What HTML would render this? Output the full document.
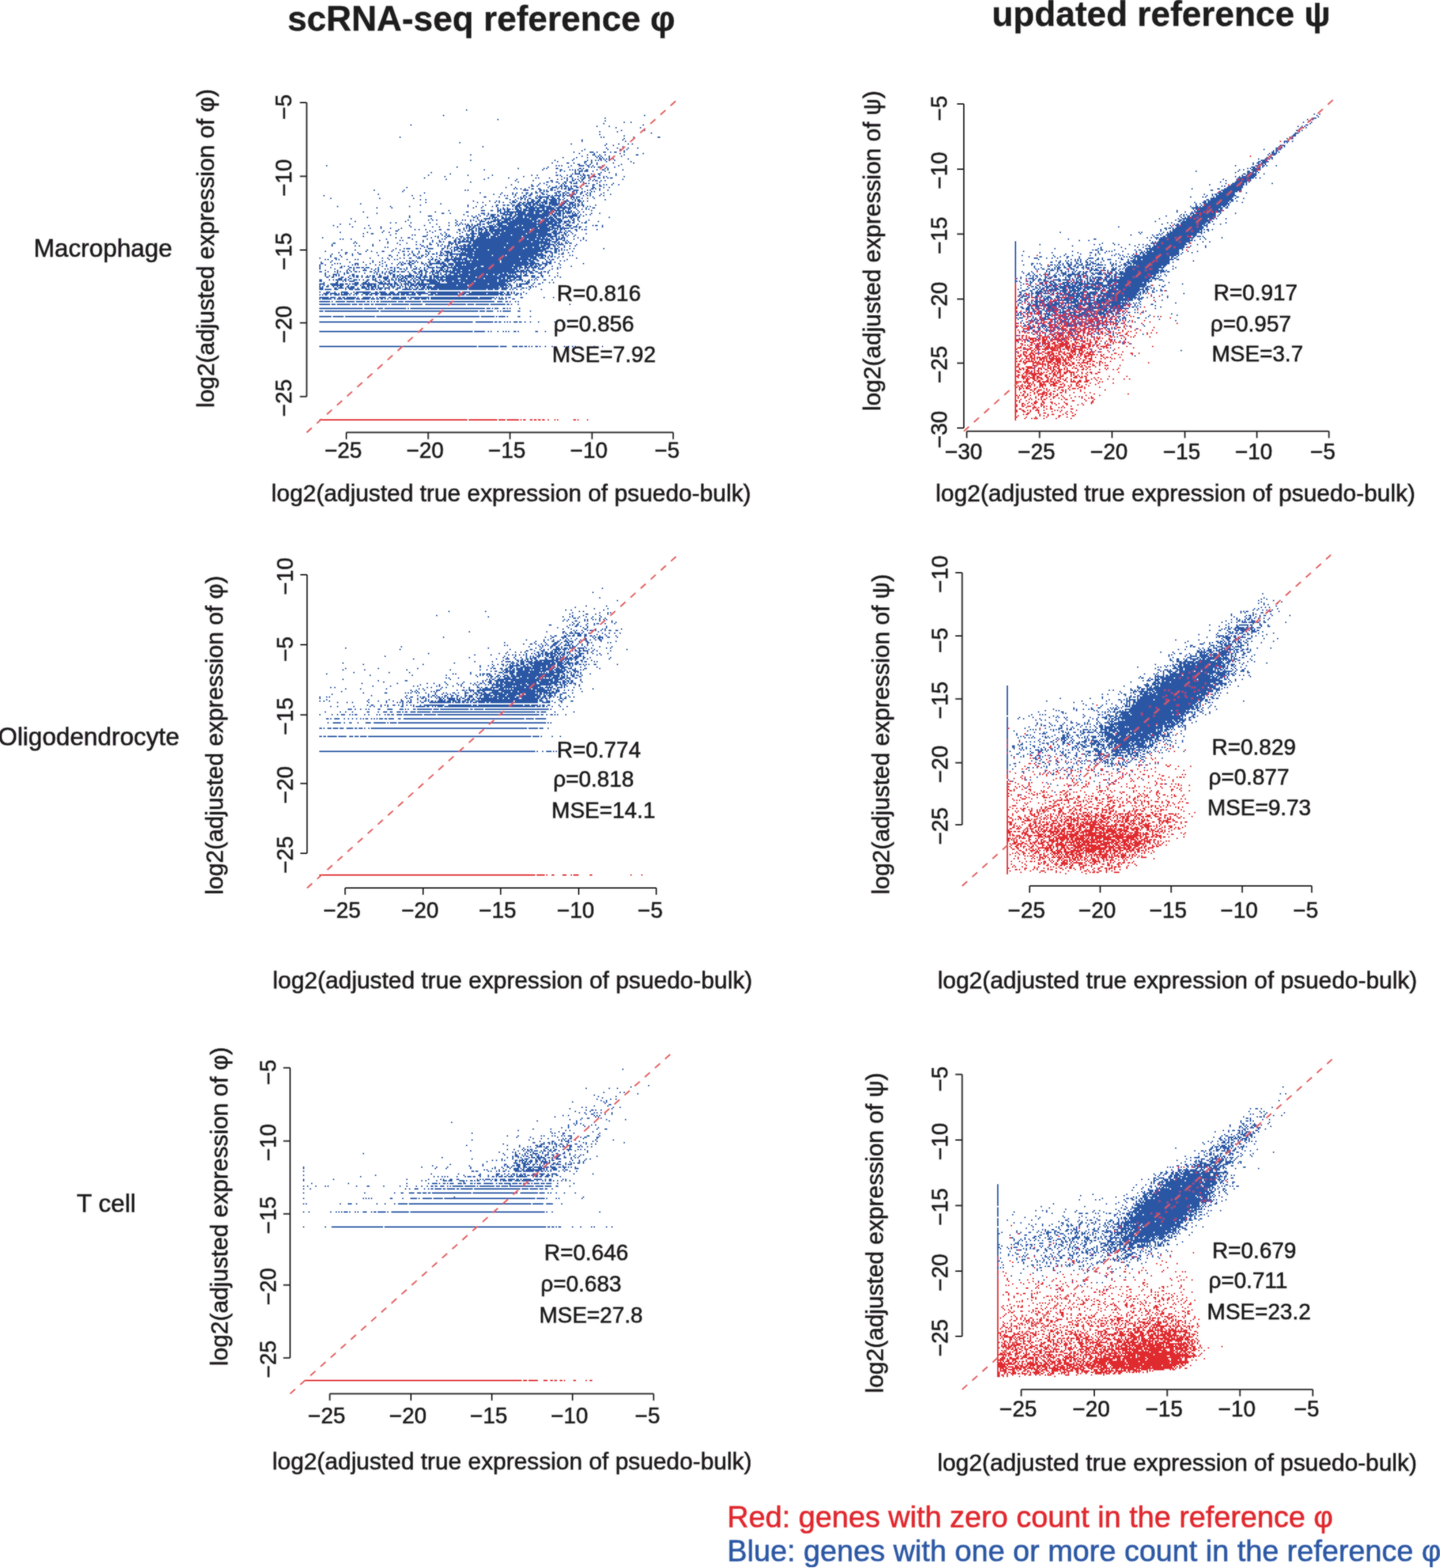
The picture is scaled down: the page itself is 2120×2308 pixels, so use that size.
<!DOCTYPE html><html><head><meta charset="utf-8"><title>figure</title><style>html,body{margin:0;padding:0;background:#fff;overflow:hidden}#w{width:2120px;height:2308px;}svg{display:block}</style></head><body><div id="w"><svg xmlns="http://www.w3.org/2000/svg" width="2120" height="2308" viewBox="0 0 2120 2308" font-family="Liberation Sans, Arial, sans-serif">
<defs><filter id="bl" x="0" y="0" width="1" height="1"><feGaussianBlur in="SourceGraphic" stdDeviation="0.8" result="b"/><feComposite in="SourceGraphic" in2="b" operator="arithmetic" k1="0" k2="0.45" k3="0.55" k4="0"/></filter></defs>
<rect width="2120" height="2308" fill="#fff"/>
<g filter="url(#bl)">
<path transform="scale(2)" d="M343 81h1m130 4h1m-149 0h1m118 2h1m-80 1h1m78 1h1m18 1h1m-6 0h1m-16 1h1m28 1h1m-172 0h1m136 1h1m8 0h1m22 1h1m-19 0h1m3 2h1m16 0h1m-21 1h1m-14 0h1m37 1h1m-39 1h1m17 1h1m25 1h1m-2 0h1m-19 0h1m-23 0h1m-3 0h1m-149 0h1m164 1h1m-2 1h1m-31 0h1m-1 1h1m31 0h1m-123 1h1m81 1h1m25 0h1m8 0h1m6 0h1m2 0h1m-15 1h1m-7 0h1m-91 1h1m102 0h1m10 1h1m-8 0h1m-9 0h1m-9 0h1m-17 1h1m16 0h1m8 0h1m4 0h1m-3 1h1m-4 0h1m-29 0h1m-7 1h1m11 0h1h1h1m2 0h1m4 0h1h1m3 0h1m2 0h1h1m5 0h1m13 1h1m-18 0h1m-20 0h1m-12 0h1m-81 1h1m85 0h1m3 0h1h1m3 0h1m3 0h1m13 0h1m8 0h1h1m-13 1h1m-10 0h1m-7 0h1m-3 0h1m-3 0h1m-11 0h1m-15 1h1m9 0h1m7 0h1m6 0h1m1 0h1m1 0h1m4 0h1m13 1h1m-12 0h1m-4 0h1m-3 0h1m-3 0h1m-3 0h1m-2 0h1m-20 0h1m-77 1h1m61 0h1m12 0h1m10 0h1m2 0h1m2 0h1m1 0h1m1 0h1m2 0h1m2 0h1m3 0h1m11 1h1m-19 0h1m-12 0h1m-5 0h1m-2 0h1m-21 0h1m-5 1h1m10 0h1h1m3 0h1m7 0h1m4 0h1m3 0h1m11 0h1m14 0h1m-10 1h1m-19 0h1m-6 0h1m-4 0h1m-6 0h1m-2 0h1m-186 1h1m168 0h1m1 0h1m1 0h1m6 0h1m5 0h1h1h1h1m2 0h1h1m2 0h1m6 0h1m11 0h1m-4 1h1m-7 0h1m-5 0h1m-2 0h1m-2 0h1m-4 0h1m-3 0h1m-3 0h1m-16 0h1m-16 0h1m-68 0h1m44 1h1m18 0h1m1 0h1m6 0h1h1m15 0h1h1m1 0h1m15 0h1m1 0h1m10 1h1m-12 0h1m-4 0h1m-2 0h1m-5 0h1m-8 0h1m-2 0h1m-4 0h1m-4 0h1m-3 0h1m-3 0h1m-3 0h1m-7 0h1m-2 0h1m-14 0h1m-44 0h1m55 1h1m2 0h1m7 0h1m2 0h1h1h1m1 0h1h1h1m3 0h1m8 0h1m2 1h1m-7 0h1m-17 0h1m-4 0h1m-15 0h1m-93 0h1m13 1h1m89 0h1m1 0h1h1h1h1m2 0h1m5 0h1m4 0h1h1m11 0h1m-1 1h1m-13 0h1m-5 0h1m-5 0h1m-2 0h1m-3 0h1m-2 0h1m-3 0h1m-8 0h1m-4 0h1m-6 0h1m-3 0h1m-2 0h1m-15 0h1m-5 0h1m-30 0h1m-19 0h1m-30 0h1m11 1h1m57 0h1m27 0h1m5 0h1h1m4 0h1m2 0h1m1 0h1m2 0h1m1 0h1h1h1h1m5 0h1m1 0h1m12 0h1m-10 1h1m-2 0h1m-3 0h1m-4 0h1m-4 0h1m-2 0h1m-8 0h1m-4 0h1m-2 0h1m-3 0h1m-7 0h1m-5 0h1m-3 0h1m-12 0h1m-9 0h1m-3 0h1m-21 0h1m-16 0h1m-48 0h1m15 1h1m27 0h1m23 0h1m29 0h1m2 0h1m3 0h1m3 0h1m1 0h1m1 0h1m2 0h1h1m4 0h1m2 0h1m20 0h1m-14 1h1m-4 0h1m-4 0h1m-2 0h1m-3 0h1m-4 0h1m-6 0h1m-3 0h1m-5 0h1m-2 0h1m-5 0h1m-12 0h1m-2 0h1m-14 0h1m-14 0h1m-34 1h1m34 0h1m20 0h1h1m2 0h1m2 0h1h1m4 0h1h1m2 0h1h1m3 0h1m2 0h1m1 0h1m11 0h1m9 1h1m-13 0h1m-7 0h1m-3 0h1m-2 0h1m-2 0h1m-6 0h1m-2 0h1m-2 0h1m-3 0h1m-5 0h1m-3 0h1m-4 0h1m-12 0h1m-4 0h1m-22 1h1m14 0h1m4 0h1m5 0h1m10 0h1m1 0h1m13 0h1m6 0h1h1m3 0h1m2 0h1m1 0h1m3 0h1m4 0h1m-14 1h1m-2 0h1m-6 0h1m-5 0h1m-2 0h1m-8 0h1m-2 0h1m-2 0h1m-3 0h1m-4 0h1m-2 0h1m-2 0h1m-3 0h1m-2 0h1m-4 0h1m-6 0h1m-10 0h1m-4 0h1m-2 0h1m-93 1h1m72 0h1m6 0h1m9 0h1m13 0h1m2 0h1h1h1h1m1 0h1m1 0h1m2 0h1m1 0h1m1 0h1m3 0h1h1m1 0h1m8 0h1h1m6 0h1m3 0h1m-8 1h1m-4 0h1m-3 0h1m-2 0h1m-8 0h1m-8 0h1m-2 0h1m-2 0h1m-2 0h1m-3 0h1m-2 0h1m-3 0h1m-4 0h1m-5 0h1m-2 0h1m-9 0h1m-2 0h1m-5 0h1m-2 0h1m-6 0h1m-4 0h1m-4 0h1m-3 0h1m-104 1h1m21 0h1m44 0h1m1 0h1m40 0h1h1h1h1m8 0h1h1m1 0h1m1 0h1m2 0h1h1m1 0h1m9 0h1h1m2 0h1h1h1h1m6 0h1m1 0h1m6 0h1m5 0h1m-11 1h1m-3 0h1m-6 0h1m-3 0h1m-5 0h1m-3 0h1m-2 0h1m-6 0h1m-5 0h1m-2 0h1m-2 0h1m-8 0h1m-2 0h1m-3 0h1m-4 0h1m-4 0h1m-99 0h1m15 1h1m40 0h1m15 0h1m7 0h1m2 0h1m3 0h1m2 0h1h1m2 0h1m2 0h1h1m2 0h1h1m8 0h1h1m1 0h1m2 0h1h1m1 0h1h1m2 0h1h1m1 0h1m2 0h1h1m3 0h1m1 0h1m9 0h1m4 1h1m-8 0h1m-9 0h1m-4 0h1m-5 0h1m-5 0h1m-2 0h1m-2 0h1m-3 0h1m-4 0h1m-3 0h1m-3 0h1m-4 0h1m-8 0h1m-3 0h1m-2 0h1m-9 0h1m-2 0h1m-4 0h1m-9 0h1m-3 0h1m-10 0h1m-6 0h1m-86 0h1m-41 1h1m64 0h1m5 0h1m61 0h1m1 0h1m5 0h1m5 0h1h1m2 0h1h1m4 0h1m1 0h1m5 0h1h1m1 0h1m1 0h1h1h1h1h1m1 0h1h1m1 0h1h1h1h1h1m7 0h1m2 0h1m1 0h1m6 0h1m2 0h1m-9 1h1m-11 0h1m-2 0h1m-2 0h1m-3 0h1m-2 0h1m-2 0h1m-7 0h1m-4 0h1m-5 0h1m-2 0h1m-2 0h1m-3 0h1m-2 0h1m-2 0h1m-2 0h1m-2 0h1m-2 0h1m-2 0h1m-2 0h1m-3 0h1m-8 0h1m-3 0h1m-3 0h1m-6 0h1m-12 0h1m-11 0h1m-2 0h1m-114 1h1m35 0h1m24 0h1m67 0h1h1m7 0h1m1 0h1h1m1 0h1m2 0h1h1m3 0h1h1m1 0h1h1m3 0h1h1m2 0h1h1h1m1 0h1h1m3 0h1m4 0h1m1 0h1m1 0h1m3 0h1m3 0h1m4 0h1m7 1h1m-20 0h1m-2 0h1m-3 0h1m-3 0h1m-5 0h1m-4 0h1m-3 0h1m-2 0h1m-3 0h1m-2 0h1m-2 0h1m-2 0h1m-2 0h1m-2 0h1m-3 0h1m-3 0h1m-4 0h1m-2 0h1m-5 0h1m-2 0h1m-4 0h1m-3 0h1m-4 0h1m-5 0h1m-5 0h1m-63 0h1m-5 0h1m38 1h1m11 0h1m4 0h1m1 0h1m9 0h1h1m1 0h1m7 0h1m2 0h1h1h1m1 0h1h1h1m2 0h1h1h1m2 0h1h1h1h1h1m1 0h1m3 0h1h1h1h1m4 0h1m1 0h1h1h1m1 0h1m2 0h1m-5 1h1m-3 0h1m-5 0h1m-2 0h1m-2 0h1m-2 0h1m-4 0h1m-2 0h1m-2 0h1m-2 0h1m-3 0h1m-3 0h1m-2 0h1m-2 0h1m-2 0h1m-2 0h1m-2 0h1m-3 0h1m-2 0h1m-2 0h1m-2 0h1m-2 0h1m-3 0h1m-2 0h1m-2 0h1m-3 0h1m-2 0h1m-2 0h1m-2 0h1m-2 0h1m-3 0h1m-2 0h1m-3 0h1m-2 0h1m-4 0h1m-2 0h1m-2 0h1m-3 0h1m-6 0h1m-4 0h1m-4 0h1m-10 0h1m-5 0h1m-39 0h1m-49 1h1m58 0h1m51 0h1m4 0h1h1m1 0h1h1m1 0h1h1h1h1m1 0h1h1h1h1m1 0h1m1 0h1m1 0h1h1m1 0h1h1h1h1h1h1h1h1m1 0h1h1h1m1 0h1m1 0h1h1h1m1 0h1m1 0h1m2 0h1m9 1h1m-10 0h1m-2 0h1m-3 0h1m-2 0h1m-3 0h1m-2 0h1m-2 0h1m-3 0h1m-2 0h1m-5 0h1m-2 0h1m-2 0h1m-3 0h1m-2 0h1m-2 0h1m-2 0h1m-2 0h1m-3 0h1m-5 0h1m-2 0h1m-2 0h1m-2 0h1m-2 0h1m-2 0h1m-3 0h1m-2 0h1m-3 0h1m-2 0h1m-3 0h1m-2 0h1m-2 0h1m-3 0h1m-2 0h1m-2 0h1m-2 0h1m-3 0h1m-2 0h1m-4 0h1m-2 0h1m-3 0h1m-2 0h1m-5 0h1m-2 0h1m-9 0h1m-14 0h1m-36 0h1m-62 1h1m38 0h1m13 0h1m42 0h1m5 0h1m4 0h1m6 0h1m2 0h1m11 0h1m1 0h1h1h1h1m3 0h1h1h1m1 0h1h1h1m1 0h1m2 0h1h1h1h1h1h1h1h1h1m2 0h1m2 0h1h1h1m1 0h1h1m2 0h1m1 0h1m1 0h1m1 0h1m3 0h1m2 0h1m1 0h1m2 1h1m-2 0h1m-6 0h1m-9 0h1m-2 0h1m-3 0h1m-2 0h1m-2 0h1m-2 0h1m-2 0h1m-2 0h1m-2 0h1m-2 0h1m-2 0h1m-2 0h1m-2 0h1m-2 0h1m-3 0h1m-2 0h1m-2 0h1m-2 0h1m-2 0h1m-2 0h1m-3 0h1m-2 0h1m-2 0h1m-2 0h1m-2 0h1m-2 0h1m-2 0h1m-2 0h1m-2 0h1m-2 0h1m-2 0h1m-2 0h1m-2 0h1m-2 0h1m-5 0h1m-2 0h1m-3 0h1m-2 0h1m-7 0h1m-4 0h1m-5 0h1m-13 0h1m-7 0h1m-61 0h1m-12 0h1m88 1h1m1 0h1m1 0h1h1m1 0h1h1h1m1 0h1m1 0h1h1h1m1 0h1m1 0h1h1h1m1 0h1h1h1h1h1m1 0h1h1m2 0h1h1m1 0h1h1h1h1h1h1h1m1 0h1h1m2 0h1h1m2 0h1h1m4 0h1m3 0h1m2 0h1m1 0h1m1 1h1m-11 0h1m-6 0h1m-3 0h1m-3 0h1m-3 0h1m-2 0h1m-2 0h1m-2 0h1m-2 0h1m-2 0h1m-2 0h1m-2 0h1m-2 0h1m-2 0h1m-3 0h1m-2 0h1m-2 0h1m-2 0h1m-2 0h1m-2 0h1m-2 0h1m-2 0h1m-2 0h1m-2 0h1m-2 0h1m-2 0h1m-2 0h1m-2 0h1m-2 0h1m-2 0h1m-2 0h1m-2 0h1m-2 0h1m-3 0h1m-2 0h1m-2 0h1m-2 0h1m-7 0h1m-2 0h1m-3 0h1m-4 0h1m-2 0h1m-2 0h1m-5 0h1m-2 0h1m-6 0h1m-2 0h1m-2 0h1m-25 0h1m-64 1h1m41 0h1m10 0h1m22 0h1h1m21 0h1m1 0h1m2 0h1h1h1h1h1h1h1h1h1h1h1h1h1h1h1h1m2 0h1h1h1h1m1 0h1h1h1h1h1m1 0h1h1h1h1h1h1h1h1m1 0h1m1 0h1h1m1 0h1m1 0h1h1h1h1h1m1 0h1m3 0h1m2 0h1m11 1h1m-7 0h1m-11 0h1m-3 0h1m-3 0h1m-3 0h1m-2 0h1m-2 0h1m-3 0h1m-2 0h1m-3 0h1m-2 0h1m-2 0h1m-2 0h1m-2 0h1m-3 0h1m-2 0h1m-2 0h1m-2 0h1m-2 0h1m-2 0h1m-2 0h1m-2 0h1m-4 0h1m-2 0h1m-2 0h1m-3 0h1m-2 0h1m-2 0h1m-2 0h1m-2 0h1m-3 0h1m-2 0h1m-2 0h1m-2 0h1m-2 0h1m-2 0h1m-3 0h1m-3 0h1m-2 0h1m-2 0h1m-3 0h1m-3 0h1m-2 0h1m-2 0h1m-2 0h1m-10 0h1m-4 0h1m-2 0h1m-2 0h1m-24 0h1m-6 0h1m-2 0h1m-49 0h1m63 1h1m10 0h1m3 0h1m2 0h1m1 0h1h1h1h1m1 0h1m3 0h1h1h1h1h1h1h1m2 0h1h1h1h1h1h1h1h1h1h1h1h1h1h1h1h1h1h1h1h1h1h1h1h1h1h1m1 0h1h1h1m1 0h1h1h1m1 0h1m6 0h1h1h1h1m2 0h1m3 0h1m2 0h1m-6 1h1m-4 0h1m-3 0h1m-2 0h1m-2 0h1m-2 0h1m-2 0h1m-2 0h1m-2 0h1m-3 0h1m-3 0h1m-3 0h1m-2 0h1m-3 0h1m-2 0h1m-2 0h1m-3 0h1m-3 0h1m-2 0h1m-2 0h1m-2 0h1m-2 0h1m-2 0h1m-2 0h1m-2 0h1m-2 0h1m-2 0h1m-2 0h1m-2 0h1m-2 0h1m-2 0h1m-2 0h1m-2 0h1m-2 0h1m-2 0h1m-3 0h1m-2 0h1m-2 0h1m-2 0h1m-3 0h1m-2 0h1m-3 0h1m-2 0h1m-4 0h1m-4 0h1m-3 0h1m-2 0h1m-4 0h1m-2 0h1m-2 0h1m-4 0h1m-6 0h1m-4 0h1m-4 0h1m-4 0h1m-28 0h1m-2 0h1m-2 0h1m-15 0h1m-32 1h1m30 0h1m46 0h1h1m1 0h1m8 0h1m1 0h1h1h1h1m3 0h1h1m1 0h1m1 0h1h1m1 0h1h1m1 0h1h1h1h1h1m1 0h1h1m1 0h1h1h1h1h1h1h1h1h1h1h1h1m1 0h1m1 0h1h1h1m1 0h1h1m4 0h1h1h1h1m1 0h1h1h1m3 0h1h1m21 0h1m-24 1h1m-4 0h1m-3 0h1m-7 0h1m-3 0h1m-2 0h1m-2 0h1m-2 0h1m-3 0h1m-2 0h1m-2 0h1m-2 0h1m-2 0h1m-2 0h1m-2 0h1m-2 0h1m-2 0h1m-2 0h1m-4 0h1m-2 0h1m-2 0h1m-2 0h1m-2 0h1m-3 0h1m-2 0h1m-2 0h1m-2 0h1m-2 0h1m-2 0h1m-2 0h1m-2 0h1m-2 0h1m-2 0h1m-2 0h1m-3 0h1m-2 0h1m-2 0h1m-2 0h1m-2 0h1m-2 0h1m-2 0h1m-2 0h1m-2 0h1m-4 0h1m-3 0h1m-3 0h1m-3 0h1m-2 0h1m-2 0h1m-2 0h1m-2 0h1m-6 0h1m-35 0h1m-60 0h1m41 1h1m14 0h1m2 0h1m2 0h1m13 0h1m4 0h1m1 0h1m3 0h1m1 0h1m3 0h1m1 0h1m2 0h1m5 0h1h1h1h1h1h1m2 0h1h1h1h1h1m1 0h1h1h1h1h1h1h1h1h1h1h1h1h1h1h1h1h1h1m1 0h1h1m1 0h1h1h1h1h1m1 0h1h1h1h1m1 0h1h1h1h1m4 0h1m2 0h1h1m2 0h1m7 0h1m6 1h1m-10 0h1m-6 0h1m-5 0h1m-4 0h1m-2 0h1m-2 0h1m-2 0h1m-2 0h1m-3 0h1m-2 0h1m-2 0h1m-3 0h1m-2 0h1m-2 0h1m-2 0h1m-2 0h1m-2 0h1m-2 0h1m-2 0h1m-2 0h1m-2 0h1m-2 0h1m-2 0h1m-2 0h1m-2 0h1m-2 0h1m-2 0h1m-2 0h1m-3 0h1m-2 0h1m-2 0h1m-2 0h1m-2 0h1m-2 0h1m-2 0h1m-2 0h1m-2 0h1m-2 0h1m-2 0h1m-2 0h1m-2 0h1m-2 0h1m-2 0h1m-2 0h1m-2 0h1m-3 0h1m-2 0h1m-2 0h1m-2 0h1m-2 0h1m-3 0h1m-2 0h1m-3 0h1m-2 0h1m-2 0h1m-2 0h1m-3 0h1m-4 0h1m-2 0h1m-2 0h1m-2 0h1m-4 0h1m-5 0h1m-11 0h1m-39 0h1m-38 0h1m25 1h1m3 0h1m10 0h1m13 0h1m13 0h1m4 0h1m3 0h1m13 0h1m4 0h1h1h1h1m4 0h1h1h1h1h1h1h1h1h1h1h1h1h1h1h1h1h1h1h1h1h1h1h1h1h1h1h1h1h1m1 0h1h1h1h1h1h1m1 0h1h1h1h1m1 0h1h1h1h1h1m2 0h1h1m2 0h1m1 0h1h1m5 0h1m1 0h1h1m-7 1h1m-8 0h1m-2 0h1m-4 0h1m-4 0h1m-3 0h1m-2 0h1m-2 0h1m-2 0h1m-2 0h1m-2 0h1m-2 0h1m-2 0h1m-2 0h1m-2 0h1m-2 0h1m-2 0h1m-2 0h1m-2 0h1m-2 0h1m-2 0h1m-2 0h1m-2 0h1m-2 0h1m-2 0h1m-2 0h1m-2 0h1m-2 0h1m-2 0h1m-2 0h1m-2 0h1m-2 0h1m-2 0h1m-2 0h1m-2 0h1m-2 0h1m-2 0h1m-2 0h1m-2 0h1m-2 0h1m-2 0h1m-2 0h1m-5 0h1m-2 0h1m-2 0h1m-2 0h1m-2 0h1m-3 0h1m-5 0h1m-4 0h1m-2 0h1m-3 0h1m-2 0h1m-2 0h1m-5 0h1m-4 0h1m-3 0h1m-3 0h1m-3 0h1m-3 0h1m-16 0h1m-65 0h1m-8 0h1m-6 1h1m25 0h1m29 0h1m10 0h1m17 0h1m4 0h1m1 0h1m5 0h1h1h1m1 0h1m1 0h1h1h1m1 0h1m6 0h1h1h1m1 0h1m1 0h1h1h1h1h1h1h1m1 0h1h1h1h1h1h1h1m1 0h1h1m1 0h1h1h1h1h1h1h1h1h1h1m1 0h1h1h1h1h1h1h1h1m2 0h1h1h1h1h1h1h1m3 0h1h1h1h1h1m3 0h1m11 0h1m1 0h1h1m3 0h1m-1 1h1m-13 0h1m-5 0h1m-2 0h1m-3 0h1m-2 0h1m-2 0h1m-4 0h1m-6 0h1m-3 0h1m-2 0h1m-2 0h1m-4 0h1m-2 0h1m-2 0h1m-2 0h1m-3 0h1m-2 0h1m-2 0h1m-2 0h1m-2 0h1m-2 0h1m-2 0h1m-2 0h1m-2 0h1m-2 0h1m-2 0h1m-2 0h1m-2 0h1m-2 0h1m-2 0h1m-2 0h1m-2 0h1m-2 0h1m-2 0h1m-2 0h1m-2 0h1m-2 0h1m-2 0h1m-3 0h1m-2 0h1m-2 0h1m-2 0h1m-2 0h1m-2 0h1m-2 0h1m-2 0h1m-2 0h1m-2 0h1m-2 0h1m-2 0h1m-3 0h1m-2 0h1m-2 0h1m-2 0h1m-2 0h1m-2 0h1m-2 0h1m-2 0h1m-3 0h1m-2 0h1m-4 0h1m-4 0h1m-2 0h1m-3 0h1m-2 0h1m-3 0h1m-21 0h1m-6 0h1m-17 0h1m-23 0h1m-22 0h1m-12 0h1m19 1h1m3 0h1m7 0h1m6 0h1m7 0h1m45 0h1m1 0h1m1 0h1m1 0h1h1m1 0h1m1 0h1h1h1m1 0h1h1m2 0h1h1h1h1m2 0h1h1m1 0h1h1h1h1h1h1h1h1h1h1h1h1h1h1h1h1h1h1h1h1h1h1h1h1h1h1h1m1 0h1h1h1h1h1h1h1h1m1 0h1h1h1h1h1m1 0h1h1h1h1h1h1h1m1 0h1h1m4 0h1m12 1h1m-9 0h1m-2 0h1m-3 0h1m-5 0h1m-2 0h1m-9 0h1m-3 0h1m-2 0h1m-3 0h1m-3 0h1m-3 0h1m-2 0h1m-2 0h1m-2 0h1m-2 0h1m-2 0h1m-2 0h1m-2 0h1m-2 0h1m-2 0h1m-2 0h1m-2 0h1m-2 0h1m-2 0h1m-2 0h1m-2 0h1m-3 0h1m-2 0h1m-2 0h1m-2 0h1m-3 0h1m-2 0h1m-2 0h1m-2 0h1m-2 0h1m-2 0h1m-2 0h1m-2 0h1m-2 0h1m-2 0h1m-2 0h1m-2 0h1m-2 0h1m-2 0h1m-2 0h1m-2 0h1m-2 0h1m-2 0h1m-2 0h1m-2 0h1m-2 0h1m-2 0h1m-2 0h1m-2 0h1m-2 0h1m-3 0h1m-2 0h1m-3 0h1m-2 0h1m-2 0h1m-2 0h1m-3 0h1m-4 0h1m-2 0h1m-2 0h1m-5 0h1m-4 0h1m-2 0h1m-8 0h1m-2 0h1m-6 0h1m-2 0h1m-11 0h1m-6 0h1m-4 0h1m-13 0h1m-12 1h1m8 0h1h1m23 0h1m3 0h1m17 0h1m3 0h1m1 0h1h1m1 0h1h1m1 0h1m1 0h1m1 0h1m2 0h1h1m1 0h1h1h1h1h1h1h1h1h1h1h1m1 0h1h1h1h1h1h1h1h1h1h1h1h1h1h1h1h1h1h1h1h1h1h1h1h1h1h1h1h1h1h1h1h1h1m2 0h1h1h1m2 0h1m3 0h1m1 0h1h1m4 0h1m-5 1h1m-4 0h1m-3 0h1m-3 0h1m-2 0h1m-2 0h1m-3 0h1m-2 0h1m-2 0h1m-2 0h1m-5 0h1m-2 0h1m-2 0h1m-2 0h1m-2 0h1m-2 0h1m-2 0h1m-2 0h1m-2 0h1m-2 0h1m-2 0h1m-2 0h1m-2 0h1m-2 0h1m-2 0h1m-2 0h1m-2 0h1m-2 0h1m-2 0h1m-2 0h1m-2 0h1m-2 0h1m-2 0h1m-2 0h1m-2 0h1m-2 0h1m-2 0h1m-2 0h1m-2 0h1m-2 0h1m-2 0h1m-2 0h1m-2 0h1m-2 0h1m-3 0h1m-2 0h1m-2 0h1m-2 0h1m-3 0h1m-2 0h1m-3 0h1m-2 0h1m-2 0h1m-2 0h1m-3 0h1m-2 0h1m-2 0h1m-5 0h1m-2 0h1m-8 0h1m-5 0h1m-10 0h1m-10 0h1m-5 0h1m-29 0h1m-6 0h1m-12 0h1m-21 0h1m16 1h1m5 0h1h1m16 0h1m32 0h1m3 0h1m9 0h1m4 0h1m2 0h1h1h1h1h1m1 0h1h1h1h1h1h1h1h1h1m1 0h1h1h1h1h1h1h1h1h1h1h1h1h1h1h1h1h1h1h1h1h1h1h1h1h1m1 0h1h1h1h1h1h1h1m1 0h1h1h1h1h1h1h1h1h1h1m1 0h1h1h1h1h1m3 0h1h1m4 0h1m9 0h1m-9 1h1m-6 0h1m-3 0h1m-3 0h1m-2 0h1m-5 0h1m-2 0h1m-4 0h1m-2 0h1m-2 0h1m-2 0h1m-2 0h1m-2 0h1m-2 0h1m-2 0h1m-2 0h1m-2 0h1m-2 0h1m-2 0h1m-2 0h1m-2 0h1m-2 0h1m-2 0h1m-2 0h1m-2 0h1m-2 0h1m-2 0h1m-2 0h1m-2 0h1m-2 0h1m-2 0h1m-2 0h1m-2 0h1m-2 0h1m-2 0h1m-2 0h1m-3 0h1m-2 0h1m-2 0h1m-2 0h1m-2 0h1m-2 0h1m-2 0h1m-2 0h1m-3 0h1m-2 0h1m-2 0h1m-2 0h1m-4 0h1m-2 0h1m-2 0h1m-2 0h1m-2 0h1m-2 0h1m-2 0h1m-2 0h1m-2 0h1m-5 0h1m-2 0h1m-3 0h1m-2 0h1m-2 0h1m-14 0h1m-3 0h1m-4 0h1m-12 0h1m-10 0h1m-3 0h1m-17 0h1m-21 1h1m43 0h1h1h1m6 0h1m1 0h1m4 0h1m1 0h1h1h1m6 0h1h1h1m3 0h1m2 0h1h1h1m1 0h1m1 0h1h1h1h1h1h1h1m1 0h1h1h1h1m1 0h1h1h1h1h1h1h1h1h1h1h1h1h1h1h1h1h1h1m1 0h1h1h1h1h1h1h1h1h1h1m1 0h1h1h1h1h1h1m1 0h1h1h1h1h1h1h1m1 0h1m2 0h1m2 0h1m4 0h1m6 1h1m-5 0h1m-11 0h1m-2 0h1m-2 0h1m-3 0h1m-3 0h1m-4 0h1m-2 0h1m-4 0h1m-3 0h1m-2 0h1m-3 0h1m-2 0h1m-2 0h1m-2 0h1m-2 0h1m-2 0h1m-2 0h1m-2 0h1m-2 0h1m-2 0h1m-2 0h1m-2 0h1m-2 0h1m-2 0h1m-2 0h1m-2 0h1m-2 0h1m-2 0h1m-2 0h1m-2 0h1m-2 0h1m-2 0h1m-2 0h1m-2 0h1m-2 0h1m-2 0h1m-2 0h1m-2 0h1m-2 0h1m-2 0h1m-2 0h1m-2 0h1m-2 0h1m-2 0h1m-2 0h1m-2 0h1m-2 0h1m-3 0h1m-3 0h1m-2 0h1m-2 0h1m-2 0h1m-2 0h1m-2 0h1m-2 0h1m-4 0h1m-2 0h1m-2 0h1m-2 0h1m-2 0h1m-2 0h1m-3 0h1m-3 0h1m-4 0h1m-4 0h1m-6 0h1m-7 0h1m-6 0h1m-17 0h1m-2 0h1m-6 0h1m-5 0h1m-55 0h1m12 1h1m1 0h1m5 0h1m25 0h1m18 0h1m10 0h1m10 0h1m1 0h1m7 0h1m1 0h1h1m2 0h1h1m1 0h1m1 0h1h1h1m1 0h1h1h1h1h1h1h1h1h1h1h1h1h1h1h1h1h1h1h1h1h1h1h1h1h1h1h1h1h1h1h1h1h1h1h1h1h1h1m1 0h1h1h1h1h1m1 0h1h1h1h1h1h1h1h1h1h1m1 0h1h1m1 0h1h1h1h1h1m1 0h1m6 0h1m6 0h1m1 1h1m-5 0h1m-11 0h1m-3 0h1m-2 0h1m-5 0h1m-2 0h1m-5 0h1m-2 0h1m-2 0h1m-2 0h1m-2 0h1m-3 0h1m-2 0h1m-3 0h1m-2 0h1m-2 0h1m-2 0h1m-2 0h1m-2 0h1m-2 0h1m-2 0h1m-2 0h1m-2 0h1m-2 0h1m-2 0h1m-2 0h1m-2 0h1m-2 0h1m-2 0h1m-2 0h1m-2 0h1m-2 0h1m-2 0h1m-2 0h1m-2 0h1m-2 0h1m-2 0h1m-2 0h1m-2 0h1m-2 0h1m-2 0h1m-2 0h1m-2 0h1m-2 0h1m-2 0h1m-2 0h1m-2 0h1m-2 0h1m-2 0h1m-2 0h1m-2 0h1m-2 0h1m-2 0h1m-2 0h1m-2 0h1m-2 0h1m-2 0h1m-2 0h1m-2 0h1m-2 0h1m-2 0h1m-2 0h1m-2 0h1m-2 0h1m-3 0h1m-2 0h1m-3 0h1m-2 0h1m-3 0h1m-4 0h1m-2 0h1m-12 0h1m-6 0h1m-8 0h1m-16 0h1m-3 0h1m-16 0h1m-19 1h1m23 0h1m20 0h1m4 0h1m6 0h1m4 0h1h1m1 0h1m3 0h1h1m2 0h1h1m1 0h1h1h1h1h1h1h1h1h1h1m1 0h1h1h1h1h1h1h1h1h1h1h1h1h1h1h1h1h1h1h1h1h1h1h1h1h1h1h1h1h1h1h1h1h1h1h1h1h1h1h1h1h1h1h1m1 0h1h1h1h1h1h1h1h1h1h1h1m1 0h1m1 0h1h1h1h1m1 0h1m4 0h1m1 0h1m1 1h1m-2 0h1m-3 0h1m-2 0h1m-4 0h1m-3 0h1m-2 0h1m-3 0h1m-5 0h1m-2 0h1m-2 0h1m-2 0h1m-2 0h1m-2 0h1m-2 0h1m-2 0h1m-2 0h1m-2 0h1m-2 0h1m-2 0h1m-2 0h1m-2 0h1m-2 0h1m-2 0h1m-2 0h1m-2 0h1m-2 0h1m-2 0h1m-2 0h1m-2 0h1m-2 0h1m-2 0h1m-2 0h1m-2 0h1m-2 0h1m-2 0h1m-2 0h1m-2 0h1m-2 0h1m-3 0h1m-2 0h1m-2 0h1m-2 0h1m-2 0h1m-2 0h1m-2 0h1m-2 0h1m-2 0h1m-2 0h1m-2 0h1m-2 0h1m-2 0h1m-2 0h1m-2 0h1m-2 0h1m-2 0h1m-2 0h1m-2 0h1m-2 0h1m-2 0h1m-2 0h1m-2 0h1m-2 0h1m-2 0h1m-3 0h1m-2 0h1m-8 0h1m-2 0h1m-3 0h1m-3 0h1m-2 0h1m-2 0h1m-2 0h1m-10 0h1m-6 0h1m-18 0h1m-8 0h1m-8 0h1m-24 0h1m-3 0h1m-15 0h1m-2 0h1m-2 1h1m29 0h1m19 0h1m11 0h1m2 0h1m6 0h1h1m4 0h1m2 0h1m4 0h1m1 0h1m2 0h1h1m4 0h1h1m1 0h1h1m1 0h1h1h1h1h1h1h1h1h1h1h1h1h1h1h1h1h1h1h1h1h1h1h1h1h1h1h1h1h1h1h1h1h1h1h1h1h1h1h1h1h1h1h1h1h1h1h1h1h1h1m1 0h1m1 0h1h1h1h1h1h1h1h1m1 0h1m1 0h1h1h1h1m9 0h1m-2 1h1m-5 0h1m-5 0h1m-6 0h1m-3 0h1m-2 0h1m-4 0h1m-2 0h1m-3 0h1m-2 0h1m-2 0h1m-2 0h1m-3 0h1m-2 0h1m-2 0h1m-2 0h1m-2 0h1m-2 0h1m-2 0h1m-2 0h1m-2 0h1m-2 0h1m-2 0h1m-2 0h1m-2 0h1m-2 0h1m-2 0h1m-2 0h1m-2 0h1m-2 0h1m-2 0h1m-2 0h1m-2 0h1m-2 0h1m-2 0h1m-2 0h1m-2 0h1m-2 0h1m-2 0h1m-2 0h1m-2 0h1m-2 0h1m-2 0h1m-2 0h1m-2 0h1m-2 0h1m-2 0h1m-2 0h1m-2 0h1m-2 0h1m-2 0h1m-2 0h1m-2 0h1m-2 0h1m-2 0h1m-2 0h1m-2 0h1m-2 0h1m-2 0h1m-2 0h1m-2 0h1m-2 0h1m-2 0h1m-2 0h1m-2 0h1m-2 0h1m-2 0h1m-2 0h1m-2 0h1m-2 0h1m-2 0h1m-3 0h1m-7 0h1m-2 0h1m-3 0h1m-4 0h1m-3 0h1m-9 0h1m-4 0h1m-2 0h1m-37 0h1m-11 0h1m-4 0h1m-18 0h1m38 1h1m1 0h1m26 0h1m1 0h1m12 0h1m1 0h1m2 0h1m1 0h1h1h1h1m1 0h1m1 0h1h1m1 0h1h1h1m1 0h1h1h1m1 0h1h1h1h1h1h1h1h1h1h1h1h1h1h1h1h1h1h1h1m1 0h1h1h1h1h1h1h1h1h1h1h1h1h1h1h1m1 0h1h1h1h1m1 0h1h1h1h1h1h1h1h1m1 0h1h1h1m3 0h1m2 0h1m3 0h1m28 1h1m-23 0h1m-4 0h1m-7 0h1m-4 0h1m-2 0h1m-2 0h1m-3 0h1m-2 0h1m-3 0h1m-2 0h1m-2 0h1m-2 0h1m-2 0h1m-3 0h1m-2 0h1m-2 0h1m-2 0h1m-2 0h1m-2 0h1m-2 0h1m-2 0h1m-2 0h1m-2 0h1m-2 0h1m-2 0h1m-3 0h1m-2 0h1m-2 0h1m-2 0h1m-2 0h1m-2 0h1m-2 0h1m-2 0h1m-3 0h1m-2 0h1m-2 0h1m-2 0h1m-2 0h1m-2 0h1m-2 0h1m-2 0h1m-2 0h1m-2 0h1m-2 0h1m-2 0h1m-2 0h1m-2 0h1m-2 0h1m-2 0h1m-2 0h1m-2 0h1m-2 0h1m-2 0h1m-2 0h1m-2 0h1m-2 0h1m-2 0h1m-2 0h1m-2 0h1m-2 0h1m-2 0h1m-2 0h1m-2 0h1m-2 0h1m-2 0h1m-2 0h1m-2 0h1m-2 0h1m-2 0h1m-2 0h1m-2 0h1m-2 0h1m-2 0h1m-3 0h1m-4 0h1m-3 0h1m-4 0h1m-2 0h1m-8 0h1m-2 0h1m-2 0h1m-2 0h1m-7 0h1m-3 0h1m-2 0h1m-6 0h1m-2 0h1m-2 0h1m-3 0h1m-7 0h1m-41 1h1m9 0h1m8 0h1m18 0h1m4 0h1m18 0h1m11 0h1m6 0h1m1 0h1h1h1m2 0h1h1h1h1h1h1h1h1h1h1m1 0h1h1h1h1h1h1h1h1h1m1 0h1h1h1h1h1h1h1h1h1h1h1h1h1h1h1h1h1h1h1h1h1h1h1h1h1h1h1h1h1h1h1h1h1h1h1h1h1h1h1h1h1h1m6 0h1h1m1 0h1m1 0h1m1 0h1m1 0h1m3 1h1m-11 0h1m-3 0h1m-2 0h1m-4 0h1m-2 0h1m-2 0h1m-2 0h1m-2 0h1m-3 0h1m-2 0h1m-2 0h1m-2 0h1m-2 0h1m-2 0h1m-2 0h1m-2 0h1m-2 0h1m-2 0h1m-2 0h1m-2 0h1m-2 0h1m-2 0h1m-2 0h1m-2 0h1m-2 0h1m-2 0h1m-2 0h1m-2 0h1m-2 0h1m-2 0h1m-2 0h1m-2 0h1m-2 0h1m-2 0h1m-2 0h1m-2 0h1m-2 0h1m-2 0h1m-2 0h1m-2 0h1m-2 0h1m-2 0h1m-2 0h1m-2 0h1m-2 0h1m-2 0h1m-2 0h1m-2 0h1m-2 0h1m-2 0h1m-2 0h1m-2 0h1m-2 0h1m-2 0h1m-2 0h1m-2 0h1m-2 0h1m-2 0h1m-2 0h1m-2 0h1m-2 0h1m-2 0h1m-2 0h1m-2 0h1m-2 0h1m-2 0h1m-3 0h1m-3 0h1m-2 0h1m-4 0h1m-3 0h1m-3 0h1m-2 0h1m-2 0h1m-2 0h1m-4 0h1m-9 0h1m-3 0h1m-2 0h1m-6 0h1m-6 0h1m-4 0h1m-4 0h1m-2 0h1m-9 0h1m-7 0h1m-2 0h1m-9 0h1m-5 0h1m-31 0h1m9 1h1m4 0h1h1m7 0h1m13 0h1m15 0h1m9 0h1m4 0h1m6 0h1m5 0h1m2 0h1h1m2 0h1h1h1h1h1m6 0h1h1h1h1m1 0h1h1h1h1m1 0h1h1h1h1h1h1h1h1h1h1h1h1h1h1h1h1h1h1h1h1h1h1h1h1h1h1h1h1h1h1h1h1h1h1h1h1h1h1h1h1h1h1h1h1h1h1h1m2 0h1m2 0h1h1m2 0h1h1m1 0h1h1m4 0h1m3 0h1m-5 1h1m-2 0h1m-3 0h1m-6 0h1m-8 0h1m-2 0h1m-2 0h1m-2 0h1m-2 0h1m-2 0h1m-2 0h1m-2 0h1m-2 0h1m-2 0h1m-2 0h1m-2 0h1m-2 0h1m-2 0h1m-2 0h1m-2 0h1m-2 0h1m-2 0h1m-2 0h1m-2 0h1m-2 0h1m-2 0h1m-2 0h1m-2 0h1m-2 0h1m-2 0h1m-2 0h1m-2 0h1m-2 0h1m-2 0h1m-2 0h1m-2 0h1m-2 0h1m-2 0h1m-2 0h1m-2 0h1m-2 0h1m-2 0h1m-2 0h1m-2 0h1m-2 0h1m-2 0h1m-2 0h1m-2 0h1m-2 0h1m-2 0h1m-2 0h1m-2 0h1m-2 0h1m-2 0h1m-2 0h1m-2 0h1m-2 0h1m-2 0h1m-2 0h1m-2 0h1m-2 0h1m-2 0h1m-2 0h1m-2 0h1m-2 0h1m-2 0h1m-2 0h1m-2 0h1m-2 0h1m-2 0h1m-2 0h1m-2 0h1m-2 0h1m-3 0h1m-4 0h1m-3 0h1m-4 0h1m-3 0h1m-2 0h1m-4 0h1m-3 0h1m-7 0h1m-4 0h1m-4 0h1m-5 0h1m-33 0h1m-2 0h1m-6 0h1m-6 0h1m-11 0h1m-2 1h1m6 0h1m8 0h1m18 0h1m7 0h1h1m4 0h1m4 0h1m2 0h1m3 0h1h1m4 0h1h1m2 0h1m8 0h1h1h1m1 0h1h1h1m1 0h1h1m3 0h1m1 0h1h1h1h1h1h1h1h1h1h1m1 0h1h1h1h1h1h1h1h1h1h1h1h1h1m1 0h1h1h1h1h1h1h1h1h1m1 0h1h1h1h1h1h1h1h1h1h1h1h1h1h1h1h1h1h1h1h1m1 0h1h1h1h1h1h1h1h1m2 0h1m1 0h1m12 0h1m1 0h1m-8 1h1m-4 0h1m-4 0h1m-3 0h1m-2 0h1m-3 0h1m-3 0h1m-3 0h1m-2 0h1m-3 0h1m-3 0h1m-2 0h1m-2 0h1m-2 0h1m-2 0h1m-2 0h1m-2 0h1m-2 0h1m-2 0h1m-2 0h1m-2 0h1m-2 0h1m-3 0h1m-2 0h1m-2 0h1m-2 0h1m-2 0h1m-2 0h1m-2 0h1m-2 0h1m-2 0h1m-2 0h1m-2 0h1m-2 0h1m-2 0h1m-2 0h1m-2 0h1m-2 0h1m-2 0h1m-2 0h1m-2 0h1m-2 0h1m-2 0h1m-2 0h1m-2 0h1m-2 0h1m-2 0h1m-2 0h1m-2 0h1m-2 0h1m-2 0h1m-2 0h1m-2 0h1m-2 0h1m-2 0h1m-2 0h1m-2 0h1m-2 0h1m-2 0h1m-2 0h1m-2 0h1m-5 0h1m-2 0h1m-4 0h1m-3 0h1m-2 0h1m-4 0h1m-9 0h1m-5 0h1m-5 0h1m-4 0h1m-3 0h1m-3 0h1m-19 0h1m-38 0h1m-9 0h1m-9 1h1m10 0h1h1m24 0h1m8 0h1m3 0h1m8 0h1m2 0h1m3 0h1h1m4 0h1h1h1m8 0h1m4 0h1m4 0h1h1m2 0h1m1 0h1h1h1h1h1h1m1 0h1h1h1m1 0h1h1h1h1h1h1h1h1h1h1h1h1h1h1h1h1h1h1h1h1h1h1h1h1h1h1h1h1h1h1h1h1h1h1h1h1h1h1h1h1h1h1h1h1m1 0h1h1h1h1h1m2 0h1h1h1h1m2 0h1m6 0h1m13 0h1m-8 1h1m-11 0h1m-2 0h1m-3 0h1m-4 0h1m-7 0h1m-2 0h1m-2 0h1m-2 0h1m-3 0h1m-2 0h1m-2 0h1m-2 0h1m-2 0h1m-2 0h1m-2 0h1m-2 0h1m-2 0h1m-2 0h1m-2 0h1m-2 0h1m-2 0h1m-2 0h1m-2 0h1m-2 0h1m-2 0h1m-2 0h1m-2 0h1m-2 0h1m-2 0h1m-2 0h1m-2 0h1m-2 0h1m-2 0h1m-2 0h1m-2 0h1m-2 0h1m-2 0h1m-2 0h1m-2 0h1m-2 0h1m-2 0h1m-2 0h1m-2 0h1m-2 0h1m-2 0h1m-2 0h1m-2 0h1m-3 0h1m-2 0h1m-2 0h1m-3 0h1m-4 0h1m-2 0h1m-2 0h1m-2 0h1m-2 0h1m-2 0h1m-2 0h1m-2 0h1m-2 0h1m-2 0h1m-2 0h1m-2 0h1m-2 0h1m-2 0h1m-2 0h1m-2 0h1m-2 0h1m-4 0h1m-4 0h1m-2 0h1m-3 0h1m-2 0h1m-3 0h1m-24 0h1m-3 0h1m-5 0h1m-24 0h1m-3 0h1m-7 0h1m-7 0h1m-3 0h1m-7 0h1m-3 0h1m4 1h1m29 0h1m6 0h1m17 0h1m1 0h1m1 0h1h1m1 0h1m9 0h1m3 0h1m1 0h1h1m3 0h1h1h1h1m2 0h1h1h1m1 0h1h1m1 0h1m1 0h1h1h1h1h1h1h1h1h1h1h1h1h1h1h1h1h1h1h1h1h1h1h1h1h1h1m1 0h1h1h1h1h1h1h1h1h1h1h1h1h1h1m1 0h1h1h1h1m1 0h1h1h1h1m2 0h1h1m5 0h1m2 0h1m6 0h1m2 0h1m-8 1h1m-4 0h1m-2 0h1m-2 0h1m-2 0h1m-4 0h1m-7 0h1m-2 0h1m-2 0h1m-2 0h1m-3 0h1m-2 0h1m-2 0h1m-2 0h1m-2 0h1m-2 0h1m-2 0h1m-2 0h1m-2 0h1m-2 0h1m-2 0h1m-2 0h1m-2 0h1m-2 0h1m-2 0h1m-2 0h1m-2 0h1m-2 0h1m-2 0h1m-2 0h1m-3 0h1m-2 0h1m-2 0h1m-2 0h1m-2 0h1m-2 0h1m-2 0h1m-2 0h1m-2 0h1m-2 0h1m-2 0h1m-2 0h1m-2 0h1m-2 0h1m-2 0h1m-2 0h1m-2 0h1m-2 0h1m-2 0h1m-2 0h1m-2 0h1m-3 0h1m-2 0h1m-2 0h1m-2 0h1m-2 0h1m-2 0h1m-2 0h1m-2 0h1m-2 0h1m-2 0h1m-2 0h1m-2 0h1m-6 0h1m-4 0h1m-2 0h1m-3 0h1m-2 0h1m-2 0h1m-6 0h1m-2 0h1m-6 0h1m-4 0h1m-3 0h1m-4 0h1m-2 0h1m-6 0h1m-3 0h1m-12 0h1m-5 0h1m-6 0h1m-8 0h1m-11 0h1m-15 0h1m-8 0h1m-1 1h1h1m8 0h1m1 0h1m1 0h1m10 0h1h1h1m8 0h1m8 0h1m6 0h1m4 0h1m1 0h1m1 0h1h1m1 0h1h1m1 0h1h1m5 0h1h1m1 0h1m2 0h1h1h1h1h1h1h1h1h1h1h1h1m2 0h1h1h1h1m1 0h1h1h1h1h1h1h1h1h1h1h1h1h1h1h1h1h1h1h1h1h1h1h1h1h1h1h1h1h1h1h1h1h1h1h1h1h1h1h1h1h1h1h1h1h1h1h1h1h1h1h1h1h1h1h1h1h1h1h1h1h1h1m2 0h1h1h1h1m1 0h1h1m5 0h1m17 0h1m-18 1h1m-11 0h1m-2 0h1m-4 0h1m-2 0h1m-2 0h1m-3 0h1m-3 0h1m-2 0h1m-2 0h1m-3 0h1m-2 0h1m-2 0h1m-2 0h1m-2 0h1m-2 0h1m-2 0h1m-2 0h1m-2 0h1m-2 0h1m-3 0h1m-2 0h1m-2 0h1m-2 0h1m-2 0h1m-2 0h1m-2 0h1m-2 0h1m-2 0h1m-2 0h1m-2 0h1m-2 0h1m-2 0h1m-2 0h1m-2 0h1m-2 0h1m-2 0h1m-2 0h1m-2 0h1m-2 0h1m-2 0h1m-2 0h1m-2 0h1m-2 0h1m-2 0h1m-2 0h1m-2 0h1m-2 0h1m-2 0h1m-2 0h1m-2 0h1m-2 0h1m-2 0h1m-2 0h1m-2 0h1m-3 0h1m-3 0h1m-2 0h1m-2 0h1m-2 0h1m-2 0h1m-3 0h1m-2 0h1m-2 0h1m-2 0h1m-3 0h1m-2 0h1m-2 0h1m-3 0h1m-8 0h1m-2 0h1m-3 0h1m-3 0h1m-11 0h1m-2 0h1m-6 0h1m-2 0h1m-4 0h1m-9 0h1m-6 0h1m-4 0h1m-8 0h1m-7 0h1m-3 0h1m-3 0h1m-16 0h1m-6 0h1m-5 0h1m-1 1h1m15 0h1m1 0h1m2 0h1m24 0h1m2 0h1m17 0h1m2 0h1m8 0h1h1m5 0h1m3 0h1h1h1h1h1m2 0h1m1 0h1h1h1h1h1h1h1h1h1h1h1h1h1h1h1h1h1h1h1h1m2 0h1h1h1h1h1h1h1h1h1h1h1h1h1h1h1h1h1h1h1h1h1h1h1h1h1h1h1h1m2 0h1h1m1 0h1h1h1m1 0h1h1h1m1 0h1m3 0h1m4 0h1m13 0h1m-9 1h1m-3 0h1m-11 0h1m-2 0h1m-4 0h1m-3 0h1m-2 0h1m-2 0h1m-2 0h1m-3 0h1m-2 0h1m-2 0h1m-2 0h1m-3 0h1m-2 0h1m-2 0h1m-3 0h1m-2 0h1m-2 0h1m-3 0h1m-2 0h1m-2 0h1m-2 0h1m-2 0h1m-2 0h1m-2 0h1m-2 0h1m-2 0h1m-2 0h1m-2 0h1m-2 0h1m-2 0h1m-2 0h1m-2 0h1m-2 0h1m-2 0h1m-2 0h1m-2 0h1m-2 0h1m-2 0h1m-2 0h1m-2 0h1m-2 0h1m-2 0h1m-2 0h1m-3 0h1m-2 0h1m-2 0h1m-2 0h1m-2 0h1m-2 0h1m-2 0h1m-2 0h1m-2 0h1m-2 0h1m-2 0h1m-2 0h1m-2 0h1m-3 0h1m-2 0h1m-2 0h1m-2 0h1m-2 0h1m-2 0h1m-2 0h1m-4 0h1m-2 0h1m-2 0h1m-2 0h1m-2 0h1m-2 0h1m-3 0h1m-2 0h1m-2 0h1m-2 0h1m-2 0h1m-4 0h1m-4 0h1m-4 0h1m-5 0h1m-4 0h1m-7 0h1m-2 0h1m-3 0h1m-3 0h1m-2 0h1m-10 0h1m-8 0h1m-2 0h1m-2 0h1m-3 0h1m-2 0h1m-3 0h1m-2 0h1m-2 0h1m-3 0h1m-3 0h1m-2 0h1m-7 0h1m-2 0h1m-8 0h1m-9 0h1m-1 1h1m10 0h1m9 0h1m3 0h1m7 0h1m4 0h1m2 0h1m1 0h1m4 0h1m1 0h1m4 0h1m3 0h1h1m1 0h1m1 0h1m4 0h1h1h1m1 0h1m3 0h1m1 0h1m3 0h1m5 0h1h1m1 0h1m1 0h1m3 0h1h1h1h1h1h1h1h1h1h1h1h1h1h1h1h1m1 0h1h1h1h1h1h1h1h1h1h1h1h1h1h1h1h1h1h1h1h1h1h1h1h1h1h1h1h1h1h1h1m1 0h1m3 0h1m1 0h1m3 0h1m3 0h1h1h1h1m6 0h1m3 0h1m-7 1h1m-12 0h1m-2 0h1m-4 0h1m-2 0h1m-2 0h1m-3 0h1m-2 0h1m-2 0h1m-3 0h1m-2 0h1m-3 0h1m-2 0h1m-2 0h1m-2 0h1m-2 0h1m-2 0h1m-2 0h1m-2 0h1m-2 0h1m-2 0h1m-2 0h1m-2 0h1m-2 0h1m-2 0h1m-2 0h1m-2 0h1m-2 0h1m-2 0h1m-2 0h1m-2 0h1m-2 0h1m-2 0h1m-2 0h1m-2 0h1m-2 0h1m-2 0h1m-2 0h1m-2 0h1m-2 0h1m-2 0h1m-2 0h1m-2 0h1m-2 0h1m-3 0h1m-2 0h1m-2 0h1m-2 0h1m-2 0h1m-3 0h1m-2 0h1m-2 0h1m-2 0h1m-2 0h1m-2 0h1m-3 0h1m-3 0h1m-2 0h1m-3 0h1m-2 0h1m-2 0h1m-2 0h1m-3 0h1m-3 0h1m-2 0h1m-6 0h1m-2 0h1m-3 0h1m-2 0h1m-7 0h1m-6 0h1m-9 0h1m-3 0h1m-2 0h1m-10 0h1m-4 0h1m-7 0h1m-2 0h1m-2 0h1m-8 0h1m-4 0h1m-3 0h1m-8 0h1m-10 0h1m-5 1h1h1m4 0h1m4 0h1m1 0h1m1 0h1m4 0h1m2 0h1m2 0h1h1m1 0h1m7 0h1h1m2 0h1m1 0h1m2 0h1m2 0h1m1 0h1m2 0h1h1m1 0h1h1m1 0h1h1h1m2 0h1m3 0h1h1m2 0h1h1h1m2 0h1h1m2 0h1h1h1m1 0h1h1h1m2 0h1h1h1h1h1h1h1h1h1m1 0h1h1h1h1h1h1h1h1h1h1h1h1h1h1h1h1h1h1h1h1h1h1h1h1h1h1h1h1h1h1h1h1h1h1h1h1h1h1h1h1h1h1h1h1h1h1h1h1h1h1h1h1m1 0h1h1h1m2 0h1h1m2 0h1m1 0h1h1m1 0h1m6 1h1m-8 0h1m-6 0h1m-2 0h1m-2 0h1m-5 0h1m-2 0h1m-2 0h1m-4 0h1m-3 0h1m-3 0h1m-5 0h1m-2 0h1m-2 0h1m-2 0h1m-2 0h1m-2 0h1m-3 0h1m-2 0h1m-3 0h1m-2 0h1m-2 0h1m-2 0h1m-2 0h1m-2 0h1m-2 0h1m-2 0h1m-2 0h1m-2 0h1m-2 0h1m-2 0h1m-2 0h1m-2 0h1m-2 0h1m-2 0h1m-2 0h1m-2 0h1m-2 0h1m-2 0h1m-2 0h1m-2 0h1m-2 0h1m-2 0h1m-2 0h1m-2 0h1m-2 0h1m-2 0h1m-2 0h1m-2 0h1m-3 0h1m-2 0h1m-2 0h1m-2 0h1m-2 0h1m-2 0h1m-2 0h1m-2 0h1m-4 0h1m-5 0h1m-3 0h1m-2 0h1m-2 0h1m-3 0h1m-3 0h1m-4 0h1m-4 0h1m-3 0h1m-3 0h1m-2 0h1m-5 0h1m-14 0h1m-2 0h1m-2 0h1m-4 0h1m-3 0h1m-5 0h1m-3 0h1m-8 0h1m-13 0h1m-2 0h1m-3 0h1m-6 0h1m-10 0h1m-1 1h1m5 0h1h1h1m1 0h1m3 0h1m5 0h1h1m16 0h1m1 0h1m3 0h1m3 0h1m1 0h1h1m3 0h1m6 0h1h1m4 0h1m1 0h1h1m2 0h1m4 0h1h1m2 0h1m1 0h1m2 0h1h1m1 0h1h1m2 0h1h1h1m1 0h1h1h1h1h1h1h1m1 0h1h1h1h1h1h1h1h1h1h1h1h1m1 0h1h1h1h1m1 0h1h1h1m1 0h1h1h1h1h1h1m1 0h1m1 0h1m1 0h1h1m2 0h1m2 0h1h1m10 0h1m11 1h1m-7 0h1m-6 0h1m-2 0h1m-6 0h1m-2 0h1m-2 0h1m-4 0h1m-2 0h1m-2 0h1m-2 0h1m-3 0h1m-2 0h1m-2 0h1m-2 0h1m-3 0h1m-2 0h1m-2 0h1m-2 0h1m-2 0h1m-2 0h1m-2 0h1m-2 0h1m-2 0h1m-2 0h1m-2 0h1m-2 0h1m-3 0h1m-2 0h1m-2 0h1m-2 0h1m-2 0h1m-2 0h1m-2 0h1m-2 0h1m-2 0h1m-2 0h1m-2 0h1m-2 0h1m-2 0h1m-2 0h1m-2 0h1m-2 0h1m-2 0h1m-2 0h1m-2 0h1m-2 0h1m-2 0h1m-2 0h1m-2 0h1m-2 0h1m-2 0h1m-2 0h1m-2 0h1m-2 0h1m-2 0h1m-2 0h1m-2 0h1m-2 0h1m-2 0h1m-2 0h1m-2 0h1m-2 0h1m-2 0h1m-2 0h1m-3 0h1m-2 0h1m-4 0h1m-2 0h1m-2 0h1m-2 0h1m-3 0h1m-2 0h1m-4 0h1m-2 0h1m-3 0h1m-2 0h1m-4 0h1m-3 0h1m-2 0h1m-2 0h1m-2 0h1m-2 0h1m-2 0h1m-2 0h1m-3 0h1m-2 0h1m-3 0h1m-2 0h1m-3 0h1m-2 0h1m-5 0h1m-6 0h1m-2 0h1m-5 0h1m-2 0h1m-3 0h1m-3 0h1m-5 0h1m-4 0h1m-2 0h1m-3 0h1m-2 0h1m-3 0h1m-9 0h1m-3 0h1m-3 0h1m-4 0h1m-4 0h1m0 1h1h1m2 0h1h1m5 0h1h1m3 0h1m3 0h1m1 0h1h1m2 0h1m2 0h1h1h1m2 0h1h1m2 0h1h1h1m1 0h1h1h1h1m3 0h1h1m1 0h1m1 0h1m1 0h1h1h1m1 0h1h1h1m1 0h1m1 0h1h1h1h1m1 0h1h1h1h1m1 0h1h1m1 0h1h1h1h1h1h1h1h1h1h1h1h1h1h1h1h1h1h1h1h1h1h1h1h1h1h1h1h1h1h1h1m1 0h1h1h1h1h1h1h1h1h1h1h1h1h1h1h1h1h1h1h1h1h1m1 0h1h1h1h1h1h1h1h1h1h1h1m7 0h1h1h1m1 0h1h1m2 0h1m8 0h1m3 0h1m-19 1h1m-12 0h1m-2 0h1m-4 0h1m-2 0h1m-4 0h1m-2 0h1m-2 0h1m-3 0h1m-2 0h1m-3 0h1m-2 0h1m-2 0h1m-2 0h1m-2 0h1m-2 0h1m-2 0h1m-2 0h1m-2 0h1m-2 0h1m-2 0h1m-2 0h1m-3 0h1m-2 0h1m-2 0h1m-2 0h1m-2 0h1m-2 0h1m-2 0h1m-2 0h1m-2 0h1m-2 0h1m-2 0h1m-2 0h1m-3 0h1m-2 0h1m-2 0h1m-2 0h1m-4 0h1m-2 0h1m-2 0h1m-2 0h1m-2 0h1m-2 0h1m-2 0h1m-2 0h1m-2 0h1m-4 0h1m-2 0h1m-3 0h1m-2 0h1m-3 0h1m-3 0h1m-2 0h1m-5 0h1m-4 0h1m-2 0h1m-4 0h1m-3 0h1m-5 0h1m-2 0h1m-3 0h1m-2 0h1m-3 0h1m-3 0h1m-4 0h1m-4 0h1m-2 0h1m-2 0h1m-2 0h1m-7 0h1m-3 0h1m-17 0h1m-2 0h1m-4 0h1m-4 0h1m-2 0h1m-2 0h1m-15 1h1h1m5 0h1m2 0h1m1 0h1h1h1h1h1m1 0h1h1m1 0h1m3 0h1h1h1m1 0h1m2 0h1m2 0h1h1m2 0h1h1h1m2 0h1m3 0h1h1m1 0h1m1 0h1h1m1 0h1m1 0h1h1h1m1 0h1m1 0h1m2 0h1m1 0h1m1 0h1h1m1 0h1h1h1h1h1h1h1h1h1h1h1h1m1 0h1h1h1h1h1h1h1h1h1h1h1h1h1h1h1h1h1h1h1h1h1h1h1h1h1h1h1h1h1h1h1h1h1h1h1h1h1h1h1h1h1h1h1h1m1 0h1h1h1h1h1h1h1m1 0h1h1h1h1m1 0h1h1h1h1h1m4 0h1m1 0h1m1 0h1m1 0h1m4 0h1h1m4 0h1m-18 1h1m-2 0h1m-3 0h1m-3 0h1m-6 0h1m-4 0h1m-2 0h1m-2 0h1m-2 0h1m-2 0h1m-2 0h1m-2 0h1m-2 0h1m-2 0h1m-2 0h1m-3 0h1m-2 0h1m-2 0h1m-2 0h1m-2 0h1m-2 0h1m-2 0h1m-2 0h1m-2 0h1m-2 0h1m-2 0h1m-2 0h1m-2 0h1m-2 0h1m-2 0h1m-2 0h1m-3 0h1m-2 0h1m-2 0h1m-2 0h1m-2 0h1m-2 0h1m-2 0h1m-2 0h1m-2 0h1m-2 0h1m-3 0h1m-2 0h1m-2 0h1m-2 0h1m-3 0h1m-2 0h1m-2 0h1m-2 0h1m-2 0h1m-3 0h1m-2 0h1m-3 0h1m-3 0h1m-2 0h1m-2 0h1m-2 0h1m-2 0h1m-2 0h1m-2 0h1m-2 0h1m-4 0h1m-2 0h1m-3 0h1m-4 0h1m-2 0h1m-4 0h1m-2 0h1m-3 0h1m-2 0h1m-2 0h1m-2 0h1m-3 0h1m-4 0h1m-5 0h1m-2 0h1m-4 0h1m-3 0h1m-4 0h1m-2 0h1m-7 0h1m-2 0h1m-10 0h1m-2 0h1m-2 0h1m-2 0h1m-4 0h1m-3 0h1m-5 0h1m-13 0h1m-2 0h1m2 1h1m8 0h1h1m12 0h1h1h1m3 0h1h1h1m1 0h1m6 0h1h1h1h1m1 0h1m2 0h1m3 0h1h1m2 0h1m3 0h1m1 0h1h1h1m2 0h1m1 0h1h1m1 0h1h1m4 0h1h1h1h1h1h1h1h1m5 0h1h1h1h1h1h1h1h1h1h1h1h1m1 0h1h1h1h1h1h1h1h1h1h1h1h1h1h1h1h1h1h1h1h1h1h1h1h1h1h1h1h1h1h1m1 0h1m4 0h1m8 0h1h1h1m3 0h1m5 0h1m4 0h1m2 0h1m-11 1h1m-2 0h1m-5 0h1m-5 0h1m-2 0h1m-2 0h1m-2 0h1m-2 0h1m-2 0h1m-2 0h1m-3 0h1m-6 0h1m-2 0h1m-3 0h1m-2 0h1m-2 0h1m-2 0h1m-2 0h1m-2 0h1m-2 0h1m-2 0h1m-2 0h1m-2 0h1m-2 0h1m-2 0h1m-2 0h1m-3 0h1m-2 0h1m-2 0h1m-2 0h1m-2 0h1m-2 0h1m-2 0h1m-2 0h1m-2 0h1m-2 0h1m-2 0h1m-2 0h1m-2 0h1m-2 0h1m-2 0h1m-2 0h1m-2 0h1m-2 0h1m-2 0h1m-2 0h1m-2 0h1m-2 0h1m-2 0h1m-2 0h1m-2 0h1m-2 0h1m-2 0h1m-2 0h1m-2 0h1m-2 0h1m-2 0h1m-2 0h1m-2 0h1m-2 0h1m-2 0h1m-2 0h1m-2 0h1m-2 0h1m-2 0h1m-2 0h1m-2 0h1m-2 0h1m-2 0h1m-2 0h1m-2 0h1m-2 0h1m-2 0h1m-2 0h1m-2 0h1m-2 0h1m-2 0h1m-2 0h1m-2 0h1m-3 0h1m-2 0h1m-2 0h1m-3 0h1m-2 0h1m-2 0h1m-2 0h1m-3 0h1m-4 0h1m-2 0h1m-2 0h1m-3 0h1m-2 0h1m-2 0h1m-2 0h1m-2 0h1m-2 0h1m-2 0h1m-2 0h1m-2 0h1m-2 0h1m-4 0h1m-2 0h1m-2 0h1m-2 0h1m-2 0h1m-2 0h1m-2 0h1m-2 0h1m-2 0h1m-2 0h1m-2 0h1m-4 0h1m-2 0h1m-2 0h1m-2 0h1m-2 0h1m-3 0h1m-3 0h1m-2 0h1m-3 0h1m-2 0h1m-2 0h1m-3 0h1m-2 0h1m-2 0h1m-2 0h1m-2 0h1m-2 0h1m-6 0h1m-2 0h1m-2 0h1m-2 0h1m-1 1h1m2 0h1m2 0h1m2 0h1h1h1h1h1h1h1h1h1m3 0h1m4 0h1h1m2 0h1m1 0h1m2 0h1h1h1h1m1 0h1h1m1 0h1m3 0h1m2 0h1m1 0h1h1m1 0h1m1 0h1h1m1 0h1m2 0h1m1 0h1m1 0h1h1h1h1h1m1 0h1h1h1h1h1h1m1 0h1m4 0h1h1h1h1h1h1h1h1h1h1h1h1h1h1h1h1m1 0h1h1h1h1h1h1h1m1 0h1h1h1h1h1h1h1h1h1h1h1h1h1h1h1h1h1h1h1h1h1h1h1h1h1h1h1h1h1m1 0h1h1m3 0h1m1 0h1h1m7 0h1m2 1h1m-3 0h1m-3 0h1m-2 0h1m-7 0h1m-2 0h1m-2 0h1m-2 0h1m-5 0h1m-3 0h1m-3 0h1m-3 0h1m-2 0h1m-2 0h1m-3 0h1m-2 0h1m-2 0h1m-2 0h1m-2 0h1m-2 0h1m-2 0h1m-2 0h1m-2 0h1m-2 0h1m-2 0h1m-2 0h1m-2 0h1m-2 0h1m-2 0h1m-2 0h1m-2 0h1m-2 0h1m-2 0h1m-2 0h1m-2 0h1m-2 0h1m-2 0h1m-2 0h1m-2 0h1m-2 0h1m-2 0h1m-2 0h1m-2 0h1m-2 0h1m-2 0h1m-2 0h1m-2 0h1m-2 0h1m-2 0h1m-2 0h1m-2 0h1m-2 0h1m-2 0h1m-2 0h1m-2 0h1m-2 0h1m-2 0h1m-2 0h1m-2 0h1m-2 0h1m-2 0h1m-2 0h1m-3 0h1m-2 0h1m-2 0h1m-2 0h1m-3 0h1m-2 0h1m-3 0h1m-3 0h1m-3 0h1m-4 0h1m-2 0h1m-4 0h1m-3 0h1m-3 0h1m-5 0h1m-2 0h1m-2 0h1m-3 0h1m-5 0h1m-5 0h1m-3 0h1m-2 0h1m-2 0h1m-2 0h1m-3 0h1m-2 0h1m-3 0h1m-2 0h1m-2 0h1m-7 0h1m-2 0h1m-2 0h1m-3 0h1m-2 0h1m-5 0h1m-2 0h1m-3 0h1m-4 0h1m-5 0h1m-2 0h1m-4 0h1m-3 0h1m-1 1h1h1h1m8 0h1h1m1 0h1h1h1h1m1 0h1m1 0h1h1h1h1h1m2 0h1m2 0h1h1h1h1m1 0h1m1 0h1h1m1 0h1m1 0h1h1h1h1m1 0h1h1h1h1m2 0h1m2 0h1h1h1m3 0h1h1m1 0h1m1 0h1m2 0h1h1m2 0h1h1h1m1 0h1h1h1h1h1h1h1h1h1h1h1h1h1h1h1h1h1h1h1h1h1h1h1h1h1h1h1h1h1h1h1h1h1h1h1h1h1h1h1h1h1h1h1h1h1h1h1h1h1h1h1h1h1h1m1 0h1h1h1h1h1m2 0h1m1 0h1h1m4 0h1h1m1 0h1m2 0h1m7 1h1m-10 0h1m-7 0h1m-4 0h1m-4 0h1m-3 0h1m-4 0h1m-2 0h1m-2 0h1m-2 0h1m-4 0h1m-2 0h1m-2 0h1m-3 0h1m-2 0h1m-2 0h1m-2 0h1m-3 0h1m-2 0h1m-2 0h1m-2 0h1m-2 0h1m-2 0h1m-2 0h1m-2 0h1m-2 0h1m-2 0h1m-2 0h1m-2 0h1m-2 0h1m-3 0h1m-2 0h1m-2 0h1m-2 0h1m-2 0h1m-2 0h1m-2 0h1m-2 0h1m-2 0h1m-2 0h1m-2 0h1m-2 0h1m-2 0h1m-2 0h1m-2 0h1m-2 0h1m-2 0h1m-2 0h1m-2 0h1m-2 0h1m-2 0h1m-3 0h1m-2 0h1m-2 0h1m-2 0h1m-2 0h1m-3 0h1m-3 0h1m-3 0h1m-2 0h1m-2 0h1m-2 0h1m-3 0h1m-2 0h1m-2 0h1m-3 0h1m-2 0h1m-2 0h1m-2 0h1m-2 0h1m-2 0h1m-2 0h1m-5 0h1m-2 0h1m-6 0h1m-4 0h1m-4 0h1m-2 0h1m-3 0h1m-3 0h1m-2 0h1m-2 0h1m-3 0h1m-2 0h1m-2 0h1m-6 0h1m-2 0h1m-2 0h1m-2 0h1m-3 0h1m-2 0h1m-2 0h1m-4 0h1m-7 0h1m-2 0h1m-2 0h1m-4 0h1m-2 0h1m-2 0h1m-2 0h1m-2 0h1m-3 0h1m-2 0h1m-2 0h1m-1 2h1m4 0h1h1h1m3 0h1m4 0h1h1h1h1h1m4 0h1m1 0h1h1h1h1h1h1h1h1h1h1h1m3 0h1h1m1 0h1h1h1h1h1m3 0h1h1h1m3 0h1h1h1h1h1h1h1h1h1h1h1h1m1 0h1h1h1h1h1h1h1m2 0h1h1h1h1h1h1h1h1h1h1h1h1h1h1h1h1h1h1h1h1h1h1h1h1m1 0h1h1h1h1h1h1m1 0h1h1h1h1h1h1h1h1h1h1h1h1h1h1h1h1h1h1h1h1m1 0h1h1h1m2 0h1h1m1 0h1m1 0h1m6 0h1m1 1h1m-5 0h1m-3 0h1m-2 0h1m-3 0h1m-3 0h1m-3 0h1m-2 0h1m-3 0h1m-3 0h1m-2 0h1m-2 0h1m-2 0h1m-2 0h1m-2 0h1m-2 0h1m-2 0h1m-2 0h1m-2 0h1m-2 0h1m-3 0h1m-2 0h1m-2 0h1m-2 0h1m-2 0h1m-2 0h1m-2 0h1m-2 0h1m-2 0h1m-2 0h1m-2 0h1m-2 0h1m-2 0h1m-4 0h1m-2 0h1m-2 0h1m-2 0h1m-2 0h1m-3 0h1m-2 0h1m-2 0h1m-2 0h1m-2 0h1m-2 0h1m-2 0h1m-2 0h1m-2 0h1m-2 0h1m-2 0h1m-2 0h1m-2 0h1m-2 0h1m-2 0h1m-3 0h1m-2 0h1m-2 0h1m-2 0h1m-4 0h1m-2 0h1m-2 0h1m-2 0h1m-2 0h1m-2 0h1m-2 0h1m-2 0h1m-3 0h1m-2 0h1m-2 0h1m-4 0h1m-2 0h1m-2 0h1m-2 0h1m-2 0h1m-2 0h1m-3 0h1m-2 0h1m-3 0h1m-2 0h1m-2 0h1m-2 0h1m-2 0h1m-3 0h1m-2 0h1m-2 0h1m-2 0h1m-2 0h1m-3 0h1m-2 0h1m-2 0h1m-2 0h1m-2 0h1m-2 0h1m-3 0h1m-2 0h1m-2 0h1m-2 0h1m-2 0h1m-5 0h1m-2 0h1m-2 0h1m-4 0h1m-3 0h1m-2 0h1m-2 0h1m-2 0h1m-3 0h1m-3 0h1m-3 0h1m-2 0h1m-2 0h1m-2 0h1m-2 0h1m-3 0h1m-2 0h1m-2 0h1m-2 0h1m-4 1h1m1 0h1m1 0h1h1m2 0h1m2 0h1h1h1h1m1 0h1h1h1h1h1m1 0h1m2 0h1m1 0h1m3 0h1m2 0h1h1m1 0h1h1m2 0h1h1m2 0h1h1h1h1h1h1h1h1m1 0h1h1h1h1h1m1 0h1h1h1m1 0h1h1h1h1h1h1h1m2 0h1h1m5 0h1h1h1h1m1 0h1h1h1h1h1h1h1h1h1h1h1h1h1h1h1h1h1h1h1h1h1h1m1 0h1h1h1h1h1h1h1h1h1h1h1h1h1h1h1h1h1h1h1h1h1h1h1h1m1 0h1h1h1m1 0h1h1h1h1m3 0h1h1m2 0h1m23 2h1m-8 0h1m-17 0h1m-2 0h1m-9 0h1m-2 0h1m-3 0h1m-4 0h1m-3 0h1m-3 0h1m-3 0h1m-2 0h1m-2 0h1m-2 0h1m-2 0h1m-2 0h1m-2 0h1m-2 0h1m-2 0h1m-2 0h1m-2 0h1m-3 0h1m-2 0h1m-2 0h1m-2 0h1m-2 0h1m-2 0h1m-2 0h1m-2 0h1m-2 0h1m-2 0h1m-2 0h1m-2 0h1m-2 0h1m-2 0h1m-2 0h1m-2 0h1m-2 0h1m-2 0h1m-2 0h1m-2 0h1m-2 0h1m-2 0h1m-2 0h1m-2 0h1m-2 0h1m-2 0h1m-2 0h1m-2 0h1m-2 0h1m-2 0h1m-2 0h1m-2 0h1m-2 0h1m-2 0h1m-2 0h1m-3 0h1m-2 0h1m-2 0h1m-2 0h1m-2 0h1m-2 0h1m-2 0h1m-2 0h1m-2 0h1m-2 0h1m-2 0h1m-2 0h1m-2 0h1m-2 0h1m-3 0h1m-3 0h1m-2 0h1m-2 0h1m-2 0h1m-3 0h1m-2 0h1m-2 0h1m-2 0h1m-2 0h1m-3 0h1m-2 0h1m-4 0h1m-2 0h1m-2 0h1m-2 0h1m-2 0h1m-3 0h1m-4 0h1m-3 0h1m-2 0h1m-2 0h1m-2 0h1m-2 0h1m-2 0h1m-5 0h1m-3 0h1m-2 0h1m-2 0h1m-2 0h1m-2 0h1m-2 0h1m-2 0h1m-3 0h1m-2 0h1m-3 0h1m-2 0h1m-4 0h1m-2 0h1m-2 0h1m-2 0h1m-3 0h1m-2 0h1m-2 0h1m-2 0h1m-2 0h1m-2 0h1m-2 0h1m-1 1h1m1 0h1h1h1h1h1h1h1m2 0h1m1 0h1h1h1h1m1 0h1h1h1h1h1h1h1h1m1 0h1h1h1m1 0h1h1h1h1h1h1m1 0h1h1h1m1 0h1h1m1 0h1h1m1 0h1m1 0h1m2 0h1h1h1h1h1h1h1h1h1h1h1m2 0h1h1m2 0h1h1h1h1m1 0h1h1h1h1m1 0h1m1 0h1h1h1h1h1h1h1h1h1h1h1h1h1h1h1h1h1h1h1h1h1h1h1h1h1h1h1h1h1h1h1h1h1h1h1h1h1h1h1h1h1h1h1h1h1m2 0h1m2 0h1h1h1h1m1 0h1m4 0h1h1m2 2h1m-3 0h1m-5 0h1m-3 0h1m-2 0h1m-4 0h1m-2 0h1m-2 0h1m-2 0h1m-4 0h1m-2 0h1m-2 0h1m-2 0h1m-2 0h1m-2 0h1m-2 0h1m-2 0h1m-2 0h1m-2 0h1m-2 0h1m-2 0h1m-2 0h1m-2 0h1m-2 0h1m-2 0h1m-2 0h1m-2 0h1m-2 0h1m-2 0h1m-2 0h1m-2 0h1m-2 0h1m-2 0h1m-2 0h1m-2 0h1m-2 0h1m-2 0h1m-2 0h1m-2 0h1m-2 0h1m-2 0h1m-2 0h1m-2 0h1m-2 0h1m-2 0h1m-2 0h1m-2 0h1m-2 0h1m-2 0h1m-2 0h1m-2 0h1m-2 0h1m-2 0h1m-2 0h1m-2 0h1m-2 0h1m-2 0h1m-2 0h1m-2 0h1m-2 0h1m-2 0h1m-2 0h1m-3 0h1m-2 0h1m-2 0h1m-2 0h1m-2 0h1m-2 0h1m-2 0h1m-2 0h1m-2 0h1m-2 0h1m-2 0h1m-2 0h1m-3 0h1m-2 0h1m-2 0h1m-2 0h1m-3 0h1m-2 0h1m-2 0h1m-2 0h1m-2 0h1m-2 0h1m-2 0h1m-2 0h1m-2 0h1m-2 0h1m-2 0h1m-2 0h1m-3 0h1m-2 0h1m-3 0h1m-3 0h1m-3 0h1m-2 0h1m-3 0h1m-2 0h1m-2 0h1m-2 0h1m-2 0h1m-2 0h1m-2 0h1m-3 0h1m-2 0h1m-2 0h1m-2 0h1m-2 0h1m-2 0h1m-3 0h1m-2 0h1m-2 0h1m-2 0h1m-2 0h1m-2 0h1m-2 0h1m-4 0h1m-3 0h1m-2 0h1m-2 0h1m-2 0h1m-2 0h1m-2 0h1m-2 0h1m-2 0h1m-1 2h1h1h1h1h1h1h1h1m1 0h1h1h1m1 0h1h1h1h1h1h1h1h1h1h1m1 0h1h1h1h1m1 0h1h1h1m1 0h1h1h1h1m1 0h1h1m1 0h1h1h1h1h1h1h1h1h1m1 0h1m1 0h1h1h1h1h1h1h1h1h1h1h1h1h1m1 0h1h1h1h1h1h1h1h1h1m2 0h1h1h1h1h1h1h1h1h1h1h1h1h1h1h1h1h1h1h1h1h1h1h1h1h1h1h1h1h1h1m1 0h1h1h1h1h1m1 0h1h1h1h1h1h1h1h1h1h1m1 0h1h1h1h1h1h1h1h1h1h1h1m1 0h1h1m1 0h1m4 0h1m37 0h1m-38 3h1m-8 0h1m-3 0h1m-3 0h1m-2 0h1m-5 0h1m-2 0h1m-2 0h1m-3 0h1m-3 0h1m-2 0h1m-2 0h1m-3 0h1m-2 0h1m-2 0h1m-2 0h1m-2 0h1m-2 0h1m-2 0h1m-2 0h1m-2 0h1m-2 0h1m-2 0h1m-2 0h1m-2 0h1m-2 0h1m-2 0h1m-2 0h1m-2 0h1m-2 0h1m-2 0h1m-2 0h1m-2 0h1m-2 0h1m-2 0h1m-2 0h1m-2 0h1m-2 0h1m-2 0h1m-2 0h1m-2 0h1m-2 0h1m-2 0h1m-2 0h1m-2 0h1m-2 0h1m-2 0h1m-2 0h1m-2 0h1m-2 0h1m-2 0h1m-2 0h1m-2 0h1m-2 0h1m-2 0h1m-2 0h1m-2 0h1m-2 0h1m-2 0h1m-2 0h1m-2 0h1m-2 0h1m-2 0h1m-2 0h1m-2 0h1m-2 0h1m-2 0h1m-3 0h1m-3 0h1m-2 0h1m-2 0h1m-2 0h1m-2 0h1m-2 0h1m-2 0h1m-2 0h1m-2 0h1m-2 0h1m-2 0h1m-2 0h1m-2 0h1m-2 0h1m-2 0h1m-2 0h1m-3 0h1m-2 0h1m-2 0h1m-2 0h1m-3 0h1m-2 0h1m-2 0h1m-2 0h1m-2 0h1m-2 0h1m-2 0h1m-2 0h1m-2 0h1m-3 0h1m-2 0h1m-2 0h1m-2 0h1m-2 0h1m-2 0h1m-2 0h1m-2 0h1m-2 0h1m-2 0h1m-2 0h1m-2 0h1m-2 0h1m-2 0h1m-2 0h1m-2 0h1m-2 0h1m-2 0h1m-2 0h1m-2 0h1m-2 0h1m-2 0h1m-2 0h1m-2 0h1m-2 0h1m-2 0h1m-2 0h1m-2 0h1m-2 0h1m-2 0h1m-2 0h1m-2 0h1m-1 2h1h1h1m1 0h1h1h1h1h1h1h1h1h1h1h1h1h1h1h1h1h1h1h1h1h1h1h1h1h1h1h1h1h1h1h1h1h1h1h1h1h1h1h1h1m1 0h1h1h1h1h1h1h1h1h1h1h1h1h1h1h1h1h1h1h1h1h1h1h1h1h1h1h1h1h1h1h1h1h1h1h1h1h1h1h1h1h1h1h1h1h1h1h1h1h1h1h1h1h1h1h1h1h1h1h1h1h1h1h1h1h1h1h1h1h1h1h1h1m1 0h1h1h1h1m1 0h1h1h1h1h1m3 0h1m1 0h1m1 0h1h1h1h1h1h1m5 0h1h1m7 0h1m-1 4h1m-9 0h1m-2 0h1m-9 0h1m-3 0h1m-2 0h1m-2 0h1m-2 0h1m-2 0h1m-3 0h1m-3 0h1m-2 0h1m-2 0h1m-2 0h1m-2 0h1m-2 0h1m-2 0h1m-2 0h1m-2 0h1m-2 0h1m-3 0h1m-2 0h1m-2 0h1m-2 0h1m-2 0h1m-2 0h1m-2 0h1m-2 0h1m-2 0h1m-2 0h1m-2 0h1m-2 0h1m-2 0h1m-2 0h1m-2 0h1m-2 0h1m-2 0h1m-2 0h1m-2 0h1m-2 0h1m-2 0h1m-2 0h1m-2 0h1m-2 0h1m-2 0h1m-2 0h1m-2 0h1m-2 0h1m-2 0h1m-2 0h1m-2 0h1m-2 0h1m-2 0h1m-2 0h1m-2 0h1m-2 0h1m-2 0h1m-2 0h1m-2 0h1m-2 0h1m-2 0h1m-2 0h1m-2 0h1m-2 0h1m-2 0h1m-2 0h1m-2 0h1m-2 0h1m-2 0h1m-2 0h1m-2 0h1m-2 0h1m-2 0h1m-2 0h1m-2 0h1m-2 0h1m-2 0h1m-2 0h1m-2 0h1m-2 0h1m-2 0h1m-2 0h1m-2 0h1m-2 0h1m-2 0h1m-2 0h1m-2 0h1m-2 0h1m-2 0h1m-2 0h1m-2 0h1m-2 0h1m-2 0h1m-2 0h1m-2 0h1m-2 0h1m-3 0h1m-2 0h1m-2 0h1m-2 0h1m-2 0h1m-2 0h1m-2 0h1m-2 0h1m-2 0h1m-2 0h1m-2 0h1m-2 0h1m-2 0h1m-2 0h1m-2 0h1m-2 0h1m-2 0h1m-2 0h1m-2 0h1m-2 0h1m-2 0h1m-2 0h1m-3 0h1m-2 0h1m-2 0h1m-2 0h1m-2 0h1m-2 0h1m-2 0h1m-2 0h1m-3 0h1m-2 0h1m-2 0h1m-2 0h1m-2 0h1m-2 0h1m-2 0h1m-2 0h1m-2 0h1m-1 4h1h1h1h1h1h1h1h1h1h1h1h1h1h1h1h1h1h1h1h1h1h1h1h1h1h1h1h1h1h1h1h1h1h1h1h1h1h1h1h1h1h1h1h1h1h1h1h1h1h1h1h1h1h1h1h1h1h1h1h1h1h1h1h1h1h1h1h1h1h1h1h1h1h1h1h1h1h1h1h1h1h1h1h1h1h1h1h1h1h1h1h1h1h1h1h1h1h1h1h1h1h1h1h1h1h1h1h1h1h1h1h1h1m2 0h1h1h1h1h1h1h1h1h1h1h1h1h1m1 0h1h1m1 0h1h1m2 0h1m1 0h1m1 0h1m2 0h1h1h1m1 0h1h1m2 0h1m3 0h1m5 0h1m11 0h1m9 0h1m8 0h1m-27 7h1m-7 0h1m-2 0h1m-14 0h1m-3 0h1m-2 0h1m-5 0h1m-3 0h1m-3 0h1m-5 0h1m-6 0h1m-3 0h1m-4 0h1m-2 0h1m-2 0h1m-2 0h1m-2 0h1m-2 0h1m-2 0h1m-2 0h1m-3 0h1m-2 0h1m-2 0h1m-2 0h1m-2 0h1m-2 0h1m-2 0h1m-2 0h1m-2 0h1m-2 0h1m-2 0h1m-2 0h1m-2 0h1m-2 0h1m-2 0h1m-2 0h1m-2 0h1m-2 0h1m-2 0h1m-2 0h1m-2 0h1m-2 0h1m-2 0h1m-2 0h1m-2 0h1m-2 0h1m-2 0h1m-2 0h1m-2 0h1m-2 0h1m-2 0h1m-2 0h1m-2 0h1m-2 0h1m-2 0h1m-2 0h1m-2 0h1m-2 0h1m-2 0h1m-2 0h1m-2 0h1m-2 0h1m-2 0h1m-2 0h1m-2 0h1m-2 0h1m-2 0h1m-2 0h1m-2 0h1m-2 0h1m-2 0h1m-2 0h1m-2 0h1m-2 0h1m-2 0h1m-2 0h1m-2 0h1m-2 0h1m-2 0h1m-2 0h1m-2 0h1m-2 0h1m-2 0h1m-2 0h1m-2 0h1m-2 0h1m-2 0h1m-2 0h1m-2 0h1m-2 0h1m-2 0h1m-2 0h1m-2 0h1m-2 0h1m-2 0h1m-2 0h1m-2 0h1m-2 0h1m-2 0h1m-2 0h1m-2 0h1m-2 0h1m-2 0h1m-2 0h1m-2 0h1m-2 0h1m-2 0h1m-2 0h1m-2 0h1m-2 0h1m-2 0h1m-2 0h1m-2 0h1m-2 0h1m-2 0h1m-2 0h1m-2 0h1m-2 0h1m-2 0h1m-2 0h1m-2 0h1m-2 0h1m-2 0h1m-2 0h1m-2 0h1m-2 0h1m-2 0h1m-2 0h1m-2 0h1m-2 0h1m-2 0h1m-2 0h1m-2 0h1m-1 11h1h1h1h1h1h1h1h1h1h1h1h1h1h1h1h1h1h1h1h1h1h1h1h1h1h1h1h1h1h1h1h1h1h1h1h1h1h1h1h1h1h1h1h1h1h1h1h1h1h1h1h1h1h1h1h1h1h1h1h1h1h1h1h1h1h1h1h1h1h1h1h1h1h1h1h1h1h1h1h1h1h1h1h1h1h1h1h1h1h1h1h1h1h1h1h1h1h1h1h1h1h1h1h1h1h1h1h1h1h1h1h1h1h1h1h1m1 0h1h1h1h1h1h1h1h1h1h1h1h1h1h1h1m1 0h1h1h1h1h1m4 0h1h1h1h1m1 0h1h1h1m1 0h1h1m1 0h1m1 0h1m2 0h1h1m1 0h1m3 0h1m4 0h1m8 0h1m2 0h1m2 0h1m1 0h1m13 0h1m5 0h1" stroke="#2a56a3" stroke-width="1" fill="none"/>
<path transform="scale(2)" d="M235 309h1h1h1h1h1h1h1h1h1h1h1h1h1h1h1h1h1h1h1h1h1h1h1h1h1h1h1h1h1h1h1h1h1h1h1h1h1h1h1h1h1h1h1h1h1h1h1h1h1h1h1h1h1h1h1h1h1h1h1h1h1h1h1h1h1h1h1h1h1h1h1h1h1h1h1h1h1h1h1h1h1h1h1h1h1h1h1h1h1h1h1h1h1h1h1h1h1h1h1h1h1h1h1h1h1h1h1h1h1m1 0h1h1h1h1h1h1h1h1h1h1h1h1h1h1h1h1h1h1h1h1h1m1 0h1h1h1h1h1m1 0h1h1h1h1h1h1h1h1h1m1 0h1m1 0h1h1m3 0h1h1m1 0h1h1m1 0h1h1m1 0h1h1m2 0h1m4 0h1m1 0h1m11 0h1h1m1 0h1m6 0h1" stroke="#df2a2e" stroke-width="1" fill="none"/>
<path transform="scale(2)" d="M967 84h1m3 0h1m-3 1h1m0 1h1m-3 1h1m-2 0h1m-2 0h1m-5 1h1m2 0h1h1m-3 1h1m-2 0h1m-5 1h1m5 0h1m-2 1h1m-4 1h1h1m-3 1h1m-3 0h1m-4 0h1m1 1h1h1m2 0h1m-6 1h1m-3 1h1h1h1m1 0h1m-3 1h1m-4 1h1h1h1m-3 1h1m-2 0h1m-2 1h1h1h1m-3 1h1m-2 0h1m-2 0h1m-3 1h1m1 0h1h1h1m-4 1h1m-4 1h1h1h1h1m2 0h1m-5 1h1m-3 0h1m-4 2h1h1h1h1m-1 1h1m-3 0h1m-2 0h1m-2 0h1m-3 1h1h1h1h1h1m-2 1h1m-2 0h1m-2 0h1m-2 0h1m-10 0h1m6 1h1m1 0h1h1m0 1h1m-3 0h1m-3 0h1m-2 0h1m-3 1h1m1 0h1h1h1h1m-2 1h1m-2 0h1m-2 0h1m-2 0h1m-3 0h1m0 1h1h1m0 1h1m-2 0h1m-3 0h1m-2 0h1m-7 1h1m4 0h1h1h1h1m1 0h1m-5 1h1m-2 0h1m-2 0h1m-2 0h1m-2 0h1m-3 1h1h1m1 0h1h1h1h1h1m-3 1h1m-2 0h1m-2 0h1m-2 0h1m-3 0h1m-2 0h1m-4 0h1m-1 1h1m3 0h1h1h1h1m1 0h1m7 1h1m-8 0h1m-3 0h1m-2 0h1m-3 0h1m-2 0h1m-2 0h1m-2 0h1m-16 0h1m11 1h1h1h1m1 0h1h1h1m1 0h1m-3 1h1m-2 0h1m-2 0h1m-2 0h1m-2 0h1m-2 0h1m-3 0h1m-3 0h1m-7 1h1m2 0h1m5 0h1h1h1h1h1m1 0h1m-3 1h1m-2 0h1m-2 0h1m-2 0h1m-4 0h1m-2 0h1m-8 0h1m-32 0h1m28 1h1m8 0h1h1h1h1h1m1 0h1m1 0h1m3 1h1m-7 0h1m-2 0h1m-2 0h1m-2 0h1m-2 0h1m-2 0h1m-2 0h1m-3 0h1m-2 0h1m-2 1h1m2 0h1h1h1h1h1h1h1h1m-2 1h1m-2 0h1m-2 0h1m-2 0h1m-2 0h1m-2 0h1m-2 0h1m-2 0h1m-2 0h1m-2 0h1m-3 0h1m-4 0h1m1 1h1h1h1h1h1h1h1h1h1h1h1h1m1 0h1m2 0h1m-8 1h1m-2 0h1m-2 0h1m-2 0h1m-2 0h1m-2 0h1m-2 0h1m-2 0h1m-2 0h1m-2 0h1m-2 0h1m-11 0h1m1 1h1m7 0h1h1h1h1h1h1h1h1h1m1 0h1m-2 1h1m-3 0h1m-2 0h1m-2 0h1m-2 0h1m-2 0h1m-2 0h1m-2 0h1m-2 0h1m-2 0h1m-12 0h1m3 1h1m4 0h1h1h1h1h1h1h1h1h1m1 0h1m18 0h1m-20 1h1m-3 0h1m-2 0h1m-2 0h1m-2 0h1m-2 0h1m-2 0h1m-2 0h1m-2 0h1m-2 0h1m-2 0h1m-17 0h1m8 1h1m1 0h1m2 0h1h1h1h1h1h1h1h1h1h1h1m-1 1h1m-2 0h1m-2 0h1m-2 0h1m-2 0h1m-2 0h1m-2 0h1m-2 0h1m-2 0h1m-2 0h1m-2 0h1m-2 0h1m-27 1h1m18 0h1h1m3 0h1h1h1h1h1h1h1h1h1h1h1h1h1m-1 1h1m-2 0h1m-2 0h1m-2 0h1m-2 0h1m-2 0h1m-2 0h1m-2 0h1m-2 0h1m-2 0h1m-2 0h1m-2 0h1m-2 0h1m-2 0h1m-2 0h1m-8 0h1m-2 0h1m5 1h1h1m1 0h1h1h1h1h1h1h1h1h1h1h1m1 0h1m4 1h1m-10 0h1m-2 0h1m-2 0h1m-2 0h1m-2 0h1m-2 0h1m-2 0h1m-2 0h1m-2 0h1m-2 0h1m-2 0h1m-2 0h1m-2 0h1m-11 1h1m5 0h1m1 0h1h1m1 0h1h1h1h1h1h1h1h1h1h1h1h1m0 1h1m-2 0h1m-2 0h1m-2 0h1m-2 0h1m-2 0h1m-2 0h1m-2 0h1m-2 0h1m-2 0h1m-2 0h1m-2 0h1m-2 0h1m-2 0h1m-2 0h1m-4 0h1m-5 0h1m-13 1h1m8 0h1m1 0h1m5 0h1m1 0h1h1h1h1h1h1h1h1h1h1h1h1h1m2 0h1h1m3 1h1m-7 0h1m-4 0h1m-2 0h1m-2 0h1m-2 0h1m-2 0h1m-2 0h1m-2 0h1m-2 0h1m-2 0h1m-2 0h1m-2 0h1m-2 0h1m-2 0h1m-2 0h1m-2 0h1m-2 0h1m-4 1h1h1m1 0h1h1h1h1h1h1h1h1h1h1h1h1h1h1h1h1h1m2 1h1m-4 0h1m-2 0h1m-3 0h1m-2 0h1m-2 0h1m-2 0h1m-2 0h1m-2 0h1m-2 0h1m-2 0h1m-2 0h1m-2 0h1m-2 0h1m-2 0h1m-2 0h1m-2 0h1m-2 0h1m-2 0h1m-3 0h1m-2 0h1m-8 1h1m5 0h1h1h1m1 0h1h1h1h1h1h1h1h1h1h1h1h1h1h1h1m1 0h1m8 0h1m-11 1h1m-2 0h1m-2 0h1m-2 0h1m-2 0h1m-2 0h1m-2 0h1m-2 0h1m-2 0h1m-2 0h1m-2 0h1m-2 0h1m-2 0h1m-2 0h1m-2 0h1m-2 0h1m-2 0h1m-2 0h1m-2 0h1m-4 0h1m-4 0h1m-1 1h1m3 0h1m1 0h1h1h1h1h1h1h1h1h1h1h1h1h1h1h1h1h1m1 0h1m-2 1h1m-3 0h1m-2 0h1m-3 0h1m-2 0h1m-2 0h1m-2 0h1m-2 0h1m-2 0h1m-2 0h1m-2 0h1m-2 0h1m-2 0h1m-2 0h1m-2 0h1m-2 0h1m-2 0h1m-3 0h1m-3 0h1m-2 0h1m-5 0h1m0 1h1h1h1h1h1h1h1h1h1h1h1h1h1h1h1h1h1h1h1h1h1h1h1m2 0h1h1m-5 1h1m-2 0h1m-3 0h1m-2 0h1m-2 0h1m-2 0h1m-2 0h1m-2 0h1m-2 0h1m-2 0h1m-2 0h1m-2 0h1m-2 0h1m-2 0h1m-2 0h1m-2 0h1m-3 0h1m-2 0h1m-3 0h1m-13 1h1m12 0h1m1 0h1h1h1h1h1h1h1h1h1h1h1h1h1h1h1h1h1h1m1 0h1m-3 1h1m-2 0h1m-2 0h1m-2 0h1m-2 0h1m-2 0h1m-2 0h1m-2 0h1m-2 0h1m-2 0h1m-2 0h1m-2 0h1m-2 0h1m-2 0h1m-2 0h1m-2 0h1m-2 0h1m-2 0h1m-2 0h1m-2 0h1m-3 0h1m-6 0h1m-7 0h1m9 1h1h1h1m1 0h1h1h1h1h1h1h1h1h1h1h1h1h1h1h1m3 0h1m10 0h1m-13 1h1m-4 0h1m-2 0h1m-2 0h1m-2 0h1m-2 0h1m-2 0h1m-2 0h1m-2 0h1m-2 0h1m-2 0h1m-2 0h1m-2 0h1m-2 0h1m-2 0h1m-2 0h1m-2 0h1m-2 0h1m-3 0h1m-4 0h1m-3 0h1m-3 0h1m-12 1h1m9 0h1m2 0h1m2 0h1h1m1 0h1h1h1h1h1h1h1h1h1h1h1h1h1h1h1h1h1h1m1 0h1m-3 1h1m-2 0h1m-2 0h1m-2 0h1m-2 0h1m-2 0h1m-2 0h1m-2 0h1m-2 0h1m-2 0h1m-2 0h1m-2 0h1m-2 0h1m-2 0h1m-2 0h1m-2 0h1m-2 0h1m-2 0h1m-2 0h1m-2 0h1m-2 0h1m-3 0h1m-4 0h1m-17 1h1m13 0h1m2 0h1h1h1h1h1h1h1h1h1h1h1h1h1h1h1h1h1h1h1m1 0h1h1h1h1m1 0h1m6 0h1m-12 1h1m-2 0h1m-2 0h1m-2 0h1m-2 0h1m-2 0h1m-2 0h1m-2 0h1m-2 0h1m-2 0h1m-2 0h1m-2 0h1m-2 0h1m-2 0h1m-2 0h1m-2 0h1m-2 0h1m-2 0h1m-2 0h1m-3 0h1m-3 0h1m-2 0h1m-4 0h1m-16 1h1m16 0h1h1m1 0h1h1h1h1h1h1h1h1h1h1h1h1h1h1h1h1h1h1h1h1h1m1 0h1m9 1h1m-13 0h1m-2 0h1m-3 0h1m-2 0h1m-2 0h1m-2 0h1m-2 0h1m-2 0h1m-2 0h1m-2 0h1m-2 0h1m-2 0h1m-2 0h1m-2 0h1m-2 0h1m-2 0h1m-2 0h1m-2 0h1m-2 0h1m-2 0h1m-2 0h1m-8 0h1m-4 0h1m-5 1h1m8 0h1m1 0h1h1m1 0h1h1h1h1h1h1h1h1h1h1h1h1h1h1h1h1h1h1m1 0h1m4 0h1m4 0h1m-11 1h1m-2 0h1m-2 0h1m-3 0h1m-2 0h1m-2 0h1m-2 0h1m-2 0h1m-2 0h1m-2 0h1m-2 0h1m-2 0h1m-2 0h1m-2 0h1m-2 0h1m-2 0h1m-2 0h1m-2 0h1m-2 0h1m-2 0h1m-2 0h1m-2 0h1m-2 0h1m-5 0h1m-39 1h1m38 0h1m3 0h1h1h1h1h1h1h1h1h1h1h1h1h1h1h1h1h1h1h1h1m2 0h1m-4 1h1m-2 0h1m-2 0h1m-2 0h1m-2 0h1m-2 0h1m-2 0h1m-2 0h1m-2 0h1m-2 0h1m-2 0h1m-2 0h1m-2 0h1m-2 0h1m-2 0h1m-2 0h1m-2 0h1m-2 0h1m-2 0h1m-2 0h1m-2 0h1m-3 0h1m-3 0h1m-2 0h1m-3 0h1m-2 0h1m-4 1h1m3 0h1m4 0h1h1h1h1h1h1h1h1h1h1h1h1h1h1h1h1h1h1h1h1h1h1m1 0h1m1 0h1h1m2 0h1m-4 1h1m-6 0h1m-3 0h1m-2 0h1m-2 0h1m-2 0h1m-2 0h1m-2 0h1m-2 0h1m-2 0h1m-2 0h1m-2 0h1m-2 0h1m-2 0h1m-2 0h1m-2 0h1m-2 0h1m-2 0h1m-2 0h1m-2 0h1m-2 0h1m-2 0h1m-3 0h1m-8 0h1m-75 1h1m57 0h1m1 0h1m15 0h1m2 0h1m1 0h1h1h1h1h1h1h1h1h1h1h1h1h1h1h1h1h1h1h1h1h1h1h1h1m1 0h1m-3 1h1m-5 0h1m-2 0h1m-2 0h1m-2 0h1m-2 0h1m-2 0h1m-2 0h1m-2 0h1m-2 0h1m-2 0h1m-2 0h1m-2 0h1m-2 0h1m-2 0h1m-2 0h1m-2 0h1m-2 0h1m-2 0h1m-2 0h1m-2 0h1m-2 0h1m-2 0h1m-5 0h1m-3 0h1m-15 0h1m-8 1h1m15 0h1m2 0h1h1m1 0h1m3 0h1h1h1h1h1h1h1h1h1h1h1h1h1h1h1h1h1h1h1h1h1h1h1m4 1h1m-3 0h1m-2 0h1m-2 0h1m-3 0h1m-2 0h1m-3 0h1m-2 0h1m-2 0h1m-2 0h1m-2 0h1m-2 0h1m-2 0h1m-2 0h1m-2 0h1m-2 0h1m-2 0h1m-2 0h1m-2 0h1m-2 0h1m-2 0h1m-2 0h1m-2 0h1m-2 0h1m-3 0h1m-2 0h1m-8 0h1m-6 1h1m2 0h1m2 0h1h1h1m1 0h1h1h1h1h1h1h1h1h1h1h1h1h1h1h1h1h1h1h1h1h1h1h1h1h1m7 0h1m12 0h1m-13 1h1m-5 0h1m-7 0h1m-3 0h1m-2 0h1m-2 0h1m-2 0h1m-2 0h1m-2 0h1m-2 0h1m-2 0h1m-2 0h1m-2 0h1m-2 0h1m-2 0h1m-2 0h1m-2 0h1m-2 0h1m-2 0h1m-2 0h1m-2 0h1m-2 0h1m-2 0h1m-2 0h1m-2 0h1m-2 0h1m-3 0h1m-46 0h1m-2 0h1m-20 0h1m7 1h1m6 0h1m44 0h1m6 0h1h1h1h1h1h1h1h1h1h1h1h1h1h1h1h1h1h1h1h1h1h1h1h1h1m1 0h1m10 1h1m-6 0h1m-11 0h1m-2 0h1m-2 0h1m-2 0h1m-2 0h1m-2 0h1m-2 0h1m-2 0h1m-2 0h1m-2 0h1m-2 0h1m-2 0h1m-2 0h1m-2 0h1m-2 0h1m-2 0h1m-2 0h1m-2 0h1m-2 0h1m-2 0h1m-2 0h1m-2 0h1m-2 0h1m-2 0h1m-3 0h1m-3 0h1m-102 0h1m-1 1h1m63 0h1m7 0h1m27 0h1h1h1m1 0h1h1h1h1h1h1h1h1h1h1h1h1h1h1h1h1h1h1h1h1h1h1m2 0h1h1m4 1h1m-9 0h1m-2 0h1m-2 0h1m-2 0h1m-2 0h1m-2 0h1m-2 0h1m-2 0h1m-2 0h1m-2 0h1m-2 0h1m-2 0h1m-2 0h1m-2 0h1m-2 0h1m-2 0h1m-2 0h1m-2 0h1m-2 0h1m-2 0h1m-2 0h1m-2 0h1m-2 0h1m-3 0h1m-6 0h1m-4 0h1m-4 0h1m-8 0h1m-9 0h1m-4 0h1m-12 0h1m-5 0h1m-41 0h1m-19 0h1m-1 1h1m41 0h1m45 0h1m7 0h1m1 0h1h1m2 0h1h1h1h1h1h1h1h1h1h1h1h1h1h1h1h1h1h1h1h1h1h1h1m4 0h1m10 0h1m-1 1h1m-13 0h1m-3 0h1m-3 0h1m-2 0h1m-2 0h1m-2 0h1m-2 0h1m-2 0h1m-2 0h1m-2 0h1m-2 0h1m-2 0h1m-2 0h1m-2 0h1m-2 0h1m-2 0h1m-2 0h1m-2 0h1m-2 0h1m-2 0h1m-2 0h1m-2 0h1m-2 0h1m-2 0h1m-2 0h1m-2 0h1m-3 0h1m-6 0h1m-5 0h1m-13 0h1m-16 0h1m-64 0h1m-1 1h1m28 0h1m31 0h1m1 0h1m17 0h1m14 0h1h1h1h1h1h1h1h1h1h1h1h1h1h1h1h1h1h1h1h1h1h1h1h1h1h1h1h1m-1 1h1m-4 0h1m-2 0h1m-2 0h1m-2 0h1m-2 0h1m-2 0h1m-2 0h1m-2 0h1m-2 0h1m-2 0h1m-2 0h1m-2 0h1m-2 0h1m-2 0h1m-2 0h1m-2 0h1m-2 0h1m-2 0h1m-2 0h1m-2 0h1m-2 0h1m-2 0h1m-3 0h1m-6 0h1m-2 0h1m-4 0h1m-16 0h1m-10 0h1m-2 0h1m-4 0h1m-2 0h1m-3 0h1m-58 0h1m-1 1h1m5 0h1m35 0h1m18 0h1m5 0h1m1 0h1m1 0h1m7 0h1m9 0h1m3 0h1m1 0h1m1 0h1h1h1h1m1 0h1h1h1h1h1h1h1h1h1h1h1h1h1h1h1h1h1h1h1m6 0h1m6 0h1m-5 1h1m-8 0h1m-4 0h1m-2 0h1m-2 0h1m-2 0h1m-2 0h1m-2 0h1m-2 0h1m-2 0h1m-2 0h1m-2 0h1m-2 0h1m-2 0h1m-2 0h1m-2 0h1m-2 0h1m-2 0h1m-2 0h1m-2 0h1m-2 0h1m-2 0h1m-2 0h1m-2 0h1m-2 0h1m-2 0h1m-2 0h1m-3 0h1m-2 0h1m-2 0h1m-4 0h1m-24 0h1m-6 0h1m-6 0h1m-2 0h1m-10 0h1m-20 0h1m-10 0h1m-19 0h1m-1 1h1m36 0h1m10 0h1m10 0h1m2 0h1m11 0h1m1 0h1m6 0h1m3 0h1m4 0h1m1 0h1h1m1 0h1h1h1h1h1h1h1h1h1h1h1h1h1h1h1h1h1h1h1h1h1h1h1h1m1 0h1m-3 1h1m-3 0h1m-2 0h1m-2 0h1m-2 0h1m-2 0h1m-2 0h1m-2 0h1m-2 0h1m-2 0h1m-2 0h1m-2 0h1m-2 0h1m-2 0h1m-2 0h1m-2 0h1m-2 0h1m-2 0h1m-2 0h1m-2 0h1m-2 0h1m-2 0h1m-2 0h1m-2 0h1m-2 0h1m-2 0h1m-4 0h1m-2 0h1m-2 0h1m-2 0h1m-3 0h1m-8 0h1m-3 0h1m-5 0h1m-3 0h1m-13 0h1m-5 0h1m-14 0h1m-7 0h1m-9 0h1m-24 0h1m-6 0h1m-1 1h1m9 0h1m7 0h1h1m9 0h1m3 0h1m4 0h1h1m7 0h1m32 0h1m1 0h1m1 0h1m2 0h1h1h1h1h1h1h1h1h1h1h1h1h1h1h1h1h1h1h1h1h1h1h1h1h1h1h1m1 0h1h1m2 0h1m-2 1h1m-2 0h1m-3 0h1m-3 0h1m-2 0h1m-2 0h1m-2 0h1m-2 0h1m-2 0h1m-2 0h1m-2 0h1m-2 0h1m-2 0h1m-2 0h1m-2 0h1m-2 0h1m-2 0h1m-2 0h1m-2 0h1m-2 0h1m-2 0h1m-2 0h1m-2 0h1m-2 0h1m-2 0h1m-2 0h1m-2 0h1m-3 0h1m-3 0h1m-2 0h1m-8 0h1m-3 0h1m-13 0h1m-4 0h1m-5 0h1m-2 0h1m-2 0h1m-2 0h1m-8 0h1m-10 0h1m-8 0h1m-5 0h1m-5 0h1m-8 0h1m-2 0h1m-2 0h1m-15 0h1m-1 1h1m16 0h1m23 0h1m2 0h1m1 0h1m1 0h1m4 0h1m6 0h1h1m2 0h1m3 0h1h1h1m7 0h1h1m3 0h1m3 0h1h1m1 0h1h1h1m1 0h1h1h1h1h1h1h1h1h1h1h1h1h1h1h1h1h1h1h1h1h1h1h1m2 0h1h1m10 1h1m-19 0h1m-2 0h1m-2 0h1m-2 0h1m-2 0h1m-2 0h1m-2 0h1m-2 0h1m-2 0h1m-2 0h1m-2 0h1m-2 0h1m-2 0h1m-2 0h1m-2 0h1m-2 0h1m-2 0h1m-2 0h1m-2 0h1m-2 0h1m-2 0h1m-2 0h1m-2 0h1m-2 0h1m-2 0h1m-2 0h1m-2 0h1m-2 0h1m-2 0h1m-3 0h1m-10 0h1m-10 0h1m-7 0h1m-5 0h1m-4 0h1m-5 0h1m-3 0h1m-3 0h1m-6 0h1m-3 0h1m-5 0h1m-4 0h1m-26 0h1m-6 0h1m-1 1h1m25 0h1h1m4 0h1h1m4 0h1m2 0h1m3 0h1m2 0h1m3 0h1h1m2 0h1h1m5 0h1m6 0h1m6 0h1m4 0h1h1h1m1 0h1h1h1h1h1h1h1h1h1h1h1h1h1h1h1h1h1h1h1h1h1h1h1h1h1h1h1h1m2 0h1m-4 1h1m-2 0h1m-2 0h1m-2 0h1m-2 0h1m-2 0h1m-2 0h1m-2 0h1m-2 0h1m-2 0h1m-2 0h1m-2 0h1m-2 0h1m-2 0h1m-2 0h1m-2 0h1m-2 0h1m-2 0h1m-2 0h1m-2 0h1m-2 0h1m-2 0h1m-2 0h1m-2 0h1m-2 0h1m-2 0h1m-2 0h1m-3 0h1m-2 0h1m-2 0h1m-3 0h1m-2 0h1m-7 0h1m-3 0h1m-3 0h1m-10 0h1m-3 0h1m-2 0h1m-2 0h1m-3 0h1m-3 0h1m-5 0h1m-4 0h1m-2 0h1m-5 0h1m-3 0h1m-2 0h1m-4 0h1m-4 0h1m-15 0h1m-3 0h1m-4 0h1m-2 0h1m-13 0h1m-1 1h1m5 0h1m5 0h1m6 0h1m6 0h1h1m1 0h1m1 0h1m1 0h1m1 0h1m3 0h1h1h1m2 0h1m2 0h1h1h1m2 0h1h1h1h1m4 0h1h1h1h1h1m1 0h1m4 0h1h1m1 0h1m3 0h1m1 0h1h1h1m2 0h1m1 0h1m1 0h1h1h1h1h1h1h1h1h1h1h1h1h1h1h1h1h1h1h1h1h1h1h1m4 1h1m-7 0h1m-2 0h1m-3 0h1m-2 0h1m-2 0h1m-2 0h1m-2 0h1m-2 0h1m-2 0h1m-2 0h1m-2 0h1m-2 0h1m-2 0h1m-2 0h1m-2 0h1m-2 0h1m-2 0h1m-2 0h1m-2 0h1m-2 0h1m-2 0h1m-2 0h1m-2 0h1m-2 0h1m-2 0h1m-2 0h1m-2 0h1m-3 0h1m-5 0h1m-2 0h1m-6 0h1m-13 0h1m-3 0h1m-6 0h1m-3 0h1m-5 0h1m-3 0h1m-2 0h1m-4 0h1m-2 0h1m-4 0h1m-5 0h1m-3 0h1m-6 0h1m-2 0h1m-11 0h1m-15 0h1m-1 1h1m13 0h1m4 0h1m9 0h1m1 0h1h1h1m2 0h1h1m2 0h1h1m3 0h1h1m2 0h1h1m1 0h1h1h1m1 0h1m4 0h1h1h1m1 0h1h1m5 0h1m1 0h1m5 0h1m1 0h1h1h1h1h1h1h1h1h1h1h1h1h1h1h1h1h1h1h1h1h1h1h1h1h1h1h1h1m8 0h1m-3 1h1m-9 0h1m-4 0h1m-2 0h1m-2 0h1m-2 0h1m-2 0h1m-2 0h1m-2 0h1m-2 0h1m-2 0h1m-2 0h1m-2 0h1m-2 0h1m-2 0h1m-2 0h1m-2 0h1m-2 0h1m-2 0h1m-2 0h1m-2 0h1m-2 0h1m-2 0h1m-2 0h1m-2 0h1m-2 0h1m-2 0h1m-3 0h1m-3 0h1m-4 0h1m-2 0h1m-2 0h1m-2 0h1m-7 0h1m-6 0h1m-2 0h1m-3 0h1m-2 0h1m-3 0h1m-5 0h1m-8 0h1m-2 0h1m-2 0h1m-3 0h1m-2 0h1m-7 0h1m-2 0h1m-3 0h1m-3 0h1m-3 0h1m-2 0h1m-4 0h1m-2 0h1m-4 0h1m-3 0h1m-16 0h1m-1 1h1m15 0h1m6 0h1m2 0h1h1h1m2 0h1m1 0h1h1m4 0h1m3 0h1m1 0h1m9 0h1h1m1 0h1h1h1h1m1 0h1m1 0h1h1m1 0h1m2 0h1h1h1m2 0h1m4 0h1h1h1h1h1h1h1h1h1h1h1h1h1h1h1h1h1h1h1h1h1h1h1h1h1h1h1h1h1m1 0h1m1 1h1m-2 0h1m-3 0h1m-2 0h1m-2 0h1m-2 0h1m-3 0h1m-2 0h1m-2 0h1m-2 0h1m-2 0h1m-2 0h1m-2 0h1m-2 0h1m-2 0h1m-2 0h1m-2 0h1m-2 0h1m-2 0h1m-2 0h1m-2 0h1m-2 0h1m-2 0h1m-2 0h1m-2 0h1m-2 0h1m-2 0h1m-2 0h1m-2 0h1m-2 0h1m-2 0h1m-3 0h1m-2 0h1m-2 0h1m-4 0h1m-4 0h1m-2 0h1m-3 0h1m-6 0h1m-2 0h1m-8 0h1m-3 0h1m-2 0h1m-3 0h1m-3 0h1m-2 0h1m-4 0h1m-3 0h1m-4 0h1m-3 0h1m-4 0h1m-4 0h1m-7 0h1m-3 0h1m-12 0h1m-8 0h1m-6 0h1m-1 1h1m5 0h1m3 0h1m2 0h1m8 0h1m2 0h1m4 0h1m3 0h1h1h1h1m4 0h1h1m2 0h1h1m2 0h1h1h1m3 0h1h1m1 0h1h1h1h1h1m1 0h1h1m1 0h1h1m1 0h1m2 0h1h1m1 0h1h1h1h1h1h1h1h1h1h1h1h1h1h1h1h1h1h1h1h1h1h1h1h1h1h1h1h1h1m1 0h1m2 1h1m-8 0h1m-2 0h1m-2 0h1m-2 0h1m-2 0h1m-2 0h1m-2 0h1m-2 0h1m-2 0h1m-2 0h1m-2 0h1m-2 0h1m-2 0h1m-2 0h1m-2 0h1m-2 0h1m-2 0h1m-2 0h1m-2 0h1m-2 0h1m-2 0h1m-2 0h1m-2 0h1m-2 0h1m-2 0h1m-2 0h1m-2 0h1m-2 0h1m-3 0h1m-2 0h1m-4 0h1m-2 0h1m-3 0h1m-2 0h1m-3 0h1m-2 0h1m-2 0h1m-2 0h1m-4 0h1m-2 0h1m-6 0h1m-3 0h1m-2 0h1m-3 0h1m-2 0h1m-2 0h1m-2 0h1m-2 0h1m-2 0h1m-2 0h1m-2 0h1m-2 0h1m-3 0h1m-2 0h1m-2 0h1m-4 0h1m-4 0h1m-5 0h1m-2 0h1m-4 0h1m-4 0h1m-5 0h1m-5 0h1m-2 0h1m-10 0h1m-1 1h1m7 0h1m2 0h1m1 0h1m1 0h1h1m2 0h1m2 0h1m1 0h1m3 0h1h1h1m2 0h1m1 0h1m2 0h1h1h1h1m2 0h1m1 0h1h1h1m1 0h1m1 0h1h1m2 0h1m10 0h1h1h1m1 0h1m1 0h1h1m3 0h1m1 0h1h1h1h1h1h1h1h1h1h1h1h1h1h1h1h1h1h1h1h1h1m1 0h1h1m1 0h1m1 0h1m3 0h1m-6 1h1m-5 0h1m-2 0h1m-2 0h1m-2 0h1m-2 0h1m-2 0h1m-2 0h1m-2 0h1m-2 0h1m-2 0h1m-2 0h1m-2 0h1m-2 0h1m-2 0h1m-2 0h1m-2 0h1m-2 0h1m-2 0h1m-2 0h1m-2 0h1m-2 0h1m-2 0h1m-2 0h1m-2 0h1m-2 0h1m-2 0h1m-2 0h1m-2 0h1m-2 0h1m-2 0h1m-3 0h1m-3 0h1m-2 0h1m-2 0h1m-2 0h1m-4 0h1m-2 0h1m-2 0h1m-2 0h1m-2 0h1m-3 0h1m-3 0h1m-3 0h1m-3 0h1m-2 0h1m-3 0h1m-2 0h1m-2 0h1m-3 0h1m-5 0h1m-2 0h1m-3 0h1m-8 0h1m-2 0h1m-3 0h1m-2 0h1m-4 0h1m-2 0h1m-7 0h1m-4 0h1m-10 0h1m-5 0h1m-1 1h1h1m2 0h1m3 0h1m1 0h1h1h1h1m1 0h1m2 0h1m3 0h1m1 0h1h1h1m5 0h1m4 0h1m2 0h1m1 0h1m2 0h1h1m1 0h1m3 0h1h1m1 0h1m1 0h1h1h1m1 0h1h1h1h1m1 0h1h1m2 0h1h1m1 0h1h1m2 0h1h1h1h1h1h1h1h1h1h1h1h1h1h1h1h1h1h1h1h1h1h1h1m1 0h1h1h1h1h1m2 1h1m-2 0h1m-2 0h1m-4 0h1m-4 0h1m-3 0h1m-2 0h1m-2 0h1m-2 0h1m-2 0h1m-2 0h1m-2 0h1m-2 0h1m-2 0h1m-2 0h1m-2 0h1m-2 0h1m-2 0h1m-2 0h1m-2 0h1m-2 0h1m-2 0h1m-2 0h1m-2 0h1m-2 0h1m-2 0h1m-2 0h1m-2 0h1m-2 0h1m-2 0h1m-2 0h1m-2 0h1m-2 0h1m-2 0h1m-2 0h1m-3 0h1m-2 0h1m-2 0h1m-4 0h1m-2 0h1m-2 0h1m-3 0h1m-3 0h1m-2 0h1m-3 0h1m-5 0h1m-2 0h1m-2 0h1m-3 0h1m-3 0h1m-4 0h1m-2 0h1m-2 0h1m-2 0h1m-2 0h1m-2 0h1m-3 0h1m-2 0h1m-2 0h1m-2 0h1m-2 0h1m-2 0h1m-7 0h1m-2 0h1m-3 0h1m-2 0h1m-2 0h1m-4 0h1m-2 0h1m-14 0h1m-1 1h1h1m1 0h1m4 0h1h1m1 0h1m1 0h1m3 0h1m3 0h1h1h1h1m1 0h1h1h1m3 0h1h1m4 0h1h1m1 0h1m1 0h1m1 0h1h1m1 0h1h1m1 0h1m1 0h1m1 0h1h1h1h1m1 0h1h1m3 0h1m1 0h1h1h1h1h1h1h1h1h1h1h1h1h1h1h1h1h1h1h1h1h1h1h1h1h1h1h1h1h1h1h1h1h1h1m8 0h1m3 1h1m-16 0h1m-3 0h1m-2 0h1m-3 0h1m-2 0h1m-2 0h1m-2 0h1m-2 0h1m-2 0h1m-2 0h1m-2 0h1m-2 0h1m-2 0h1m-2 0h1m-2 0h1m-2 0h1m-2 0h1m-2 0h1m-2 0h1m-2 0h1m-2 0h1m-2 0h1m-2 0h1m-2 0h1m-3 0h1m-2 0h1m-2 0h1m-2 0h1m-5 0h1m-2 0h1m-2 0h1m-2 0h1m-2 0h1m-2 0h1m-3 0h1m-4 0h1m-2 0h1m-3 0h1m-3 0h1m-2 0h1m-2 0h1m-2 0h1m-2 0h1m-2 0h1m-2 0h1m-2 0h1m-3 0h1m-2 0h1m-2 0h1m-2 0h1m-2 0h1m-2 0h1m-7 0h1m-2 0h1m-3 0h1m-2 0h1m-4 0h1m-3 0h1m-2 0h1m-2 0h1m-7 0h1m-2 0h1m-8 0h1m-5 0h1m-1 1h1m5 0h1m2 0h1m1 0h1m3 0h1m2 0h1h1h1m2 0h1m2 0h1h1m1 0h1h1m1 0h1h1h1h1h1m1 0h1h1m1 0h1h1m1 0h1h1m1 0h1h1h1h1h1h1h1h1h1h1h1h1h1h1h1h1h1h1m3 0h1h1h1m1 0h1h1h1m1 0h1h1h1h1h1h1h1h1h1h1h1h1h1h1h1h1h1h1h1h1h1m26 0h1m-14 1h1m-5 0h1m-7 0h1m-5 0h1m-2 0h1m-2 0h1m-2 0h1m-2 0h1m-2 0h1m-2 0h1m-2 0h1m-2 0h1m-2 0h1m-2 0h1m-2 0h1m-2 0h1m-2 0h1m-2 0h1m-2 0h1m-2 0h1m-2 0h1m-2 0h1m-2 0h1m-2 0h1m-2 0h1m-2 0h1m-2 0h1m-2 0h1m-2 0h1m-2 0h1m-2 0h1m-2 0h1m-2 0h1m-2 0h1m-2 0h1m-2 0h1m-2 0h1m-3 0h1m-3 0h1m-2 0h1m-2 0h1m-2 0h1m-4 0h1m-2 0h1m-2 0h1m-3 0h1m-2 0h1m-2 0h1m-2 0h1m-3 0h1m-2 0h1m-2 0h1m-3 0h1m-2 0h1m-2 0h1m-2 0h1m-2 0h1m-4 0h1m-3 0h1m-2 0h1m-2 0h1m-2 0h1m-2 0h1m-2 0h1m-2 0h1m-3 0h1m-3 0h1m-2 0h1m-4 0h1m-2 0h1m-6 0h1m-2 0h1m-7 0h1m-5 0h1m-1 1h1m8 0h1m2 0h1h1m1 0h1m2 0h1m3 0h1h1h1h1h1m1 0h1h1h1m1 0h1h1h1h1h1h1h1h1h1h1h1h1h1h1h1m1 0h1m1 0h1h1h1h1h1h1h1h1m1 0h1h1h1h1m1 0h1h1h1h1m1 0h1h1h1h1m1 0h1h1h1h1h1h1h1h1h1h1h1h1h1h1h1h1h1h1h1h1h1h1m1 0h1h1h1m8 0h1h1m-8 1h1m-3 0h1m-4 0h1m-2 0h1m-3 0h1m-4 0h1m-2 0h1m-2 0h1m-2 0h1m-2 0h1m-2 0h1m-2 0h1m-2 0h1m-2 0h1m-2 0h1m-2 0h1m-2 0h1m-2 0h1m-2 0h1m-2 0h1m-2 0h1m-2 0h1m-2 0h1m-2 0h1m-2 0h1m-2 0h1m-3 0h1m-2 0h1m-2 0h1m-3 0h1m-3 0h1m-2 0h1m-2 0h1m-2 0h1m-2 0h1m-2 0h1m-2 0h1m-2 0h1m-2 0h1m-2 0h1m-2 0h1m-2 0h1m-2 0h1m-3 0h1m-2 0h1m-2 0h1m-2 0h1m-2 0h1m-3 0h1m-2 0h1m-2 0h1m-2 0h1m-2 0h1m-3 0h1m-2 0h1m-2 0h1m-2 0h1m-2 0h1m-3 0h1m-2 0h1m-2 0h1m-3 0h1m-4 0h1m-2 0h1m-3 0h1m-2 0h1m-3 0h1m-3 0h1m-2 0h1m-6 0h1m-7 0h1m-5 0h1m-1 1h1m1 0h1m5 0h1h1m3 0h1h1m2 0h1m1 0h1h1m2 0h1m1 0h1h1h1h1h1h1h1h1m2 0h1h1h1h1m1 0h1m1 0h1h1h1m1 0h1h1h1m1 0h1h1m1 0h1h1m2 0h1h1h1h1h1h1m1 0h1h1m3 0h1h1h1h1h1h1m1 0h1h1h1h1h1h1h1h1h1h1h1h1h1h1h1h1h1h1h1m1 0h1h1h1m3 0h1m4 0h1m3 1h1m-4 0h1m-2 0h1m-4 0h1m-4 0h1m-5 0h1m-3 0h1m-2 0h1m-4 0h1m-2 0h1m-2 0h1m-2 0h1m-2 0h1m-2 0h1m-2 0h1m-2 0h1m-2 0h1m-2 0h1m-2 0h1m-2 0h1m-2 0h1m-2 0h1m-2 0h1m-2 0h1m-2 0h1m-2 0h1m-2 0h1m-2 0h1m-2 0h1m-2 0h1m-2 0h1m-2 0h1m-3 0h1m-2 0h1m-2 0h1m-2 0h1m-3 0h1m-3 0h1m-8 0h1m-2 0h1m-2 0h1m-4 0h1m-2 0h1m-2 0h1m-2 0h1m-2 0h1m-2 0h1m-2 0h1m-2 0h1m-3 0h1m-2 0h1m-2 0h1m-2 0h1m-2 0h1m-2 0h1m-4 0h1m-2 0h1m-3 0h1m-2 0h1m-2 0h1m-2 0h1m-2 0h1m-2 0h1m-2 0h1m-3 0h1m-2 0h1m-3 0h1m-5 0h1m-2 0h1m-5 0h1m-2 0h1m-2 0h1m-6 0h1m-1 1h1m2 0h1h1m7 0h1m2 0h1h1h1h1h1h1m1 0h1m1 0h1m1 0h1m1 0h1m2 0h1m1 0h1m1 0h1h1h1m1 0h1h1h1m1 0h1h1m1 0h1m1 0h1h1h1h1h1h1m1 0h1h1h1h1h1h1m2 0h1h1m2 0h1h1h1h1h1h1h1h1h1h1h1h1h1h1h1h1h1h1h1h1h1h1h1h1m1 0h1m1 0h1h1m1 0h1m3 0h1h1m21 1h1m-29 0h1m-3 0h1m-3 0h1m-2 0h1m-3 0h1m-2 0h1m-2 0h1m-2 0h1m-2 0h1m-2 0h1m-2 0h1m-2 0h1m-2 0h1m-2 0h1m-2 0h1m-2 0h1m-2 0h1m-2 0h1m-2 0h1m-2 0h1m-2 0h1m-3 0h1m-2 0h1m-2 0h1m-2 0h1m-2 0h1m-2 0h1m-2 0h1m-2 0h1m-2 0h1m-5 0h1m-2 0h1m-2 0h1m-2 0h1m-2 0h1m-2 0h1m-2 0h1m-4 0h1m-2 0h1m-2 0h1m-2 0h1m-2 0h1m-2 0h1m-3 0h1m-2 0h1m-3 0h1m-2 0h1m-2 0h1m-2 0h1m-2 0h1m-3 0h1m-2 0h1m-2 0h1m-2 0h1m-2 0h1m-3 0h1m-2 0h1m-3 0h1m-2 0h1m-2 0h1m-2 0h1m-2 0h1m-4 0h1m-2 0h1m-2 0h1m-2 0h1m-3 0h1m-2 0h1m-3 0h1m-4 0h1m-4 0h1m-5 0h1m-1 1h1m2 0h1h1m1 0h1m2 0h1m2 0h1m3 0h1h1m1 0h1m6 0h1h1h1m2 0h1m1 0h1h1h1h1m1 0h1h1h1h1h1h1m1 0h1h1h1m1 0h1h1h1h1h1h1h1m1 0h1h1h1m1 0h1h1h1m1 0h1h1h1h1h1h1h1h1h1h1h1h1h1h1h1h1h1h1h1h1h1h1h1h1h1h1m1 0h1m7 0h1m7 0h1m3 1h1m-22 0h1m-4 0h1m-2 0h1m-2 0h1m-2 0h1m-2 0h1m-2 0h1m-2 0h1m-2 0h1m-2 0h1m-2 0h1m-2 0h1m-2 0h1m-2 0h1m-2 0h1m-2 0h1m-2 0h1m-2 0h1m-2 0h1m-2 0h1m-2 0h1m-2 0h1m-2 0h1m-2 0h1m-2 0h1m-2 0h1m-2 0h1m-2 0h1m-2 0h1m-2 0h1m-3 0h1m-4 0h1m-2 0h1m-3 0h1m-3 0h1m-2 0h1m-2 0h1m-2 0h1m-2 0h1m-2 0h1m-2 0h1m-2 0h1m-2 0h1m-2 0h1m-2 0h1m-2 0h1m-3 0h1m-3 0h1m-4 0h1m-2 0h1m-2 0h1m-6 0h1m-2 0h1m-3 0h1m-3 0h1m-2 0h1m-3 0h1m-2 0h1m-2 0h1m-4 0h1m-3 0h1m-3 0h1m-2 0h1m-2 0h1m-2 0h1m-4 0h1m-3 0h1m-1 1h1m3 0h1h1m3 0h1h1m2 0h1h1h1h1m2 0h1m1 0h1m1 0h1h1h1h1m3 0h1h1h1h1h1h1h1h1h1h1h1m1 0h1h1m1 0h1h1m1 0h1h1h1m1 0h1h1h1h1h1h1h1m2 0h1h1m1 0h1h1m1 0h1h1h1h1h1h1h1h1h1h1h1h1h1m1 0h1h1h1h1h1h1h1h1h1m1 0h1m1 0h1h1m2 0h1m4 0h1m9 0h1m-20 1h1m-2 0h1m-2 0h1m-2 0h1m-3 0h1m-3 0h1m-2 0h1m-2 0h1m-2 0h1m-2 0h1m-2 0h1m-2 0h1m-2 0h1m-2 0h1m-2 0h1m-2 0h1m-2 0h1m-2 0h1m-2 0h1m-2 0h1m-2 0h1m-2 0h1m-3 0h1m-2 0h1m-2 0h1m-2 0h1m-2 0h1m-2 0h1m-3 0h1m-2 0h1m-3 0h1m-4 0h1m-3 0h1m-2 0h1m-2 0h1m-2 0h1m-2 0h1m-3 0h1m-3 0h1m-2 0h1m-2 0h1m-2 0h1m-2 0h1m-2 0h1m-2 0h1m-2 0h1m-2 0h1m-2 0h1m-3 0h1m-3 0h1m-2 0h1m-3 0h1m-3 0h1m-2 0h1m-3 0h1m-2 0h1m-2 0h1m-2 0h1m-4 0h1m-3 0h1m-2 0h1m-7 0h1m-2 0h1m-2 0h1m-5 0h1m-4 0h1m-1 1h1m1 0h1h1h1m2 0h1m4 0h1m2 0h1h1m2 0h1m1 0h1h1m1 0h1m1 0h1m1 0h1m1 0h1h1h1h1h1h1h1h1h1h1h1h1m1 0h1h1h1h1m1 0h1h1h1h1h1m1 0h1h1h1h1h1m1 0h1h1h1h1h1h1h1h1h1h1m1 0h1h1h1h1h1h1h1h1h1h1h1h1h1h1h1h1m4 0h1m16 0h1m-6 1h1m-12 0h1m-10 0h1m-3 0h1m-3 0h1m-3 0h1m-2 0h1m-2 0h1m-2 0h1m-2 0h1m-2 0h1m-2 0h1m-2 0h1m-2 0h1m-2 0h1m-2 0h1m-2 0h1m-2 0h1m-2 0h1m-2 0h1m-2 0h1m-2 0h1m-2 0h1m-2 0h1m-2 0h1m-4 0h1m-2 0h1m-3 0h1m-2 0h1m-3 0h1m-4 0h1m-2 0h1m-2 0h1m-2 0h1m-2 0h1m-2 0h1m-3 0h1m-2 0h1m-4 0h1m-4 0h1m-3 0h1m-2 0h1m-2 0h1m-3 0h1m-2 0h1m-3 0h1m-3 0h1m-2 0h1m-2 0h1m-2 0h1m-2 0h1m-2 0h1m-2 0h1m-2 0h1m-3 0h1m-4 0h1m-3 0h1m-3 0h1m-5 0h1m-2 0h1m-1 1h1m2 0h1h1m5 0h1m1 0h1m2 0h1h1m1 0h1h1h1h1m2 0h1h1h1h1m1 0h1h1h1h1h1h1h1h1h1h1h1h1h1h1h1h1m1 0h1h1h1h1m1 0h1h1h1h1h1h1h1h1h1h1h1h1h1m1 0h1h1m1 0h1h1h1h1h1h1h1h1h1h1h1h1h1h1h1m1 0h1m2 0h1m1 0h1m1 0h1m26 0h1m-18 1h1m-2 0h1m-9 0h1m-5 0h1m-4 0h1m-2 0h1m-2 0h1m-2 0h1m-3 0h1m-2 0h1m-3 0h1m-2 0h1m-2 0h1m-2 0h1m-2 0h1m-2 0h1m-2 0h1m-3 0h1m-2 0h1m-2 0h1m-3 0h1m-3 0h1m-2 0h1m-2 0h1m-2 0h1m-2 0h1m-2 0h1m-3 0h1m-2 0h1m-2 0h1m-2 0h1m-2 0h1m-2 0h1m-2 0h1m-2 0h1m-2 0h1m-2 0h1m-2 0h1m-2 0h1m-2 0h1m-6 0h1m-3 0h1m-3 0h1m-2 0h1m-3 0h1m-2 0h1m-2 0h1m-2 0h1m-2 0h1m-2 0h1m-2 0h1m-2 0h1m-2 0h1m-2 0h1m-2 0h1m-3 0h1m-3 0h1m-3 0h1m-2 0h1m-2 0h1m-2 0h1m-3 0h1m-2 0h1m-2 0h1m-5 0h1m-4 0h1m-3 0h1m-1 1h1m1 0h1m7 0h1h1h1h1h1h1h1h1h1h1h1h1h1h1h1h1h1h1h1h1h1m1 0h1h1h1m1 0h1h1m1 0h1m1 0h1h1h1h1h1h1h1h1m1 0h1h1m2 0h1h1h1h1m1 0h1m1 0h1h1h1h1h1h1h1h1h1h1h1h1h1h1h1h1h1h1h1h1h1m6 0h1m1 0h1m12 0h1m3 1h1m-16 0h1m-4 0h1m-3 0h1m-2 0h1m-3 0h1m-6 0h1m-2 0h1m-2 0h1m-2 0h1m-2 0h1m-2 0h1m-3 0h1m-2 0h1m-2 0h1m-4 0h1m-2 0h1m-2 0h1m-2 0h1m-2 0h1m-2 0h1m-2 0h1m-2 0h1m-2 0h1m-2 0h1m-2 0h1m-2 0h1m-2 0h1m-2 0h1m-2 0h1m-5 0h1m-2 0h1m-2 0h1m-2 0h1m-2 0h1m-2 0h1m-2 0h1m-3 0h1m-2 0h1m-2 0h1m-2 0h1m-3 0h1m-2 0h1m-2 0h1m-2 0h1m-2 0h1m-3 0h1m-3 0h1m-2 0h1m-2 0h1m-2 0h1m-2 0h1m-4 0h1m-5 0h1m-2 0h1m-2 0h1m-4 0h1m-3 0h1m-2 0h1m-5 0h1m-2 0h1m-4 0h1m-2 0h1m-1 1h1m4 0h1h1m1 0h1h1h1m1 0h1h1m1 0h1m1 0h1h1h1m1 0h1m1 0h1h1h1h1h1h1h1m1 0h1m2 0h1h1h1h1m1 0h1h1h1h1m2 0h1h1h1h1h1h1h1h1h1h1h1h1h1h1h1h1h1h1h1h1h1h1h1h1m1 0h1h1h1h1h1h1h1h1h1h1h1h1h1h1m6 0h1m12 0h1m-14 1h1m-3 0h1m-11 0h1m-2 0h1m-2 0h1m-2 0h1m-3 0h1m-2 0h1m-3 0h1m-2 0h1m-3 0h1m-2 0h1m-2 0h1m-2 0h1m-2 0h1m-2 0h1m-2 0h1m-5 0h1m-2 0h1m-2 0h1m-2 0h1m-2 0h1m-2 0h1m-2 0h1m-2 0h1m-2 0h1m-2 0h1m-2 0h1m-2 0h1m-3 0h1m-2 0h1m-2 0h1m-3 0h1m-3 0h1m-4 0h1m-3 0h1m-2 0h1m-2 0h1m-2 0h1m-2 0h1m-2 0h1m-2 0h1m-2 0h1m-2 0h1m-2 0h1m-2 0h1m-3 0h1m-2 0h1m-4 0h1m-2 0h1m-3 0h1m-2 0h1m-4 0h1m-2 0h1m-2 0h1m-9 0h1m-1 1h1h1m6 0h1m1 0h1m2 0h1h1h1m2 0h1h1m2 0h1h1h1h1h1h1h1m1 0h1h1m1 0h1m1 0h1h1h1h1h1h1m3 0h1h1m1 0h1h1m2 0h1h1h1h1h1h1h1h1h1h1h1h1h1m1 0h1h1h1h1h1h1h1h1h1m1 0h1h1h1m1 0h1h1m15 0h1m-3 1h1m-2 0h1m-4 0h1m-3 0h1m-5 0h1m-2 0h1m-3 0h1m-3 0h1m-4 0h1m-2 0h1m-2 0h1m-4 0h1m-2 0h1m-2 0h1m-2 0h1m-2 0h1m-3 0h1m-2 0h1m-2 0h1m-2 0h1m-2 0h1m-2 0h1m-2 0h1m-2 0h1m-3 0h1m-4 0h1m-3 0h1m-2 0h1m-2 0h1m-3 0h1m-2 0h1m-2 0h1m-2 0h1m-2 0h1m-2 0h1m-2 0h1m-2 0h1m-4 0h1m-2 0h1m-2 0h1m-2 0h1m-2 0h1m-2 0h1m-3 0h1m-2 0h1m-2 0h1m-4 0h1m-3 0h1m-5 0h1m-2 0h1m-5 0h1m-3 0h1m-3 0h1m-2 0h1m-3 0h1m-2 0h1m-3 0h1m-2 0h1m-3 0h1m-2 0h1m-1 1h1m1 0h1m1 0h1h1m2 0h1h1m1 0h1h1m1 0h1h1h1m1 0h1h1m2 0h1h1h1h1m1 0h1m1 0h1h1h1m1 0h1m1 0h1h1h1h1h1h1h1m1 0h1h1m2 0h1h1h1h1h1h1h1h1m1 0h1m1 0h1h1h1h1h1h1h1h1h1m1 0h1m2 0h1h1m1 0h1h1h1h1m2 0h1m34 0h1m3 1h1m-21 0h1m-18 0h1m-4 0h1m-6 0h1m-3 0h1m-5 0h1m-3 0h1m-2 0h1m-3 0h1m-2 0h1m-3 0h1m-3 0h1m-2 0h1m-2 0h1m-2 0h1m-2 0h1m-2 0h1m-2 0h1m-2 0h1m-3 0h1m-2 0h1m-2 0h1m-2 0h1m-2 0h1m-2 0h1m-2 0h1m-3 0h1m-3 0h1m-3 0h1m-2 0h1m-3 0h1m-2 0h1m-2 0h1m-2 0h1m-2 0h1m-3 0h1m-3 0h1m-2 0h1m-2 0h1m-3 0h1m-4 0h1m-3 0h1m-6 0h1m-4 0h1m-4 0h1m-3 0h1m-3 0h1m-2 0h1m-2 0h1m-1 1h1m5 0h1h1m1 0h1h1h1m1 0h1m4 0h1h1m2 0h1h1h1m2 0h1m1 0h1m2 0h1h1h1h1h1m1 0h1h1m1 0h1h1m1 0h1h1h1h1h1h1m1 0h1h1m1 0h1h1m1 0h1h1h1h1m2 0h1h1h1h1m1 0h1m2 0h1h1h1m2 0h1h1m2 0h1m17 0h1m3 0h1m2 0h1m-10 1h1m-6 0h1m-2 0h1m-10 0h1m-2 0h1m-2 0h1m-4 0h1m-3 0h1m-4 0h1m-2 0h1m-4 0h1m-2 0h1m-2 0h1m-2 0h1m-5 0h1m-2 0h1m-2 0h1m-7 0h1m-4 0h1m-3 0h1m-2 0h1m-2 0h1m-2 0h1m-3 0h1m-2 0h1m-4 0h1m-2 0h1m-2 0h1m-2 0h1m-3 0h1m-2 0h1m-2 0h1m-2 0h1m-2 0h1m-5 0h1m-2 0h1m-3 0h1m-2 0h1m-2 0h1m-3 0h1m-4 0h1m-3 0h1m-5 0h1m-5 0h1m-2 0h1m-2 0h1m-3 0h1m-2 0h1m-1 1h1m1 0h1m5 0h1m3 0h1m1 0h1h1h1m1 0h1h1h1h1h1h1h1h1m1 0h1h1h1m2 0h1h1h1m1 0h1h1h1h1h1m1 0h1m1 0h1h1m1 0h1h1m1 0h1h1h1m2 0h1h1h1h1h1m1 0h1m2 0h1m4 0h1m1 0h1m2 0h1m2 0h1m1 0h1m1 0h1m24 0h1m11 1h1m-24 0h1m-10 0h1m-3 0h1m-8 0h1m-3 0h1m-2 0h1m-5 0h1m-4 0h1m-2 0h1m-3 0h1m-4 0h1m-6 0h1m-3 0h1m-2 0h1m-2 0h1m-4 0h1m-4 0h1m-4 0h1m-5 0h1m-3 0h1m-2 0h1m-2 0h1m-2 0h1m-2 0h1m-3 0h1m-3 0h1m-3 0h1m-7 0h1m-3 0h1m-3 0h1m-2 0h1m-3 0h1m-3 0h1m-2 0h1m-2 0h1m-6 0h1m-6 0h1m-1 1h1m3 0h1m4 0h1m1 0h1h1h1m1 0h1h1m6 0h1m1 0h1m3 0h1h1h1m1 0h1h1h1m1 0h1h1h1m1 0h1m1 0h1h1m1 0h1h1h1h1h1h1h1m1 0h1h1h1h1h1m1 0h1h1h1m1 0h1h1h1h1h1m1 0h1h1m2 0h1m1 0h1m6 0h1m4 0h1m-10 1h1m-5 0h1m-6 0h1m-4 0h1m-5 0h1m-2 0h1m-2 0h1m-2 0h1m-3 0h1m-3 0h1m-2 0h1m-2 0h1m-2 0h1m-2 0h1m-2 0h1m-4 0h1m-2 0h1m-2 0h1m-2 0h1m-2 0h1m-2 0h1m-5 0h1m-2 0h1m-2 0h1m-2 0h1m-4 0h1m-2 0h1m-4 0h1m-4 0h1m-2 0h1m-2 0h1m-6 0h1m-2 0h1m-2 0h1m-2 0h1m-2 0h1m-5 0h1m-2 0h1m-5 0h1m-5 0h1m-3 0h1m-1 1h1m6 0h1m1 0h1h1m2 0h1m6 0h1h1m3 0h1h1m2 0h1m2 0h1m3 0h1h1h1h1h1m1 0h1m1 0h1h1m1 0h1h1h1m2 0h1h1m3 0h1h1m1 0h1m1 0h1m1 0h1h1h1h1h1m3 0h1m1 0h1h1m5 0h1m12 0h1m0 1h1m-11 0h1m-2 0h1m-3 0h1m-3 0h1m-14 0h1m-4 0h1m-4 0h1m-2 0h1m-2 0h1m-2 0h1m-2 0h1m-2 0h1m-3 0h1m-4 0h1m-2 0h1m-6 0h1m-4 0h1m-2 0h1m-2 0h1m-2 0h1m-2 0h1m-4 0h1m-5 0h1m-3 0h1m-3 0h1m-2 0h1m-2 0h1m-3 0h1m-2 0h1m-2 0h1m-2 0h1m-2 0h1m-3 0h1m-7 0h1m-5 0h1m-2 0h1m-7 0h1m-1 1h1h1m9 0h1h1h1m2 0h1m1 0h1m1 0h1m1 0h1m1 0h1h1m1 0h1h1h1h1h1h1m1 0h1h1m2 0h1m2 0h1m2 0h1m2 0h1m4 0h1h1h1m2 0h1m3 0h1m4 0h1h1m3 0h1m1 0h1m3 0h1m7 0h1m3 1h1m-17 0h1m-3 0h1m-3 0h1m-2 0h1m-6 0h1m-2 0h1m-2 0h1m-2 0h1m-2 0h1m-3 0h1m-4 0h1m-7 0h1m-3 0h1m-3 0h1m-2 0h1m-3 0h1m-6 0h1m-4 0h1m-2 0h1m-5 0h1m-6 0h1m-6 0h1m-2 0h1m-6 0h1m-2 0h1m-12 0h1m-1 1h1m5 0h1m3 0h1m3 0h1m2 0h1m4 0h1h1h1m1 0h1m2 0h1m2 0h1m1 0h1h1h1m4 0h1h1h1h1m3 0h1m1 0h1m5 0h1m2 0h1m9 0h1m6 0h1m11 0h1m-17 1h1m-3 0h1m-7 0h1m-6 0h1m-5 0h1m-10 0h1m-4 0h1m-4 0h1m-6 0h1m-8 0h1m-2 0h1m-2 0h1m-2 0h1m-3 0h1m-4 0h1m-2 0h1m-3 0h1m-2 0h1m-2 0h1m-2 0h1m-7 0h1m-2 0h1m-5 0h1m-4 0h1m-1 1h1m6 0h1m1 0h1m2 0h1m3 0h1m1 0h1m7 0h1m4 0h1h1h1h1m3 0h1m3 0h1m4 0h1m2 0h1m9 0h1h1m4 0h1m3 0h1m1 0h1m21 1h1m-20 0h1m-4 0h1m-5 0h1m-2 0h1m-7 0h1m-4 0h1m-3 0h1m-2 0h1m-2 0h1m-2 0h1m-4 0h1m-6 0h1m-2 0h1m-4 0h1m-2 0h1m-2 0h1m-5 0h1m-2 0h1m-2 0h1m-2 0h1m-2 0h1m-3 0h1m-2 0h1m-2 0h1m-6 0h1m-7 0h1m-4 0h1m-14 0h1m-1 1h1h1m1 0h1m1 0h1m11 0h1m1 0h1m2 0h1m1 0h1m16 0h1h1h1m3 0h1m5 0h1m18 0h1m6 0h1m-5 1h1m-18 0h1m-3 0h1m-6 0h1m-4 0h1m-4 0h1m-3 0h1m-7 0h1m-3 0h1m-3 0h1m-5 0h1m-5 0h1m-3 0h1m-8 0h1m-12 0h1m8 1h1h1m1 0h1m7 0h1m3 0h1h1h1m4 0h1h1m7 0h1m2 0h1h1m14 0h1m16 1h1m-9 0h1m-3 0h1m-23 0h1m-6 0h1m-2 0h1m-5 0h1m-4 0h1m-2 0h1m-2 0h1m-2 0h1m-2 0h1m-5 0h1m-3 0h1m-5 0h1m-3 0h1m-5 0h1m-4 0h1m-2 0h1m-4 0h1m-3 0h1m-5 0h1m-2 0h1m-3 0h1m-1 1h1m8 0h1h1m6 0h1m3 0h1m4 0h1m4 0h1m6 0h1m5 0h1m5 0h1m26 0h1m3 1h1m-3 0h1m-4 0h1m-11 0h1m-8 0h1m-10 0h1m-14 0h1m-13 0h1m-4 0h1m-10 0h1m-7 0h1m-6 0h1m-3 0h1m-1 1h1m17 0h1m1 0h1m16 0h1m17 0h1m6 0h1m16 0h1m5 0h1m-16 1h1m-13 0h1m-8 0h1m-28 0h1m-3 0h1m-3 0h1m-6 0h1m-16 1h1m28 0h1m10 0h1m3 0h1m3 0h1m18 0h1m2 1h1m-27 0h1m-5 0h1m-17 0h1m-8 0h1m-14 0h1m-5 0h1m-1 1h1m6 0h1m3 0h1m12 0h1m10 0h1m3 0h1m15 0h1m7 0h1m58 1h1m-51 0h1m-30 0h1m-2 0h1m-43 0h1m0 1h1m15 0h1m18 0h1m13 0h1m6 0h1m3 0h1m-10 1h1m-4 0h1m-33 0h1m-6 0h1m-13 0h1m13 1h1m31 0h1m41 1h1m-49 0h1m-16 0h1m-17 0h1m11 1h1m16 0h1m-4 2h1m-36 1h1m13 4h1m-15 0h1m13 1h1m-3 3h1" stroke="#2a56a3" stroke-width="1" fill="none"/>
<path transform="scale(2)" d="M763 188h1m84 5h1m-78 2h1m28 3h1m-15 0h1m24 1h1m-49 1h1m49 1h1m3 0h1m-48 1h1m-2 0h1m23 1h1m4 0h1m44 1h1m-10 0h1m-14 0h1m-9 0h1m-16 0h1m-27 0h1m-26 1h1m62 1h1m-6 0h1m-17 0h1m-15 0h1m-21 0h1m30 1h1m9 0h1m24 1h1m-32 0h1m-21 0h1m-2 0h1m-23 1h1m7 0h1m6 0h1m2 0h1m3 0h1m10 0h1m39 0h1m27 1h1m-32 0h1m-9 0h1m-6 0h1m-6 0h1m-27 0h1m-17 0h1m-11 0h1m-1 1h1m29 0h1m7 0h1m11 0h1m9 0h1m1 0h1m-63 1h1m-1 1h1m20 0h1m16 0h1m27 0h1m6 0h1m6 0h1m29 1h1m-46 0h1m-2 0h1m-37 0h1m-5 0h1m-25 0h1m-1 1h1m38 0h1m11 0h1h1m45 1h1m-20 0h1m-9 0h1m-12 0h1m-17 0h1m-11 0h1m-2 0h1m-4 0h1m-7 0h1m-6 0h1m-12 0h1m-9 0h1m-1 1h1m7 0h1m1 0h1m16 0h1m9 0h1m13 0h1m54 1h1m-7 0h1m-35 0h1m-7 0h1m-3 0h1m-6 0h1m-4 0h1m-14 0h1m-21 0h1m-15 0h1m-4 0h1m-1 1h1m11 0h1h1m4 0h1m15 0h1h1h1m3 0h1h1h1m8 0h1m6 0h1m12 0h1m2 0h1m8 1h1m-10 0h1m-21 0h1m-24 0h1m-17 0h1m-7 0h1m-10 0h1m-1 1h1m7 0h1m4 0h1m4 0h1m1 0h1m5 0h1m1 0h1h1h1m9 0h1m7 0h1m18 0h1m3 0h1m30 0h1m-45 1h1m-5 0h1m-4 0h1m-4 0h1m-14 0h1m-9 0h1m-2 0h1m-27 0h1m-1 1h1m6 0h1m12 0h1m4 0h1m7 0h1m1 0h1m23 0h1m4 0h1m19 1h1m-4 0h1m-13 0h1m-5 0h1m-5 0h1m-10 0h1m-6 0h1m-7 0h1m-3 0h1m-14 0h1m-6 0h1m-4 0h1m-9 0h1m-6 0h1m-6 0h1m-1 1h1m11 0h1h1h1m3 0h1m2 0h1m12 0h1m2 0h1m10 0h1m8 0h1m3 0h1m14 0h1m4 0h1m1 0h1h1m10 1h1m-20 0h1m-4 0h1m-5 0h1m-4 0h1m-2 0h1m-6 0h1m-8 0h1m-5 0h1m-2 0h1m-2 0h1m-14 0h1m-6 0h1m-3 0h1m-6 0h1m-22 0h1m-2 0h1m-1 1h1h1m14 0h1m2 0h1m3 0h1m5 0h1h1m12 0h1m3 0h1m3 0h1m1 0h1m2 0h1m15 0h1m2 0h1m14 1h1m-10 0h1m-4 0h1m-2 0h1m-14 0h1m-16 0h1m-11 0h1m-8 0h1m-7 0h1m-11 0h1m-3 0h1m-15 0h1m-1 1h1h1m2 0h1m3 0h1m8 0h1m6 0h1m4 0h1h1h1m5 0h1h1m1 0h1m2 0h1m1 0h1m1 0h1h1m4 0h1h1m1 0h1m2 0h1h1m8 0h1m2 0h1m2 0h1m1 0h1m1 0h1m2 0h1m11 0h1m-14 1h1m-14 0h1m-10 0h1m-5 0h1m-4 0h1m-6 0h1m-3 0h1m-16 0h1m-14 0h1m-2 0h1m-6 0h1m-12 0h1m-1 1h1m4 0h1m2 0h1m2 0h1h1m2 0h1h1h1m3 0h1m8 0h1m5 0h1m2 0h1m17 0h1m2 0h1m6 0h1m7 0h1m16 0h1m-9 1h1m-6 0h1m-11 0h1m-10 0h1m-3 0h1m-5 0h1m-4 0h1m-2 0h1m-9 0h1m-3 0h1m-2 0h1m-4 0h1m-2 0h1m-3 0h1m-2 0h1m-2 0h1m-3 0h1m-3 0h1m-9 0h1m-11 0h1m-10 0h1m-1 1h1m6 0h1m1 0h1m1 0h1m6 0h1m10 0h1m3 0h1m3 0h1m5 0h1h1h1m2 0h1m4 0h1m9 0h1m5 0h1m1 0h1m1 0h1m1 0h1m9 0h1m1 0h1m14 0h1m4 0h1m6 1h1m-41 0h1m-9 0h1m-4 0h1m-3 0h1m-2 0h1m-3 0h1m-3 0h1m-3 0h1m-8 0h1m-2 0h1m-2 0h1m-5 0h1m-2 0h1m-6 0h1m-3 0h1m-2 0h1m-2 0h1m-13 0h1m-2 0h1m-19 0h1m-1 1h1m7 0h1m7 0h1m3 0h1m3 0h1h1h1h1m2 0h1m3 0h1m1 0h1h1m2 0h1m2 0h1m4 0h1h1m1 0h1m3 0h1m1 0h1h1m1 0h1m6 0h1m2 0h1h1m1 0h1m21 1h1m-10 0h1m-6 0h1m-3 0h1m-13 0h1m-2 0h1m-4 0h1m-2 0h1m-3 0h1m-2 0h1m-3 0h1m-3 0h1m-2 0h1m-6 0h1m-6 0h1m-2 0h1m-2 0h1m-10 0h1m-8 0h1m-7 0h1m-8 0h1m-14 0h1m-1 1h1m7 0h1m2 0h1h1m3 0h1m2 0h1m1 0h1h1h1m2 0h1h1m3 0h1m1 0h1m2 0h1h1m4 0h1m4 0h1m1 0h1m2 0h1m2 0h1h1h1m4 0h1m2 0h1h1m1 0h1h1m2 0h1m7 0h1m5 0h1m12 0h1m19 1h1m-27 0h1m-14 0h1m-3 0h1m-5 0h1m-2 0h1m-2 0h1m-3 0h1m-6 0h1m-2 0h1m-2 0h1m-3 0h1m-6 0h1m-3 0h1m-4 0h1m-3 0h1m-3 0h1m-3 0h1m-3 0h1m-3 0h1m-2 0h1m-3 0h1m-2 0h1m-4 0h1m-3 0h1m-2 0h1m-11 0h1m-2 0h1m-4 0h1m-7 0h1m-8 0h1m-4 0h1m-2 0h1m-1 1h1m16 0h1m4 0h1m2 0h1h1h1h1m1 0h1m3 0h1m2 0h1h1m2 0h1m1 0h1m5 0h1m1 0h1h1m3 0h1m1 0h1m1 0h1h1m4 0h1h1m2 0h1m1 0h1m8 0h1m2 1h1m-5 0h1m-7 0h1m-16 0h1m-5 0h1m-5 0h1m-3 0h1m-2 0h1m-5 0h1m-2 0h1m-7 0h1m-2 0h1m-2 0h1m-3 0h1m-4 0h1m-2 0h1m-4 0h1m-2 0h1m-12 0h1m-2 0h1m-4 0h1m-3 0h1m-5 0h1m-3 0h1m-2 0h1m-2 0h1m-1 1h1m4 0h1m3 0h1h1m3 0h1m2 0h1m8 0h1h1h1m5 0h1h1m2 0h1m2 0h1m2 0h1h1m5 0h1m2 0h1m2 0h1m2 0h1m4 0h1m5 0h1m3 0h1h1m3 0h1m4 0h1m16 0h1m-13 1h1m-10 0h1m-8 0h1m-9 0h1m-3 0h1m-2 0h1m-6 0h1m-3 0h1m-2 0h1m-2 0h1m-3 0h1m-2 0h1m-2 0h1m-4 0h1m-2 0h1m-3 0h1m-2 0h1m-2 0h1m-3 0h1m-4 0h1m-2 0h1m-2 0h1m-2 0h1m-4 0h1m-3 0h1m-4 0h1m-6 0h1m-12 0h1m-2 0h1m-2 0h1m-2 0h1m-2 0h1m-7 0h1m-1 1h1m1 0h1m6 0h1m3 0h1m4 0h1m6 0h1m1 0h1h1m3 0h1m1 0h1m2 0h1h1m1 0h1m4 0h1m2 0h1h1m1 0h1m2 0h1m1 0h1h1m1 0h1m1 0h1h1m4 0h1m11 0h1m8 0h1m3 0h1m8 0h1m-17 1h1m-3 0h1m-5 0h1m-8 0h1m-4 0h1m-2 0h1m-6 0h1m-3 0h1m-4 0h1m-5 0h1m-4 0h1m-2 0h1m-3 0h1m-2 0h1m-3 0h1m-2 0h1m-4 0h1m-3 0h1m-3 0h1m-7 0h1m-6 0h1m-8 0h1m-3 0h1m-3 0h1m-3 0h1m-8 0h1m-2 0h1m-6 0h1m-1 1h1m2 0h1m3 0h1m1 0h1h1m4 0h1m4 0h1h1h1m6 0h1h1m1 0h1m1 0h1h1h1m2 0h1h1h1m2 0h1m1 0h1h1m3 0h1m1 0h1h1m1 0h1h1m5 0h1h1m1 0h1m2 0h1h1m3 0h1m1 0h1h1m4 0h1m6 0h1m7 0h1m2 0h1m3 0h1m-8 1h1m-16 0h1m-2 0h1m-18 0h1m-3 0h1m-8 0h1m-2 0h1m-5 0h1m-5 0h1m-3 0h1m-3 0h1m-3 0h1m-2 0h1m-6 0h1m-3 0h1m-2 0h1m-5 0h1m-2 0h1m-2 0h1m-8 0h1m-3 0h1m-3 0h1m-15 0h1m-1 1h1m1 0h1m2 0h1h1m1 0h1m9 0h1h1m7 0h1h1m1 0h1m1 0h1h1h1h1m1 0h1m1 0h1m6 0h1h1h1m1 0h1m2 0h1m2 0h1m9 0h1m2 0h1h1m6 0h1h1m4 0h1m4 0h1m10 1h1m-13 0h1m-3 0h1m-6 0h1m-8 0h1m-3 0h1m-2 0h1m-9 0h1m-3 0h1m-4 0h1m-7 0h1m-3 0h1m-2 0h1m-3 0h1m-4 0h1m-2 0h1m-3 0h1m-3 0h1m-4 0h1m-3 0h1m-2 0h1m-3 0h1m-3 0h1m-4 0h1m-2 0h1m-2 0h1m-2 0h1m-2 0h1m-2 0h1m-3 0h1m-9 0h1m-3 0h1m-4 0h1m-6 0h1m-1 1h1m2 0h1m1 0h1m2 0h1m1 0h1h1h1h1h1h1m2 0h1m1 0h1h1m1 0h1m3 0h1m2 0h1m1 0h1m1 0h1h1h1h1h1h1m1 0h1m1 0h1h1h1m5 0h1m1 0h1m4 0h1m1 0h1h1h1m1 0h1m4 0h1m8 0h1m2 0h1m-12 1h1m-2 0h1m-9 0h1m-4 0h1m-4 0h1m-3 0h1m-7 0h1m-2 0h1m-2 0h1m-7 0h1m-7 0h1m-2 0h1m-2 0h1m-2 0h1m-2 0h1m-2 0h1m-2 0h1m-5 0h1m-2 0h1m-2 0h1m-2 0h1m-3 0h1m-2 0h1m-3 0h1m-3 0h1m-2 0h1m-2 0h1m-4 0h1m-3 0h1m-3 0h1m-3 0h1m-2 0h1m-2 0h1m-1 1h1h1h1m2 0h1m1 0h1m5 0h1h1h1m1 0h1m2 0h1h1h1m1 0h1m1 0h1h1m4 0h1h1h1m1 0h1h1h1m2 0h1m2 0h1m3 0h1h1h1h1m1 0h1m1 0h1m3 0h1h1m2 0h1m3 0h1m2 0h1h1m1 0h1m6 0h1m2 1h1m-4 0h1m-4 0h1m-2 0h1m-3 0h1m-3 0h1m-3 0h1m-11 0h1m-2 0h1m-4 0h1m-2 0h1m-5 0h1m-6 0h1m-2 0h1m-2 0h1m-6 0h1m-2 0h1m-2 0h1m-3 0h1m-2 0h1m-4 0h1m-3 0h1m-2 0h1m-5 0h1m-4 0h1m-2 0h1m-3 0h1m-6 0h1m-2 0h1m-2 0h1m-5 0h1m-8 0h1m-1 1h1m3 0h1h1m6 0h1m1 0h1m1 0h1h1m2 0h1h1h1h1h1h1m1 0h1h1h1m2 0h1h1h1h1h1m1 0h1h1m2 0h1h1m1 0h1m1 0h1m1 0h1m2 0h1h1h1h1m3 0h1m6 0h1m1 0h1m3 0h1m7 0h1m3 0h1m-16 1h1m-2 0h1m-2 0h1m-7 0h1m-2 0h1m-4 0h1m-3 0h1m-2 0h1m-4 0h1m-2 0h1m-2 0h1m-6 0h1m-2 0h1m-2 0h1m-3 0h1m-3 0h1m-2 0h1m-2 0h1m-2 0h1m-2 0h1m-2 0h1m-3 0h1m-2 0h1m-2 0h1m-5 0h1m-2 0h1m-3 0h1m-6 0h1m-2 0h1m-5 0h1m-2 0h1m-3 0h1m-3 0h1m-3 0h1m-6 0h1m-1 1h1m3 0h1m5 0h1m4 0h1h1h1h1h1m1 0h1m1 0h1h1h1m1 0h1m1 0h1h1m1 0h1h1h1h1m1 0h1h1h1h1m1 0h1m2 0h1h1h1m1 0h1h1h1m2 0h1h1m1 0h1m2 0h1m2 0h1h1h1h1h1m14 0h1m18 0h1m-15 1h1m-12 0h1m-9 0h1m-2 0h1m-3 0h1m-5 0h1m-8 0h1m-3 0h1m-2 0h1m-2 0h1m-2 0h1m-2 0h1m-6 0h1m-2 0h1m-3 0h1m-2 0h1m-2 0h1m-2 0h1m-5 0h1m-2 0h1m-2 0h1m-3 0h1m-2 0h1m-2 0h1m-2 0h1m-2 0h1m-2 0h1m-2 0h1m-2 0h1m-7 0h1m-2 0h1m-4 0h1m-2 0h1m-5 0h1m-2 0h1m-3 0h1m-2 0h1m-2 0h1m-3 0h1m-1 1h1h1m4 0h1m1 0h1h1h1h1m2 0h1m1 0h1h1h1m1 0h1h1h1h1m2 0h1h1h1h1m1 0h1m1 0h1m2 0h1m1 0h1h1m1 0h1m1 0h1h1h1h1h1h1h1m3 0h1m2 0h1m5 0h1m10 0h1m-6 1h1m-10 0h1m-4 0h1m-6 0h1m-3 0h1m-2 0h1m-2 0h1m-4 0h1m-2 0h1m-2 0h1m-2 0h1m-3 0h1m-7 0h1m-3 0h1m-2 0h1m-2 0h1m-2 0h1m-2 0h1m-6 0h1m-6 0h1m-3 0h1m-3 0h1m-2 0h1m-4 0h1m-6 0h1m-5 0h1m-1 1h1m1 0h1m3 0h1h1h1m3 0h1m1 0h1m5 0h1h1m2 0h1h1h1h1m4 0h1h1h1m1 0h1m4 0h1h1h1h1m2 0h1m1 0h1h1m2 0h1m1 0h1h1m1 0h1m3 0h1h1m5 0h1m9 0h1m11 1h1m-6 0h1m-2 0h1m-12 0h1m-2 0h1m-17 0h1m-3 0h1m-2 0h1m-2 0h1m-2 0h1m-4 0h1m-2 0h1m-2 0h1m-4 0h1m-3 0h1m-3 0h1m-2 0h1m-2 0h1m-3 0h1m-2 0h1m-4 0h1m-3 0h1m-3 0h1m-2 0h1m-3 0h1m-2 0h1m-2 0h1m-2 0h1m-4 0h1m-2 0h1m-3 0h1m-2 0h1m-3 0h1m-2 0h1m-2 0h1m-4 0h1m-3 0h1m-5 0h1m-3 0h1m-1 1h1m3 0h1m1 0h1h1m2 0h1h1m1 0h1h1m2 0h1m2 0h1m3 0h1m1 0h1h1h1m3 0h1h1m2 0h1h1m2 0h1h1m1 0h1h1m3 0h1h1m1 0h1m2 0h1h1h1h1h1m1 0h1m2 0h1m1 0h1m5 0h1m4 0h1m1 0h1m7 0h1m-23 1h1m-2 0h1m-8 0h1m-3 0h1m-2 0h1m-2 0h1m-2 0h1m-4 0h1m-3 0h1m-5 0h1m-2 0h1m-2 0h1m-3 0h1m-5 0h1m-4 0h1m-2 0h1m-2 0h1m-2 0h1m-3 0h1m-5 0h1m-9 0h1m-3 0h1m-2 0h1m-3 0h1m-2 0h1m-2 0h1m-4 0h1m-2 0h1m-2 0h1m-3 0h1m-1 1h1m2 0h1m4 0h1m2 0h1h1m1 0h1m1 0h1h1h1m1 0h1h1h1h1m1 0h1m1 0h1h1m1 0h1m1 0h1m1 0h1h1m2 0h1h1h1h1h1m2 0h1m1 0h1m3 0h1h1m3 0h1m2 0h1m5 0h1m1 0h1h1m1 0h1m6 0h1m-5 1h1m-3 0h1m-6 0h1m-4 0h1m-8 0h1m-2 0h1m-2 0h1m-3 0h1m-5 0h1m-6 0h1m-3 0h1m-3 0h1m-3 0h1m-3 0h1m-3 0h1m-2 0h1m-2 0h1m-2 0h1m-2 0h1m-2 0h1m-2 0h1m-2 0h1m-2 0h1m-3 0h1m-3 0h1m-2 0h1m-2 0h1m-2 0h1m-3 0h1m-3 0h1m-2 0h1m-2 0h1m-3 0h1m-2 0h1m-2 0h1m-4 0h1m-5 0h1m-2 0h1m-1 1h1m3 0h1m2 0h1m2 0h1m1 0h1m1 0h1m3 0h1h1m1 0h1m1 0h1m2 0h1h1h1m1 0h1h1h1h1m1 0h1h1h1m1 0h1h1m4 0h1m1 0h1m2 0h1h1m3 0h1h1m22 0h1m-10 1h1m-8 0h1m-2 0h1m-5 0h1m-2 0h1m-3 0h1m-2 0h1m-2 0h1m-4 0h1m-10 0h1m-5 0h1m-2 0h1m-4 0h1m-2 0h1m-2 0h1m-2 0h1m-4 0h1m-2 0h1m-2 0h1m-2 0h1m-2 0h1m-3 0h1m-2 0h1m-4 0h1m-3 0h1m-3 0h1m-2 0h1m-2 0h1m-2 0h1m-2 0h1m-2 0h1m-3 0h1m-3 0h1m-2 0h1m-3 0h1m-2 0h1m-1 1h1m5 0h1h1h1m4 0h1h1h1h1h1h1m1 0h1m3 0h1h1h1m1 0h1h1m1 0h1h1h1m1 0h1m1 0h1h1h1m2 0h1h1m2 0h1h1m1 0h1h1h1h1h1m6 0h1m1 0h1m1 0h1m1 0h1m31 0h1m-37 1h1m-6 0h1m-3 0h1m-3 0h1m-6 0h1m-6 0h1m-2 0h1m-3 0h1m-3 0h1m-2 0h1m-3 0h1m-3 0h1m-3 0h1m-2 0h1m-2 0h1m-3 0h1m-4 0h1m-3 0h1m-2 0h1m-2 0h1m-2 0h1m-2 0h1m-2 0h1m-2 0h1m-4 0h1m-7 0h1m-5 0h1m-2 0h1m-3 0h1m-1 1h1m1 0h1m10 0h1h1h1m4 0h1m1 0h1m1 0h1h1m3 0h1m1 0h1h1m2 0h1h1m2 0h1h1h1m3 0h1m1 0h1m1 0h1m1 0h1m5 0h1h1m3 0h1m3 0h1h1h1m8 0h1m-19 1h1m-5 0h1m-2 0h1m-3 0h1m-4 0h1m-2 0h1m-6 0h1m-7 0h1m-6 0h1m-3 0h1m-2 0h1m-2 0h1m-3 0h1m-3 0h1m-5 0h1m-9 0h1m-2 0h1m-2 0h1m-2 0h1m-2 0h1m-7 0h1m-2 0h1m-2 0h1m-1 1h1m2 0h1m1 0h1h1m2 0h1h1h1h1h1m3 0h1h1h1m1 0h1m2 0h1h1h1m1 0h1m2 0h1h1m3 0h1m1 0h1m3 0h1m1 0h1h1m4 0h1m2 0h1m12 0h1m1 0h1m7 0h1m-2 1h1m-4 0h1m-6 0h1m-6 0h1m-8 0h1m-4 0h1m-3 0h1m-2 0h1m-4 0h1m-9 0h1m-3 0h1m-3 0h1m-2 0h1m-2 0h1m-4 0h1m-2 0h1m-3 0h1m-4 0h1m-2 0h1m-4 0h1m-3 0h1m-4 0h1m-6 0h1m-2 0h1m-3 0h1m-3 0h1m-2 0h1m-4 0h1m-1 1h1h1h1m5 0h1h1h1m1 0h1m1 0h1m1 0h1h1m6 0h1m2 0h1h1m1 0h1m1 0h1h1m4 0h1h1h1m5 0h1m29 1h1m-15 0h1m-2 0h1m-6 0h1m-2 0h1m-3 0h1m-5 0h1m-5 0h1m-3 0h1m-2 0h1m-2 0h1m-2 0h1m-3 0h1m-2 0h1m-2 0h1m-4 0h1m-2 0h1m-2 0h1m-3 0h1m-3 0h1m-5 0h1m-3 0h1m-3 0h1m-3 0h1m-4 0h1m-4 0h1m-3 0h1m-2 0h1m-2 0h1m-5 0h1m-2 0h1m-3 0h1m-1 1h1m5 0h1m1 0h1m1 0h1h1h1h1h1h1h1h1h1h1h1m4 0h1h1m1 0h1h1m1 0h1m1 0h1m2 0h1h1m3 0h1m1 0h1m5 0h1m2 0h1m3 0h1m2 0h1h1m-8 1h1m-8 0h1m-4 0h1m-3 0h1m-7 0h1m-3 0h1m-4 0h1m-2 0h1m-2 0h1m-6 0h1m-2 0h1m-4 0h1m-2 0h1m-4 0h1m-2 0h1m-2 0h1m-2 0h1m-8 0h1m-3 0h1m-2 0h1m-3 0h1m-1 1h1h1h1m2 0h1h1h1h1m1 0h1m2 0h1h1m1 0h1h1m4 0h1h1m1 0h1m2 0h1m1 0h1m2 0h1h1h1m5 0h1m2 0h1h1m1 0h1m1 0h1m1 0h1h1m16 0h1m12 0h1m-22 1h1m-4 0h1m-7 0h1m-4 0h1m-2 0h1m-4 0h1m-2 0h1m-2 0h1m-6 0h1m-6 0h1m-2 0h1m-2 0h1m-5 0h1m-4 0h1m-2 0h1m-5 0h1m-2 0h1m-2 0h1m-2 0h1m-3 0h1m-2 0h1m-2 0h1m-2 0h1m-3 0h1m-3 0h1m-2 0h1m-2 0h1m-4 0h1m-3 0h1m-1 1h1m5 0h1m1 0h1h1h1m2 0h1h1m1 0h1m2 0h1h1m3 0h1m1 0h1h1m1 0h1m3 0h1m1 0h1m1 0h1m3 0h1m10 0h1m3 0h1m2 0h1m3 0h1m4 0h1m3 0h1m7 0h1m3 0h1m-25 1h1m-7 0h1m-2 0h1m-2 0h1m-5 0h1m-2 0h1m-5 0h1m-3 0h1m-5 0h1m-2 0h1m-5 0h1m-2 0h1m-3 0h1m-4 0h1m-3 0h1m-2 0h1m-6 0h1m-2 0h1m-3 0h1m-2 0h1m-6 0h1m-2 0h1m-9 0h1m-1 1h1h1h1h1h1m1 0h1h1h1h1m3 0h1m2 0h1h1h1m1 0h1h1h1h1h1m1 0h1h1h1m1 0h1m1 0h1h1m4 0h1m2 0h1h1h1h1m1 0h1h1h1m2 0h1h1h1m8 0h1m1 0h1m7 1h1m-12 0h1m-7 0h1m-10 0h1m-2 0h1m-11 0h1m-5 0h1m-2 0h1m-2 0h1m-2 0h1m-4 0h1m-5 0h1m-3 0h1m-2 0h1m-6 0h1m-3 0h1m-2 0h1m-2 0h1m-3 0h1m-7 0h1m-2 0h1m-1 1h1m4 0h1m4 0h1m1 0h1m1 0h1m3 0h1h1h1h1h1m3 0h1h1h1h1m3 0h1h1m1 0h1m4 0h1m3 0h1m1 0h1m4 0h1m6 0h1m-6 1h1m-6 0h1m-4 0h1m-2 0h1m-5 0h1m-3 0h1m-4 0h1m-7 0h1m-2 0h1m-2 0h1m-3 0h1m-5 0h1m-3 0h1m-2 0h1m-2 0h1m-5 0h1m-4 0h1m-2 0h1m-2 0h1m-3 0h1m-3 0h1m-2 0h1m-3 0h1m-3 0h1m-1 1h1h1m1 0h1m1 0h1m2 0h1h1m1 0h1m4 0h1m1 0h1m1 0h1m11 0h1h1h1h1m4 0h1m6 0h1h1h1m1 0h1m10 0h1m-12 1h1m-6 0h1m-3 0h1m-2 0h1m-2 0h1m-4 0h1m-8 0h1m-4 0h1m-7 0h1m-3 0h1m-7 0h1m-2 0h1m-5 0h1m-2 0h1m-2 0h1m-3 0h1m-3 0h1m-2 0h1m-4 0h1m-1 1h1m2 0h1m7 0h1h1m1 0h1m2 0h1h1h1m3 0h1m1 0h1m5 0h1m2 0h1h1m1 0h1m2 0h1m7 0h1m17 0h1m-19 1h1m-12 0h1m-3 0h1m-7 0h1m-2 0h1m-5 0h1m-4 0h1m-5 0h1m-2 0h1m-4 0h1m-7 0h1m-2 0h1m-7 0h1m-1 1h1m3 0h1m2 0h1m3 0h1m2 0h1m1 0h1m3 0h1h1h1h1m2 0h1m6 0h1h1m2 0h1m5 0h1m7 0h1m3 0h1m27 1h1m-26 0h1m-28 0h1m-4 0h1m-3 0h1m-2 0h1m-3 0h1m-3 0h1m-2 0h1m-2 0h1m-2 0h1m-2 0h1m-4 0h1m-6 0h1m-4 0h1m-7 0h1m-1 1h1h1m1 0h1m1 0h1h1m2 0h1m1 0h1m5 0h1m2 0h1m1 0h1h1m2 0h1m3 0h1h1m2 0h1m5 0h1m11 0h1m9 0h1m-7 1h1m-8 0h1m-3 0h1m-4 0h1m-10 0h1m-7 0h1m-2 0h1m-4 0h1m-6 0h1m-2 0h1m-5 0h1m-8 0h1m-2 0h1m-6 0h1m-3 0h1m-1 1h1m1 0h1m4 0h1m3 0h1m3 0h1m3 0h1m3 0h1m4 0h1m3 0h1m3 0h1m4 0h1m7 0h1m4 0h1m1 0h1h1m0 1h1m-8 0h1m-14 0h1m-2 0h1m-4 0h1m-9 0h1m-5 0h1m-2 0h1m-3 0h1m-3 0h1m-6 0h1m-3 0h1m-7 0h1m-5 0h1m-1 1h1h1m1 0h1m4 0h1m6 0h1m4 0h1m21 0h1h1m8 0h1m4 0h1m-1 1h1m-2 0h1m-21 0h1m-10 0h1m-2 0h1m-6 0h1m-2 0h1m-5 0h1m-2 0h1m-2 0h1m-5 0h1m-8 0h1m-4 0h1m-1 1h1m4 0h1h1m2 0h1m2 0h1m1 0h1h1m3 0h1m1 0h1m5 0h1m1 0h1m2 0h1m4 0h1h1m10 0h1m6 0h1m-7 1h1m-5 0h1m-9 0h1m-9 0h1m-11 0h1m-2 0h1m-7 0h1m-7 0h1m-3 0h1m-5 0h1m-2 0h1m-1 1h1h1m3 0h1h1m2 0h1h1h1m2 0h1m4 0h1m1 0h1m1 0h1m2 0h1m8 0h1m5 0h1m-6 1h1m-3 0h1m-3 0h1m-7 0h1m-6 0h1m-5 0h1m-3 0h1m-2 0h1m-2 0h1m-6 0h1m-9 0h1m-1 1h1m2 0h1h1m8 0h1m2 0h1m6 0h1m2 0h1h1m13 0h1h1m2 1h1m-12 0h1m-4 0h1m-3 0h1m-9 0h1m-5 0h1m-2 0h1m-2 0h1m-5 0h1m-3 0h1m-4 0h1m-2 0h1m-5 0h1m-2 0h1m-1 1h1h1m4 0h1h1m3 0h1m5 0h1m9 0h1m5 0h1m4 0h1m2 0h1m0 1h1m-6 0h1m-16 0h1m-2 0h1m-5 0h1m-8 0h1m-2 0h1m-10 0h1m-1 1h1m5 0h1m1 0h1h1m8 0h1m5 0h1m2 0h1h1m6 0h1m2 0h1m5 0h1m-2 1h1m-2 0h1m-10 0h1m-2 0h1m-9 0h1m-4 0h1m-4 0h1m-17 0h1m-3 0h1m-1 1h1h1m6 0h1m6 0h1m7 0h1m8 0h1m5 0h1m2 1h1m-12 0h1m-10 0h1m-6 0h1m-2 0h1m-2 0h1m-3 0h1m-6 0h1m-8 0h1m-1 1h1" stroke="#df2a2e" stroke-width="1" fill="none"/>
<path transform="scale(2)" d="M959 94h1m-18 10h1m-23 11h1m11 3h1m-8 7h1h1m-9 7h1m-5 0h1m-4 0h1m7 1h1m-8 3h1m-9 0h1m-8 5h1m15 0h1m-28 10h1m3 1h1m-2 1h1m-8 1h1m16 1h1m-10 0h1m-3 0h1m-3 1h1m5 0h1m2 0h1m-13 1h1m-4 0h1m2 1h1m9 2h1m-13 0h1m-6 0h1m2 1h1m10 1h1m-10 2h1m-1 1h1m-19 1h1m4 0h1m12 1h1m-5 3h1m-2 4h1m-3 0h1m-10 1h1m-7 1h1m8 2h1m7 1h1m-22 0h1m-6 0h1m1 3h1m11 0h1m9 0h1m-2 2h1m-38 3h1m22 0h1m-9 2h1m-3 3h1m1 0h1m-5 3h1m-11 1h1m5 1h1m-10 1h1m11 0h1h1m-5 1h1m-6 1h1m-1 1h1m6 1h1m0 1h1m-17 4h1m0 3h1m-18 5h1m6 3h1m-12 0h1m10 3h1m-1 9h1m-11 3h1m2 1h1" stroke="#df2a2e" stroke-width="1" fill="none"/>
<path transform="scale(2)" d="M443 433h1m-8 3h1m4 4h1m12 2h1m-24 4h1m14 0h1m-24 1h1m13 1h1m9 0h1m-4 1h1m-25 0h1m-5 0h1m-87 1h1m26 0h1m68 0h1m2 0h1m19 1h1m-3 0h1m-7 0h1m-21 0h1m-3 1h1m11 0h1h1m5 0h1m8 0h1m-7 1h1m-13 0h1m-9 0h1m-101 0h1m37 1h1m54 0h1m4 0h1m1 0h1m4 0h1m4 0h1m4 0h1m5 0h1m2 1h1m-5 0h1m-7 0h1m-11 0h1m-3 0h1m-2 0h1m-8 1h1m2 0h1m11 0h1m1 0h1m3 0h1m1 0h1m2 0h1m2 0h1m1 0h1m3 1h1m-10 0h1m-10 0h1m-3 0h1m-7 0h1m-2 0h1m-7 0h1m-4 0h1m6 1h1m4 0h1m16 0h1m6 0h1m2 0h1m-2 1h1m-8 0h1m-6 0h1m-2 0h1m-3 0h1m-6 0h1m-8 0h1m-4 0h1m-19 1h1h1m13 0h1m1 0h1m2 0h1h1m5 0h1m5 0h1m8 1h1m-15 0h1m-6 0h1m-4 0h1m-2 0h1m-7 0h1m-8 1h1m7 0h1m10 0h1m2 0h1m13 0h1m10 1h1m-13 0h1m-3 0h1m-6 0h1m-8 0h1m-2 0h1m-11 0h1m-7 0h1m7 1h1m1 0h1m3 0h1m3 0h1m1 0h1h1h1m1 0h1m3 0h1m2 0h1m2 0h1h1m3 0h1h1m-15 1h1m-12 0h1m-7 0h1m-4 0h1m-6 0h1m-2 0h1m-13 0h1m-58 0h1m68 1h1m1 0h1m2 0h1h1h1m1 0h1h1h1h1m1 0h1m4 0h1h1m8 0h1m4 0h1m3 0h1m3 0h1m-12 1h1m-7 0h1m-9 0h1m-2 0h1m-4 0h1m-2 0h1m-2 0h1m-4 0h1m-6 0h1m-13 1h1m2 0h1h1m5 0h1h1m1 0h1h1m1 0h1h1m2 0h1h1h1m2 0h1h1m2 0h1h1m1 0h1m3 0h1m4 0h1m6 0h1m0 1h1m-7 0h1m-2 0h1m-5 0h1m-2 0h1m-2 0h1m-2 0h1m-3 0h1m-3 0h1m-7 0h1m-15 0h1m-2 0h1m-2 0h1m-2 0h1m-7 0h1m-2 0h1m-6 0h1m-76 0h1m78 1h1m8 0h1m2 0h1m2 0h1m3 0h1m5 0h1h1m5 0h1m2 0h1h1m1 0h1m-2 1h1m-2 0h1m-4 0h1m-5 0h1m-4 0h1m-2 0h1m-4 0h1m-5 0h1m-6 0h1m-3 0h1m-5 0h1m-6 0h1m-5 0h1m-4 0h1m-14 0h1m6 1h1m5 0h1m5 0h1h1m2 0h1h1m3 0h1h1h1m1 0h1h1h1m4 0h1m4 0h1h1m9 0h1m10 0h1m-5 1h1m-3 0h1m-13 0h1m-3 0h1m-2 0h1m-7 0h1m-6 0h1m-4 0h1m-2 0h1m-5 0h1m-4 0h1m-2 0h1m-2 0h1m-8 0h1m-9 0h1m-23 0h1m13 1h1m4 0h1h1m2 0h1m3 0h1m3 0h1m4 0h1h1h1m2 0h1m3 0h1m1 0h1m1 0h1m4 0h1m2 0h1m3 0h1m3 1h1m-5 0h1m-5 0h1m-5 0h1m-4 0h1m-3 0h1m-2 0h1m-2 0h1m-2 0h1m-2 0h1m-5 0h1m-4 0h1m-2 0h1m-2 0h1m-4 0h1m-3 0h1m-3 0h1m-4 0h1m-24 0h1m-3 0h1m-77 1h1m93 0h1m7 0h1m1 0h1m5 0h1h1m2 0h1h1m2 0h1m5 0h1m1 0h1h1h1m6 0h1m10 0h1m8 0h1m-2 1h1m-4 0h1m-12 0h1m-5 0h1m-3 0h1m-2 0h1m-2 0h1m-2 0h1m-2 0h1m-4 0h1m-2 0h1m-2 0h1m-2 0h1m-3 0h1m-2 0h1m-2 0h1m-3 0h1m-3 0h1m-2 0h1m-2 0h1m-5 0h1m-8 0h1m-5 0h1m-36 0h1m-106 0h1m39 1h1m80 0h1m14 0h1h1m5 0h1m2 0h1m2 0h1m3 0h1h1h1h1h1h1m1 0h1h1h1m1 0h1m4 0h1m2 0h1m2 0h1m3 0h1m3 0h1m23 0h1m-13 1h1m-11 0h1m-4 0h1m-5 0h1m-2 0h1m-2 0h1m-2 0h1m-3 0h1m-2 0h1m-3 0h1m-2 0h1m-3 0h1m-7 0h1m-5 0h1m-3 0h1m-2 0h1m-3 0h1m-7 0h1m-2 0h1m-2 0h1m-6 0h1m-6 0h1m-2 0h1m-15 1h1m5 0h1m3 0h1m2 0h1m8 0h1h1m2 0h1m1 0h1h1m2 0h1h1m1 0h1h1h1m1 0h1h1m1 0h1m1 0h1h1h1m5 0h1h1m5 0h1m2 0h1m11 1h1m-7 0h1m-6 0h1m-5 0h1m-4 0h1m-2 0h1m-2 0h1m-2 0h1m-4 0h1m-5 0h1m-3 0h1m-3 0h1m-2 0h1m-3 0h1m-2 0h1m-2 0h1m-3 0h1m-2 0h1m-2 0h1m-2 0h1m-2 0h1m-2 0h1m-2 0h1m-2 0h1m-3 0h1m-2 0h1m-3 0h1m-4 0h1m-3 0h1m-5 0h1m-16 0h1m-6 0h1m-53 0h1m33 1h1m11 0h1m12 0h1m2 0h1m1 0h1m2 0h1m2 0h1m1 0h1m6 0h1m1 0h1h1m1 0h1m1 0h1h1h1m1 0h1h1m1 0h1h1m1 0h1m1 0h1h1h1m2 0h1m1 0h1h1m2 0h1m1 0h1h1m11 0h1m2 0h1m-14 1h1m-3 0h1m-2 0h1m-2 0h1m-2 0h1m-2 0h1m-3 0h1m-5 0h1m-4 0h1m-3 0h1m-3 0h1m-3 0h1m-2 0h1m-2 0h1m-2 0h1m-3 0h1m-2 0h1m-4 0h1m-3 0h1m-2 0h1m-2 0h1m-4 0h1m-3 0h1m-4 0h1m-9 0h1m-9 0h1m-89 0h1m61 1h1m24 0h1m2 0h1m4 0h1m4 0h1m3 0h1m2 0h1m1 0h1h1h1m1 0h1m4 0h1m2 0h1h1h1h1m1 0h1h1m1 0h1h1h1m1 0h1h1m1 0h1h1m1 0h1h1h1h1m3 0h1h1m3 0h1m14 0h1m-2 1h1m-17 0h1m-4 0h1m-6 0h1m-2 0h1m-3 0h1m-2 0h1m-2 0h1m-2 0h1m-2 0h1m-2 0h1m-2 0h1m-2 0h1m-3 0h1m-2 0h1m-2 0h1m-2 0h1m-3 0h1m-2 0h1m-5 0h1m-2 0h1m-8 0h1m-2 0h1m-3 0h1m-2 0h1m-3 0h1m-2 0h1m-4 0h1m-6 0h1m-6 0h1m-2 0h1m-2 0h1m-8 0h1m-62 0h1m65 1h1m9 0h1h1m1 0h1h1m1 0h1m1 0h1m2 0h1m2 0h1h1m1 0h1h1h1h1h1h1h1h1h1h1h1h1h1h1m1 0h1h1h1m1 0h1m1 0h1m1 0h1m2 0h1m3 0h1h1m6 0h1m3 1h1m-3 0h1m-7 0h1m-2 0h1m-3 0h1m-4 0h1m-2 0h1m-7 0h1m-2 0h1m-3 0h1m-3 0h1m-2 0h1m-2 0h1m-2 0h1m-2 0h1m-3 0h1m-2 0h1m-2 0h1m-2 0h1m-2 0h1m-2 0h1m-2 0h1m-2 0h1m-3 0h1m-2 0h1m-2 0h1m-2 0h1m-2 0h1m-2 0h1m-3 0h1m-2 0h1m-2 0h1m-2 0h1m-2 0h1m-3 0h1m-2 0h1m-2 0h1m-3 0h1m-5 0h1m-3 0h1m-2 0h1m-2 0h1m-2 0h1m-4 0h1m-8 0h1m-14 0h1m-98 1h1m81 0h1m41 0h1h1h1m1 0h1m2 0h1h1h1m3 0h1h1h1h1h1h1h1h1h1h1h1h1h1h1h1h1m1 0h1h1h1m1 0h1h1h1h1h1m1 0h1h1h1h1h1h1m1 0h1h1h1m28 1h1m-17 0h1m-2 0h1m-5 0h1m-3 0h1m-3 0h1m-3 0h1m-2 0h1m-3 0h1m-2 0h1m-3 0h1m-3 0h1m-2 0h1m-3 0h1m-2 0h1m-3 0h1m-2 0h1m-2 0h1m-2 0h1m-3 0h1m-2 0h1m-2 0h1m-2 0h1m-2 0h1m-2 0h1m-2 0h1m-2 0h1m-2 0h1m-2 0h1m-2 0h1m-2 0h1m-2 0h1m-2 0h1m-2 0h1m-2 0h1m-3 0h1m-2 0h1m-3 0h1m-2 0h1m-3 0h1m-2 0h1m-2 0h1m-3 0h1m-2 0h1m-4 0h1m-3 0h1m-3 0h1m-4 0h1m-2 0h1m-4 0h1m-5 0h1m-52 0h1m-45 0h1m85 1h1m5 0h1m3 0h1m6 0h1m1 0h1m2 0h1h1h1h1h1h1h1h1m2 0h1h1m1 0h1m2 0h1h1h1h1h1h1h1h1h1h1h1m1 0h1h1h1h1h1m2 0h1h1h1h1h1m4 0h1m1 0h1m8 0h1m8 1h1m-13 0h1m-8 0h1m-4 0h1m-2 0h1m-2 0h1m-2 0h1m-2 0h1m-2 0h1m-3 0h1m-3 0h1m-2 0h1m-3 0h1m-2 0h1m-2 0h1m-3 0h1m-2 0h1m-2 0h1m-3 0h1m-2 0h1m-2 0h1m-2 0h1m-2 0h1m-2 0h1m-3 0h1m-2 0h1m-2 0h1m-2 0h1m-2 0h1m-2 0h1m-2 0h1m-2 0h1m-4 0h1m-4 0h1m-2 0h1m-2 0h1m-2 0h1m-13 0h1m-10 0h1m-100 1h1m23 0h1m28 0h1m53 0h1m1 0h1h1m3 0h1h1m2 0h1h1m1 0h1h1m1 0h1m1 0h1h1h1h1h1m1 0h1h1h1h1h1h1h1h1h1h1h1h1h1h1h1h1h1h1h1h1h1h1m1 0h1h1h1m1 0h1h1h1m2 0h1h1h1m2 0h1m6 0h1h1m9 0h1m-13 1h1m-3 0h1m-5 0h1m-2 0h1m-2 0h1m-6 0h1m-2 0h1m-3 0h1m-2 0h1m-2 0h1m-2 0h1m-2 0h1m-2 0h1m-3 0h1m-2 0h1m-2 0h1m-2 0h1m-2 0h1m-2 0h1m-2 0h1m-2 0h1m-3 0h1m-2 0h1m-2 0h1m-2 0h1m-2 0h1m-3 0h1m-3 0h1m-2 0h1m-2 0h1m-2 0h1m-3 0h1m-2 0h1m-2 0h1m-2 0h1m-2 0h1m-3 0h1m-2 0h1m-3 0h1m-3 0h1m-2 0h1m-2 0h1m-3 0h1m-12 0h1m-6 0h1m-23 0h1m-33 0h1m-32 0h1m-17 0h1m108 1h1m2 0h1h1m4 0h1m1 0h1h1h1h1h1h1h1m2 0h1h1h1h1h1h1h1h1h1h1h1h1h1h1h1h1h1h1h1h1h1m2 0h1h1h1h1m1 0h1h1h1h1h1h1h1m1 0h1m1 0h1m2 0h1h1h1h1m1 1h1m-3 0h1m-3 0h1m-4 0h1m-3 0h1m-2 0h1m-4 0h1m-2 0h1m-2 0h1m-2 0h1m-2 0h1m-2 0h1m-2 0h1m-2 0h1m-2 0h1m-2 0h1m-2 0h1m-3 0h1m-3 0h1m-3 0h1m-3 0h1m-2 0h1m-2 0h1m-2 0h1m-2 0h1m-2 0h1m-2 0h1m-3 0h1m-2 0h1m-2 0h1m-2 0h1m-2 0h1m-2 0h1m-2 0h1m-2 0h1m-2 0h1m-3 0h1m-2 0h1m-2 0h1m-2 0h1m-3 0h1m-2 0h1m-2 0h1m-3 0h1m-2 0h1m-2 0h1m-22 0h1m-46 0h1m-16 0h1m-27 0h1m-21 1h1m92 0h1m1 0h1m10 0h1m6 0h1m1 0h1h1m1 0h1h1h1m3 0h1m5 0h1m4 0h1h1h1m2 0h1h1h1h1h1h1h1h1h1h1h1h1h1h1h1h1h1h1h1h1h1h1h1h1h1h1h1h1m2 0h1h1m2 0h1h1m4 0h1m1 0h1m4 0h1m6 0h1m-7 1h1m-4 0h1m-2 0h1m-3 0h1m-2 0h1m-2 0h1m-4 0h1m-3 0h1m-3 0h1m-3 0h1m-2 0h1m-2 0h1m-2 0h1m-2 0h1m-2 0h1m-2 0h1m-2 0h1m-2 0h1m-2 0h1m-2 0h1m-3 0h1m-2 0h1m-2 0h1m-2 0h1m-2 0h1m-2 0h1m-2 0h1m-2 0h1m-2 0h1m-2 0h1m-2 0h1m-2 0h1m-2 0h1m-2 0h1m-2 0h1m-2 0h1m-2 0h1m-2 0h1m-2 0h1m-2 0h1m-3 0h1m-2 0h1m-2 0h1m-4 0h1m-2 0h1m-2 0h1m-5 0h1m-2 0h1m-6 0h1m-2 0h1m-3 0h1m-4 0h1m-3 0h1m-4 0h1m-23 0h1m-26 0h1m-32 0h1m78 1h1m7 0h1m1 0h1h1m2 0h1h1m1 0h1m1 0h1h1m1 0h1h1m1 0h1h1h1h1h1h1h1m1 0h1h1h1h1h1h1h1h1h1h1h1m1 0h1h1h1h1h1h1h1h1h1h1m1 0h1h1h1h1h1m1 0h1h1h1m1 0h1m3 0h1h1m3 0h1h1m-4 1h1m-2 0h1m-5 0h1m-2 0h1m-2 0h1m-3 0h1m-2 0h1m-2 0h1m-2 0h1m-3 0h1m-2 0h1m-2 0h1m-2 0h1m-2 0h1m-3 0h1m-4 0h1m-3 0h1m-3 0h1m-2 0h1m-2 0h1m-3 0h1m-2 0h1m-2 0h1m-2 0h1m-2 0h1m-3 0h1m-2 0h1m-2 0h1m-2 0h1m-2 0h1m-2 0h1m-4 0h1m-2 0h1m-2 0h1m-3 0h1m-2 0h1m-2 0h1m-2 0h1m-2 0h1m-5 0h1m-4 0h1m-4 0h1m-25 0h1m-8 0h1m-3 0h1m-77 1h1m78 0h1m26 0h1m1 0h1m1 0h1h1m2 0h1h1h1h1h1h1h1h1h1h1h1h1h1h1h1h1h1h1h1h1h1h1h1h1h1h1h1h1h1h1h1h1h1h1h1h1h1h1h1h1h1m1 0h1h1h1h1h1h1m2 0h1m2 0h1m7 0h1m-1 1h1m-7 0h1m-2 0h1m-3 0h1m-2 0h1m-3 0h1m-2 0h1m-5 0h1m-2 0h1m-2 0h1m-3 0h1m-2 0h1m-2 0h1m-2 0h1m-2 0h1m-2 0h1m-2 0h1m-2 0h1m-2 0h1m-3 0h1m-2 0h1m-2 0h1m-2 0h1m-2 0h1m-2 0h1m-2 0h1m-2 0h1m-2 0h1m-2 0h1m-2 0h1m-2 0h1m-2 0h1m-2 0h1m-2 0h1m-2 0h1m-2 0h1m-2 0h1m-2 0h1m-2 0h1m-2 0h1m-4 0h1m-2 0h1m-3 0h1m-2 0h1m-2 0h1m-2 0h1m-2 0h1m-2 0h1m-2 0h1m-4 0h1m-2 0h1m-4 0h1m-3 0h1m-57 0h1m-2 0h1m-21 0h1m3 1h1m44 0h1m13 0h1m9 0h1m3 0h1m3 0h1h1h1m3 0h1h1m1 0h1h1h1h1h1h1h1h1h1h1m1 0h1h1h1h1h1h1h1h1h1h1h1h1h1h1h1h1m1 0h1h1h1h1h1h1h1h1m1 0h1h1h1h1h1h1h1h1m1 0h1h1h1m1 0h1m1 0h1h1m6 0h1m-6 1h1m-2 0h1m-3 0h1m-2 0h1m-3 0h1m-3 0h1m-2 0h1m-3 0h1m-4 0h1m-2 0h1m-2 0h1m-2 0h1m-2 0h1m-2 0h1m-2 0h1m-2 0h1m-2 0h1m-2 0h1m-2 0h1m-2 0h1m-2 0h1m-4 0h1m-2 0h1m-2 0h1m-2 0h1m-2 0h1m-2 0h1m-2 0h1m-3 0h1m-2 0h1m-2 0h1m-2 0h1m-2 0h1m-2 0h1m-2 0h1m-2 0h1m-2 0h1m-2 0h1m-2 0h1m-2 0h1m-2 0h1m-2 0h1m-2 0h1m-2 0h1m-3 0h1m-2 0h1m-3 0h1m-2 0h1m-3 0h1m-3 0h1m-2 0h1m-5 0h1m-3 0h1m-2 0h1m-5 0h1m-4 0h1m-7 0h1m-5 0h1m-9 0h1m-10 0h1m-6 0h1m-23 0h1m-27 0h1m42 1h1m13 0h1m5 0h1m7 0h1m1 0h1m8 0h1m1 0h1m1 0h1m4 0h1m1 0h1m2 0h1h1h1h1h1h1h1h1h1m1 0h1h1h1h1h1h1h1h1h1h1h1m1 0h1h1h1h1m1 0h1h1h1h1h1h1h1h1h1h1h1h1h1h1h1h1h1m2 0h1h1h1m1 0h1h1m1 0h1h1m6 0h1m2 0h1m-1 1h1m-10 0h1m-3 0h1m-3 0h1m-5 0h1m-4 0h1m-3 0h1m-3 0h1m-6 0h1m-2 0h1m-2 0h1m-2 0h1m-2 0h1m-2 0h1m-2 0h1m-2 0h1m-2 0h1m-2 0h1m-2 0h1m-2 0h1m-2 0h1m-2 0h1m-2 0h1m-2 0h1m-2 0h1m-2 0h1m-3 0h1m-3 0h1m-2 0h1m-2 0h1m-2 0h1m-2 0h1m-2 0h1m-3 0h1m-2 0h1m-2 0h1m-2 0h1m-2 0h1m-4 0h1m-12 0h1m-13 0h1m-7 0h1m-11 0h1m-3 0h1m-15 0h1m-4 0h1m-18 0h1m-14 0h1m-32 1h1m2 0h1m67 0h1m2 0h1m7 0h1m2 0h1m12 0h1m3 0h1m5 0h1h1m1 0h1m2 0h1h1m2 0h1h1h1h1h1h1m1 0h1h1h1h1h1h1h1h1h1h1h1h1h1h1h1h1h1h1m1 0h1h1h1h1h1h1h1h1h1m1 0h1h1h1m1 0h1h1h1h1h1h1m3 0h1h1h1h1m1 0h1m6 0h1m13 1h1m-10 0h1m-18 0h1m-3 0h1m-2 0h1m-3 0h1m-3 0h1m-4 0h1m-2 0h1m-2 0h1m-2 0h1m-2 0h1m-2 0h1m-2 0h1m-2 0h1m-2 0h1m-3 0h1m-2 0h1m-2 0h1m-2 0h1m-2 0h1m-2 0h1m-2 0h1m-2 0h1m-2 0h1m-2 0h1m-2 0h1m-2 0h1m-2 0h1m-3 0h1m-3 0h1m-3 0h1m-3 0h1m-2 0h1m-2 0h1m-2 0h1m-5 0h1m-3 0h1m-2 0h1m-2 0h1m-2 0h1m-2 0h1m-2 0h1m-2 0h1m-3 0h1m-9 0h1m-22 0h1m-14 0h1m-4 0h1m-25 0h1m-20 0h1m-12 0h1m47 1h1m3 0h1m5 0h1m8 0h1h1h1m12 0h1m3 0h1h1m1 0h1m1 0h1h1h1h1m2 0h1h1h1h1h1h1h1h1h1h1h1h1h1h1h1h1h1h1h1h1h1h1h1h1h1h1h1h1h1h1h1h1h1h1h1h1h1h1h1h1h1h1h1m1 0h1h1h1h1h1h1h1h1h1h1h1m3 0h1h1h1m3 0h1m2 0h1m2 0h1m6 1h1m-18 0h1m-2 0h1m-2 0h1m-3 0h1m-2 0h1m-3 0h1m-3 0h1m-2 0h1m-2 0h1m-2 0h1m-2 0h1m-2 0h1m-2 0h1m-2 0h1m-2 0h1m-2 0h1m-2 0h1m-2 0h1m-2 0h1m-2 0h1m-2 0h1m-2 0h1m-2 0h1m-2 0h1m-2 0h1m-2 0h1m-2 0h1m-3 0h1m-2 0h1m-2 0h1m-2 0h1m-3 0h1m-2 0h1m-2 0h1m-2 0h1m-2 0h1m-2 0h1m-2 0h1m-4 0h1m-2 0h1m-2 0h1m-2 0h1m-2 0h1m-7 0h1m-2 0h1m-4 0h1m-2 0h1m-4 0h1m-3 0h1m-5 0h1m-22 0h1m-3 0h1m-3 0h1m-11 0h1m-3 0h1m-3 0h1m-53 0h1m15 1h1m15 0h1h1m13 0h1m1 0h1m1 0h1m3 0h1m1 0h1m4 0h1m6 0h1m5 0h1m1 0h1m4 0h1h1m2 0h1m4 0h1h1h1m4 0h1h1m1 0h1h1h1m1 0h1h1m2 0h1h1h1h1h1h1h1h1h1h1m1 0h1h1h1h1h1h1h1h1h1h1h1h1h1h1h1h1h1h1h1h1h1h1h1m1 0h1m1 0h1h1m1 0h1h1h1h1h1h1h1h1h1h1m4 0h1h1h1m4 0h1m-9 1h1m-2 0h1m-5 0h1m-4 0h1m-2 0h1m-3 0h1m-3 0h1m-3 0h1m-2 0h1m-3 0h1m-2 0h1m-2 0h1m-2 0h1m-2 0h1m-2 0h1m-2 0h1m-2 0h1m-2 0h1m-3 0h1m-2 0h1m-3 0h1m-2 0h1m-2 0h1m-2 0h1m-2 0h1m-2 0h1m-2 0h1m-2 0h1m-2 0h1m-3 0h1m-2 0h1m-2 0h1m-2 0h1m-2 0h1m-2 0h1m-2 0h1m-2 0h1m-2 0h1m-2 0h1m-4 0h1m-2 0h1m-2 0h1m-2 0h1m-2 0h1m-2 0h1m-2 0h1m-4 0h1m-2 0h1m-3 0h1m-7 0h1m-8 0h1m-5 0h1m-3 0h1m-5 0h1m-6 0h1m-6 0h1m-72 0h1m28 1h1m25 0h1m7 0h1m7 0h1m2 0h1h1m1 0h1m5 0h1h1m3 0h1h1m2 0h1h1m4 0h1h1m1 0h1h1h1m3 0h1m1 0h1h1m1 0h1h1h1h1h1h1h1m1 0h1h1m1 0h1h1h1h1h1m1 0h1h1h1h1h1h1h1m2 0h1h1h1h1h1h1h1h1h1h1h1h1h1h1h1h1m2 0h1h1m1 0h1h1h1h1m1 0h1m3 0h1m5 0h1m3 1h1m-4 0h1m-4 0h1m-5 0h1m-3 0h1m-4 0h1m-3 0h1m-2 0h1m-4 0h1m-2 0h1m-2 0h1m-3 0h1m-2 0h1m-2 0h1m-3 0h1m-2 0h1m-2 0h1m-2 0h1m-2 0h1m-2 0h1m-2 0h1m-2 0h1m-2 0h1m-2 0h1m-2 0h1m-2 0h1m-2 0h1m-2 0h1m-3 0h1m-2 0h1m-2 0h1m-2 0h1m-2 0h1m-2 0h1m-2 0h1m-2 0h1m-2 0h1m-2 0h1m-2 0h1m-2 0h1m-2 0h1m-2 0h1m-2 0h1m-2 0h1m-3 0h1m-3 0h1m-2 0h1m-2 0h1m-2 0h1m-4 0h1m-4 0h1m-4 0h1m-2 0h1m-2 0h1m-4 0h1m-4 0h1m-4 0h1m-5 0h1m-4 0h1m-3 0h1m-3 0h1m-3 0h1m-2 0h1m-3 0h1m-4 0h1m-3 0h1m-4 0h1m-2 0h1m-3 0h1m-7 0h1m-2 0h1m-5 0h1m-57 0h1m-3 0h1m-6 0h1m-1 1h1m63 0h1m1 0h1m5 0h1m2 0h1h1m1 0h1m7 0h1m1 0h1h1m1 0h1m2 0h1h1h1h1h1h1m1 0h1m1 0h1m1 0h1h1m2 0h1h1m2 0h1m2 0h1h1h1h1h1h1h1h1h1h1h1h1h1h1h1m1 0h1h1h1m1 0h1h1h1m1 0h1h1h1h1h1h1h1m2 0h1h1h1h1h1h1h1h1h1h1h1h1h1m1 0h1h1m1 0h1h1m1 0h1m7 0h1h1m1 0h1h1m-3 1h1m-4 0h1m-10 0h1m-5 0h1m-2 0h1m-3 0h1m-2 0h1m-2 0h1m-2 0h1m-2 0h1m-2 0h1m-2 0h1m-2 0h1m-2 0h1m-2 0h1m-2 0h1m-2 0h1m-2 0h1m-2 0h1m-2 0h1m-2 0h1m-2 0h1m-2 0h1m-2 0h1m-2 0h1m-2 0h1m-2 0h1m-2 0h1m-2 0h1m-2 0h1m-2 0h1m-2 0h1m-2 0h1m-2 0h1m-2 0h1m-2 0h1m-2 0h1m-2 0h1m-2 0h1m-2 0h1m-2 0h1m-2 0h1m-2 0h1m-2 0h1m-2 0h1m-2 0h1m-2 0h1m-3 0h1m-4 0h1m-2 0h1m-2 0h1m-3 0h1m-2 0h1m-2 0h1m-2 0h1m-5 0h1m-2 0h1m-2 0h1m-3 0h1m-2 0h1m-2 0h1m-2 0h1m-2 0h1m-4 0h1m-3 0h1m-2 0h1m-2 0h1m-9 0h1m-3 0h1m-7 0h1m-6 0h1m-8 0h1m-10 0h1m-16 0h1m-32 0h1m-6 1h1m2 0h1m3 0h1m27 0h1m7 0h1m5 0h1m4 0h1m5 0h1h1m3 0h1m1 0h1m6 0h1m2 0h1h1m1 0h1m1 0h1h1m1 0h1m1 0h1h1h1h1h1h1m1 0h1h1h1m1 0h1h1h1m1 0h1h1m1 0h1h1h1m1 0h1m1 0h1h1m2 0h1h1h1h1h1h1h1h1h1h1h1h1h1h1h1h1h1h1h1h1h1h1h1h1h1h1h1h1m1 0h1h1h1h1h1h1h1h1h1h1h1h1h1h1h1h1h1m1 0h1h1h1m2 0h1h1h1m1 0h1m5 0h1h1m6 0h1h1m-9 1h1m-6 0h1m-5 0h1m-2 0h1m-2 0h1m-2 0h1m-2 0h1m-2 0h1m-5 0h1m-2 0h1m-2 0h1m-2 0h1m-2 0h1m-2 0h1m-2 0h1m-2 0h1m-2 0h1m-2 0h1m-2 0h1m-2 0h1m-2 0h1m-2 0h1m-2 0h1m-2 0h1m-2 0h1m-2 0h1m-2 0h1m-2 0h1m-2 0h1m-2 0h1m-2 0h1m-2 0h1m-2 0h1m-2 0h1m-2 0h1m-2 0h1m-2 0h1m-2 0h1m-2 0h1m-2 0h1m-2 0h1m-2 0h1m-2 0h1m-3 0h1m-2 0h1m-3 0h1m-2 0h1m-2 0h1m-2 0h1m-2 0h1m-3 0h1m-2 0h1m-2 0h1m-3 0h1m-3 0h1m-2 0h1m-3 0h1m-2 0h1m-3 0h1m-2 0h1m-2 0h1m-2 0h1m-3 0h1m-3 0h1m-2 0h1m-2 0h1m-2 0h1m-2 0h1m-2 0h1m-2 0h1m-2 0h1m-2 0h1m-2 0h1m-2 0h1m-2 0h1m-2 0h1m-2 0h1m-2 0h1m-2 0h1m-6 0h1m-2 0h1m-4 0h1m-6 0h1m-2 0h1m-3 0h1m-4 0h1m-3 0h1m-3 0h1m-9 0h1m-14 0h1m-13 0h1m-5 0h1m-8 0h1m47 1h1m114 1h1m-8 0h1m-2 0h1m-4 0h1m-2 0h1m-3 0h1m-3 0h1m-2 0h1m-2 0h1m-2 0h1m-2 0h1m-3 0h1m-2 0h1m-2 0h1m-2 0h1m-3 0h1m-2 0h1m-2 0h1m-2 0h1m-2 0h1m-2 0h1m-2 0h1m-2 0h1m-2 0h1m-2 0h1m-2 0h1m-2 0h1m-2 0h1m-2 0h1m-2 0h1m-2 0h1m-2 0h1m-2 0h1m-2 0h1m-2 0h1m-2 0h1m-2 0h1m-2 0h1m-2 0h1m-2 0h1m-2 0h1m-2 0h1m-2 0h1m-2 0h1m-2 0h1m-2 0h1m-2 0h1m-2 0h1m-3 0h1m-2 0h1m-2 0h1m-3 0h1m-2 0h1m-2 0h1m-2 0h1m-2 0h1m-2 0h1m-2 0h1m-2 0h1m-2 0h1m-2 0h1m-2 0h1m-2 0h1m-2 0h1m-2 0h1m-2 0h1m-2 0h1m-2 0h1m-5 0h1m-2 0h1m-2 0h1m-2 0h1m-2 0h1m-2 0h1m-2 0h1m-2 0h1m-2 0h1m-2 0h1m-2 0h1m-2 0h1m-2 0h1m-2 0h1m-2 0h1m-4 0h1m-6 0h1m-3 0h1m-4 0h1m-4 0h1m-4 0h1m-4 0h1m-2 0h1m-5 0h1m-3 0h1m-4 0h1m-7 0h1m-2 0h1m-4 0h1m-28 1h1m4 0h1m11 0h1m11 0h1m2 0h1m4 0h1m4 0h1m9 0h1h1m7 0h1m1 0h1h1h1h1h1h1h1m1 0h1h1m2 0h1m1 0h1m1 0h1h1h1h1m1 0h1h1h1h1h1h1h1h1h1h1h1h1h1h1h1h1h1h1h1h1h1h1h1h1h1h1h1h1h1h1h1h1h1h1h1h1h1h1h1h1h1h1h1h1h1h1h1h1h1h1h1h1h1h1h1h1h1h1h1h1h1h1h1h1h1h1h1m1 0h1h1h1m1 0h1h1m1 0h1m3 0h1m5 0h1m4 0h1m-4 2h1m-10 0h1m-3 0h1m-2 0h1m-2 0h1m-2 0h1m-2 0h1m-2 0h1m-2 0h1m-2 0h1m-2 0h1m-2 0h1m-2 0h1m-2 0h1m-2 0h1m-2 0h1m-2 0h1m-2 0h1m-2 0h1m-2 0h1m-2 0h1m-2 0h1m-2 0h1m-2 0h1m-2 0h1m-2 0h1m-2 0h1m-2 0h1m-2 0h1m-2 0h1m-2 0h1m-2 0h1m-2 0h1m-2 0h1m-2 0h1m-2 0h1m-2 0h1m-2 0h1m-2 0h1m-2 0h1m-2 0h1m-2 0h1m-2 0h1m-2 0h1m-2 0h1m-2 0h1m-2 0h1m-2 0h1m-2 0h1m-3 0h1m-2 0h1m-2 0h1m-2 0h1m-2 0h1m-2 0h1m-2 0h1m-3 0h1m-2 0h1m-3 0h1m-2 0h1m-2 0h1m-2 0h1m-2 0h1m-2 0h1m-2 0h1m-2 0h1m-2 0h1m-2 0h1m-2 0h1m-2 0h1m-2 0h1m-2 0h1m-2 0h1m-2 0h1m-2 0h1m-2 0h1m-2 0h1m-2 0h1m-2 0h1m-3 0h1m-2 0h1m-2 0h1m-2 0h1m-3 0h1m-2 0h1m-2 0h1m-2 0h1m-2 0h1m-2 0h1m-2 0h1m-2 0h1m-2 0h1m-2 0h1m-2 0h1m-3 0h1m-2 0h1m-5 0h1m-3 0h1m-3 0h1m-2 0h1m-2 0h1m-7 0h1m-2 0h1m-2 0h1m-2 0h1m-7 0h1m-2 0h1m-8 0h1m-3 0h1m-5 0h1m-5 0h1m-4 0h1m-2 0h1m-2 0h1m-18 2h1m10 0h1m3 0h1m4 0h1m10 0h1h1m6 0h1m3 0h1h1h1m2 0h1h1m3 0h1h1h1m1 0h1m1 0h1h1m2 0h1h1h1h1m1 0h1h1h1h1h1h1h1h1h1h1m1 0h1h1h1h1h1h1h1h1h1h1h1h1h1h1h1h1h1h1h1h1h1h1h1h1h1h1h1h1h1h1h1h1h1h1h1h1h1h1h1h1h1h1h1h1h1h1h1h1h1h1h1h1h1h1h1h1h1h1h1h1h1h1h1h1h1h1h1h1h1h1h1h1h1h1h1h1m1 0h1h1m1 0h1h1h1h1m6 0h1m13 0h1m-7 2h1m-7 0h1m-3 0h1m-3 0h1m-2 0h1m-4 0h1m-4 0h1m-2 0h1m-3 0h1m-2 0h1m-2 0h1m-2 0h1m-2 0h1m-2 0h1m-2 0h1m-2 0h1m-2 0h1m-2 0h1m-2 0h1m-2 0h1m-2 0h1m-2 0h1m-2 0h1m-2 0h1m-2 0h1m-2 0h1m-2 0h1m-2 0h1m-2 0h1m-2 0h1m-2 0h1m-2 0h1m-2 0h1m-2 0h1m-2 0h1m-2 0h1m-2 0h1m-2 0h1m-2 0h1m-2 0h1m-2 0h1m-2 0h1m-2 0h1m-2 0h1m-2 0h1m-2 0h1m-2 0h1m-2 0h1m-2 0h1m-2 0h1m-2 0h1m-2 0h1m-2 0h1m-2 0h1m-2 0h1m-2 0h1m-2 0h1m-2 0h1m-2 0h1m-2 0h1m-2 0h1m-2 0h1m-2 0h1m-2 0h1m-2 0h1m-2 0h1m-2 0h1m-2 0h1m-2 0h1m-2 0h1m-2 0h1m-2 0h1m-2 0h1m-2 0h1m-2 0h1m-2 0h1m-2 0h1m-2 0h1m-2 0h1m-2 0h1m-2 0h1m-2 0h1m-2 0h1m-3 0h1m-2 0h1m-2 0h1m-2 0h1m-2 0h1m-2 0h1m-2 0h1m-2 0h1m-2 0h1m-3 0h1m-2 0h1m-2 0h1m-2 0h1m-2 0h1m-2 0h1m-2 0h1m-2 0h1m-2 0h1m-2 0h1m-2 0h1m-2 0h1m-2 0h1m-2 0h1m-3 0h1m-2 0h1m-2 0h1m-2 0h1m-4 0h1m-2 0h1m-3 0h1m-2 0h1m-3 0h1m-5 0h1m-3 0h1m-7 0h1m-4 0h1m-7 0h1m-2 0h1m-3 0h1m-3 0h1m-5 0h1m-2 0h1m-2 0h1m-4 0h1m-5 0h1m-10 0h1m4 3h1h1m1 0h1m2 0h1h1h1h1m3 0h1m2 0h1m2 0h1m2 0h1m2 0h1m1 0h1m1 0h1h1m2 0h1m1 0h1m1 0h1m1 0h1h1h1m1 0h1h1m1 0h1h1h1h1m3 0h1h1m2 0h1h1h1h1h1h1h1h1h1h1h1h1h1h1h1h1h1h1h1h1h1h1h1h1h1h1h1h1h1h1h1h1h1h1h1h1h1h1h1h1h1h1h1h1h1h1h1h1h1h1h1h1h1h1h1h1h1h1h1h1h1h1h1h1h1h1h1h1h1h1h1h1h1h1h1h1h1h1h1h1h1h1h1h1h1h1h1h1h1m1 0h1h1h1h1h1h1m1 0h1h1h1h1h1h1h1h1m3 3h1m-3 0h1m-3 0h1m-2 0h1m-2 0h1m-2 0h1m-2 0h1m-2 0h1m-2 0h1m-2 0h1m-2 0h1m-2 0h1m-2 0h1m-2 0h1m-2 0h1m-2 0h1m-2 0h1m-2 0h1m-2 0h1m-2 0h1m-2 0h1m-2 0h1m-2 0h1m-2 0h1m-2 0h1m-2 0h1m-2 0h1m-2 0h1m-2 0h1m-2 0h1m-2 0h1m-2 0h1m-2 0h1m-2 0h1m-2 0h1m-2 0h1m-2 0h1m-2 0h1m-2 0h1m-2 0h1m-2 0h1m-2 0h1m-2 0h1m-2 0h1m-2 0h1m-2 0h1m-2 0h1m-2 0h1m-2 0h1m-2 0h1m-2 0h1m-2 0h1m-2 0h1m-2 0h1m-2 0h1m-2 0h1m-2 0h1m-2 0h1m-2 0h1m-2 0h1m-2 0h1m-2 0h1m-2 0h1m-2 0h1m-2 0h1m-2 0h1m-2 0h1m-2 0h1m-2 0h1m-2 0h1m-2 0h1m-2 0h1m-2 0h1m-2 0h1m-2 0h1m-2 0h1m-2 0h1m-2 0h1m-2 0h1m-2 0h1m-2 0h1m-2 0h1m-2 0h1m-2 0h1m-2 0h1m-2 0h1m-2 0h1m-2 0h1m-2 0h1m-2 0h1m-2 0h1m-2 0h1m-2 0h1m-2 0h1m-2 0h1m-2 0h1m-2 0h1m-2 0h1m-2 0h1m-2 0h1m-2 0h1m-2 0h1m-2 0h1m-2 0h1m-2 0h1m-2 0h1m-2 0h1m-2 0h1m-2 0h1m-2 0h1m-2 0h1m-3 0h1m-2 0h1m-2 0h1m-2 0h1m-2 0h1m-3 0h1m-3 0h1m-2 0h1m-2 0h1m-2 0h1m-2 0h1m-2 0h1m-2 0h1m-2 0h1m-2 0h1m-4 0h1m-2 0h1m-2 0h1m-2 0h1m-7 0h1m-6 0h1m-2 0h1m-5 0h1m-4 0h1m-2 0h1m-2 0h1m-2 0h1m-2 0h1m-2 0h1m-5 0h1m-7 4h1h1m1 0h1m2 0h1h1h1m1 0h1h1h1h1m1 0h1h1h1m2 0h1h1h1h1h1m1 0h1h1m1 0h1h1h1m1 0h1m2 0h1m1 0h1h1h1h1h1h1h1h1h1h1h1h1h1h1h1h1h1h1h1h1h1h1h1h1h1h1h1h1h1h1h1h1h1h1h1h1h1h1h1h1h1h1h1h1h1h1h1h1h1h1h1h1h1h1h1h1h1h1h1h1h1h1h1h1h1h1h1h1h1h1h1h1h1h1h1h1h1h1h1h1h1h1h1h1h1h1h1h1h1h1h1h1h1h1h1h1h1h1h1h1h1h1h1h1h1h1h1h1h1h1h1h1h1h1h1m1 0h1h1h1h1h1h1h1m1 0h1h1h1m3 0h1m8 6h1m-7 0h1m-9 0h1m-3 0h1m-2 0h1m-2 0h1m-2 0h1m-2 0h1m-3 0h1m-2 0h1m-2 0h1m-2 0h1m-2 0h1m-2 0h1m-2 0h1m-2 0h1m-2 0h1m-2 0h1m-2 0h1m-2 0h1m-2 0h1m-2 0h1m-2 0h1m-2 0h1m-2 0h1m-2 0h1m-2 0h1m-2 0h1m-2 0h1m-2 0h1m-2 0h1m-2 0h1m-2 0h1m-2 0h1m-2 0h1m-2 0h1m-2 0h1m-2 0h1m-2 0h1m-2 0h1m-2 0h1m-2 0h1m-2 0h1m-2 0h1m-2 0h1m-2 0h1m-2 0h1m-2 0h1m-2 0h1m-2 0h1m-2 0h1m-2 0h1m-2 0h1m-2 0h1m-2 0h1m-2 0h1m-2 0h1m-2 0h1m-2 0h1m-2 0h1m-2 0h1m-2 0h1m-2 0h1m-2 0h1m-2 0h1m-2 0h1m-2 0h1m-2 0h1m-2 0h1m-2 0h1m-2 0h1m-2 0h1m-2 0h1m-2 0h1m-2 0h1m-2 0h1m-2 0h1m-2 0h1m-2 0h1m-2 0h1m-2 0h1m-2 0h1m-2 0h1m-2 0h1m-2 0h1m-2 0h1m-2 0h1m-2 0h1m-2 0h1m-2 0h1m-2 0h1m-2 0h1m-2 0h1m-2 0h1m-2 0h1m-2 0h1m-2 0h1m-2 0h1m-2 0h1m-2 0h1m-2 0h1m-2 0h1m-2 0h1m-2 0h1m-2 0h1m-2 0h1m-2 0h1m-2 0h1m-2 0h1m-2 0h1m-2 0h1m-2 0h1m-2 0h1m-2 0h1m-2 0h1m-2 0h1m-2 0h1m-2 0h1m-2 0h1m-2 0h1m-2 0h1m-2 0h1m-2 0h1m-2 0h1m-2 0h1m-2 0h1m-2 0h1m-2 0h1m-3 0h1m-2 0h1m-2 0h1m-2 0h1m-2 0h1m-3 0h1m-2 0h1m-2 0h1m-3 0h1m-2 0h1m-2 0h1m-4 0h1m-2 0h1m-2 0h1m-2 0h1m-2 0h1m-2 0h1m-3 0h1m-2 0h1m-2 0h1m-2 0h1m-2 0h1m-2 0h1m-2 0h1m-3 0h1m-2 0h1m-3 0h1m-2 0h1m-1 11h1h1h1h1h1h1h1h1h1h1h1h1h1h1h1h1h1h1h1h1h1h1h1h1h1h1h1h1h1h1h1h1h1h1h1h1h1h1h1h1h1h1h1h1h1h1h1h1h1h1h1h1h1h1h1h1h1h1h1h1h1h1h1h1h1h1h1h1h1h1h1h1h1h1h1h1h1h1h1h1h1h1h1h1h1h1h1h1h1h1h1h1h1h1h1h1h1h1h1h1h1h1h1h1h1h1h1h1h1h1h1h1h1h1h1h1h1h1h1h1h1h1h1h1h1h1h1h1h1h1h1h1h1h1h1h1h1h1h1h1h1h1h1h1h1h1h1h1h1h1h1h1h1h1h1h1h1h1h1m1 0h1m3 0h1m2 0h1h1h1h1m1 0h1m1 0h1" stroke="#2a56a3" stroke-width="1" fill="none"/>
<path transform="scale(2)" d="M235 644h1h1h1h1h1h1h1h1h1h1h1h1h1h1h1h1h1h1h1h1h1h1h1h1h1h1h1h1h1h1h1h1h1h1h1h1h1h1h1h1h1h1h1h1h1h1h1h1h1h1h1h1h1h1h1h1h1h1h1h1h1h1h1h1h1h1h1h1h1h1h1h1h1h1h1h1h1h1h1h1h1h1h1h1h1h1h1h1h1h1h1h1h1h1h1h1h1h1h1h1h1h1h1h1h1h1h1h1h1h1h1h1h1h1h1h1h1h1h1h1h1h1h1h1h1h1h1h1h1h1h1h1h1h1h1h1h1h1h1h1h1h1h1h1h1h1h1h1h1h1h1h1h1h1h1h1h1h1h1m1 0h1h1h1h1h1h1m1 0h1m3 0h1h1m6 0h1h1h1m3 0h1m1 0h1h1h1h1m8 0h1h1m28 0h1m7 0h1" stroke="#df2a2e" stroke-width="1" fill="none"/>
<path transform="scale(2)" d="M807 519h1m53 10h1m-46 6h1m21 0h1m-54 1h1m-21 0h1m-24 0h1m74 2h1m48 2h1m-10 0h1m-104 0h1m56 1h1m-40 2h1m-32 2h1m36 0h1m24 1h1m-54 0h1m-10 0h1m-1 1h1m111 0h1m3 1h1m-19 0h1m-54 0h1m-46 0h1m-1 1h1m31 0h1m89 0h1m-48 1h1m-44 0h1m-2 0h1m-28 0h1m-5 0h1m-1 1h1m54 0h1m25 0h1m36 0h1m1 0h1m10 1h1m-39 0h1m-16 0h1m-79 0h1m-1 1h1m60 0h1m28 0h1m20 0h1m11 0h1m-100 1h1m-25 0h1m-1 1h1m14 0h1m7 0h1m12 0h1m18 0h1m9 0h1m3 0h1m35 0h1m-66 1h1m-11 0h1m-8 0h1m-7 0h1m-18 0h1m-1 1h1m20 0h1m13 0h1m32 0h1m40 1h1m-4 0h1m-5 0h1m-10 0h1m-11 0h1m-2 0h1m-30 0h1m-10 0h1m-8 0h1m-15 0h1m-5 0h1m-3 0h1m-13 0h1m-6 0h1m-1 1h1m28 0h1m6 0h1m31 0h1m16 0h1m21 0h1m-10 1h1m-11 0h1m-7 0h1m-14 0h1m-10 0h1m-9 0h1m-10 0h1m-8 0h1m-6 0h1m-32 0h1m-1 1h1m29 0h1m7 0h1m8 0h1m17 0h1m43 0h1m1 0h1m-32 1h1m-5 0h1m-53 0h1m-5 0h1m-4 0h1m-2 0h1m-17 0h1m-1 1h1m51 0h1m12 0h1m15 0h1m15 0h1m1 0h1m2 0h1m14 0h1m2 0h1m14 1h1m-10 0h1m-8 0h1m-2 0h1m-22 0h1m-23 0h1m-16 0h1m-38 0h1m-2 0h1m-10 0h1m-8 0h1m-7 0h1m-1 1h1m28 0h1m30 0h1m23 0h1m24 0h1m14 1h1m-19 0h1m-11 0h1m-11 0h1m-17 0h1m-2 0h1m-6 0h1m-3 0h1m-5 0h1m-15 0h1m-5 0h1m-27 0h1m-4 0h1m-12 0h1m-1 1h1m27 0h1h1m7 0h1m5 0h1m3 0h1h1m5 0h1m5 0h1m1 0h1h1m6 0h1m20 0h1h1m8 0h1m1 0h1m26 0h1m-22 1h1m-12 0h1m-16 0h1m-2 0h1m-9 0h1m-21 0h1m-3 0h1m-6 0h1m-11 0h1m-2 0h1m-6 0h1m-13 0h1m-9 0h1m-10 0h1m-3 0h1m-1 1h1m5 0h1m5 0h1m11 0h1m2 0h1m4 0h1m5 0h1m38 0h1m3 0h1m3 0h1m2 0h1m42 1h1m-3 0h1m-18 0h1m-12 0h1m-2 0h1m-7 0h1m-5 0h1m-4 0h1m-13 0h1m-5 0h1m-3 0h1m-5 0h1m-20 0h1m-5 0h1m-7 0h1m-8 0h1m-4 0h1m-7 0h1m-21 0h1m-1 1h1m10 0h1m17 0h1m18 0h1m2 0h1m1 0h1m23 0h1m7 0h1m18 0h1m2 0h1m6 0h1h1m14 1h1m-3 0h1m-2 0h1m-3 0h1m-7 0h1m-16 0h1m-8 0h1m-13 0h1m-3 0h1m-23 0h1m-45 0h1m-5 0h1m-4 0h1m-11 0h1m-1 1h1m4 0h1m5 0h1m24 0h1m2 0h1m1 0h1m2 0h1m4 0h1m11 0h1m20 0h1m1 0h1m6 0h1m4 0h1m2 0h1m11 0h1m1 0h1m8 1h1m-7 0h1m-3 0h1m-23 0h1m-13 0h1m-6 0h1m-3 0h1m-2 0h1m-2 0h1m-24 0h1m-15 0h1m-22 0h1m-14 1h1m1 0h1h1m44 0h1m9 0h1m5 0h1m14 0h1m11 0h1m1 0h1m15 0h1m12 0h1m-13 1h1m-7 0h1m-23 0h1m-6 0h1m-10 0h1m-9 0h1m-12 0h1m-24 0h1m-9 0h1m-3 0h1m-11 0h1m-7 0h1m-1 1h1h1h1m5 0h1m7 0h1m13 0h1m13 0h1m13 0h1m1 0h1m15 0h1m1 0h1h1m8 0h1m21 0h1m2 0h1h1m1 0h1m4 0h1m2 0h1m1 0h1m7 1h1m-7 0h1m-3 0h1m-18 0h1m-16 0h1m-20 0h1m-18 0h1m-7 0h1m-6 0h1m-3 0h1m-4 0h1m-27 0h1m-6 0h1m-12 0h1m-1 1h1h1m4 0h1m2 0h1m2 0h1m2 0h1m1 0h1m9 0h1m3 0h1m13 0h1m10 0h1h1m1 0h1m6 0h1m1 0h1m4 0h1m10 0h1m3 0h1m5 0h1m2 0h1m3 0h1m11 0h1m6 0h1m2 0h1m4 1h1m-4 0h1m-12 0h1m-10 0h1m-3 0h1m-11 0h1m-2 0h1m-3 0h1m-17 0h1m-7 0h1m-14 0h1m-26 0h1m-18 0h1m-7 0h1m-8 0h1m-1 1h1h1m3 0h1m5 0h1m4 0h1h1m29 0h1m18 0h1m7 0h1m46 0h1h1m4 0h1m6 1h1m-7 0h1m-8 0h1m-11 0h1m-6 0h1m-6 0h1m-7 0h1m-3 0h1m-15 0h1m-4 0h1m-5 0h1m-3 0h1m-2 0h1m-2 0h1m-15 0h1m-13 0h1m-2 0h1m-9 0h1m-7 0h1m-3 0h1m-9 0h1m-13 0h1m-3 0h1m-2 0h1m-3 0h1m-1 1h1m13 0h1m5 0h1m5 0h1h1m1 0h1m9 0h1h1m8 0h1m1 0h1m5 0h1m9 0h1m1 0h1m7 0h1m5 0h1m1 0h1h1m6 0h1m11 0h1m4 0h1h1m0 1h1m-3 0h1m-11 0h1m-4 0h1m-14 0h1m-14 0h1m-9 0h1m-18 0h1m-4 0h1m-20 0h1m-3 0h1m-5 0h1m-3 0h1m-16 0h1m-2 0h1m-1 1h1m2 0h1m4 0h1h1m9 0h1h1m1 0h1m4 0h1m2 0h1m5 0h1m2 0h1m4 0h1m1 0h1m11 0h1m9 0h1m4 0h1m1 0h1m12 0h1m9 0h1m2 0h1m1 0h1m6 0h1m4 0h1h1m4 0h1m1 0h1m6 0h1m-2 1h1m-6 0h1m-2 0h1m-6 0h1m-8 0h1m-9 0h1m-2 0h1m-4 0h1m-3 0h1m-2 0h1m-7 0h1m-13 0h1m-5 0h1m-12 0h1m-2 0h1m-3 0h1m-8 0h1m-2 0h1m-9 0h1m-2 0h1m-11 0h1m-2 0h1m-6 0h1m-2 0h1m-14 0h1m-6 0h1m-8 0h1m-2 0h1m-1 1h1m9 0h1m3 0h1m1 0h1m5 0h1m4 0h1h1h1m1 0h1m7 0h1m3 0h1m5 0h1m2 0h1h1m3 0h1m7 0h1h1m7 0h1h1h1h1m3 0h1m2 0h1m5 0h1m3 0h1m1 0h1m4 0h1m2 0h1m7 0h1m8 0h1m9 1h1m-4 0h1m-18 0h1m-18 0h1m-2 0h1m-6 0h1m-6 0h1m-10 0h1m-4 0h1m-2 0h1m-5 0h1m-2 0h1m-4 0h1m-3 0h1m-10 0h1m-4 0h1m-2 0h1m-2 0h1m-3 0h1m-5 0h1m-23 0h1m-6 0h1m-2 0h1m-2 0h1m-8 0h1m-5 0h1m-1 1h1m4 0h1m1 0h1m1 0h1m18 0h1m5 0h1m2 0h1h1h1h1m1 0h1h1h1h1m6 0h1m3 0h1m1 0h1m7 0h1m1 0h1m7 0h1h1m1 0h1m1 0h1m6 0h1m4 0h1m2 0h1m1 0h1m2 0h1m4 0h1m10 0h1m11 1h1m-3 0h1m-9 0h1m-2 0h1m-5 0h1m-4 0h1m-2 0h1m-2 0h1m-6 0h1m-2 0h1m-3 0h1m-3 0h1m-6 0h1m-5 0h1m-2 0h1m-5 0h1m-4 0h1m-5 0h1m-3 0h1m-2 0h1m-2 0h1m-5 0h1m-9 0h1m-2 0h1m-3 0h1m-4 0h1m-3 0h1m-2 0h1m-4 0h1m-6 0h1m-11 0h1m-4 0h1m-2 0h1m-15 0h1m-18 0h1m-1 1h1m6 0h1m5 0h1m1 0h1m7 0h1m4 0h1m6 0h1m4 0h1m4 0h1m3 0h1h1m1 0h1m7 0h1m6 0h1h1h1m8 0h1h1m5 0h1m2 0h1m2 0h1m2 0h1h1m3 0h1m4 0h1m9 0h1m4 0h1m2 0h1m3 0h1m5 0h1h1m-11 1h1m-6 0h1m-15 0h1m-6 0h1m-17 0h1m-9 0h1m-2 0h1m-5 0h1m-8 0h1m-6 0h1m-5 0h1m-13 0h1m-5 0h1m-2 0h1m-12 0h1m-13 0h1m-15 0h1m-1 1h1m3 0h1h1h1m5 0h1m18 0h1h1m1 0h1h1h1m1 0h1m7 0h1m4 0h1h1h1h1m2 0h1m8 0h1h1m5 0h1h1m3 0h1h1m3 0h1m1 0h1h1m5 0h1m1 0h1m2 0h1m2 0h1m5 0h1h1m1 0h1m2 0h1m2 0h1m2 0h1m1 0h1m8 1h1m-4 0h1m-3 0h1m-8 0h1m-5 0h1m-5 0h1m-4 0h1m-3 0h1m-3 0h1m-8 0h1m-13 0h1m-2 0h1m-5 0h1m-2 0h1m-3 0h1m-4 0h1m-11 0h1m-2 0h1m-2 0h1m-6 0h1m-7 0h1m-5 0h1m-2 0h1m-4 0h1m-8 0h1m-2 0h1m-5 0h1m-2 0h1m-4 0h1m-11 0h1m-14 0h1m-3 0h1m-1 1h1m3 0h1m2 0h1m2 0h1m1 0h1h1m4 0h1m6 0h1m2 0h1m1 0h1h1h1m5 0h1h1m1 0h1m6 0h1m1 0h1m3 0h1m2 0h1h1m5 0h1h1h1h1m2 0h1m4 0h1h1h1m15 0h1m6 0h1h1m8 0h1h1m14 0h1m1 1h1m-12 0h1m-3 0h1m-2 0h1m-2 0h1m-8 0h1m-6 0h1m-4 0h1m-3 0h1m-2 0h1m-3 0h1m-8 0h1m-9 0h1m-4 0h1m-3 0h1m-2 0h1m-2 0h1m-2 0h1m-5 0h1m-8 0h1m-6 0h1m-2 0h1m-3 0h1m-2 0h1m-4 0h1m-2 0h1m-7 0h1m-2 0h1m-5 0h1m-2 0h1m-6 0h1m-3 0h1m-2 0h1m-3 0h1m-3 0h1m-5 0h1m-3 0h1m-5 0h1m-2 0h1m-11 0h1m-2 0h1m-1 1h1m5 0h1m1 0h1m3 0h1m4 0h1h1m3 0h1m1 0h1m1 0h1h1m2 0h1m4 0h1m2 0h1h1h1m5 0h1m2 0h1m4 0h1m7 0h1m7 0h1m2 0h1m2 0h1h1h1m1 0h1m5 0h1m3 0h1m1 0h1m1 0h1h1m3 0h1h1m8 0h1m1 0h1m1 0h1m16 0h1m7 1h1m-32 0h1m-2 0h1m-13 0h1m-5 0h1m-2 0h1m-10 0h1m-5 0h1m-2 0h1m-3 0h1m-2 0h1m-3 0h1m-4 0h1m-6 0h1m-3 0h1m-3 0h1m-2 0h1m-2 0h1m-6 0h1m-4 0h1m-4 0h1m-5 0h1m-3 0h1m-2 0h1m-12 0h1m-5 0h1m-2 0h1m-6 0h1m-11 0h1m-8 0h1m-1 1h1m3 0h1m12 0h1h1m1 0h1m2 0h1m1 0h1m6 0h1m1 0h1m3 0h1m2 0h1h1h1m3 0h1h1h1m1 0h1m1 0h1h1m1 0h1m2 0h1m1 0h1m3 0h1h1m2 0h1m5 0h1h1m2 0h1m2 0h1h1h1h1m1 0h1h1h1m1 0h1m2 0h1m1 0h1h1h1h1m2 0h1m4 0h1m1 0h1h1m1 0h1h1m5 0h1h1h1h1m1 0h1m1 0h1m7 0h1m-11 1h1m-2 0h1m-7 0h1m-2 0h1m-4 0h1m-5 0h1m-2 0h1m-4 0h1m-2 0h1m-2 0h1m-6 0h1m-2 0h1m-3 0h1m-3 0h1m-2 0h1m-2 0h1m-3 0h1m-3 0h1m-5 0h1m-3 0h1m-2 0h1m-3 0h1m-7 0h1m-2 0h1m-2 0h1m-2 0h1m-3 0h1m-2 0h1m-2 0h1m-4 0h1m-3 0h1m-2 0h1m-2 0h1m-2 0h1m-3 0h1m-4 0h1m-4 0h1m-10 0h1m-3 0h1m-3 0h1m-5 0h1m-3 0h1m-3 0h1m-6 0h1m-4 0h1m-2 0h1m-2 0h1m-6 0h1m-10 0h1m-5 0h1m-1 1h1h1m6 0h1h1m3 0h1m2 0h1m3 0h1h1h1m2 0h1m3 0h1m2 0h1h1m3 0h1m2 0h1m1 0h1m1 0h1h1h1h1m4 0h1m2 0h1h1m1 0h1h1h1h1m1 0h1h1h1m1 0h1m1 0h1h1h1m2 0h1h1h1m2 0h1m1 0h1m2 0h1h1h1m1 0h1h1h1m3 0h1h1m3 0h1h1m1 0h1h1h1h1m3 0h1h1h1m4 0h1m3 0h1m4 0h1m2 0h1m7 0h1m-7 1h1m-4 0h1m-2 0h1m-7 0h1m-3 0h1m-3 0h1m-4 0h1m-2 0h1m-7 0h1m-7 0h1m-4 0h1m-2 0h1m-3 0h1m-6 0h1m-2 0h1m-3 0h1m-2 0h1m-3 0h1m-3 0h1m-4 0h1m-4 0h1m-2 0h1m-2 0h1m-2 0h1m-2 0h1m-2 0h1m-5 0h1m-2 0h1m-4 0h1m-3 0h1m-4 0h1m-5 0h1m-2 0h1m-2 0h1m-3 0h1m-3 0h1m-2 0h1m-4 0h1m-5 0h1m-3 0h1m-3 0h1m-4 0h1m-3 0h1m-3 0h1m-2 0h1m-4 0h1m-10 0h1m-2 0h1m-5 0h1m-2 0h1m-7 0h1m-2 0h1m-3 0h1m-1 1h1m3 0h1m1 0h1m1 0h1m1 0h1m1 0h1m2 0h1h1m1 0h1m1 0h1m4 0h1m1 0h1m1 0h1m2 0h1m3 0h1m3 0h1m1 0h1m1 0h1h1m1 0h1h1h1h1m1 0h1m1 0h1h1h1h1h1m1 0h1h1h1m2 0h1m2 0h1h1m1 0h1h1m1 0h1m1 0h1m4 0h1m3 0h1m1 0h1h1h1m3 0h1m1 0h1m1 0h1m1 0h1m1 0h1m1 0h1m7 0h1h1m5 0h1h1h1m1 0h1m0 1h1m-2 0h1m-5 0h1m-2 0h1m-2 0h1m-2 0h1m-3 0h1m-2 0h1m-9 0h1m-2 0h1m-3 0h1m-2 0h1m-2 0h1m-6 0h1m-2 0h1m-2 0h1m-2 0h1m-3 0h1m-2 0h1m-2 0h1m-3 0h1m-3 0h1m-2 0h1m-3 0h1m-2 0h1m-3 0h1m-5 0h1m-4 0h1m-2 0h1m-3 0h1m-3 0h1m-2 0h1m-3 0h1m-4 0h1m-3 0h1m-6 0h1m-2 0h1m-2 0h1m-2 0h1m-3 0h1m-3 0h1m-2 0h1m-2 0h1m-4 0h1m-2 0h1m-4 0h1m-2 0h1m-2 0h1m-2 0h1m-10 0h1m-5 0h1m-4 0h1m-2 0h1m-2 0h1m-2 0h1m-2 0h1m-10 0h1m-5 0h1m-1 1h1h1h1h1m7 0h1h1m7 0h1h1m2 0h1m1 0h1h1m1 0h1m1 0h1m2 0h1m2 0h1m2 0h1m1 0h1h1m3 0h1m1 0h1m2 0h1m2 0h1h1m1 0h1h1m1 0h1h1h1h1h1h1m1 0h1h1h1h1h1m1 0h1h1m3 0h1m1 0h1h1m1 0h1h1m1 0h1h1m2 0h1m1 0h1m3 0h1m1 0h1h1m6 0h1h1m3 0h1m1 0h1h1m1 0h1h1h1h1m3 0h1h1m2 0h1m2 0h1h1m-5 1h1m-11 0h1m-5 0h1m-3 0h1m-8 0h1m-2 0h1m-3 0h1m-4 0h1m-2 0h1m-2 0h1m-4 0h1m-2 0h1m-2 0h1m-3 0h1m-2 0h1m-4 0h1m-7 0h1m-7 0h1m-2 0h1m-5 0h1m-3 0h1m-3 0h1m-2 0h1m-2 0h1m-3 0h1m-2 0h1m-2 0h1m-2 0h1m-2 0h1m-2 0h1m-3 0h1m-3 0h1m-2 0h1m-5 0h1m-2 0h1m-2 0h1m-2 0h1m-3 0h1m-5 0h1m-3 0h1m-2 0h1m-2 0h1m-2 0h1m-4 0h1m-2 0h1m-6 0h1m-2 0h1m-3 0h1m-2 0h1m-4 0h1m-5 0h1m-8 0h1m-4 0h1m-2 0h1m-3 0h1m-1 1h1m1 0h1h1m1 0h1m5 0h1m4 0h1h1m1 0h1m1 0h1m3 0h1m1 0h1h1h1h1m1 0h1h1m4 0h1h1m1 0h1h1m2 0h1h1h1h1h1m1 0h1h1m1 0h1h1h1m1 0h1h1h1h1h1h1h1h1h1h1h1m1 0h1h1m1 0h1m3 0h1m1 0h1h1h1m1 0h1h1h1h1m3 0h1h1m1 0h1m1 0h1m1 0h1m2 0h1h1h1h1h1m5 0h1m2 0h1m9 0h1m7 1h1m-11 0h1m-2 0h1m-2 0h1m-4 0h1m-5 0h1m-3 0h1m-3 0h1m-3 0h1m-2 0h1m-2 0h1m-2 0h1m-2 0h1m-2 0h1m-3 0h1m-2 0h1m-7 0h1m-4 0h1m-2 0h1m-3 0h1m-2 0h1m-2 0h1m-2 0h1m-4 0h1m-2 0h1m-2 0h1m-2 0h1m-2 0h1m-2 0h1m-2 0h1m-2 0h1m-2 0h1m-2 0h1m-3 0h1m-2 0h1m-5 0h1m-2 0h1m-2 0h1m-2 0h1m-5 0h1m-2 0h1m-2 0h1m-2 0h1m-2 0h1m-3 0h1m-3 0h1m-3 0h1m-2 0h1m-2 0h1m-2 0h1m-5 0h1m-2 0h1m-2 0h1m-2 0h1m-3 0h1m-3 0h1m-2 0h1m-6 0h1m-2 0h1m-3 0h1m-3 0h1m-2 0h1m-4 0h1m-2 0h1m-2 0h1m-8 0h1m-3 0h1m-3 0h1m-6 0h1m-1 1h1m3 0h1h1m2 0h1m1 0h1m6 0h1m2 0h1h1m1 0h1h1m2 0h1m1 0h1h1m2 0h1m1 0h1h1m1 0h1m3 0h1m2 0h1h1m1 0h1h1m2 0h1h1h1m1 0h1h1m1 0h1m1 0h1h1h1h1h1h1h1h1h1h1h1m2 0h1m1 0h1m1 0h1m1 0h1m5 0h1h1h1h1m1 0h1m2 0h1h1h1m2 0h1h1m1 0h1h1h1m5 0h1m3 0h1m1 0h1m3 0h1h1m2 0h1m1 0h1m2 0h1m-3 1h1m-2 0h1m-4 0h1m-5 0h1m-7 0h1m-2 0h1m-4 0h1m-4 0h1m-3 0h1m-2 0h1m-5 0h1m-3 0h1m-2 0h1m-2 0h1m-2 0h1m-2 0h1m-2 0h1m-2 0h1m-3 0h1m-2 0h1m-3 0h1m-3 0h1m-2 0h1m-2 0h1m-3 0h1m-2 0h1m-3 0h1m-2 0h1m-2 0h1m-2 0h1m-3 0h1m-2 0h1m-2 0h1m-2 0h1m-2 0h1m-3 0h1m-2 0h1m-3 0h1m-2 0h1m-2 0h1m-4 0h1m-5 0h1m-2 0h1m-3 0h1m-3 0h1m-2 0h1m-2 0h1m-2 0h1m-2 0h1m-3 0h1m-2 0h1m-2 0h1m-3 0h1m-3 0h1m-2 0h1m-2 0h1m-3 0h1m-2 0h1m-4 0h1m-4 0h1m-2 0h1m-3 0h1m-5 0h1m-2 0h1m-2 0h1m-3 0h1m-7 0h1m-2 0h1m-2 0h1m-5 0h1m-2 0h1m-3 0h1m-1 1h1h1m13 0h1m2 0h1m2 0h1m1 0h1m1 0h1m1 0h1h1h1m1 0h1h1m2 0h1m1 0h1h1m1 0h1h1h1m5 0h1h1h1m2 0h1h1m2 0h1h1h1h1h1h1h1m1 0h1h1h1m2 0h1h1m1 0h1h1h1h1h1h1h1m1 0h1h1h1h1h1h1h1h1m3 0h1h1m1 0h1h1m1 0h1m4 0h1h1m1 0h1h1h1m2 0h1m2 0h1m1 0h1m4 0h1m-3 1h1m-4 0h1m-3 0h1m-2 0h1m-3 0h1m-2 0h1m-2 0h1m-3 0h1m-3 0h1m-10 0h1m-2 0h1m-2 0h1m-6 0h1m-2 0h1m-2 0h1m-2 0h1m-3 0h1m-2 0h1m-4 0h1m-2 0h1m-2 0h1m-2 0h1m-2 0h1m-2 0h1m-2 0h1m-2 0h1m-3 0h1m-3 0h1m-2 0h1m-4 0h1m-4 0h1m-2 0h1m-2 0h1m-2 0h1m-2 0h1m-2 0h1m-2 0h1m-2 0h1m-3 0h1m-2 0h1m-2 0h1m-3 0h1m-2 0h1m-2 0h1m-2 0h1m-2 0h1m-2 0h1m-3 0h1m-2 0h1m-2 0h1m-3 0h1m-2 0h1m-2 0h1m-2 0h1m-2 0h1m-2 0h1m-2 0h1m-2 0h1m-2 0h1m-3 0h1m-2 0h1m-2 0h1m-3 0h1m-3 0h1m-2 0h1m-3 0h1m-2 0h1m-4 0h1m-2 0h1m-3 0h1m-4 0h1m-2 0h1m-3 0h1m-2 0h1m-3 0h1m-2 0h1m-2 0h1m-2 0h1m-1 1h1h1h1m8 0h1h1h1h1m4 0h1h1m1 0h1h1m3 0h1m4 0h1h1h1m1 0h1h1m1 0h1h1m1 0h1m1 0h1m2 0h1m2 0h1h1h1m1 0h1h1h1m1 0h1m1 0h1h1h1h1h1h1h1h1h1h1h1h1h1h1h1m2 0h1h1h1h1m1 0h1h1m1 0h1m1 0h1m2 0h1h1h1m1 0h1h1h1h1h1m1 0h1m1 0h1h1m3 0h1m4 0h1m2 0h1m12 0h1m2 0h1m-2 1h1m-9 0h1m-2 0h1m-4 0h1m-9 0h1m-2 0h1m-3 0h1m-4 0h1m-2 0h1m-2 0h1m-2 0h1m-2 0h1m-3 0h1m-3 0h1m-2 0h1m-2 0h1m-2 0h1m-3 0h1m-3 0h1m-3 0h1m-2 0h1m-2 0h1m-2 0h1m-2 0h1m-3 0h1m-2 0h1m-3 0h1m-2 0h1m-2 0h1m-2 0h1m-4 0h1m-2 0h1m-3 0h1m-2 0h1m-4 0h1m-2 0h1m-2 0h1m-2 0h1m-2 0h1m-2 0h1m-2 0h1m-2 0h1m-3 0h1m-5 0h1m-2 0h1m-2 0h1m-2 0h1m-2 0h1m-2 0h1m-2 0h1m-2 0h1m-2 0h1m-3 0h1m-2 0h1m-2 0h1m-2 0h1m-2 0h1m-3 0h1m-2 0h1m-2 0h1m-3 0h1m-5 0h1m-3 0h1m-2 0h1m-2 0h1m-2 0h1m-9 0h1m-2 0h1m-2 0h1m-3 0h1m-8 0h1m-3 0h1m-3 0h1m-1 1h1m1 0h1m1 0h1h1m1 0h1h1h1m3 0h1m1 0h1h1h1h1m1 0h1h1h1h1h1h1m1 0h1h1m1 0h1h1m1 0h1h1m2 0h1h1m2 0h1h1h1h1m1 0h1h1h1h1h1h1m1 0h1h1h1h1h1h1h1h1h1h1h1h1h1h1h1h1h1h1h1h1m1 0h1h1m2 0h1h1h1h1h1h1h1h1m2 0h1h1h1h1h1h1h1h1h1h1h1m1 0h1m1 0h1m4 0h1h1m1 0h1h1h1h1m16 1h1m-12 0h1m-4 0h1m-2 0h1m-3 0h1m-2 0h1m-3 0h1m-2 0h1m-3 0h1m-2 0h1m-3 0h1m-2 0h1m-2 0h1m-4 0h1m-2 0h1m-4 0h1m-2 0h1m-2 0h1m-2 0h1m-2 0h1m-2 0h1m-2 0h1m-2 0h1m-2 0h1m-2 0h1m-2 0h1m-2 0h1m-2 0h1m-2 0h1m-2 0h1m-2 0h1m-2 0h1m-2 0h1m-2 0h1m-2 0h1m-2 0h1m-2 0h1m-2 0h1m-2 0h1m-2 0h1m-2 0h1m-2 0h1m-2 0h1m-2 0h1m-2 0h1m-2 0h1m-3 0h1m-2 0h1m-3 0h1m-3 0h1m-3 0h1m-2 0h1m-2 0h1m-3 0h1m-2 0h1m-3 0h1m-2 0h1m-2 0h1m-2 0h1m-3 0h1m-2 0h1m-2 0h1m-2 0h1m-2 0h1m-2 0h1m-2 0h1m-3 0h1m-2 0h1m-4 0h1m-2 0h1m-2 0h1m-2 0h1m-2 0h1m-3 0h1m-2 0h1m-2 0h1m-2 0h1m-7 0h1m-2 0h1m-5 0h1m-3 0h1m-2 0h1m-10 0h1m-1 1h1h1h1m1 0h1m4 0h1m1 0h1h1h1m2 0h1m4 0h1m1 0h1m3 0h1m3 0h1m2 0h1m1 0h1h1h1h1h1h1h1h1h1h1m1 0h1h1m1 0h1h1h1h1h1h1h1h1m1 0h1h1m1 0h1h1m1 0h1h1h1h1h1m1 0h1h1h1h1h1h1m3 0h1h1h1h1h1h1m2 0h1h1h1h1h1h1m1 0h1h1m1 0h1m2 0h1h1h1m9 0h1m11 0h1m-17 1h1m-2 0h1m-3 0h1m-2 0h1m-3 0h1m-3 0h1m-2 0h1m-2 0h1m-4 0h1m-3 0h1m-2 0h1m-2 0h1m-2 0h1m-3 0h1m-2 0h1m-2 0h1m-2 0h1m-2 0h1m-4 0h1m-2 0h1m-3 0h1m-2 0h1m-2 0h1m-2 0h1m-2 0h1m-2 0h1m-2 0h1m-2 0h1m-2 0h1m-4 0h1m-3 0h1m-2 0h1m-2 0h1m-2 0h1m-2 0h1m-2 0h1m-3 0h1m-2 0h1m-3 0h1m-2 0h1m-2 0h1m-2 0h1m-2 0h1m-2 0h1m-2 0h1m-3 0h1m-2 0h1m-3 0h1m-2 0h1m-3 0h1m-2 0h1m-2 0h1m-2 0h1m-3 0h1m-2 0h1m-3 0h1m-2 0h1m-2 0h1m-2 0h1m-6 0h1m-2 0h1m-4 0h1m-6 0h1m-2 0h1m-10 0h1m-5 0h1m-3 0h1m-2 0h1m-1 1h1h1m3 0h1m1 0h1m2 0h1m3 0h1m1 0h1m4 0h1h1m2 0h1m1 0h1h1m2 0h1h1h1h1h1h1h1m2 0h1h1m2 0h1m1 0h1m1 0h1h1h1h1m1 0h1m1 0h1h1h1h1h1h1m1 0h1h1h1m1 0h1h1h1h1h1h1m2 0h1m2 0h1h1h1h1m1 0h1h1m1 0h1h1h1h1h1m1 0h1m2 0h1h1m1 0h1h1h1m1 0h1h1h1h1h1m2 0h1m2 0h1m1 0h1m3 0h1m1 0h1m-5 1h1m-5 0h1m-4 0h1m-4 0h1m-2 0h1m-2 0h1m-3 0h1m-4 0h1m-2 0h1m-2 0h1m-2 0h1m-2 0h1m-2 0h1m-3 0h1m-3 0h1m-3 0h1m-2 0h1m-2 0h1m-2 0h1m-3 0h1m-2 0h1m-2 0h1m-3 0h1m-2 0h1m-2 0h1m-2 0h1m-2 0h1m-2 0h1m-2 0h1m-2 0h1m-3 0h1m-2 0h1m-2 0h1m-2 0h1m-2 0h1m-2 0h1m-2 0h1m-2 0h1m-2 0h1m-2 0h1m-2 0h1m-2 0h1m-2 0h1m-2 0h1m-3 0h1m-2 0h1m-2 0h1m-2 0h1m-3 0h1m-2 0h1m-2 0h1m-2 0h1m-2 0h1m-2 0h1m-2 0h1m-4 0h1m-2 0h1m-3 0h1m-4 0h1m-2 0h1m-4 0h1m-2 0h1m-3 0h1m-2 0h1m-2 0h1m-3 0h1m-3 0h1m-2 0h1m-2 0h1m-3 0h1m-6 0h1m-2 0h1m-5 0h1m-2 0h1m-2 0h1m-6 0h1m-1 1h1m1 0h1m1 0h1h1h1m1 0h1h1h1h1m1 0h1h1m2 0h1h1m1 0h1m2 0h1h1h1h1m3 0h1m2 0h1m2 0h1h1h1h1h1h1m1 0h1m3 0h1m1 0h1m1 0h1h1h1m1 0h1h1h1m1 0h1h1m1 0h1m3 0h1m2 0h1h1h1h1h1h1h1m1 0h1m1 0h1h1h1m1 0h1m2 0h1h1h1m1 0h1h1h1m1 0h1h1h1h1h1h1h1h1m3 0h1m3 0h1m1 0h1m2 0h1m2 1h1m-5 0h1m-2 0h1m-3 0h1m-4 0h1m-6 0h1m-3 0h1m-4 0h1m-2 0h1m-2 0h1m-2 0h1m-2 0h1m-2 0h1m-3 0h1m-2 0h1m-2 0h1m-2 0h1m-2 0h1m-2 0h1m-2 0h1m-3 0h1m-2 0h1m-2 0h1m-3 0h1m-4 0h1m-3 0h1m-2 0h1m-2 0h1m-2 0h1m-2 0h1m-2 0h1m-2 0h1m-3 0h1m-2 0h1m-2 0h1m-2 0h1m-2 0h1m-2 0h1m-2 0h1m-2 0h1m-2 0h1m-2 0h1m-2 0h1m-2 0h1m-2 0h1m-2 0h1m-3 0h1m-2 0h1m-2 0h1m-2 0h1m-2 0h1m-2 0h1m-3 0h1m-2 0h1m-2 0h1m-2 0h1m-2 0h1m-2 0h1m-2 0h1m-2 0h1m-4 0h1m-2 0h1m-2 0h1m-2 0h1m-4 0h1m-2 0h1m-6 0h1m-3 0h1m-5 0h1m-6 0h1m-3 0h1m-2 0h1m-5 0h1m-4 0h1m-1 1h1m1 0h1m3 0h1h1m2 0h1m1 0h1h1m2 0h1m1 0h1h1m2 0h1m3 0h1m2 0h1m1 0h1h1m1 0h1m1 0h1h1m2 0h1h1h1m1 0h1m4 0h1h1h1h1h1h1h1m2 0h1m1 0h1h1h1h1h1h1h1h1h1m3 0h1h1h1h1h1h1h1h1m2 0h1h1m2 0h1m1 0h1h1h1h1m2 0h1h1h1m2 0h1m1 0h1h1m4 0h1h1m1 0h1h1m-5 1h1m-2 0h1m-2 0h1m-2 0h1m-4 0h1m-3 0h1m-2 0h1m-2 0h1m-4 0h1m-2 0h1m-3 0h1m-2 0h1m-2 0h1m-3 0h1m-2 0h1m-2 0h1m-2 0h1m-2 0h1m-2 0h1m-2 0h1m-2 0h1m-3 0h1m-2 0h1m-2 0h1m-2 0h1m-3 0h1m-2 0h1m-2 0h1m-2 0h1m-2 0h1m-2 0h1m-2 0h1m-2 0h1m-2 0h1m-2 0h1m-2 0h1m-2 0h1m-3 0h1m-2 0h1m-2 0h1m-2 0h1m-2 0h1m-3 0h1m-2 0h1m-2 0h1m-2 0h1m-2 0h1m-3 0h1m-2 0h1m-3 0h1m-2 0h1m-3 0h1m-2 0h1m-2 0h1m-4 0h1m-4 0h1m-3 0h1m-2 0h1m-2 0h1m-2 0h1m-2 0h1m-2 0h1m-2 0h1m-2 0h1m-2 0h1m-2 0h1m-6 0h1m-2 0h1m-6 0h1m-5 0h1m-2 0h1m-5 0h1m-4 0h1m-1 1h1m3 0h1h1m2 0h1m5 0h1m1 0h1m2 0h1m1 0h1m1 0h1m4 0h1h1h1m1 0h1h1m3 0h1m1 0h1h1m1 0h1h1m1 0h1h1m2 0h1h1m1 0h1m1 0h1h1h1m1 0h1h1h1h1h1h1h1h1h1h1h1h1h1h1h1m2 0h1h1m1 0h1h1m2 0h1h1m2 0h1h1h1h1h1m1 0h1h1m1 0h1h1h1m4 0h1m1 0h1m2 1h1m-6 0h1m-3 0h1m-2 0h1m-3 0h1m-2 0h1m-4 0h1m-2 0h1m-2 0h1m-2 0h1m-3 0h1m-4 0h1m-2 0h1m-2 0h1m-3 0h1m-2 0h1m-2 0h1m-2 0h1m-3 0h1m-2 0h1m-2 0h1m-2 0h1m-3 0h1m-3 0h1m-2 0h1m-4 0h1m-2 0h1m-2 0h1m-2 0h1m-2 0h1m-2 0h1m-2 0h1m-2 0h1m-2 0h1m-3 0h1m-2 0h1m-2 0h1m-2 0h1m-2 0h1m-2 0h1m-2 0h1m-2 0h1m-2 0h1m-5 0h1m-2 0h1m-4 0h1m-2 0h1m-2 0h1m-2 0h1m-4 0h1m-2 0h1m-3 0h1m-2 0h1m-3 0h1m-4 0h1m-3 0h1m-3 0h1m-2 0h1m-2 0h1m-2 0h1m-4 0h1m-5 0h1m-2 0h1m-10 0h1m-1 1h1m6 0h1m3 0h1h1m5 0h1m2 0h1h1h1m5 0h1m3 0h1h1h1m1 0h1h1h1h1m1 0h1h1h1h1h1h1h1h1m1 0h1h1h1m2 0h1m1 0h1h1h1h1h1h1h1m2 0h1h1h1h1h1m1 0h1h1m1 0h1m2 0h1h1h1m1 0h1m4 0h1h1m1 0h1m2 0h1m1 0h1h1m3 0h1m2 0h1m3 0h1m-3 1h1m-6 0h1m-3 0h1m-6 0h1m-8 0h1m-3 0h1m-3 0h1m-2 0h1m-4 0h1m-2 0h1m-3 0h1m-4 0h1m-2 0h1m-4 0h1m-2 0h1m-4 0h1m-3 0h1m-4 0h1m-3 0h1m-3 0h1m-2 0h1m-2 0h1m-2 0h1m-3 0h1m-2 0h1m-3 0h1m-2 0h1m-3 0h1m-2 0h1m-2 0h1m-4 0h1m-3 0h1m-2 0h1m-2 0h1m-2 0h1m-2 0h1m-3 0h1m-6 0h1m-5 0h1m-3 0h1m-2 0h1m-5 0h1m-4 0h1m-2 0h1m-5 0h1m-3 0h1m-3 0h1m-5 0h1m-1 1h1m1 0h1m6 0h1m2 0h1m6 0h1m4 0h1h1m1 0h1m2 0h1m2 0h1m1 0h1m1 0h1m1 0h1m1 0h1m1 0h1h1m1 0h1h1h1h1m1 0h1h1h1h1m3 0h1m2 0h1h1m1 0h1h1h1h1h1h1h1h1h1h1h1m2 0h1m1 0h1m1 0h1m2 0h1h1h1h1m2 0h1m1 0h1h1m1 0h1m3 1h1m-3 0h1m-4 0h1m-3 0h1m-3 0h1m-4 0h1m-2 0h1m-2 0h1m-2 0h1m-3 0h1m-2 0h1m-2 0h1m-2 0h1m-3 0h1m-3 0h1m-3 0h1m-2 0h1m-2 0h1m-2 0h1m-3 0h1m-3 0h1m-3 0h1m-3 0h1m-3 0h1m-3 0h1m-4 0h1m-2 0h1m-2 0h1m-3 0h1m-3 0h1m-2 0h1m-4 0h1m-2 0h1m-3 0h1m-3 0h1m-3 0h1m-3 0h1m-3 0h1m-6 0h1m-2 0h1m-2 0h1m-4 0h1m-5 0h1m-3 0h1m-2 0h1m-3 0h1m-3 0h1m-8 0h1m-7 0h1m-1 1h1m7 0h1m10 0h1m2 0h1m1 0h1h1h1m1 0h1m1 0h1m2 0h1h1h1m1 0h1h1h1h1m1 0h1h1h1h1h1m1 0h1m1 0h1h1h1m1 0h1h1m1 0h1m1 0h1m2 0h1m3 0h1h1m1 0h1h1h1h1h1m1 0h1h1h1h1m3 0h1m1 0h1h1h1m1 0h1h1m2 0h1m3 0h1m2 0h1h1h1h1m5 1h1m-18 0h1m-5 0h1m-3 0h1m-6 0h1m-4 0h1m-5 0h1m-3 0h1m-2 0h1m-4 0h1m-4 0h1m-2 0h1m-2 0h1m-5 0h1m-2 0h1m-4 0h1m-3 0h1m-3 0h1m-2 0h1m-2 0h1m-3 0h1m-6 0h1m-3 0h1m-2 0h1m-8 0h1m-5 0h1m-2 0h1m-3 0h1m-5 0h1m-3 0h1m-6 0h1m-6 0h1m-4 0h1m-6 0h1m-1 1h1m22 0h1h1m6 0h1m1 0h1m3 0h1h1m1 0h1m1 0h1h1h1m1 0h1h1m1 0h1h1m1 0h1h1m1 0h1m1 0h1m1 0h1m1 0h1m1 0h1h1h1m1 0h1m3 0h1m1 0h1h1m1 0h1h1h1m3 0h1m3 0h1m1 0h1m4 1h1m-8 0h1m-8 0h1m-4 0h1m-6 0h1m-4 0h1m-2 0h1m-2 0h1m-2 0h1m-2 0h1m-2 0h1m-4 0h1m-3 0h1m-8 0h1m-4 0h1m-3 0h1m-3 0h1m-3 0h1m-2 0h1m-5 0h1m-4 0h1m-3 0h1m-5 0h1m-2 0h1m-8 0h1m-3 0h1m-2 0h1m-4 0h1m-6 0h1m-7 0h1m-4 0h1m-1 1h1m10 0h1m11 0h1m1 0h1m1 0h1h1m4 0h1m2 0h1m3 0h1h1h1h1h1m2 0h1m1 0h1h1h1h1h1h1h1m1 0h1m3 0h1h1m1 0h1h1m2 0h1m5 0h1m1 0h1m1 0h1m3 0h1h1m1 0h1h1m2 0h1h1m1 0h1m1 1h1m-11 0h1m-3 0h1m-2 0h1m-7 0h1m-2 0h1m-4 0h1m-2 0h1m-5 0h1m-3 0h1m-2 0h1m-6 0h1m-4 0h1m-2 0h1m-2 0h1m-6 0h1m-3 0h1m-3 0h1m-2 0h1m-2 0h1m-2 0h1m-2 0h1m-4 0h1m-2 0h1m-2 0h1m-6 0h1m-4 0h1m-4 0h1m-2 0h1m-11 0h1m-11 0h1m-4 0h1m-1 1h1m4 0h1m8 0h1m14 0h1h1m5 0h1m2 0h1h1m1 0h1m4 0h1h1m4 0h1m2 0h1h1h1m1 0h1m1 0h1m11 0h1h1m1 0h1m4 0h1m6 0h1m5 0h1m-8 1h1m-6 0h1m-2 0h1m-3 0h1m-2 0h1m-3 0h1m-8 0h1m-2 0h1m-8 0h1m-7 0h1m-2 0h1m-2 0h1m-8 0h1m-2 0h1m-3 0h1m-7 0h1m-5 0h1m-3 0h1m-10 0h1m-4 0h1m-10 0h1m-6 0h1m-3 0h1m-5 0h1m-1 1h1h1m11 0h1h1m5 0h1m1 0h1m4 0h1m2 0h1m5 0h1m2 0h1h1m2 0h1m2 0h1h1m1 0h1m4 0h1m1 0h1m7 0h1m2 0h1h1m3 0h1h1m1 0h1h1h1m1 0h1m8 0h1m-6 1h1m-5 0h1m-5 0h1m-3 0h1m-7 0h1m-5 0h1m-5 0h1m-6 0h1m-5 0h1m-10 0h1m-9 0h1m-2 0h1m-3 0h1m-9 0h1m-4 0h1m-7 0h1m-5 0h1m-3 0h1m-2 0h1m-7 0h1m-1 1h1m1 0h1m14 0h1m7 0h1h1h1m8 0h1m8 0h1m11 0h1h1m1 0h1m3 0h1m3 0h1h1m3 0h1m3 0h1m4 1h1m-2 0h1m-2 0h1m-2 0h1m-7 0h1m-7 0h1m-2 0h1m-3 0h1m-2 0h1m-3 0h1m-7 0h1m-17 0h1m-4 0h1m-9 0h1m-5 0h1m-15 0h1m-11 0h1m-1 1h1m42 0h1m14 0h1" stroke="#df2a2e" stroke-width="1" fill="none"/>
<path transform="scale(2)" d="M929 437h1m0 3h1m-3 1h1m3 0h1m4 1h1m-12 0h1m1 1h1m14 0h1m-4 1h1m-11 0h1m-5 0h1m3 1h1m2 0h1m5 1h1m-12 1h1m2 0h1m2 0h1m5 1h1m-15 0h1m-4 0h1m-2 1h1m2 0h1m3 0h1m2 0h1m3 0h1m4 1h1m-7 0h1m-2 0h1m-17 0h1m-2 0h1m-3 0h1m-3 0h1m-1 1h1m2 0h1m5 0h1m5 0h1h1m2 0h1m2 1h1m-12 0h1m-3 0h1m-17 0h1m-1 1h1m10 0h1m1 0h1h1m1 0h1m4 0h1m2 0h1h1m4 0h1m12 0h1m-23 1h1m-4 0h1m-5 0h1m-5 0h1m-9 0h1m1 1h1m6 0h1m1 0h1h1m2 0h1m2 0h1m3 0h1m3 0h1m-2 1h1m-13 0h1m-3 0h1m-2 0h1m-3 0h1m-5 0h1m-3 0h1m-5 0h1m-5 1h1m8 0h1h1m1 0h1m1 0h1m4 0h1h1h1m3 0h1m2 0h1m15 1h1m-16 0h1m-2 0h1m-5 0h1m-2 0h1m-3 0h1m-2 0h1m-2 0h1m-2 0h1m-2 0h1m-3 0h1m-2 0h1m-2 0h1m-2 0h1m-5 0h1m-5 0h1m-8 0h1m4 1h1m17 0h1m4 0h1m5 1h1m-6 0h1m-2 0h1m-7 0h1m-2 0h1m-3 0h1m-2 0h1m-2 0h1m-2 0h1m-2 0h1m-2 0h1m-2 0h1m-3 0h1m-9 0h1m-13 0h1m6 1h1m6 0h1m5 0h1h1m6 0h1m2 0h1m6 0h1m4 0h1h1m-8 1h1m-2 0h1m-2 0h1m-4 0h1m-2 0h1m-2 0h1m-3 0h1m-2 0h1m-3 0h1m-2 0h1m-2 0h1m-2 0h1m-2 0h1m-2 0h1m-2 0h1m-4 0h1m-3 0h1m-3 0h1m-4 1h1m1 0h1m2 0h1h1m2 0h1h1m1 0h1h1h1h1h1h1h1h1m1 0h1h1m1 0h1m2 1h1m-2 0h1m-3 0h1m-2 0h1m-2 0h1m-3 0h1m-3 0h1m-2 0h1m-2 0h1m-2 0h1m-2 0h1m-3 0h1m-2 0h1m-2 0h1m-7 0h1m-6 0h1m-2 0h1m-8 0h1m13 1h1h1m1 0h1m2 0h1m3 0h1h1m1 0h1m3 0h1h1h1h1m4 0h1m7 1h1m-12 0h1m-6 0h1m-4 0h1m-5 0h1m-2 0h1m-2 0h1m-3 0h1m-2 0h1m-3 0h1m-2 0h1m-2 0h1m-4 0h1m-7 0h1m-15 1h1m12 0h1m8 0h1m6 0h1m3 0h1h1m1 0h1h1m12 0h1m-4 1h1m-6 0h1m-4 0h1m-8 0h1m-6 0h1m-2 0h1m-3 0h1m-4 0h1m-2 0h1m-3 0h1m-2 0h1m-2 0h1m-2 0h1m-2 0h1m-9 1h1m6 0h1m1 0h1m2 0h1h1h1h1h1h1m2 0h1h1m1 0h1m1 0h1h1h1h1m4 0h1m18 1h1m-11 0h1m-11 0h1m-2 0h1m-2 0h1m-7 0h1m-2 0h1m-2 0h1m-2 0h1m-5 0h1m-2 0h1m-2 0h1m-2 0h1m-4 0h1m-35 1h1m16 0h1m17 0h1m2 0h1h1m3 0h1h1m1 0h1m1 0h1m3 0h1m19 1h1m-17 0h1m-4 0h1m-4 0h1m-4 0h1m-2 0h1m-3 0h1m-2 0h1m-2 0h1m-3 0h1m-2 0h1m-4 0h1m-3 0h1m-2 0h1m-3 0h1m-2 0h1m-22 0h1m-3 1h1m13 0h1m3 0h1m1 0h1m3 0h1h1h1m1 0h1m1 0h1m1 0h1m2 0h1m1 0h1m1 0h1h1h1m2 0h1h1m10 0h1m-11 1h1m-6 0h1m-4 0h1m-5 0h1m-2 0h1m-2 0h1m-3 0h1m-2 0h1m-3 0h1m-2 0h1m-9 0h1m-6 0h1m-2 0h1m-2 0h1m-8 1h1h1m13 0h1h1h1m1 0h1m3 0h1m1 0h1h1h1h1h1h1m4 0h1m1 0h1h1h1m2 0h1m-6 1h1m-2 0h1m-2 0h1m-2 0h1m-2 0h1m-3 0h1m-3 0h1m-3 0h1m-2 0h1m-4 0h1m-2 0h1m-2 0h1m-2 0h1m-4 0h1m-4 0h1m-12 0h1m-2 0h1m-3 0h1m-4 0h1m8 1h1m2 0h1m3 0h1m3 0h1h1h1m3 0h1h1h1m1 0h1h1h1m2 0h1m4 0h1m4 0h1m6 0h1m9 0h1m-16 1h1m-3 0h1m-2 0h1m-3 0h1m-2 0h1m-4 0h1m-2 0h1m-2 0h1m-3 0h1m-2 0h1m-2 0h1m-2 0h1m-2 0h1m-3 0h1m-3 0h1m-2 0h1m-2 0h1m-3 0h1m-5 0h1m-2 0h1m-2 0h1m-4 0h1m-4 0h1m-12 0h1m-6 0h1m13 1h1h1m1 0h1m1 0h1m1 0h1h1h1h1m1 0h1m1 0h1h1h1m1 0h1h1h1h1h1m1 0h1m2 0h1m1 0h1m2 0h1h1m5 0h1m-2 1h1m-2 0h1m-4 0h1m-5 0h1m-2 0h1m-3 0h1m-5 0h1m-2 0h1m-2 0h1m-2 0h1m-2 0h1m-2 0h1m-2 0h1m-2 0h1m-6 0h1m-2 0h1m-2 0h1m-4 0h1m-2 0h1m-2 0h1m-2 0h1m-2 0h1m-2 0h1m-2 0h1m-19 0h1m-10 0h1m9 1h1m3 0h1h1m5 0h1m4 0h1m2 0h1h1m1 0h1m1 0h1h1m1 0h1m1 0h1h1h1m1 0h1h1h1h1h1h1m1 0h1m1 0h1h1m1 0h1m5 0h1h1m6 1h1m-9 0h1m-2 0h1m-6 0h1m-4 0h1m-3 0h1m-2 0h1m-2 0h1m-2 0h1m-2 0h1m-2 0h1m-2 0h1m-2 0h1m-2 0h1m-2 0h1m-2 0h1m-2 0h1m-2 0h1m-2 0h1m-2 0h1m-3 0h1m-2 0h1m-2 0h1m-2 0h1m-2 0h1m-2 0h1m-4 0h1m-5 0h1m-4 0h1m-12 0h1m-3 0h1m-1 1h1m11 0h1m3 0h1h1h1h1h1m2 0h1h1h1h1h1h1h1m1 0h1m1 0h1h1h1h1h1m1 0h1h1m1 0h1m3 0h1h1m1 0h1m7 0h1m3 0h1m-7 1h1m-2 0h1m-3 0h1m-5 0h1m-3 0h1m-4 0h1m-2 0h1m-2 0h1m-2 0h1m-3 0h1m-2 0h1m-2 0h1m-2 0h1m-2 0h1m-2 0h1m-2 0h1m-2 0h1m-2 0h1m-2 0h1m-3 0h1m-2 0h1m-2 0h1m-2 0h1m-3 0h1m-2 0h1m-6 0h1m-2 0h1m-2 0h1m-12 0h1m-3 1h1m4 0h1h1m3 0h1m1 0h1m2 0h1h1h1h1h1h1m1 0h1m1 0h1h1m1 0h1h1h1h1h1h1m1 0h1h1h1h1h1h1h1h1h1h1m1 0h1m1 0h1h1h1m9 0h1m0 1h1m-10 0h1m-2 0h1m-4 0h1m-3 0h1m-2 0h1m-2 0h1m-3 0h1m-3 0h1m-3 0h1m-2 0h1m-2 0h1m-2 0h1m-2 0h1m-5 0h1m-2 0h1m-2 0h1m-2 0h1m-2 0h1m-2 0h1m-2 0h1m-2 0h1m-2 0h1m-4 0h1m-2 0h1m-6 0h1m-2 0h1m-6 0h1m-2 0h1m-5 0h1m-2 0h1m1 1h1m2 0h1h1h1h1m1 0h1h1h1h1h1h1h1h1m1 0h1h1h1h1h1h1h1h1h1h1h1h1h1h1h1m1 0h1h1h1h1m3 0h1h1h1m1 0h1m1 0h1m8 0h1m4 0h1m8 1h1m-18 0h1m-4 0h1m-9 0h1m-2 0h1m-2 0h1m-3 0h1m-2 0h1m-2 0h1m-2 0h1m-2 0h1m-2 0h1m-2 0h1m-2 0h1m-2 0h1m-2 0h1m-2 0h1m-2 0h1m-2 0h1m-2 0h1m-2 0h1m-2 0h1m-2 0h1m-2 0h1m-2 0h1m-2 0h1m-2 0h1m-2 0h1m-2 0h1m-2 0h1m-2 0h1m-2 0h1m-2 0h1m-3 0h1m-2 0h1m-2 0h1m-2 0h1m-2 0h1m-19 1h1m12 0h1m1 0h1h1m1 0h1h1m1 0h1h1h1h1h1m1 0h1h1h1m1 0h1h1h1h1h1h1h1h1h1m1 0h1h1h1h1h1h1h1h1m1 0h1h1m2 0h1m1 0h1h1h1m5 0h1m2 1h1m-9 0h1m-3 0h1m-2 0h1m-4 0h1m-3 0h1m-2 0h1m-2 0h1m-2 0h1m-2 0h1m-2 0h1m-2 0h1m-2 0h1m-2 0h1m-2 0h1m-2 0h1m-2 0h1m-2 0h1m-2 0h1m-2 0h1m-2 0h1m-2 0h1m-2 0h1m-2 0h1m-2 0h1m-2 0h1m-2 0h1m-2 0h1m-2 0h1m-2 0h1m-2 0h1m-2 0h1m-2 0h1m-2 0h1m-2 0h1m-2 0h1m-3 0h1m-2 0h1m-2 0h1m-4 0h1m-2 0h1m-3 0h1m-3 0h1m-3 0h1m-21 1h1m14 0h1m1 0h1m3 0h1m5 0h1h1m1 0h1h1h1h1h1h1h1h1h1h1h1h1h1m1 0h1h1h1h1h1h1h1h1h1h1h1h1h1h1h1m1 0h1h1h1h1h1m1 0h1m4 0h1m4 0h1m2 1h1m-8 0h1m-4 0h1m-4 0h1m-2 0h1m-3 0h1m-3 0h1m-2 0h1m-2 0h1m-2 0h1m-2 0h1m-3 0h1m-2 0h1m-2 0h1m-2 0h1m-2 0h1m-2 0h1m-2 0h1m-2 0h1m-2 0h1m-2 0h1m-2 0h1m-2 0h1m-2 0h1m-2 0h1m-2 0h1m-2 0h1m-2 0h1m-2 0h1m-2 0h1m-2 0h1m-2 0h1m-3 0h1m-2 0h1m-2 0h1m-3 0h1m-2 0h1m-2 0h1m-2 0h1m-14 0h1m1 1h1h1m3 0h1h1h1m1 0h1m4 0h1h1h1h1h1m1 0h1h1h1h1h1h1h1h1h1h1h1h1h1h1h1h1h1h1h1h1h1m1 0h1m1 0h1m1 0h1h1m1 0h1m5 0h1m2 0h1m3 0h1h1m2 1h1m-4 0h1m-2 0h1m-2 0h1m-5 0h1m-4 0h1m-2 0h1m-2 0h1m-2 0h1m-2 0h1m-2 0h1m-2 0h1m-4 0h1m-2 0h1m-3 0h1m-2 0h1m-2 0h1m-2 0h1m-2 0h1m-2 0h1m-2 0h1m-2 0h1m-2 0h1m-2 0h1m-3 0h1m-2 0h1m-2 0h1m-2 0h1m-4 0h1m-2 0h1m-2 0h1m-2 0h1m-2 0h1m-2 0h1m-2 0h1m-2 0h1m-2 0h1m-2 0h1m-3 0h1m-2 0h1m-4 0h1m-2 0h1m-2 0h1m-2 0h1m-4 0h1m-3 0h1m-3 1h1m3 0h1m3 0h1h1m1 0h1h1h1m2 0h1h1h1h1h1h1h1h1h1h1h1h1h1h1h1h1h1h1h1h1h1h1h1h1h1h1h1h1h1h1h1h1h1h1h1m1 0h1m3 0h1m9 0h1h1m-11 1h1m-3 0h1m-2 0h1m-3 0h1m-2 0h1m-3 0h1m-2 0h1m-2 0h1m-2 0h1m-2 0h1m-2 0h1m-2 0h1m-4 0h1m-2 0h1m-2 0h1m-3 0h1m-2 0h1m-2 0h1m-2 0h1m-2 0h1m-2 0h1m-2 0h1m-2 0h1m-2 0h1m-2 0h1m-2 0h1m-2 0h1m-2 0h1m-2 0h1m-2 0h1m-2 0h1m-2 0h1m-2 0h1m-2 0h1m-2 0h1m-2 0h1m-2 0h1m-2 0h1m-2 0h1m-2 0h1m-2 0h1m-2 0h1m-2 0h1m-6 0h1m-6 0h1m-3 0h1m-8 0h1m7 1h1m1 0h1m3 0h1m1 0h1h1m1 0h1h1h1h1h1h1h1h1h1m1 0h1h1h1h1h1h1h1h1h1h1h1h1h1h1h1h1h1h1h1h1m1 0h1m1 0h1m1 0h1h1h1h1h1h1h1m1 0h1m2 0h1h1m3 0h1m2 0h1m3 0h1m0 1h1m-18 0h1m-4 0h1m-2 0h1m-2 0h1m-3 0h1m-2 0h1m-3 0h1m-2 0h1m-2 0h1m-2 0h1m-2 0h1m-2 0h1m-2 0h1m-2 0h1m-2 0h1m-2 0h1m-2 0h1m-2 0h1m-2 0h1m-2 0h1m-2 0h1m-2 0h1m-2 0h1m-2 0h1m-2 0h1m-2 0h1m-2 0h1m-2 0h1m-2 0h1m-2 0h1m-2 0h1m-2 0h1m-2 0h1m-2 0h1m-2 0h1m-2 0h1m-2 0h1m-2 0h1m-2 0h1m-2 0h1m-2 0h1m-2 0h1m-3 0h1m-2 0h1m-2 0h1m-2 0h1m-2 0h1m-2 0h1m-2 0h1m-12 0h1m-2 1h1m1 0h1h1m4 0h1m3 0h1m1 0h1m1 0h1h1h1h1h1h1h1h1h1h1m1 0h1h1h1h1h1h1h1h1h1h1h1h1h1h1h1h1h1h1h1h1h1h1h1h1h1h1m1 0h1h1h1h1m1 0h1h1h1m1 0h1m1 0h1m10 1h1m-6 0h1m-6 0h1m-3 0h1m-2 0h1m-5 0h1m-2 0h1m-2 0h1m-2 0h1m-2 0h1m-2 0h1m-2 0h1m-2 0h1m-2 0h1m-2 0h1m-2 0h1m-2 0h1m-2 0h1m-2 0h1m-2 0h1m-2 0h1m-3 0h1m-2 0h1m-2 0h1m-2 0h1m-2 0h1m-2 0h1m-2 0h1m-2 0h1m-2 0h1m-2 0h1m-2 0h1m-2 0h1m-2 0h1m-2 0h1m-2 0h1m-2 0h1m-2 0h1m-2 0h1m-2 0h1m-2 0h1m-2 0h1m-2 0h1m-2 0h1m-2 0h1m-2 0h1m-2 0h1m-3 0h1m-2 0h1m-2 0h1m-2 0h1m-3 0h1m-2 0h1m-3 0h1m-5 1h1m2 0h1h1h1m3 0h1h1h1m2 0h1h1m1 0h1h1h1h1h1h1h1h1h1h1h1h1h1h1h1h1h1h1h1h1h1h1h1h1h1h1h1h1h1h1h1h1h1h1h1h1h1h1h1h1h1h1m5 0h1m3 0h1m-4 1h1m-3 0h1m-6 0h1m-2 0h1m-2 0h1m-4 0h1m-2 0h1m-2 0h1m-2 0h1m-2 0h1m-2 0h1m-2 0h1m-2 0h1m-2 0h1m-2 0h1m-2 0h1m-2 0h1m-2 0h1m-2 0h1m-2 0h1m-2 0h1m-2 0h1m-2 0h1m-2 0h1m-2 0h1m-2 0h1m-2 0h1m-2 0h1m-2 0h1m-2 0h1m-2 0h1m-2 0h1m-2 0h1m-2 0h1m-2 0h1m-2 0h1m-2 0h1m-2 0h1m-3 0h1m-2 0h1m-2 0h1m-2 0h1m-2 0h1m-2 0h1m-3 0h1m-2 0h1m-3 0h1m-2 0h1m-18 0h1m11 1h1m3 0h1h1h1h1h1h1h1h1h1h1h1h1h1h1h1h1h1h1h1h1h1h1h1h1h1h1h1h1h1h1h1h1h1h1h1h1h1h1h1h1h1h1h1m2 0h1h1h1h1h1h1h1h1h1h1m2 1h1m-4 0h1m-2 0h1m-3 0h1m-2 0h1m-3 0h1m-2 0h1m-2 0h1m-3 0h1m-2 0h1m-2 0h1m-2 0h1m-2 0h1m-2 0h1m-2 0h1m-2 0h1m-2 0h1m-2 0h1m-2 0h1m-2 0h1m-2 0h1m-2 0h1m-2 0h1m-2 0h1m-2 0h1m-2 0h1m-2 0h1m-2 0h1m-2 0h1m-2 0h1m-2 0h1m-2 0h1m-2 0h1m-2 0h1m-2 0h1m-2 0h1m-2 0h1m-2 0h1m-2 0h1m-2 0h1m-2 0h1m-2 0h1m-2 0h1m-2 0h1m-2 0h1m-2 0h1m-2 0h1m-3 0h1m-3 0h1m-2 0h1m-2 0h1m-4 0h1m-2 0h1m-2 0h1m-2 0h1m-102 1h1m85 0h1m9 0h1m5 0h1h1h1m1 0h1m2 0h1h1h1m1 0h1h1h1h1h1h1h1h1h1h1h1h1h1h1h1h1h1h1h1h1h1h1h1h1h1h1h1h1h1h1h1h1h1h1h1h1h1h1h1h1h1m4 0h1m11 0h1m-9 1h1m-3 0h1m-5 0h1m-4 0h1m-2 0h1m-2 0h1m-2 0h1m-2 0h1m-3 0h1m-2 0h1m-2 0h1m-2 0h1m-2 0h1m-2 0h1m-2 0h1m-2 0h1m-2 0h1m-2 0h1m-2 0h1m-2 0h1m-2 0h1m-2 0h1m-2 0h1m-2 0h1m-2 0h1m-2 0h1m-2 0h1m-2 0h1m-2 0h1m-2 0h1m-2 0h1m-2 0h1m-2 0h1m-2 0h1m-2 0h1m-2 0h1m-2 0h1m-2 0h1m-2 0h1m-2 0h1m-2 0h1m-2 0h1m-2 0h1m-2 0h1m-2 0h1m-2 0h1m-2 0h1m-2 0h1m-3 0h1m-2 0h1m-3 0h1m-6 0h1m-2 0h1m-2 0h1m-97 0h1m-1 1h1m90 0h1m5 0h1m1 0h1h1h1m1 0h1h1h1h1h1h1h1h1h1h1h1h1h1h1h1h1h1h1h1h1h1h1h1h1h1h1h1h1h1h1h1h1h1h1h1h1h1h1h1h1h1h1h1h1h1h1h1h1m1 0h1h1h1h1h1m1 0h1m-3 1h1m-2 0h1m-2 0h1m-4 0h1m-2 0h1m-2 0h1m-2 0h1m-2 0h1m-2 0h1m-2 0h1m-2 0h1m-2 0h1m-2 0h1m-2 0h1m-2 0h1m-2 0h1m-2 0h1m-2 0h1m-2 0h1m-2 0h1m-2 0h1m-2 0h1m-2 0h1m-2 0h1m-2 0h1m-2 0h1m-2 0h1m-2 0h1m-2 0h1m-2 0h1m-2 0h1m-2 0h1m-2 0h1m-2 0h1m-2 0h1m-2 0h1m-2 0h1m-2 0h1m-2 0h1m-2 0h1m-2 0h1m-2 0h1m-2 0h1m-2 0h1m-2 0h1m-2 0h1m-3 0h1m-2 0h1m-2 0h1m-2 0h1m-2 0h1m-4 0h1m-2 0h1m-4 0h1m-3 0h1m-3 0h1m-2 0h1m-14 0h1m-4 0h1m-76 0h1m-1 1h1m82 0h1m9 0h1h1h1m1 0h1h1h1h1h1h1h1m1 0h1m1 0h1h1m1 0h1h1h1h1h1h1h1h1h1h1h1h1h1h1h1h1h1h1h1h1h1h1h1h1h1h1h1h1h1h1h1h1h1h1h1h1h1m1 0h1h1h1h1m2 0h1m7 1h1m-6 0h1m-3 0h1m-3 0h1m-6 0h1m-2 0h1m-2 0h1m-2 0h1m-2 0h1m-2 0h1m-2 0h1m-2 0h1m-2 0h1m-2 0h1m-2 0h1m-2 0h1m-2 0h1m-2 0h1m-2 0h1m-2 0h1m-2 0h1m-2 0h1m-2 0h1m-2 0h1m-2 0h1m-2 0h1m-2 0h1m-2 0h1m-2 0h1m-2 0h1m-2 0h1m-2 0h1m-2 0h1m-2 0h1m-2 0h1m-2 0h1m-2 0h1m-2 0h1m-2 0h1m-2 0h1m-2 0h1m-2 0h1m-2 0h1m-2 0h1m-2 0h1m-3 0h1m-2 0h1m-2 0h1m-2 0h1m-2 0h1m-2 0h1m-3 0h1m-2 0h1m-6 0h1m-3 0h1m-8 0h1m-85 0h1m-1 1h1m69 0h1m3 0h1m7 0h1m3 0h1h1m6 0h1m3 0h1h1h1h1h1h1m1 0h1h1h1h1h1m1 0h1h1h1h1h1h1h1h1h1h1h1h1h1h1h1h1h1h1h1h1h1h1h1h1h1h1h1h1h1h1h1m1 0h1h1h1h1h1h1m1 0h1h1m1 0h1m2 1h1m-5 0h1m-8 0h1m-2 0h1m-2 0h1m-2 0h1m-2 0h1m-3 0h1m-2 0h1m-2 0h1m-2 0h1m-2 0h1m-2 0h1m-2 0h1m-2 0h1m-2 0h1m-2 0h1m-2 0h1m-2 0h1m-2 0h1m-2 0h1m-2 0h1m-2 0h1m-2 0h1m-2 0h1m-2 0h1m-2 0h1m-2 0h1m-2 0h1m-2 0h1m-2 0h1m-2 0h1m-2 0h1m-2 0h1m-2 0h1m-2 0h1m-2 0h1m-2 0h1m-2 0h1m-2 0h1m-2 0h1m-2 0h1m-2 0h1m-2 0h1m-2 0h1m-2 0h1m-2 0h1m-4 0h1m-2 0h1m-6 0h1m-5 0h1m-88 0h1m-1 1h1m69 0h1m19 0h1h1m1 0h1h1m1 0h1m1 0h1h1h1h1h1h1h1h1h1h1h1h1h1h1h1h1h1h1h1h1h1h1h1h1h1h1h1h1h1h1h1h1h1h1h1h1h1h1h1h1h1h1h1h1h1h1m1 0h1m2 0h1m1 0h1h1m3 1h1m-2 0h1m-3 0h1m-2 0h1m-7 0h1m-2 0h1m-2 0h1m-2 0h1m-2 0h1m-2 0h1m-2 0h1m-2 0h1m-2 0h1m-2 0h1m-2 0h1m-2 0h1m-2 0h1m-2 0h1m-2 0h1m-2 0h1m-2 0h1m-2 0h1m-2 0h1m-2 0h1m-2 0h1m-2 0h1m-2 0h1m-2 0h1m-2 0h1m-2 0h1m-2 0h1m-2 0h1m-2 0h1m-2 0h1m-2 0h1m-2 0h1m-2 0h1m-2 0h1m-2 0h1m-2 0h1m-2 0h1m-2 0h1m-2 0h1m-2 0h1m-2 0h1m-2 0h1m-2 0h1m-2 0h1m-2 0h1m-2 0h1m-2 0h1m-2 0h1m-3 0h1m-7 0h1m-3 0h1m-19 0h1m-10 0h1m-23 0h1m-40 0h1m-1 1h1m74 0h1m6 0h1h1m2 0h1m1 0h1m1 0h1h1h1h1h1m1 0h1h1h1h1h1h1h1h1h1h1h1h1m1 0h1h1h1h1h1h1h1h1h1h1h1h1h1h1h1h1h1h1h1h1h1h1h1h1h1h1h1h1h1h1h1h1h1h1h1h1m1 0h1h1m1 0h1m24 1h1m-28 0h1m-2 0h1m-4 0h1m-2 0h1m-3 0h1m-2 0h1m-2 0h1m-2 0h1m-2 0h1m-2 0h1m-2 0h1m-2 0h1m-2 0h1m-2 0h1m-2 0h1m-2 0h1m-2 0h1m-2 0h1m-2 0h1m-2 0h1m-2 0h1m-2 0h1m-2 0h1m-2 0h1m-2 0h1m-2 0h1m-2 0h1m-2 0h1m-2 0h1m-2 0h1m-2 0h1m-2 0h1m-2 0h1m-2 0h1m-2 0h1m-2 0h1m-2 0h1m-2 0h1m-2 0h1m-2 0h1m-2 0h1m-2 0h1m-2 0h1m-2 0h1m-2 0h1m-2 0h1m-2 0h1m-2 0h1m-2 0h1m-3 0h1m-2 0h1m-4 0h1m-2 0h1m-2 0h1m-5 0h1m-12 0h1m-19 0h1m-27 0h1m-30 0h1m-1 1h1m48 0h1m34 0h1m3 0h1m1 0h1m2 0h1h1h1h1h1h1h1h1h1h1h1h1h1h1h1h1h1h1h1h1h1h1h1h1h1h1h1h1h1h1h1h1h1h1h1h1h1h1h1h1h1h1h1h1h1h1h1m1 0h1h1m5 0h1h1m1 0h1m-6 1h1m-5 0h1m-3 0h1m-3 0h1m-2 0h1m-2 0h1m-2 0h1m-2 0h1m-2 0h1m-2 0h1m-2 0h1m-2 0h1m-2 0h1m-2 0h1m-2 0h1m-2 0h1m-2 0h1m-2 0h1m-2 0h1m-2 0h1m-2 0h1m-2 0h1m-2 0h1m-2 0h1m-2 0h1m-2 0h1m-2 0h1m-2 0h1m-2 0h1m-2 0h1m-2 0h1m-2 0h1m-2 0h1m-2 0h1m-2 0h1m-2 0h1m-2 0h1m-2 0h1m-2 0h1m-2 0h1m-2 0h1m-2 0h1m-2 0h1m-2 0h1m-2 0h1m-2 0h1m-2 0h1m-3 0h1m-4 0h1m-3 0h1m-3 0h1m-10 0h1m-5 0h1m-11 0h1m-8 0h1m-57 0h1m-1 1h1m57 0h1m11 0h1m9 0h1m6 0h1h1m1 0h1m1 0h1h1h1h1h1h1h1h1h1h1h1h1h1h1h1h1h1h1h1h1h1h1h1h1h1h1h1h1h1h1h1h1h1h1h1h1h1h1h1h1h1h1h1h1h1m1 0h1h1h1m1 0h1m1 0h1m5 0h1m2 1h1m-5 0h1m-8 0h1m-3 0h1m-2 0h1m-3 0h1m-2 0h1m-2 0h1m-2 0h1m-2 0h1m-2 0h1m-2 0h1m-2 0h1m-2 0h1m-2 0h1m-2 0h1m-2 0h1m-2 0h1m-2 0h1m-2 0h1m-2 0h1m-2 0h1m-2 0h1m-2 0h1m-2 0h1m-2 0h1m-2 0h1m-2 0h1m-2 0h1m-2 0h1m-2 0h1m-2 0h1m-2 0h1m-2 0h1m-2 0h1m-2 0h1m-2 0h1m-2 0h1m-2 0h1m-2 0h1m-2 0h1m-2 0h1m-2 0h1m-2 0h1m-2 0h1m-2 0h1m-2 0h1m-2 0h1m-2 0h1m-2 0h1m-2 0h1m-3 0h1m-2 0h1m-2 0h1m-2 0h1m-3 0h1m-5 0h1m-13 0h1m-70 0h1m-1 1h1m48 0h1m12 0h1m4 0h1h1m7 0h1m1 0h1m1 0h1m1 0h1m1 0h1m6 0h1h1h1h1h1h1h1h1h1h1h1h1h1h1h1h1h1h1h1h1h1h1h1h1h1h1h1h1h1h1h1h1h1h1h1h1h1h1h1h1h1h1h1h1h1h1h1m1 0h1h1h1m2 0h1m3 0h1m5 1h1m-12 0h1m-4 0h1m-3 0h1m-2 0h1m-2 0h1m-3 0h1m-2 0h1m-2 0h1m-2 0h1m-2 0h1m-2 0h1m-2 0h1m-2 0h1m-2 0h1m-2 0h1m-2 0h1m-2 0h1m-2 0h1m-2 0h1m-2 0h1m-2 0h1m-2 0h1m-2 0h1m-2 0h1m-2 0h1m-2 0h1m-2 0h1m-2 0h1m-2 0h1m-2 0h1m-2 0h1m-2 0h1m-2 0h1m-2 0h1m-2 0h1m-2 0h1m-2 0h1m-2 0h1m-2 0h1m-2 0h1m-2 0h1m-2 0h1m-2 0h1m-2 0h1m-2 0h1m-2 0h1m-2 0h1m-2 0h1m-2 0h1m-2 0h1m-2 0h1m-2 0h1m-2 0h1m-7 0h1m-2 0h1m-2 0h1m-3 0h1m-4 0h1m-12 0h1m-2 0h1m-3 0h1m-5 0h1m-6 0h1m-3 0h1m-16 0h1m-35 0h1m-1 1h1m27 0h1m7 0h1m1 0h1m12 0h1m12 0h1m1 0h1m8 0h1m3 0h1m3 0h1m1 0h1m1 0h1m2 0h1h1h1h1h1h1h1h1h1h1h1h1h1h1h1h1h1h1h1h1h1h1h1h1h1h1h1h1h1h1h1m1 0h1h1h1h1h1h1h1h1h1h1m1 0h1m6 0h1h1m2 0h1m4 1h1m-7 0h1m-2 0h1m-5 0h1m-3 0h1m-2 0h1m-2 0h1m-2 0h1m-2 0h1m-2 0h1m-2 0h1m-2 0h1m-2 0h1m-2 0h1m-2 0h1m-2 0h1m-2 0h1m-2 0h1m-2 0h1m-2 0h1m-2 0h1m-2 0h1m-2 0h1m-2 0h1m-2 0h1m-2 0h1m-2 0h1m-2 0h1m-2 0h1m-2 0h1m-2 0h1m-2 0h1m-2 0h1m-2 0h1m-2 0h1m-2 0h1m-2 0h1m-2 0h1m-2 0h1m-2 0h1m-2 0h1m-2 0h1m-2 0h1m-2 0h1m-2 0h1m-2 0h1m-2 0h1m-2 0h1m-2 0h1m-2 0h1m-2 0h1m-2 0h1m-2 0h1m-2 0h1m-2 0h1m-2 0h1m-2 0h1m-2 0h1m-2 0h1m-2 0h1m-3 0h1m-2 0h1m-3 0h1m-3 0h1m-3 0h1m-3 0h1m-4 0h1m-27 0h1m-2 0h1m-18 0h1m-24 0h1m-1 1h1m40 0h1m1 0h1m28 0h1m7 0h1h1m2 0h1h1h1h1h1h1m1 0h1h1h1h1h1h1h1h1h1h1h1h1h1h1h1h1h1h1h1h1h1h1h1h1h1h1h1h1h1h1h1h1h1h1h1h1h1h1h1h1m1 0h1h1m2 0h1m1 0h1m5 0h1m4 0h1m-4 1h1m-9 0h1m-2 0h1m-7 0h1m-2 0h1m-2 0h1m-2 0h1m-3 0h1m-2 0h1m-2 0h1m-2 0h1m-3 0h1m-2 0h1m-2 0h1m-2 0h1m-2 0h1m-2 0h1m-2 0h1m-2 0h1m-2 0h1m-2 0h1m-2 0h1m-2 0h1m-2 0h1m-2 0h1m-2 0h1m-2 0h1m-2 0h1m-2 0h1m-2 0h1m-2 0h1m-2 0h1m-2 0h1m-2 0h1m-2 0h1m-2 0h1m-2 0h1m-2 0h1m-2 0h1m-2 0h1m-2 0h1m-3 0h1m-2 0h1m-2 0h1m-2 0h1m-2 0h1m-2 0h1m-2 0h1m-2 0h1m-4 0h1m-6 0h1m-2 0h1m-5 0h1m-3 0h1m-2 0h1m-12 0h1m-29 0h1m-3 0h1m-3 0h1m-7 0h1m-19 0h1m15 1h1m17 0h1m2 0h1m19 0h1m15 0h1m1 0h1h1h1h1m1 0h1h1m1 0h1m1 0h1h1h1h1h1h1h1h1h1h1h1h1h1h1h1h1h1h1h1h1h1h1h1h1h1h1h1h1h1h1h1h1h1h1h1h1h1h1h1h1h1h1h1h1h1m1 0h1m4 0h1h1m2 0h1m-3 1h1m-2 0h1m-3 0h1m-2 0h1m-6 0h1m-3 0h1m-2 0h1m-2 0h1m-2 0h1m-2 0h1m-2 0h1m-2 0h1m-2 0h1m-2 0h1m-2 0h1m-2 0h1m-2 0h1m-2 0h1m-2 0h1m-2 0h1m-2 0h1m-2 0h1m-2 0h1m-2 0h1m-2 0h1m-2 0h1m-2 0h1m-2 0h1m-2 0h1m-2 0h1m-2 0h1m-2 0h1m-2 0h1m-2 0h1m-2 0h1m-2 0h1m-2 0h1m-2 0h1m-2 0h1m-2 0h1m-2 0h1m-2 0h1m-2 0h1m-2 0h1m-2 0h1m-2 0h1m-2 0h1m-2 0h1m-2 0h1m-2 0h1m-2 0h1m-3 0h1m-2 0h1m-4 0h1m-4 0h1m-2 0h1m-2 0h1m-2 0h1m-4 0h1m-7 0h1m-6 0h1m-13 0h1m-3 0h1m-5 0h1m-3 0h1m-6 0h1m-13 0h1m-11 0h1m-10 0h1m-1 1h1m7 0h1m3 0h1m11 0h1m18 0h1m19 0h1m2 0h1m5 0h1h1m1 0h1m1 0h1h1m1 0h1h1h1m1 0h1h1h1h1h1h1h1h1h1h1h1h1h1h1h1h1h1h1h1h1h1h1h1h1h1h1h1h1h1h1h1h1h1h1h1h1h1h1h1h1h1h1h1h1h1h1m1 0h1m2 0h1m0 1h1m-2 0h1m-4 0h1m-2 0h1m-2 0h1m-2 0h1m-2 0h1m-3 0h1m-2 0h1m-2 0h1m-3 0h1m-2 0h1m-2 0h1m-2 0h1m-2 0h1m-2 0h1m-2 0h1m-2 0h1m-2 0h1m-2 0h1m-2 0h1m-2 0h1m-2 0h1m-2 0h1m-2 0h1m-2 0h1m-2 0h1m-2 0h1m-2 0h1m-2 0h1m-2 0h1m-2 0h1m-2 0h1m-2 0h1m-2 0h1m-2 0h1m-2 0h1m-2 0h1m-2 0h1m-2 0h1m-2 0h1m-2 0h1m-2 0h1m-2 0h1m-2 0h1m-3 0h1m-4 0h1m-3 0h1m-2 0h1m-3 0h1m-3 0h1m-10 0h1m-7 0h1m-17 0h1m-9 0h1m-9 0h1m-4 0h1m-5 0h1m-22 0h1m-1 1h1m36 0h1m9 0h1m12 0h1m6 0h1m6 0h1m1 0h1h1h1m3 0h1h1h1h1h1h1h1h1h1h1h1h1h1h1h1h1h1h1h1h1h1h1h1h1h1h1h1h1h1h1h1h1h1h1h1m1 0h1h1h1h1h1m1 0h1h1h1h1m1 0h1h1m8 0h1m-4 1h1m-8 0h1m-2 0h1m-3 0h1m-2 0h1m-3 0h1m-2 0h1m-2 0h1m-2 0h1m-2 0h1m-2 0h1m-2 0h1m-2 0h1m-2 0h1m-2 0h1m-2 0h1m-2 0h1m-2 0h1m-2 0h1m-2 0h1m-2 0h1m-2 0h1m-2 0h1m-2 0h1m-2 0h1m-2 0h1m-2 0h1m-2 0h1m-2 0h1m-2 0h1m-2 0h1m-2 0h1m-2 0h1m-2 0h1m-2 0h1m-2 0h1m-2 0h1m-2 0h1m-2 0h1m-2 0h1m-2 0h1m-2 0h1m-2 0h1m-2 0h1m-2 0h1m-2 0h1m-2 0h1m-2 0h1m-2 0h1m-2 0h1m-3 0h1m-3 0h1m-2 0h1m-2 0h1m-2 0h1m-5 0h1m-3 0h1m-8 0h1m-3 0h1m-7 0h1m-4 0h1m-2 0h1m-6 0h1m-12 0h1m-10 0h1m-23 0h1m-1 1h1m21 0h1m2 0h1m6 0h1m8 0h1m10 0h1h1m3 0h1m1 0h1m1 0h1m4 0h1m2 0h1m5 0h1h1h1h1h1h1h1h1h1h1h1h1h1h1h1h1h1h1h1h1h1h1h1h1h1h1h1h1h1h1h1h1h1h1h1h1h1h1h1h1h1h1h1m1 0h1m1 0h1h1h1h1h1m3 0h1m1 1h1m-2 0h1m-3 0h1m-3 0h1m-4 0h1m-2 0h1m-2 0h1m-2 0h1m-2 0h1m-2 0h1m-2 0h1m-2 0h1m-3 0h1m-2 0h1m-2 0h1m-2 0h1m-3 0h1m-2 0h1m-2 0h1m-2 0h1m-2 0h1m-2 0h1m-2 0h1m-2 0h1m-2 0h1m-2 0h1m-2 0h1m-2 0h1m-2 0h1m-2 0h1m-2 0h1m-2 0h1m-2 0h1m-2 0h1m-2 0h1m-2 0h1m-2 0h1m-2 0h1m-2 0h1m-2 0h1m-2 0h1m-2 0h1m-2 0h1m-2 0h1m-3 0h1m-3 0h1m-2 0h1m-2 0h1m-5 0h1m-3 0h1m-2 0h1m-2 0h1m-5 0h1m-10 0h1m-5 0h1m-8 0h1m-5 0h1m-2 0h1m-5 0h1m-3 0h1m-6 0h1m-2 0h1m-3 0h1m-5 0h1m-22 0h1m-1 1h1m15 0h1m14 0h1m8 0h1m7 0h1m5 0h1m3 0h1m2 0h1m3 0h1m2 0h1h1h1m1 0h1h1h1h1h1h1h1h1m1 0h1h1h1h1h1h1m1 0h1m1 0h1h1h1h1h1h1h1h1h1h1h1h1h1h1h1h1h1h1h1h1h1h1h1h1h1m1 0h1h1h1h1h1h1h1m3 0h1h1m1 0h1m1 0h1m-1 1h1m-10 0h1m-3 0h1m-3 0h1m-2 0h1m-4 0h1m-2 0h1m-2 0h1m-2 0h1m-2 0h1m-2 0h1m-2 0h1m-2 0h1m-2 0h1m-2 0h1m-2 0h1m-2 0h1m-2 0h1m-2 0h1m-2 0h1m-2 0h1m-2 0h1m-2 0h1m-2 0h1m-2 0h1m-2 0h1m-2 0h1m-2 0h1m-2 0h1m-2 0h1m-2 0h1m-2 0h1m-2 0h1m-2 0h1m-2 0h1m-2 0h1m-2 0h1m-2 0h1m-2 0h1m-2 0h1m-2 0h1m-3 0h1m-2 0h1m-2 0h1m-2 0h1m-2 0h1m-2 0h1m-3 0h1m-2 0h1m-4 0h1m-18 0h1m-3 0h1m-4 0h1m-5 0h1m-2 0h1m-2 0h1m-11 0h1m-16 0h1m-14 0h1m-1 1h1m16 0h1m1 0h1m1 0h1m2 0h1m7 0h1m1 0h1m1 0h1m1 0h1m5 0h1m1 0h1h1m4 0h1m3 0h1h1h1h1m1 0h1m1 0h1m1 0h1m3 0h1h1h1h1h1m1 0h1h1h1h1h1h1m1 0h1h1h1h1h1h1h1h1h1h1h1h1h1h1h1h1h1h1h1h1h1h1h1h1h1h1h1h1m1 0h1m1 0h1h1m1 0h1h1h1h1m1 0h1m1 0h1m7 0h1m-4 1h1m-12 0h1m-2 0h1m-3 0h1m-2 0h1m-2 0h1m-2 0h1m-3 0h1m-2 0h1m-2 0h1m-2 0h1m-2 0h1m-2 0h1m-2 0h1m-2 0h1m-2 0h1m-2 0h1m-2 0h1m-2 0h1m-2 0h1m-2 0h1m-2 0h1m-2 0h1m-2 0h1m-2 0h1m-3 0h1m-2 0h1m-2 0h1m-2 0h1m-2 0h1m-2 0h1m-2 0h1m-2 0h1m-3 0h1m-2 0h1m-2 0h1m-2 0h1m-2 0h1m-2 0h1m-2 0h1m-3 0h1m-2 0h1m-4 0h1m-5 0h1m-2 0h1m-5 0h1m-5 0h1m-3 0h1m-14 0h1m-2 0h1m-7 0h1m-20 0h1m-11 0h1m-6 0h1m-1 1h1m19 0h1m6 0h1m1 0h1m8 0h1m2 0h1m1 0h1m1 0h1m3 0h1h1m3 0h1m1 0h1h1m1 0h1h1h1h1h1m2 0h1m1 0h1h1h1h1h1h1h1h1m2 0h1h1m1 0h1h1h1h1h1h1h1h1h1h1h1h1h1h1h1h1h1h1m1 0h1h1h1h1h1h1h1h1h1h1h1h1h1h1m1 0h1m2 0h1m1 0h1h1m6 1h1m-10 0h1m-2 0h1m-6 0h1m-2 0h1m-2 0h1m-2 0h1m-2 0h1m-2 0h1m-2 0h1m-3 0h1m-2 0h1m-2 0h1m-2 0h1m-2 0h1m-2 0h1m-2 0h1m-2 0h1m-2 0h1m-2 0h1m-2 0h1m-3 0h1m-2 0h1m-2 0h1m-2 0h1m-3 0h1m-2 0h1m-2 0h1m-2 0h1m-2 0h1m-2 0h1m-2 0h1m-2 0h1m-2 0h1m-4 0h1m-2 0h1m-2 0h1m-2 0h1m-2 0h1m-2 0h1m-3 0h1m-4 0h1m-12 0h1m-2 0h1m-11 0h1m-2 0h1m-17 0h1m-2 0h1m-2 0h1m-3 0h1m-18 0h1m-8 0h1m-1 1h1m6 0h1m6 0h1h1m1 0h1m17 0h1m5 0h1h1m1 0h1m1 0h1m4 0h1h1m1 0h1m5 0h1m7 0h1m1 0h1m1 0h1h1h1h1h1h1h1m1 0h1h1h1h1h1h1h1h1m1 0h1h1m1 0h1h1h1h1h1h1h1h1h1h1h1h1m1 0h1h1h1h1h1h1h1m1 0h1h1h1h1m1 0h1h1m2 0h1m1 0h1m5 1h1m-12 0h1m-2 0h1m-2 0h1m-2 0h1m-2 0h1m-2 0h1m-3 0h1m-2 0h1m-2 0h1m-3 0h1m-2 0h1m-2 0h1m-3 0h1m-2 0h1m-2 0h1m-2 0h1m-2 0h1m-2 0h1m-2 0h1m-2 0h1m-2 0h1m-2 0h1m-2 0h1m-2 0h1m-2 0h1m-2 0h1m-2 0h1m-2 0h1m-2 0h1m-2 0h1m-2 0h1m-2 0h1m-2 0h1m-3 0h1m-2 0h1m-2 0h1m-2 0h1m-2 0h1m-2 0h1m-2 0h1m-2 0h1m-2 0h1m-3 0h1m-3 0h1m-2 0h1m-3 0h1m-3 0h1m-2 0h1m-2 0h1m-2 0h1m-4 0h1m-3 0h1m-6 0h1m-5 0h1m-4 0h1m-2 0h1m-3 0h1m-2 0h1m-9 0h1m-4 0h1m-3 0h1m-3 0h1m-8 0h1m-8 0h1m-3 0h1m-11 0h1m-1 1h1m7 0h1m4 0h1m2 0h1m1 0h1m1 0h1m7 0h1h1m1 0h1m5 0h1m2 0h1h1h1h1m1 0h1m1 0h1m5 0h1m1 0h1m1 0h1m1 0h1m3 0h1h1h1m7 0h1h1h1h1h1h1h1h1h1m1 0h1h1h1h1h1h1h1h1h1h1h1h1h1h1m1 0h1h1h1h1h1h1h1h1h1h1h1m1 0h1h1m3 0h1m4 0h1m-4 1h1m-3 0h1m-5 0h1m-2 0h1m-2 0h1m-4 0h1m-2 0h1m-2 0h1m-2 0h1m-2 0h1m-3 0h1m-2 0h1m-2 0h1m-2 0h1m-2 0h1m-2 0h1m-2 0h1m-2 0h1m-2 0h1m-2 0h1m-2 0h1m-2 0h1m-2 0h1m-2 0h1m-2 0h1m-2 0h1m-2 0h1m-2 0h1m-2 0h1m-2 0h1m-2 0h1m-2 0h1m-2 0h1m-2 0h1m-3 0h1m-2 0h1m-2 0h1m-3 0h1m-2 0h1m-2 0h1m-7 0h1m-4 0h1m-3 0h1m-11 0h1m-5 0h1m-3 0h1m-2 0h1m-2 0h1m-3 0h1m-3 0h1m-13 0h1m-25 0h1m8 1h1m13 0h1m3 0h1m6 0h1m5 0h1m1 0h1h1m3 0h1m1 0h1m7 0h1h1m1 0h1m1 0h1h1h1h1h1m1 0h1m1 0h1m1 0h1h1h1m2 0h1m1 0h1h1h1h1h1h1h1h1h1h1h1h1h1h1h1h1h1h1h1h1h1h1h1h1h1m1 0h1h1h1m1 0h1m1 0h1h1h1m2 0h1m1 0h1h1h1m3 0h1m4 0h1m-1 1h1m-9 0h1m-7 0h1m-6 0h1m-2 0h1m-3 0h1m-3 0h1m-3 0h1m-3 0h1m-2 0h1m-2 0h1m-3 0h1m-2 0h1m-2 0h1m-3 0h1m-2 0h1m-3 0h1m-2 0h1m-2 0h1m-2 0h1m-2 0h1m-2 0h1m-2 0h1m-2 0h1m-2 0h1m-2 0h1m-2 0h1m-2 0h1m-2 0h1m-2 0h1m-2 0h1m-3 0h1m-2 0h1m-3 0h1m-3 0h1m-3 0h1m-2 0h1m-2 0h1m-2 0h1m-7 0h1m-2 0h1m-2 0h1m-2 0h1m-3 0h1m-6 0h1m-3 0h1m-5 0h1m-2 0h1m-6 0h1m-4 0h1m-2 0h1m-9 0h1m-5 0h1m-4 0h1m-4 0h1m-15 0h1m-1 1h1m10 0h1m14 0h1h1m1 0h1h1m3 0h1m6 0h1h1m1 0h1h1m2 0h1m2 0h1h1h1m3 0h1m3 0h1h1h1h1h1m1 0h1h1m6 0h1h1h1h1m1 0h1h1h1h1h1h1h1h1h1h1m1 0h1h1m1 0h1h1h1h1h1h1h1h1m3 0h1m1 0h1h1m8 0h1m6 0h1m-5 1h1m-3 0h1m-9 0h1m-4 0h1m-2 0h1m-2 0h1m-4 0h1m-3 0h1m-2 0h1m-2 0h1m-2 0h1m-2 0h1m-2 0h1m-2 0h1m-2 0h1m-2 0h1m-3 0h1m-2 0h1m-2 0h1m-2 0h1m-2 0h1m-2 0h1m-2 0h1m-2 0h1m-2 0h1m-3 0h1m-2 0h1m-3 0h1m-2 0h1m-2 0h1m-2 0h1m-4 0h1m-2 0h1m-2 0h1m-2 0h1m-2 0h1m-2 0h1m-3 0h1m-2 0h1m-2 0h1m-5 0h1m-4 0h1m-2 0h1m-3 0h1m-7 0h1m-6 0h1m-5 0h1m-4 0h1m-5 0h1m-7 0h1m-8 0h1m-7 0h1m-2 0h1m-3 0h1m-9 1h1m3 0h1h1m3 0h1m9 0h1h1m17 0h1m5 0h1m5 0h1h1m3 0h1h1h1m1 0h1h1m1 0h1m3 0h1h1m2 0h1h1m2 0h1h1m1 0h1m1 0h1h1h1m1 0h1h1h1h1h1h1h1h1h1h1h1m2 0h1h1h1h1h1h1h1m1 0h1h1h1h1m12 0h1m5 1h1m-5 0h1m-7 0h1m-3 0h1m-5 0h1m-2 0h1m-4 0h1m-3 0h1m-2 0h1m-2 0h1m-2 0h1m-2 0h1m-2 0h1m-2 0h1m-2 0h1m-2 0h1m-2 0h1m-3 0h1m-3 0h1m-3 0h1m-2 0h1m-2 0h1m-2 0h1m-2 0h1m-2 0h1m-2 0h1m-2 0h1m-2 0h1m-2 0h1m-2 0h1m-3 0h1m-2 0h1m-2 0h1m-3 0h1m-3 0h1m-3 0h1m-3 0h1m-6 0h1m-5 0h1m-2 0h1m-2 0h1m-4 0h1m-3 0h1m-3 0h1m-2 0h1m-11 0h1m-4 0h1m-9 0h1m-5 0h1m-4 0h1m-7 0h1m-4 0h1m-7 0h1m-2 0h1m-5 1h1m4 0h1m3 0h1m1 0h1m2 0h1m2 0h1m7 0h1m2 0h1m3 0h1h1m3 0h1m3 0h1m6 0h1m1 0h1m1 0h1m2 0h1m8 0h1h1h1m3 0h1h1h1m2 0h1m2 0h1m1 0h1h1m1 0h1m1 0h1h1h1m1 0h1h1h1h1h1h1m2 0h1m2 0h1m1 0h1m1 0h1m4 0h1m7 1h1m-5 0h1m-6 0h1m-8 0h1m-3 0h1m-2 0h1m-2 0h1m-2 0h1m-2 0h1m-3 0h1m-2 0h1m-3 0h1m-2 0h1m-2 0h1m-2 0h1m-2 0h1m-2 0h1m-2 0h1m-2 0h1m-2 0h1m-2 0h1m-2 0h1m-2 0h1m-2 0h1m-2 0h1m-6 0h1m-4 0h1m-3 0h1m-2 0h1m-2 0h1m-2 0h1m-9 0h1m-5 0h1m-5 0h1m-4 0h1m-3 0h1m-9 0h1m-3 0h1m-4 0h1m-3 0h1m-3 0h1m-2 0h1m-3 0h1m-2 0h1m-2 0h1m-10 0h1m-3 0h1m-11 0h1m-1 1h1m1 0h1m14 0h1m5 0h1h1h1m3 0h1m5 0h1m3 0h1m1 0h1m11 0h1m4 0h1h1h1h1m1 0h1m1 0h1h1h1h1h1m2 0h1m4 0h1h1h1h1h1h1m1 0h1m3 0h1h1h1m1 0h1m4 0h1m2 0h1h1m1 0h1m1 0h1m3 0h1m9 0h1m10 0h1m-17 1h1m-3 0h1m-7 0h1m-3 0h1m-2 0h1m-6 0h1m-3 0h1m-2 0h1m-2 0h1m-2 0h1m-2 0h1m-3 0h1m-2 0h1m-3 0h1m-2 0h1m-2 0h1m-2 0h1m-2 0h1m-2 0h1m-2 0h1m-2 0h1m-4 0h1m-4 0h1m-2 0h1m-5 0h1m-2 0h1m-2 0h1m-7 0h1m-2 0h1m-10 0h1m-6 0h1m-2 0h1m-5 0h1m-2 0h1m-15 0h1m-4 0h1m-5 0h1m-2 0h1m-10 0h1m-10 1h1m6 0h1h1m6 0h1m1 0h1m18 0h1m4 0h1m1 0h1m7 0h1m4 0h1h1m1 0h1m7 0h1h1m2 0h1m3 0h1m2 0h1h1h1h1m1 0h1m5 0h1h1h1h1m2 0h1h1m3 0h1h1m4 1h1m-9 0h1m-3 0h1m-2 0h1m-2 0h1m-2 0h1m-3 0h1m-4 0h1m-2 0h1m-3 0h1m-2 0h1m-2 0h1m-2 0h1m-2 0h1m-2 0h1m-2 0h1m-2 0h1m-2 0h1m-3 0h1m-3 0h1m-2 0h1m-2 0h1m-3 0h1m-2 0h1m-2 0h1m-2 0h1m-2 0h1m-2 0h1m-4 0h1m-2 0h1m-3 0h1m-8 0h1m-2 0h1m-8 0h1m-2 0h1m-4 0h1m-9 0h1m-4 0h1m-5 0h1m-2 0h1m-2 0h1m-5 0h1m-7 0h1m-10 0h1m-4 0h1m-1 1h1m4 0h1m4 0h1m1 0h1m8 0h1m2 0h1m1 0h1m5 0h1m10 0h1m1 0h1m5 0h1m6 0h1m9 0h1m1 0h1m2 0h1h1h1m4 0h1m4 0h1m1 0h1h1m2 0h1m2 0h1m1 0h1m2 0h1h1h1m12 1h1m-17 0h1m-7 0h1m-8 0h1m-2 0h1m-6 0h1m-2 0h1m-2 0h1m-9 0h1m-2 0h1m-2 0h1m-2 0h1m-13 0h1m-6 0h1m-6 0h1m-14 0h1m-8 0h1m-4 0h1m-2 0h1m-21 0h1m-1 1h1m20 0h1h1m2 0h1m14 0h1m6 0h1m2 0h1m7 0h1m5 0h1h1h1m2 0h1h1m2 0h1h1m1 0h1m1 0h1m7 0h1m2 0h1m2 0h1m1 0h1h1m3 0h1h1m0 1h1m-11 0h1m-6 0h1m-10 0h1m-4 0h1m-3 0h1m-2 0h1m-7 0h1m-2 0h1m-4 0h1m-3 0h1m-3 0h1m-3 0h1m-3 0h1m-17 0h1m-2 0h1m-5 0h1m-9 0h1m-7 0h1m-19 0h1m-1 1h1m8 0h1m11 0h1m4 0h1h1m9 0h1m5 0h1m1 0h1m5 0h1m2 0h1m7 0h1m5 0h1m1 0h1m1 0h1h1h1m2 0h1m4 0h1m2 0h1m1 0h1m1 0h1h1m6 0h1m2 0h1m10 1h1m-3 0h1m-5 0h1m-18 0h1m-4 0h1m-3 0h1m-2 0h1m-5 0h1m-2 0h1m-2 0h1m-3 0h1m-3 0h1m-6 0h1m-2 0h1m-3 0h1m-8 0h1m-3 0h1m-5 0h1m-3 0h1m-6 0h1m-9 0h1m-6 0h1m-4 0h1m-6 0h1m-18 0h1m-2 0h1m-6 0h1m-1 1h1m1 0h1m18 0h1m9 0h1m5 0h1m23 0h1m15 0h1m1 0h1m3 0h1m1 0h1h1m8 0h1m2 0h1m4 0h1m-16 1h1m-2 0h1m-4 0h1m-8 0h1m-3 0h1m-2 0h1m-3 0h1m-25 0h1m-20 0h1m-3 0h1m-22 0h1m-7 0h1m-1 1h1m14 0h1h1m2 0h1m2 0h1m2 0h1m3 0h1m8 0h1m2 0h1m3 0h1h1m1 0h1m5 0h1h1m45 0h1m-20 1h1m-2 0h1m-4 0h1m-15 0h1m-13 0h1m-6 0h1m-12 0h1m-33 0h1m-5 0h1m15 1h1m11 0h1m5 0h1m4 0h1m2 0h1m7 0h1m3 0h1m4 0h1m9 0h1m11 0h1m10 1h1m-11 0h1m-10 0h1m-10 0h1m-21 0h1m-17 0h1m-17 0h1m-2 0h1m-12 0h1m-1 1h1m29 0h1m3 0h1m12 0h1m19 0h1m17 1h1m-32 0h1m-10 0h1m-12 0h1m-2 0h1m-10 0h1m20 1h1m7 0h1m11 0h1m1 0h1m22 0h1m-47 1h1m-6 0h1m-18 0h1m-10 1h1m33 0h1m5 0h1m21 0h1m24 1h1m-28 0h1m-20 0h1m-4 0h1m-35 0h1m-4 0h1m-14 0h1m2 1h1m59 0h1m15 0h1m-3 1h1m-5 0h1m-20 0h1m-27 0h1m2 1h1m42 0h1m41 0h1m-50 1h1m-23 0h1m-10 0h1m-38 0h1m13 2h1m31 1h1m-12 2h1m-26 2h1" stroke="#2a56a3" stroke-width="1" fill="none"/>
<path transform="scale(2)" d="M905 480h1m-9 1h1m-7 1h1m15 4h1m-25 1h1m11 3h1m-16 1h1m7 0h1m9 0h1m-15 2h1m-7 1h1m8 1h1m-13 0h1m-6 1h1m30 2h1m-24 0h1m-11 1h1m5 0h1m3 0h1h1m1 2h1m-3 0h1m7 2h1m6 1h1m-20 1h1m9 1h1m-7 0h1m-3 0h1m12 1h1m-9 1h1m-23 0h1m-4 0h1m12 1h1m8 0h1m9 1h1m-18 0h1m-11 0h1m1 1h1m26 0h1m-4 1h1m-17 0h1m-15 0h1m-3 1h1m10 0h1m5 0h1m3 1h1m-20 1h1h1m4 0h1m17 0h1m-8 3h1m-10 1h1h1m17 0h1m-40 1h1m4 1h1m14 2h1m-27 2h1m26 0h1m-2 1h1m-27 0h1m8 1h1m1 6h1m-7 1h1m-25 6h1m26 1h1m-25 7h1m10 5h1m-25 2h1" stroke="#df2a2e" stroke-width="1" fill="none"/>
<path transform="scale(2)" d="M458 787h1m18 12h1m-14 1h1m-11 1h1m-7 0h1m-18 0h1m12 3h1m11 0h1m2 0h1m9 1h1m-33 1h1m15 1h1m-14 0h1m2 1h1m9 1h1m-5 0h1m-11 0h1m2 1h1m3 0h1m-1 1h1m-3 0h1m-24 0h1m23 1h1m3 1h1m-2 0h1m-12 1h1m9 0h1m8 1h1m-6 0h1m-21 0h1m-4 0h1m-10 1h1m30 0h1m-9 1h1m-5 0h1m-3 0h1m-2 0h1m-5 0h1m-9 1h1m10 0h1m15 1h1m-9 0h1m-4 0h1m-3 0h1m-8 0h1m-5 0h1m4 1h1m3 0h1h1m8 0h1m4 0h1m-10 1h1m-3 0h1m-3 0h1m-20 0h1m-5 0h1m-7 1h1m29 0h1m1 0h1m1 1h1m-10 0h1m-2 0h1m-5 0h1m-10 1h1m7 0h1m11 0h1m6 0h1m13 0h1m-13 1h1m-25 0h1m-30 0h1m-64 1h1m91 0h1m12 0h1m-11 1h1m-4 0h1m-3 0h1m-5 1h1m4 0h1m5 0h1m5 0h1m2 0h1m-6 1h1m-4 0h1m-13 0h1m-6 1h1m4 0h1m21 0h1m5 1h1m-2 0h1m-7 0h1m-35 0h1m-14 0h1m-12 1h1m34 0h1m2 0h1m16 1h1m-26 0h1m-7 0h1m-59 1h1m58 0h1m1 0h1m5 0h1h1m6 0h1m18 0h1m-2 1h1m-27 0h1m-42 1h1m7 0h1m16 0h1m1 0h1m5 0h1m1 0h1m4 0h1m1 0h1m2 0h1h1h1m11 0h1h1m7 0h1m-2 1h1m-2 0h1m-9 0h1m-2 0h1m-4 0h1m-8 0h1m-11 0h1m-21 0h1m-11 0h1m11 1h1m5 0h1m4 0h1m10 0h1m1 0h1m2 0h1h1m8 0h1m9 0h1m11 1h1m-14 0h1m-16 0h1m-6 0h1m-4 0h1m-3 0h1m-3 0h1m-23 0h1m-43 0h1m49 1h1m8 0h1h1m5 0h1m2 0h1h1h1m1 0h1m5 0h1m9 0h1m2 0h1m19 1h1m-29 0h1m-3 0h1m-12 0h1m-11 0h1m-3 0h1m-3 0h1m-2 0h1m-4 0h1m-8 0h1m-2 0h1m-23 1h1m27 0h1h1h1m3 0h1m1 0h1m1 0h1h1m2 0h1h1m3 0h1m5 0h1h1m6 0h1m3 0h1m2 0h1m-12 1h1m-8 0h1m-2 0h1m-2 0h1m-2 0h1m-4 0h1m-4 0h1m-3 0h1m-12 0h1m-2 0h1m-3 0h1m-2 0h1m-13 0h1m-10 0h1m-31 0h1m38 1h1m5 0h1m1 0h1m4 0h1h1h1h1m1 0h1m1 0h1h1m3 0h1m1 0h1m2 0h1m1 0h1h1m3 0h1h1m4 0h1h1m1 0h1m3 0h1m2 0h1m-17 1h1m-13 0h1m-6 0h1m-2 0h1m-8 0h1m-10 0h1m-13 1h1m4 0h1m5 0h1m1 0h1m1 0h1m1 0h1h1m8 0h1m2 0h1m1 0h1m2 0h1h1m4 0h1m2 0h1h1h1h1m4 0h1m1 0h1m2 0h1m1 1h1m-10 0h1m-6 0h1m-8 0h1m-4 0h1m-2 0h1m-3 0h1m-2 0h1m-4 0h1m-2 0h1m-3 0h1m-4 0h1m-2 0h1m-2 0h1m-3 0h1m-3 0h1m-2 0h1m-4 0h1m-5 0h1m-36 0h1m20 1h1m9 0h1m1 0h1m7 0h1m2 0h1m1 0h1m4 0h1m1 0h1m3 0h1m2 0h1m8 0h1m16 0h1m-14 1h1m-5 0h1m-2 0h1m-5 0h1m-2 0h1m-7 0h1m-5 0h1m-5 0h1m-2 0h1m-2 0h1m-2 0h1m-5 0h1m-3 0h1m-5 0h1m-4 0h1m-10 0h1m-104 0h1m103 1h1m7 0h1h1m3 0h1m1 0h1m3 0h1h1m2 0h1m1 0h1m4 0h1h1h1m2 0h1h1m3 0h1h1m6 0h1m3 0h1m3 0h1m1 0h1m9 1h1m-14 0h1m-5 0h1m-8 0h1m-5 0h1m-2 0h1m-2 0h1m-3 0h1m-7 0h1m-4 0h1m-3 0h1m-2 0h1m-5 0h1m-4 0h1m-2 0h1m-3 0h1m-5 0h1m-2 0h1m-2 0h1m-3 0h1m-53 1h1m47 0h1m3 0h1m3 0h1m1 0h1m5 0h1m1 0h1h1h1m1 0h1h1h1h1h1h1m2 0h1h1m1 0h1m2 0h1h1m4 0h1h1m3 0h1m2 0h1m1 0h1m8 1h1m-4 0h1m-12 0h1m-9 0h1m-2 0h1m-2 0h1m-2 0h1m-4 0h1m-6 0h1m-2 0h1m-4 0h1m-2 0h1m-3 0h1m-7 0h1m-2 0h1m-2 0h1m-3 0h1m-8 0h1m-9 0h1m-23 0h1m14 1h1m2 0h1m3 0h1m1 0h1m7 0h1h1m1 0h1h1h1h1m1 0h1m2 0h1h1m2 0h1h1m1 0h1m1 0h1m1 0h1m2 0h1m1 0h1h1m13 0h1m4 0h1m3 0h1m-2 1h1m-4 0h1m-8 0h1m-8 0h1m-2 0h1m-8 0h1m-3 0h1m-2 0h1m-2 0h1m-2 0h1m-2 0h1m-4 0h1m-2 0h1m-4 0h1m-2 0h1m-2 0h1m-3 0h1m-2 0h1m-3 0h1m-3 0h1m-4 0h1m-22 0h1m19 1h1h1h1m3 0h1h1h1m1 0h1m1 0h1m3 0h1m3 0h1m1 0h1h1h1h1h1m2 0h1h1m1 0h1m5 0h1m3 0h1m1 0h1m2 0h1h1m2 0h1m-10 1h1m-2 0h1m-2 0h1m-3 0h1m-5 0h1m-2 0h1m-2 0h1m-2 0h1m-3 0h1m-2 0h1m-5 0h1m-3 0h1m-4 0h1m-3 0h1m-3 0h1m-2 0h1m-4 0h1m-2 0h1m-2 0h1m-2 0h1m-2 0h1m-4 0h1m-2 0h1m-2 0h1m-9 0h1m-2 0h1m-17 0h1m-25 0h1m-14 1h1m26 0h1m9 0h1m15 0h1m1 0h1m3 0h1h1m1 0h1h1h1m2 0h1h1m5 0h1m4 0h1m1 0h1m5 0h1m8 0h1m8 1h1m-4 0h1m-3 0h1m-3 0h1m-2 0h1m-2 0h1m-3 0h1m-2 0h1m-4 0h1m-2 0h1m-2 0h1m-2 0h1m-3 0h1m-2 0h1m-2 0h1m-2 0h1m-3 0h1m-2 0h1m-2 0h1m-2 0h1m-2 0h1m-2 0h1m-3 0h1m-2 0h1m-2 0h1m-3 0h1m-2 0h1m-2 0h1m-4 0h1m-2 0h1m-6 0h1m-3 0h1m-2 0h1m-5 0h1m-6 0h1m-19 0h1m-18 0h1m-9 0h1m-12 0h1m-88 0h1m-1 1h1m96 0h1m7 0h1m17 0h1m15 0h1m1 0h1m5 0h1m4 0h1m2 0h1h1h1h1m1 0h1m1 0h1m2 0h1h1h1m1 0h1m3 0h1h1h1h1h1m1 0h1m3 0h1h1h1h1m5 0h1m7 0h1h1h1m-9 1h1m-2 0h1m-3 0h1m-6 0h1m-2 0h1m-2 0h1m-3 0h1m-4 0h1m-3 0h1m-3 0h1m-2 0h1m-2 0h1m-2 0h1m-2 0h1m-2 0h1m-2 0h1m-2 0h1m-2 0h1m-2 0h1m-2 0h1m-2 0h1m-3 0h1m-2 0h1m-4 0h1m-2 0h1m-2 0h1m-2 0h1m-7 0h1m-6 0h1m-10 0h1m-3 0h1m-134 1h1m123 0h1h1m1 0h1h1m7 0h1m1 0h1m3 0h1m1 0h1m2 0h1h1m2 0h1m4 0h1h1h1h1h1m1 0h1h1h1h1h1h1h1h1m1 0h1h1h1m1 0h1h1m1 0h1m1 0h1m1 0h1m5 0h1m3 0h1m3 0h1m4 0h1m11 2h1m-15 0h1m-14 0h1m-2 0h1m-2 0h1m-2 0h1m-4 0h1m-4 0h1m-2 0h1m-2 0h1m-2 0h1m-3 0h1m-2 0h1m-2 0h1m-2 0h1m-7 0h1m-2 0h1m-3 0h1m-4 0h1m-3 0h1m-2 0h1m-4 0h1m-4 0h1m-5 0h1m-2 0h1m-2 0h1m-13 0h1m-17 0h1m-21 0h1m-95 1h1m52 0h1m64 0h1m10 0h1h1m5 0h1m5 0h1h1m2 0h1m3 0h1m2 0h1m1 0h1m1 0h1m1 0h1h1h1m1 0h1m1 0h1h1m1 0h1h1h1h1h1m2 0h1h1m2 0h1h1h1m1 0h1m2 0h1h1m1 1h1m-7 0h1m-4 0h1m-2 0h1m-2 0h1m-4 0h1m-2 0h1m-3 0h1m-2 0h1m-3 0h1m-6 0h1m-2 0h1m-2 0h1m-2 0h1m-2 0h1m-2 0h1m-2 0h1m-2 0h1m-4 0h1m-2 0h1m-2 0h1m-2 0h1m-3 0h1m-2 0h1m-3 0h1m-2 0h1m-2 0h1m-3 0h1m-3 0h1m-2 0h1m-4 0h1m-7 0h1m-5 0h1m-2 0h1m-3 0h1m-2 0h1m-2 0h1m-3 0h1m-7 0h1m-8 0h1m-3 0h1m-3 0h1m-4 0h1m-4 0h1m-55 0h1m-43 2h1m21 0h1m53 0h1m15 0h1m8 0h1m1 0h1m4 0h1h1m3 0h1h1m13 0h1m1 0h1m1 0h1m1 0h1h1h1h1m1 0h1m1 0h1h1m2 0h1h1h1h1m2 0h1h1h1h1h1m1 0h1h1m1 0h1m1 0h1h1h1h1h1h1m2 0h1h1h1h1h1h1m2 0h1m2 0h1h1m8 0h1m1 0h1m2 1h1m-4 0h1m-4 0h1m-4 0h1m-4 0h1m-3 0h1m-2 0h1m-4 0h1m-3 0h1m-5 0h1m-4 0h1m-2 0h1m-2 0h1m-2 0h1m-2 0h1m-2 0h1m-2 0h1m-2 0h1m-2 0h1m-3 0h1m-2 0h1m-2 0h1m-2 0h1m-4 0h1m-2 0h1m-2 0h1m-3 0h1m-2 0h1m-2 0h1m-3 0h1m-4 0h1m-2 0h1m-4 0h1m-6 0h1m-5 0h1m-2 0h1m-3 0h1m-3 0h1m-2 0h1m-4 0h1m-3 0h1m-2 0h1m-2 0h1m-2 0h1m-7 0h1m-2 0h1m-2 0h1m-3 0h1m-2 0h1m-2 0h1m-6 0h1m-9 0h1m-4 0h1m-88 0h1m117 1h1m80 1h1m-13 0h1m-6 0h1m-2 0h1m-2 0h1m-2 0h1m-3 0h1m-2 0h1m-2 0h1m-3 0h1m-2 0h1m-2 0h1m-2 0h1m-3 0h1m-3 0h1m-2 0h1m-3 0h1m-2 0h1m-3 0h1m-2 0h1m-3 0h1m-2 0h1m-2 0h1m-2 0h1m-3 0h1m-2 0h1m-2 0h1m-2 0h1m-2 0h1m-3 0h1m-2 0h1m-2 0h1m-3 0h1m-4 0h1m-2 0h1m-2 0h1m-2 0h1m-2 0h1m-2 0h1m-2 0h1m-4 0h1m-2 0h1m-2 0h1m-3 0h1m-3 0h1m-2 0h1m-5 0h1m-2 0h1m-3 0h1m-2 0h1m-2 0h1m-5 0h1m-2 0h1m-2 0h1m-3 0h1m-3 0h1m-2 0h1m-4 0h1m-3 0h1m-2 0h1m-2 0h1m-2 0h1m-4 0h1m-17 0h1m-44 0h1m-28 0h1m145 1h1m43 1h1m-10 0h1m-2 0h1m-5 0h1m-2 0h1m-2 0h1m-2 0h1m-2 0h1m-3 0h1m-2 0h1m-2 0h1m-2 0h1m-2 0h1m-2 0h1m-3 0h1m-2 0h1m-2 0h1m-2 0h1m-2 0h1m-2 0h1m-2 0h1m-2 0h1m-2 0h1m-2 0h1m-2 0h1m-2 0h1m-2 0h1m-2 0h1m-2 0h1m-2 0h1m-2 0h1m-2 0h1m-3 0h1m-2 0h1m-2 0h1m-2 0h1m-2 0h1m-3 0h1m-2 0h1m-2 0h1m-3 0h1m-2 0h1m-2 0h1m-2 0h1m-2 0h1m-2 0h1m-2 0h1m-2 0h1m-2 0h1m-2 0h1m-2 0h1m-3 0h1m-3 0h1m-2 0h1m-2 0h1m-2 0h1m-2 0h1m-2 0h1m-2 0h1m-2 0h1m-3 0h1m-2 0h1m-2 0h1m-2 0h1m-2 0h1m-2 0h1m-2 0h1m-2 0h1m-3 0h1m-3 0h1m-4 0h1m-2 0h1m-2 0h1m-4 0h1m-2 0h1m-3 0h1m-2 0h1m-4 0h1m-5 0h1m-5 0h1m-8 0h1m-6 0h1m-13 0h1m-12 0h1m-2 0h1m-9 0h1m-22 0h1m-3 0h1m-8 0h1m-7 0h1m-4 0h1m-1 2h1m4 0h1m69 0h1m2 0h1m3 0h1h1h1m4 0h1m2 0h1m1 0h1h1m1 0h1h1h1h1h1m1 0h1h1m1 0h1h1h1h1h1h1m1 0h1h1m1 0h1h1h1h1h1h1h1h1h1m1 0h1h1h1h1h1h1h1h1h1h1h1h1h1h1h1h1h1h1h1h1h1h1h1h1h1h1h1h1h1h1h1h1h1h1m1 0h1h1h1h1h1m1 0h1h1h1h1h1h1m1 0h1h1h1m1 0h1h1m3 0h1m16 3h1m-9 0h1m-7 0h1m-5 0h1m-3 0h1m-4 0h1m-2 0h1m-2 0h1m-2 0h1m-3 0h1m-2 0h1m-2 0h1m-2 0h1m-2 0h1m-2 0h1m-2 0h1m-2 0h1m-2 0h1m-2 0h1m-2 0h1m-2 0h1m-2 0h1m-4 0h1m-2 0h1m-2 0h1m-2 0h1m-2 0h1m-2 0h1m-2 0h1m-2 0h1m-2 0h1m-2 0h1m-2 0h1m-2 0h1m-2 0h1m-2 0h1m-2 0h1m-2 0h1m-2 0h1m-2 0h1m-2 0h1m-2 0h1m-2 0h1m-2 0h1m-2 0h1m-2 0h1m-2 0h1m-2 0h1m-2 0h1m-2 0h1m-2 0h1m-2 0h1m-2 0h1m-2 0h1m-2 0h1m-3 0h1m-2 0h1m-2 0h1m-2 0h1m-2 0h1m-2 0h1m-2 0h1m-2 0h1m-2 0h1m-2 0h1m-2 0h1m-2 0h1m-2 0h1m-2 0h1m-2 0h1m-2 0h1m-2 0h1m-2 0h1m-2 0h1m-2 0h1m-2 0h1m-2 0h1m-2 0h1m-2 0h1m-2 0h1m-2 0h1m-2 0h1m-2 0h1m-2 0h1m-3 0h1m-2 0h1m-3 0h1m-2 0h1m-2 0h1m-3 0h1m-2 0h1m-2 0h1m-4 0h1m-2 0h1m-2 0h1m-2 0h1m-6 0h1m-2 0h1m-6 0h1m-23 0h1m-46 0h1m110 3h1m94 0h1m-2 1h1m-18 0h1m-3 0h1m-8 0h1m-3 0h1m-2 0h1m-2 0h1m-2 0h1m-2 0h1m-2 0h1m-3 0h1m-2 0h1m-2 0h1m-2 0h1m-2 0h1m-2 0h1m-2 0h1m-2 0h1m-2 0h1m-2 0h1m-2 0h1m-2 0h1m-2 0h1m-2 0h1m-2 0h1m-2 0h1m-2 0h1m-2 0h1m-2 0h1m-2 0h1m-2 0h1m-2 0h1m-2 0h1m-2 0h1m-2 0h1m-2 0h1m-2 0h1m-2 0h1m-2 0h1m-2 0h1m-2 0h1m-2 0h1m-2 0h1m-2 0h1m-2 0h1m-2 0h1m-2 0h1m-2 0h1m-2 0h1m-2 0h1m-2 0h1m-2 0h1m-2 0h1m-2 0h1m-2 0h1m-2 0h1m-2 0h1m-2 0h1m-2 0h1m-2 0h1m-2 0h1m-2 0h1m-2 0h1m-2 0h1m-2 0h1m-2 0h1m-2 0h1m-2 0h1m-2 0h1m-2 0h1m-2 0h1m-2 0h1m-2 0h1m-2 0h1m-2 0h1m-2 0h1m-2 0h1m-3 0h1m-2 0h1m-2 0h1m-2 0h1m-2 0h1m-2 0h1m-2 0h1m-3 0h1m-2 0h1m-2 0h1m-2 0h1m-2 0h1m-2 0h1m-2 0h1m-4 0h1m-3 0h1m-2 0h1m-2 0h1m-2 0h1m-2 0h1m-7 0h1m-9 0h1m-2 0h1m-15 0h1m-3 0h1m-3 0h1m-3 0h1m-45 0h1m-1 4h1m1 0h1m24 0h1m5 0h1h1h1m3 0h1m14 0h1m5 0h1m6 0h1m2 0h1h1h1h1h1h1h1m1 0h1h1h1h1h1h1h1h1h1h1h1h1h1h1h1h1h1h1h1h1h1h1h1h1h1h1h1h1h1h1h1h1h1h1h1h1h1h1h1h1h1h1h1h1h1h1h1h1h1h1h1h1h1h1h1h1h1h1h1h1h1h1h1h1h1h1h1h1h1h1h1h1h1h1h1h1h1h1h1h1h1h1h1h1h1h1h1h1h1h1m1 0h1h1h1h1h1h1h1h1m2 0h1h1h1h1h1m6 0h1m27 6h1m-36 0h1m-5 0h1m-3 0h1m-2 0h1m-2 0h1m-2 0h1m-2 0h1m-2 0h1m-2 0h1m-2 0h1m-2 0h1m-2 0h1m-2 0h1m-2 0h1m-2 0h1m-2 0h1m-2 0h1m-2 0h1m-2 0h1m-2 0h1m-2 0h1m-2 0h1m-2 0h1m-2 0h1m-2 0h1m-2 0h1m-2 0h1m-2 0h1m-2 0h1m-2 0h1m-2 0h1m-2 0h1m-2 0h1m-2 0h1m-2 0h1m-2 0h1m-2 0h1m-2 0h1m-2 0h1m-2 0h1m-2 0h1m-2 0h1m-2 0h1m-2 0h1m-2 0h1m-2 0h1m-2 0h1m-2 0h1m-2 0h1m-2 0h1m-2 0h1m-2 0h1m-2 0h1m-2 0h1m-2 0h1m-2 0h1m-2 0h1m-2 0h1m-2 0h1m-2 0h1m-2 0h1m-2 0h1m-2 0h1m-2 0h1m-2 0h1m-2 0h1m-2 0h1m-2 0h1m-2 0h1m-2 0h1m-2 0h1m-2 0h1m-2 0h1m-2 0h1m-2 0h1m-2 0h1m-2 0h1m-2 0h1m-2 0h1m-2 0h1m-2 0h1m-2 0h1m-2 0h1m-2 0h1m-2 0h1m-2 0h1m-2 0h1m-2 0h1m-2 0h1m-2 0h1m-2 0h1m-2 0h1m-2 0h1m-2 0h1m-2 0h1m-2 0h1m-2 0h1m-2 0h1m-2 0h1m-2 0h1m-2 0h1m-3 0h1m-2 0h1m-2 0h1m-2 0h1m-2 0h1m-2 0h1m-2 0h1m-2 0h1m-2 0h1m-2 0h1m-2 0h1m-2 0h1m-2 0h1m-4 0h1m-3 0h1m-2 0h1m-2 0h1m-2 0h1m-2 0h1m-2 0h1m-3 0h1m-2 0h1m-3 0h1m-5 0h1m-2 0h1m-2 0h1m-5 0h1m-3 0h1m-5 0h1m-3 0h1m-2 0h1m-2 0h1m-3 0h1m-3 0h1m-3 0h1m-5 0h1m-17 0h1m-5 0h1m-1 11h1m15 0h1m4 0h1h1h1h1h1h1h1h1h1h1h1h1h1h1h1h1h1h1h1h1h1h1h1h1h1h1h1h1h1h1h1h1h1h1h1h1h1h1m1 0h1h1h1h1h1h1h1h1h1h1h1h1h1h1h1h1h1h1h1h1h1h1h1h1h1h1h1h1h1h1h1h1h1h1h1h1h1h1h1h1h1h1h1h1h1h1h1h1h1h1h1h1h1h1h1h1h1h1h1h1h1h1h1h1h1h1h1h1h1h1h1h1h1h1h1h1h1h1h1h1h1h1h1h1h1h1h1h1h1h1h1h1h1h1h1h1h1h1h1h1h1h1h1h1h1h1h1h1h1h1h1h1h1h1h1h1h1h1h1m1 0h1h1m1 0h1h1m1 0h1m1 0h1h1m8 0h1m5 0h1m7 0h1m1 0h1m8 0h1m3 0h1" stroke="#2a56a3" stroke-width="1" fill="none"/>
<path transform="scale(2)" d="M224 1016h1h1h1h1h1h1h1h1h1h1h1h1h1h1h1h1h1h1h1h1h1h1h1h1h1h1h1h1h1h1h1h1h1h1h1h1h1h1h1h1h1h1h1h1h1h1h1h1h1h1h1h1h1h1h1h1h1h1h1h1h1h1h1h1h1h1h1h1h1h1h1h1h1h1h1h1h1h1h1h1h1h1h1h1h1h1h1h1h1h1h1h1h1h1h1h1h1h1h1h1h1h1h1h1h1h1h1h1h1h1h1h1h1h1h1h1h1h1h1h1h1h1h1h1h1h1h1h1h1h1h1h1h1h1h1h1h1h1h1h1h1h1h1h1h1h1h1h1h1h1h1h1h1h1h1h1h1h1h1h1m1 0h1h1h1m1 0h1h1h1h1h1h1h1m4 0h1h1h1m2 0h1h1m1 0h1h1m2 0h1h1m1 0h1m6 0h1h1m7 0h1m2 0h1h1" stroke="#df2a2e" stroke-width="1" fill="none"/>
<path transform="scale(2)" d="M852 895h1m-12 4h1m-98 3h1m49 2h1m25 2h1m-58 1h1m-15 1h1m125 1h1m-97 1h1m85 0h1m-123 1h1m31 4h1m-4 1h1m-29 2h1m16 0h1m88 1h1m-10 0h1m-12 0h1m-38 0h1m-45 1h1m36 0h1m75 1h1m-129 0h1m-1 1h1m143 0h1m-32 1h1m-45 0h1m-70 0h1m-1 1h1m34 0h1m34 0h1m12 0h1m36 0h1m6 1h1m-26 0h1m-4 0h1m-73 0h1m-12 0h1m-17 0h1m-1 1h1m22 0h1m17 0h1m45 1h1m-36 0h1m-53 0h1m-1 1h1m8 0h1m45 0h1h1m64 0h1m2 1h1m-33 0h1m-16 0h1m-22 0h1m-46 0h1m-12 0h1m-1 1h1m55 0h1m21 0h1m38 0h1m14 0h1m-13 1h1m-121 0h1m-1 1h1m42 0h1m3 0h1m3 0h1m31 0h1m10 0h1m30 1h1m-19 0h1m-27 0h1m-11 0h1m-45 0h1m-28 0h1m-1 1h1m65 0h1m3 0h1m23 0h1m27 1h1m-14 0h1m-4 0h1m-41 0h1m-4 0h1m-22 0h1m-43 0h1m-1 1h1m3 0h1m68 0h1m9 0h1m9 0h1h1m9 0h1m16 0h1m9 0h1m4 0h1m1 0h1m-35 1h1m-8 0h1m-14 0h1m-5 0h1m-6 0h1m-70 0h1m-7 0h1m-1 1h1m23 0h1m23 0h1m5 0h1m4 0h1m21 0h1m52 1h1m-22 0h1m-34 0h1m-2 0h1m-75 0h1m-6 0h1m-1 1h1m35 0h1m12 0h1m82 0h1m6 0h1m-13 1h1m-44 0h1m-42 0h1m-18 0h1m-20 0h1m-8 0h1m-1 1h1m6 0h1m14 0h1m18 0h1m13 0h1m9 0h1h1m26 0h1h1m6 0h1m6 0h1m19 0h1m6 0h1m1 0h1m5 0h1m-11 1h1m-48 0h1m-23 0h1m-7 0h1m-13 0h1m-7 0h1m-15 0h1m-19 0h1m-9 0h1m-1 1h1m16 0h1m5 0h1m6 0h1m2 0h1m16 0h1m4 0h1m13 0h1m37 0h1h1m1 1h1m-4 0h1m-60 0h1m-16 0h1m-2 0h1m-5 0h1m-10 0h1m-9 0h1m-12 0h1m-1 1h1m5 0h1m1 0h1m21 0h1m12 0h1h1m6 0h1m7 0h1m23 0h1m24 0h1m19 0h1m6 0h1m-1 1h1m-11 0h1m-4 0h1m-2 0h1m-12 0h1m-7 0h1m-9 0h1m-2 0h1m-5 0h1m-5 0h1m-6 0h1m-4 0h1m-14 0h1m-5 0h1m-11 0h1m-6 0h1m-12 0h1m-8 0h1m-30 0h1m-1 1h1m13 0h1m6 0h1h1m5 0h1m1 0h1m8 0h1m5 0h1h1m22 0h1m13 0h1m1 0h1m33 0h1m2 0h1m11 0h1m2 1h1m-25 0h1m-7 0h1m-10 0h1m-2 0h1m-8 0h1m-10 0h1m-4 0h1m-6 0h1m-26 0h1m-3 0h1m-4 0h1m-44 0h1m-1 1h1m24 0h1m21 0h1h1m14 0h1m11 0h1m2 0h1m1 0h1m14 0h1m10 0h1m6 0h1m7 0h1h1m20 1h1m-9 0h1m-18 0h1m-3 0h1m-4 0h1m-16 0h1m-22 0h1m-3 0h1m-4 0h1m-2 0h1m-10 0h1m-19 0h1m-14 0h1m-3 0h1m-23 0h1m-2 0h1m-7 0h1m-1 1h1m7 0h1m5 0h1h1m3 0h1h1m4 0h1m1 0h1m1 0h1m24 0h1m2 0h1m20 0h1h1m4 0h1m7 0h1m31 0h1m1 0h1m3 0h1m5 1h1m-9 0h1m-7 0h1m-5 0h1m-3 0h1m-4 0h1m-6 0h1m-5 0h1m-10 0h1m-7 0h1m-13 0h1m-3 0h1m-20 0h1m-11 0h1m-30 0h1m-10 0h1m-5 0h1m-5 0h1m-1 1h1m11 0h1m12 0h1m10 0h1h1m1 0h1m2 0h1m1 0h1m7 0h1m3 0h1m7 0h1m2 0h1m14 0h1m8 0h1m5 0h1h1m3 0h1m8 0h1m6 0h1m10 0h1m2 0h1m6 1h1m-12 0h1m-3 0h1m-6 0h1m-6 0h1m-2 0h1m-6 0h1m-15 0h1m-2 0h1m-37 0h1m-10 0h1m-5 0h1m-4 0h1m-10 0h1m-7 0h1m-3 0h1m-2 0h1m-14 0h1m-13 0h1m-1 1h1m7 0h1m13 0h1m5 0h1m11 0h1m3 0h1m2 0h1m2 0h1h1m8 0h1m4 0h1m1 0h1m3 0h1m7 0h1m4 0h1h1m12 0h1m1 0h1h1m1 0h1m12 0h1m4 0h1h1m2 0h1h1m5 0h1m3 0h1m8 1h1m-7 0h1m-5 0h1m-7 0h1m-5 0h1m-4 0h1m-4 0h1m-12 0h1m-12 0h1m-4 0h1m-21 0h1m-2 0h1m-5 0h1m-4 0h1m-2 0h1m-4 0h1m-5 0h1m-6 0h1m-14 0h1m-3 0h1m-14 0h1m-8 0h1m-11 0h1m-9 0h1m-1 1h1m13 0h1m1 0h1m1 0h1m23 0h1m10 0h1m9 0h1m7 0h1m3 0h1m3 0h1m9 0h1m3 0h1m6 0h1m4 0h1m3 0h1m6 0h1m1 0h1h1m13 0h1m4 0h1m3 1h1m-6 0h1m-8 0h1m-6 0h1m-14 0h1m-4 0h1m-4 0h1m-4 0h1m-9 0h1m-11 0h1m-8 0h1m-15 0h1m-2 0h1m-8 0h1m-5 0h1m-6 0h1m-4 0h1m-7 0h1m-4 0h1m-3 0h1m-3 0h1m-6 0h1m-27 0h1m-1 1h1m8 0h1m19 0h1m7 0h1m17 0h1m3 0h1m1 0h1h1h1m6 0h1h1m2 0h1h1m3 0h1m3 0h1h1m1 0h1m7 0h1h1m3 0h1m5 0h1m1 0h1m11 0h1m2 0h1m6 0h1m1 0h1m3 0h1m5 0h1h1m-23 1h1m-4 0h1m-2 0h1m-6 0h1m-4 0h1m-9 0h1m-2 0h1m-2 0h1m-4 0h1m-2 0h1m-8 0h1m-2 0h1m-6 0h1m-13 0h1m-20 0h1m-5 0h1m-4 0h1m-2 0h1m-11 0h1m-10 0h1m-6 0h1m-4 0h1m-4 0h1m-6 0h1m-4 0h1m-5 0h1m-1 1h1m2 0h1m6 0h1m4 0h1m1 0h1h1m17 0h1m16 0h1m2 0h1m1 0h1m5 0h1m9 0h1m5 0h1m7 0h1m6 0h1m2 0h1m16 0h1h1h1h1m8 0h1h1m7 0h1m3 0h1m-3 1h1m-9 0h1m-7 0h1m-2 0h1m-7 0h1m-3 0h1m-8 0h1m-4 0h1m-5 0h1m-2 0h1m-12 0h1m-3 0h1m-12 0h1m-11 0h1m-7 0h1m-7 0h1m-3 0h1m-4 0h1m-7 0h1m-3 0h1m-3 0h1m-5 0h1m-4 0h1m-4 0h1m-2 0h1m-19 0h1m-7 0h1m-5 0h1m-1 1h1m4 0h1m2 0h1m17 0h1m6 0h1m12 0h1m1 0h1m5 0h1m5 0h1m7 0h1m5 0h1m4 0h1m4 0h1m1 0h1h1m2 0h1m14 0h1m3 0h1m2 0h1m4 0h1h1m3 0h1m20 0h1m-3 1h1m-2 0h1m-4 0h1m-2 0h1m-6 0h1m-11 0h1m-3 0h1m-8 0h1m-3 0h1m-2 0h1m-6 0h1m-5 0h1m-3 0h1m-23 0h1m-13 0h1m-19 0h1m-8 0h1m-3 0h1m-8 0h1m-3 0h1m-3 0h1m-4 0h1m-6 0h1m-2 0h1m-6 0h1m-4 0h1m-10 0h1m-1 1h1m7 0h1m1 0h1h1m13 0h1m4 0h1h1m4 0h1h1m5 0h1m2 0h1h1h1m24 0h1m11 0h1m2 0h1m7 0h1m2 0h1h1m5 0h1m4 0h1m2 0h1m2 0h1m3 0h1h1m10 0h1m4 0h1m1 0h1m0 1h1m-2 0h1m-13 0h1m-2 0h1m-2 0h1m-5 0h1m-2 0h1m-2 0h1m-3 0h1m-3 0h1m-6 0h1m-2 0h1m-16 0h1m-7 0h1m-18 0h1m-12 0h1m-2 0h1m-7 0h1m-4 0h1m-4 0h1m-2 0h1m-4 0h1m-7 0h1m-6 0h1m-5 0h1m-2 0h1m-23 0h1m-7 0h1m-1 1h1m4 0h1m6 0h1m5 0h1m2 0h1m7 0h1m4 0h1m12 0h1h1m5 0h1m4 0h1m1 0h1m3 0h1m3 0h1m1 0h1m6 0h1m4 0h1m7 0h1m3 0h1m1 0h1m3 0h1h1m3 0h1m2 0h1m3 0h1m3 0h1m2 0h1m5 0h1m3 0h1m7 0h1m6 1h1m-8 0h1m-3 0h1m-4 0h1m-3 0h1m-3 0h1m-2 0h1m-4 0h1m-2 0h1m-2 0h1m-3 0h1m-10 0h1m-14 0h1m-5 0h1m-9 0h1m-2 0h1m-5 0h1m-12 0h1m-2 0h1m-4 0h1m-20 0h1m-8 0h1m-5 0h1m-20 0h1m-6 0h1m-4 0h1m-7 0h1m-5 0h1m-1 1h1m1 0h1m11 0h1m2 0h1m2 0h1m3 0h1h1m6 0h1m1 0h1m8 0h1m7 0h1m2 0h1m3 0h1h1m3 0h1h1m2 0h1h1h1m7 0h1m1 0h1h1m7 0h1h1h1h1h1m5 0h1h1m4 0h1m5 0h1m1 0h1m1 0h1h1h1m1 0h1h1m5 0h1h1h1h1m8 0h1m7 0h1m2 1h1m-5 0h1m-14 0h1m-3 0h1m-4 0h1m-4 0h1m-6 0h1m-5 0h1m-3 0h1m-4 0h1m-2 0h1m-2 0h1m-5 0h1m-7 0h1m-8 0h1m-2 0h1m-2 0h1m-3 0h1m-3 0h1m-2 0h1m-9 0h1m-4 0h1m-9 0h1m-4 0h1m-11 0h1m-5 0h1m-2 0h1m-2 0h1m-2 0h1m-8 0h1m-2 0h1m-5 0h1m-2 0h1m-3 0h1m-4 0h1m-4 0h1m-4 0h1m-4 0h1m-4 0h1m-5 0h1m-11 0h1m-1 1h1m8 0h1m2 0h1h1m5 0h1m1 0h1h1h1m2 0h1m4 0h1h1m3 0h1h1m1 0h1h1m2 0h1h1m10 0h1m1 0h1m1 0h1h1m5 0h1m1 0h1m5 0h1m1 0h1h1m1 0h1m1 0h1m2 0h1h1m2 0h1h1m1 0h1h1m1 0h1h1m1 0h1m6 0h1m6 0h1m1 0h1h1h1m2 0h1m3 0h1m1 0h1m3 0h1h1m1 0h1m1 0h1h1h1m2 0h1m3 0h1m-5 1h1m-3 0h1m-4 0h1m-2 0h1m-5 0h1m-5 0h1m-2 0h1m-2 0h1m-3 0h1m-2 0h1m-2 0h1m-2 0h1m-6 0h1m-3 0h1m-3 0h1m-2 0h1m-2 0h1m-2 0h1m-2 0h1m-4 0h1m-6 0h1m-2 0h1m-7 0h1m-6 0h1m-5 0h1m-7 0h1m-4 0h1m-3 0h1m-5 0h1m-4 0h1m-5 0h1m-5 0h1m-2 0h1m-2 0h1m-11 0h1m-3 0h1m-2 0h1m-9 0h1m-5 0h1m-3 0h1m-3 0h1m-3 0h1m-18 0h1m-5 0h1m-1 1h1m4 0h1m1 0h1m2 0h1m4 0h1m1 0h1h1m3 0h1m2 0h1h1m2 0h1h1m1 0h1h1m4 0h1m16 0h1m3 0h1m6 0h1h1m4 0h1m3 0h1h1h1m1 0h1m2 0h1m2 0h1h1m1 0h1m2 0h1m1 0h1m2 0h1h1h1m1 0h1m1 0h1m3 0h1h1h1h1h1h1m3 0h1m1 0h1h1h1m4 0h1m1 0h1m3 0h1m1 0h1m4 0h1m2 0h1m5 0h1m-1 1h1m-12 0h1m-4 0h1m-3 0h1m-3 0h1m-5 0h1m-2 0h1m-6 0h1m-2 0h1m-2 0h1m-2 0h1m-2 0h1m-2 0h1m-4 0h1m-4 0h1m-4 0h1m-5 0h1m-2 0h1m-5 0h1m-3 0h1m-4 0h1m-4 0h1m-3 0h1m-3 0h1m-6 0h1m-4 0h1m-8 0h1m-3 0h1m-5 0h1m-5 0h1m-2 0h1m-2 0h1m-3 0h1m-3 0h1m-8 0h1m-5 0h1m-2 0h1m-5 0h1m-4 0h1m-7 0h1m-4 0h1m-6 0h1m-3 0h1m-3 0h1m-7 0h1m-7 0h1m-5 0h1m-1 1h1m3 0h1h1m4 0h1m1 0h1h1h1m10 0h1h1m1 0h1m4 0h1m1 0h1h1h1m1 0h1m3 0h1m5 0h1m1 0h1m6 0h1h1m2 0h1h1m4 0h1h1h1m2 0h1h1m1 0h1h1h1m2 0h1m8 0h1m3 0h1m5 0h1h1m3 0h1m1 0h1m1 0h1h1m2 0h1m1 0h1m1 0h1h1h1h1h1h1h1h1m1 0h1h1m1 0h1h1m1 0h1h1h1m2 0h1h1m1 0h1h1m1 0h1h1m3 0h1m-2 1h1m-5 0h1m-3 0h1m-3 0h1m-5 0h1m-4 0h1m-2 0h1m-5 0h1m-6 0h1m-2 0h1m-2 0h1m-4 0h1m-2 0h1m-2 0h1m-2 0h1m-3 0h1m-4 0h1m-2 0h1m-3 0h1m-2 0h1m-2 0h1m-2 0h1m-2 0h1m-9 0h1m-2 0h1m-6 0h1m-2 0h1m-4 0h1m-11 0h1m-12 0h1m-8 0h1m-3 0h1m-4 0h1m-4 0h1m-3 0h1m-6 0h1m-8 0h1m-3 0h1m-4 0h1m-7 0h1m-4 0h1m-5 0h1m-3 0h1m-6 0h1m-3 0h1m-2 0h1m-4 0h1m-4 0h1m-1 1h1m1 0h1m5 0h1m1 0h1m3 0h1m1 0h1m6 0h1h1m1 0h1m8 0h1m7 0h1h1m18 0h1m4 0h1m11 0h1h1h1m2 0h1m1 0h1m1 0h1h1h1h1m3 0h1h1h1m1 0h1h1m1 0h1h1m2 0h1m4 0h1m1 0h1m1 0h1m1 0h1m1 0h1h1m1 0h1m2 0h1m1 0h1h1m1 0h1m3 0h1h1m4 0h1m0 1h1m-4 0h1m-2 0h1m-2 0h1m-3 0h1m-3 0h1m-3 0h1m-2 0h1m-2 0h1m-2 0h1m-2 0h1m-2 0h1m-3 0h1m-4 0h1m-2 0h1m-2 0h1m-2 0h1m-2 0h1m-2 0h1m-3 0h1m-2 0h1m-2 0h1m-2 0h1m-4 0h1m-2 0h1m-4 0h1m-2 0h1m-3 0h1m-2 0h1m-5 0h1m-8 0h1m-3 0h1m-9 0h1m-2 0h1m-6 0h1m-2 0h1m-5 0h1m-5 0h1m-6 0h1m-5 0h1m-5 0h1m-2 0h1m-5 0h1m-5 0h1m-3 0h1m-2 0h1m-3 0h1m-5 0h1m-2 0h1m-23 0h1m-5 0h1m-7 0h1m-1 1h1m2 0h1h1m1 0h1m1 0h1h1h1m5 0h1m1 0h1m4 0h1m4 0h1m1 0h1m3 0h1m4 0h1h1h1m2 0h1m2 0h1m4 0h1h1h1m2 0h1m1 0h1m1 0h1m4 0h1m7 0h1h1h1h1m1 0h1h1m7 0h1m1 0h1h1m1 0h1m1 0h1h1m1 0h1m2 0h1h1h1h1h1h1m3 0h1h1h1h1h1h1m2 0h1m1 0h1h1h1h1h1m1 0h1h1m1 0h1h1h1h1h1h1h1h1h1h1h1m5 0h1h1m0 1h1m-7 0h1m-2 0h1m-2 0h1m-2 0h1m-5 0h1m-4 0h1m-2 0h1m-4 0h1m-2 0h1m-2 0h1m-2 0h1m-2 0h1m-3 0h1m-4 0h1m-3 0h1m-2 0h1m-5 0h1m-2 0h1m-4 0h1m-2 0h1m-2 0h1m-3 0h1m-2 0h1m-2 0h1m-3 0h1m-2 0h1m-2 0h1m-6 0h1m-2 0h1m-2 0h1m-3 0h1m-2 0h1m-2 0h1m-7 0h1m-2 0h1m-4 0h1m-3 0h1m-3 0h1m-8 0h1m-3 0h1m-2 0h1m-6 0h1m-3 0h1m-2 0h1m-5 0h1m-4 0h1m-3 0h1m-2 0h1m-2 0h1m-6 0h1m-11 0h1m-3 0h1m-2 0h1m-2 0h1m-7 0h1m-4 0h1m-4 0h1m-7 0h1m-5 0h1m-2 0h1m-2 0h1m-1 1h1m1 0h1m2 0h1m6 0h1h1h1h1h1m4 0h1h1m3 0h1h1h1m1 0h1m2 0h1h1m3 0h1m2 0h1m2 0h1m5 0h1h1m1 0h1h1m1 0h1h1h1m1 0h1h1m2 0h1m1 0h1m3 0h1m3 0h1m1 0h1m1 0h1h1m1 0h1h1h1h1h1h1h1m2 0h1h1h1h1h1m1 0h1m1 0h1h1h1m4 0h1h1h1m1 0h1m1 0h1m1 0h1h1h1h1m1 0h1m1 0h1h1h1h1h1h1h1h1m1 0h1h1h1m5 0h1h1m2 0h1m1 0h1h1h1m1 1h1m-4 0h1m-4 0h1m-4 0h1m-2 0h1m-3 0h1m-3 0h1m-2 0h1m-2 0h1m-2 0h1m-2 0h1m-2 0h1m-2 0h1m-2 0h1m-2 0h1m-3 0h1m-2 0h1m-2 0h1m-2 0h1m-2 0h1m-2 0h1m-2 0h1m-2 0h1m-3 0h1m-2 0h1m-2 0h1m-2 0h1m-4 0h1m-2 0h1m-2 0h1m-2 0h1m-2 0h1m-4 0h1m-2 0h1m-2 0h1m-2 0h1m-2 0h1m-2 0h1m-4 0h1m-2 0h1m-2 0h1m-2 0h1m-2 0h1m-5 0h1m-2 0h1m-3 0h1m-3 0h1m-4 0h1m-2 0h1m-5 0h1m-6 0h1m-4 0h1m-4 0h1m-2 0h1m-3 0h1m-2 0h1m-10 0h1m-2 0h1m-6 0h1m-5 0h1m-3 0h1m-9 0h1m-2 0h1m-4 0h1m-3 0h1m-5 0h1m-2 0h1m-6 0h1m-2 0h1m-5 0h1m-2 0h1m-2 0h1m-2 0h1m-3 0h1m-3 0h1m-1 1h1m2 0h1m1 0h1h1h1h1h1h1h1m1 0h1m1 0h1h1m2 0h1h1m3 0h1m1 0h1m6 0h1m3 0h1h1m2 0h1h1m9 0h1m5 0h1h1m1 0h1h1m2 0h1h1h1m1 0h1m3 0h1m1 0h1m1 0h1m1 0h1m6 0h1m4 0h1m2 0h1m3 0h1h1h1h1h1h1h1m1 0h1h1m4 0h1h1h1m2 0h1h1m3 0h1h1h1m1 0h1h1h1m1 0h1m1 0h1m1 0h1h1h1h1m1 0h1h1h1h1h1m2 1h1m-7 0h1m-2 0h1m-2 0h1m-3 0h1m-2 0h1m-2 0h1m-2 0h1m-2 0h1m-3 0h1m-2 0h1m-2 0h1m-3 0h1m-2 0h1m-2 0h1m-2 0h1m-2 0h1m-2 0h1m-2 0h1m-2 0h1m-2 0h1m-2 0h1m-2 0h1m-2 0h1m-2 0h1m-2 0h1m-2 0h1m-2 0h1m-4 0h1m-2 0h1m-2 0h1m-3 0h1m-3 0h1m-2 0h1m-2 0h1m-3 0h1m-2 0h1m-2 0h1m-3 0h1m-4 0h1m-3 0h1m-4 0h1m-2 0h1m-4 0h1m-2 0h1m-2 0h1m-2 0h1m-2 0h1m-5 0h1m-5 0h1m-5 0h1m-2 0h1m-2 0h1m-2 0h1m-4 0h1m-2 0h1m-2 0h1m-3 0h1m-2 0h1m-2 0h1m-3 0h1m-2 0h1m-3 0h1m-2 0h1m-3 0h1m-2 0h1m-8 0h1m-3 0h1m-2 0h1m-7 0h1m-6 0h1m-3 0h1m-4 0h1m-2 0h1m-2 0h1m-2 0h1m-3 0h1m-3 0h1m-3 0h1m-2 0h1m-6 0h1m-3 0h1m-3 0h1m-1 1h1m3 0h1m4 0h1h1m2 0h1m2 0h1m2 0h1m4 0h1m6 0h1h1m4 0h1h1m1 0h1h1m2 0h1m2 0h1m3 0h1m2 0h1m3 0h1h1h1m1 0h1m2 0h1h1h1h1h1m2 0h1m1 0h1h1m1 0h1m3 0h1h1h1m2 0h1h1h1h1h1m1 0h1m1 0h1h1h1m2 0h1h1h1h1m1 0h1m1 0h1h1h1h1h1m1 0h1m1 0h1h1m2 0h1m1 0h1h1m1 0h1h1h1h1h1h1h1h1h1h1h1h1h1h1m1 0h1h1h1h1m1 0h1h1m2 0h1m0 1h1m-4 0h1m-3 0h1m-2 0h1m-3 0h1m-6 0h1m-2 0h1m-2 0h1m-2 0h1m-2 0h1m-4 0h1m-2 0h1m-2 0h1m-2 0h1m-3 0h1m-2 0h1m-5 0h1m-2 0h1m-2 0h1m-3 0h1m-2 0h1m-2 0h1m-2 0h1m-2 0h1m-2 0h1m-2 0h1m-2 0h1m-2 0h1m-4 0h1m-4 0h1m-2 0h1m-2 0h1m-3 0h1m-2 0h1m-3 0h1m-3 0h1m-2 0h1m-2 0h1m-2 0h1m-9 0h1m-5 0h1m-3 0h1m-2 0h1m-4 0h1m-4 0h1m-3 0h1m-4 0h1m-3 0h1m-7 0h1m-3 0h1m-4 0h1m-3 0h1m-4 0h1m-4 0h1m-3 0h1m-2 0h1m-2 0h1m-8 0h1m-3 0h1m-5 0h1m-2 0h1m-2 0h1m-3 0h1m-2 0h1m-3 0h1m-9 0h1m-4 0h1m-2 0h1m-6 0h1m-1 1h1h1m1 0h1m1 0h1m1 0h1m1 0h1m1 0h1m1 0h1h1m4 0h1m3 0h1m1 0h1h1m5 0h1m1 0h1h1m3 0h1m1 0h1m2 0h1h1m1 0h1m2 0h1m2 0h1m2 0h1m2 0h1h1h1h1m2 0h1h1m1 0h1h1h1h1h1h1m1 0h1h1h1h1h1h1m2 0h1h1m3 0h1h1h1h1m1 0h1h1h1h1h1h1h1h1h1h1h1m1 0h1m1 0h1h1h1m1 0h1h1m1 0h1m1 0h1h1m1 0h1h1h1h1h1h1h1h1m6 0h1m1 0h1m1 0h1h1m1 0h1h1m1 0h1m1 0h1m1 0h1m-1 1h1m-4 0h1m-2 0h1m-3 0h1m-3 0h1m-2 0h1m-2 0h1m-2 0h1m-2 0h1m-2 0h1m-2 0h1m-2 0h1m-2 0h1m-2 0h1m-2 0h1m-2 0h1m-2 0h1m-2 0h1m-2 0h1m-2 0h1m-3 0h1m-2 0h1m-2 0h1m-2 0h1m-2 0h1m-2 0h1m-2 0h1m-3 0h1m-2 0h1m-2 0h1m-2 0h1m-3 0h1m-2 0h1m-2 0h1m-2 0h1m-2 0h1m-2 0h1m-4 0h1m-2 0h1m-2 0h1m-3 0h1m-2 0h1m-3 0h1m-2 0h1m-2 0h1m-5 0h1m-2 0h1m-2 0h1m-3 0h1m-2 0h1m-3 0h1m-7 0h1m-2 0h1m-2 0h1m-4 0h1m-3 0h1m-4 0h1m-3 0h1m-2 0h1m-2 0h1m-2 0h1m-7 0h1m-2 0h1m-3 0h1m-2 0h1m-2 0h1m-4 0h1m-4 0h1m-2 0h1m-2 0h1m-8 0h1m-2 0h1m-2 0h1m-9 0h1m-5 0h1m-2 0h1m-3 0h1m-2 0h1m-2 0h1m-2 0h1m-3 0h1m-2 0h1m-4 0h1m-4 0h1m-2 0h1m-5 0h1m-1 1h1m2 0h1m1 0h1h1m1 0h1m1 0h1h1h1h1h1h1h1m4 0h1h1m2 0h1m2 0h1h1m1 0h1h1m4 0h1h1m2 0h1m1 0h1h1m4 0h1h1h1m5 0h1m3 0h1h1m3 0h1m5 0h1h1h1h1h1h1m5 0h1h1h1m1 0h1m1 0h1m1 0h1h1h1h1h1m1 0h1h1h1h1h1h1h1h1h1m1 0h1h1h1h1h1h1h1h1h1h1h1h1h1h1m1 0h1m1 0h1m1 0h1h1h1h1m1 0h1m1 0h1h1h1h1h1m1 0h1h1m1 0h1h1m5 0h1m15 1h1m-17 0h1m-5 0h1m-2 0h1m-2 0h1m-4 0h1m-2 0h1m-2 0h1m-2 0h1m-3 0h1m-2 0h1m-3 0h1m-2 0h1m-2 0h1m-2 0h1m-2 0h1m-2 0h1m-2 0h1m-2 0h1m-2 0h1m-3 0h1m-2 0h1m-2 0h1m-2 0h1m-2 0h1m-2 0h1m-3 0h1m-2 0h1m-2 0h1m-2 0h1m-2 0h1m-2 0h1m-3 0h1m-2 0h1m-2 0h1m-2 0h1m-2 0h1m-2 0h1m-2 0h1m-2 0h1m-3 0h1m-3 0h1m-2 0h1m-2 0h1m-2 0h1m-4 0h1m-2 0h1m-2 0h1m-3 0h1m-3 0h1m-2 0h1m-3 0h1m-2 0h1m-3 0h1m-2 0h1m-3 0h1m-2 0h1m-2 0h1m-3 0h1m-3 0h1m-2 0h1m-2 0h1m-4 0h1m-2 0h1m-2 0h1m-2 0h1m-2 0h1m-5 0h1m-4 0h1m-5 0h1m-4 0h1m-3 0h1m-3 0h1m-5 0h1m-3 0h1m-3 0h1m-3 0h1m-2 0h1m-2 0h1m-5 0h1m-2 0h1m-2 0h1m-2 0h1m-5 0h1m-3 0h1m-2 0h1m-5 0h1m-2 0h1m-3 0h1m-2 0h1m-2 0h1m-3 0h1m-2 0h1m-2 0h1m-2 0h1m-4 0h1m-1 1h1h1m2 0h1m1 0h1h1h1h1m1 0h1m1 0h1m1 0h1m2 0h1m1 0h1m2 0h1h1h1m2 0h1h1m4 0h1h1h1h1m2 0h1m1 0h1m7 0h1m1 0h1h1h1m1 0h1m1 0h1m3 0h1m2 0h1h1h1h1m2 0h1h1h1m3 0h1m1 0h1m2 0h1m1 0h1m2 0h1h1h1m1 0h1h1h1h1h1m1 0h1h1m1 0h1m1 0h1h1h1h1h1m1 0h1h1h1m1 0h1h1h1h1h1h1h1h1h1h1h1h1h1h1h1h1h1h1m1 0h1h1h1h1h1h1h1h1h1m1 0h1h1m1 0h1h1m2 0h1m1 0h1m4 0h1m-10 1h1m-2 0h1m-2 0h1m-3 0h1m-3 0h1m-2 0h1m-2 0h1m-3 0h1m-2 0h1m-2 0h1m-2 0h1m-2 0h1m-2 0h1m-3 0h1m-2 0h1m-2 0h1m-5 0h1m-2 0h1m-3 0h1m-2 0h1m-2 0h1m-2 0h1m-2 0h1m-2 0h1m-2 0h1m-2 0h1m-2 0h1m-2 0h1m-2 0h1m-2 0h1m-2 0h1m-3 0h1m-2 0h1m-2 0h1m-2 0h1m-2 0h1m-2 0h1m-2 0h1m-2 0h1m-2 0h1m-2 0h1m-2 0h1m-2 0h1m-2 0h1m-2 0h1m-2 0h1m-2 0h1m-2 0h1m-2 0h1m-2 0h1m-2 0h1m-3 0h1m-2 0h1m-2 0h1m-2 0h1m-2 0h1m-3 0h1m-2 0h1m-3 0h1m-2 0h1m-3 0h1m-3 0h1m-3 0h1m-3 0h1m-2 0h1m-2 0h1m-3 0h1m-2 0h1m-2 0h1m-2 0h1m-6 0h1m-2 0h1m-2 0h1m-2 0h1m-3 0h1m-6 0h1m-2 0h1m-2 0h1m-2 0h1m-2 0h1m-4 0h1m-3 0h1m-2 0h1m-4 0h1m-4 0h1m-3 0h1m-6 0h1m-2 0h1m-2 0h1m-4 0h1m-2 0h1m-3 0h1m-2 0h1m-3 0h1m-2 0h1m-3 0h1m-9 0h1m-1 1h1m2 0h1m1 0h1m6 0h1h1h1m3 0h1m2 0h1m2 0h1m5 0h1h1h1m1 0h1m4 0h1m1 0h1m1 0h1m3 0h1m1 0h1m3 0h1m5 0h1m1 0h1m2 0h1h1m1 0h1m2 0h1h1h1m3 0h1m1 0h1h1h1h1m2 0h1h1h1m2 0h1m2 0h1h1h1h1m1 0h1m1 0h1h1h1h1h1m2 0h1h1m1 0h1m1 0h1h1h1h1h1h1h1h1h1h1h1h1h1h1m2 0h1h1h1h1m1 0h1m2 0h1h1h1h1h1m3 0h1h1h1m2 0h1m3 0h1m-11 1h1m-2 0h1m-2 0h1m-3 0h1m-2 0h1m-3 0h1m-2 0h1m-3 0h1m-2 0h1m-3 0h1m-2 0h1m-2 0h1m-2 0h1m-2 0h1m-2 0h1m-2 0h1m-2 0h1m-2 0h1m-4 0h1m-2 0h1m-2 0h1m-2 0h1m-2 0h1m-2 0h1m-3 0h1m-2 0h1m-2 0h1m-2 0h1m-2 0h1m-2 0h1m-2 0h1m-2 0h1m-2 0h1m-2 0h1m-2 0h1m-2 0h1m-3 0h1m-2 0h1m-2 0h1m-2 0h1m-2 0h1m-3 0h1m-3 0h1m-2 0h1m-3 0h1m-2 0h1m-3 0h1m-4 0h1m-2 0h1m-3 0h1m-2 0h1m-2 0h1m-2 0h1m-3 0h1m-2 0h1m-3 0h1m-3 0h1m-3 0h1m-2 0h1m-3 0h1m-2 0h1m-2 0h1m-5 0h1m-2 0h1m-3 0h1m-7 0h1m-2 0h1m-2 0h1m-3 0h1m-2 0h1m-3 0h1m-2 0h1m-2 0h1m-2 0h1m-2 0h1m-2 0h1m-2 0h1m-4 0h1m-2 0h1m-3 0h1m-2 0h1m-3 0h1m-2 0h1m-5 0h1m-5 0h1m-2 0h1m-3 0h1m-4 0h1m-3 0h1m-4 0h1m-3 0h1m-5 0h1m-1 1h1m1 0h1h1m1 0h1m1 0h1h1h1m3 0h1h1h1h1m2 0h1m1 0h1m1 0h1m3 0h1m3 0h1h1m2 0h1m2 0h1m10 0h1h1h1m1 0h1h1m1 0h1h1m1 0h1m2 0h1m2 0h1m1 0h1m1 0h1h1h1h1h1h1m1 0h1h1m1 0h1m2 0h1h1h1h1h1h1h1m1 0h1m1 0h1h1h1h1h1h1h1h1h1h1h1h1h1h1h1h1h1h1h1h1h1h1h1h1h1h1h1h1h1h1h1h1h1h1h1h1h1h1h1m1 0h1h1h1m1 0h1m1 0h1h1m1 0h1m1 0h1h1m5 0h1m-2 1h1m-5 0h1m-2 0h1m-5 0h1m-2 0h1m-2 0h1m-2 0h1m-2 0h1m-2 0h1m-2 0h1m-2 0h1m-2 0h1m-2 0h1m-2 0h1m-2 0h1m-2 0h1m-2 0h1m-2 0h1m-2 0h1m-2 0h1m-2 0h1m-2 0h1m-2 0h1m-2 0h1m-2 0h1m-2 0h1m-2 0h1m-2 0h1m-3 0h1m-2 0h1m-2 0h1m-2 0h1m-2 0h1m-2 0h1m-2 0h1m-2 0h1m-2 0h1m-2 0h1m-2 0h1m-2 0h1m-3 0h1m-2 0h1m-2 0h1m-2 0h1m-2 0h1m-2 0h1m-3 0h1m-4 0h1m-3 0h1m-3 0h1m-2 0h1m-4 0h1m-2 0h1m-2 0h1m-2 0h1m-2 0h1m-4 0h1m-2 0h1m-2 0h1m-7 0h1m-2 0h1m-2 0h1m-2 0h1m-2 0h1m-4 0h1m-3 0h1m-2 0h1m-3 0h1m-4 0h1m-2 0h1m-6 0h1m-2 0h1m-2 0h1m-3 0h1m-4 0h1m-2 0h1m-2 0h1m-2 0h1m-2 0h1m-3 0h1m-5 0h1m-2 0h1m-2 0h1m-2 0h1m-2 0h1m-4 0h1m-2 0h1m-2 0h1m-2 0h1m-7 0h1m-2 0h1m-4 0h1m-2 0h1m-2 0h1m-3 0h1m-2 0h1m-2 0h1m-2 0h1m-2 0h1m-2 0h1m-2 0h1m-1 1h1m3 0h1m1 0h1m1 0h1m4 0h1m1 0h1m1 0h1m1 0h1h1h1m5 0h1m2 0h1m1 0h1h1h1m2 0h1h1h1m1 0h1m1 0h1m1 0h1m2 0h1m1 0h1h1m1 0h1h1m1 0h1h1m3 0h1m1 0h1m1 0h1m2 0h1h1m2 0h1m1 0h1m1 0h1m1 0h1h1m2 0h1h1h1h1h1h1h1h1h1h1h1h1h1h1h1h1h1h1h1h1m1 0h1m1 0h1h1h1h1h1h1h1h1h1h1h1h1h1h1h1h1h1h1h1h1m2 0h1h1h1h1h1h1h1h1h1h1h1h1h1h1h1h1h1h1h1h1m1 0h1m-5 1h1m-3 0h1m-2 0h1m-2 0h1m-2 0h1m-2 0h1m-3 0h1m-3 0h1m-2 0h1m-2 0h1m-2 0h1m-2 0h1m-2 0h1m-2 0h1m-2 0h1m-2 0h1m-2 0h1m-2 0h1m-2 0h1m-2 0h1m-2 0h1m-2 0h1m-2 0h1m-2 0h1m-2 0h1m-2 0h1m-2 0h1m-2 0h1m-2 0h1m-2 0h1m-2 0h1m-2 0h1m-3 0h1m-2 0h1m-2 0h1m-2 0h1m-2 0h1m-2 0h1m-3 0h1m-2 0h1m-2 0h1m-3 0h1m-2 0h1m-2 0h1m-2 0h1m-2 0h1m-4 0h1m-2 0h1m-2 0h1m-2 0h1m-2 0h1m-2 0h1m-4 0h1m-2 0h1m-2 0h1m-2 0h1m-2 0h1m-3 0h1m-4 0h1m-2 0h1m-3 0h1m-2 0h1m-2 0h1m-4 0h1m-3 0h1m-5 0h1m-4 0h1m-2 0h1m-2 0h1m-2 0h1m-2 0h1m-2 0h1m-2 0h1m-2 0h1m-8 0h1m-2 0h1m-2 0h1m-2 0h1m-3 0h1m-3 0h1m-2 0h1m-4 0h1m-3 0h1m-2 0h1m-3 0h1m-2 0h1m-2 0h1m-2 0h1m-3 0h1m-2 0h1m-2 0h1m-2 0h1m-4 0h1m-2 0h1m-5 0h1m-2 0h1m-5 0h1m-2 0h1m-2 0h1m-4 0h1m-1 1h1m1 0h1h1h1h1m1 0h1m1 0h1h1h1h1h1h1h1m1 0h1h1m3 0h1h1h1h1h1m1 0h1h1m2 0h1m3 0h1m1 0h1m2 0h1m2 0h1h1m2 0h1m1 0h1h1h1m1 0h1m1 0h1h1h1m1 0h1h1m1 0h1h1m2 0h1h1h1m2 0h1h1h1h1h1h1h1h1h1h1h1h1h1h1h1m1 0h1h1h1m1 0h1h1h1h1h1h1h1h1h1h1h1h1h1h1h1h1h1h1m1 0h1h1h1h1h1h1h1h1h1h1h1h1h1h1h1m2 0h1h1h1h1h1h1h1h1m2 0h1h1m12 0h1m-7 1h1m-4 0h1m-5 0h1m-2 0h1m-4 0h1m-2 0h1m-3 0h1m-2 0h1m-2 0h1m-2 0h1m-2 0h1m-3 0h1m-2 0h1m-2 0h1m-2 0h1m-2 0h1m-2 0h1m-2 0h1m-2 0h1m-2 0h1m-2 0h1m-2 0h1m-2 0h1m-2 0h1m-2 0h1m-2 0h1m-2 0h1m-2 0h1m-3 0h1m-2 0h1m-2 0h1m-2 0h1m-2 0h1m-2 0h1m-2 0h1m-2 0h1m-2 0h1m-2 0h1m-2 0h1m-2 0h1m-2 0h1m-2 0h1m-3 0h1m-2 0h1m-3 0h1m-2 0h1m-2 0h1m-5 0h1m-2 0h1m-2 0h1m-2 0h1m-2 0h1m-2 0h1m-2 0h1m-2 0h1m-2 0h1m-2 0h1m-3 0h1m-2 0h1m-2 0h1m-4 0h1m-6 0h1m-2 0h1m-4 0h1m-3 0h1m-2 0h1m-3 0h1m-2 0h1m-4 0h1m-2 0h1m-2 0h1m-3 0h1m-2 0h1m-3 0h1m-5 0h1m-2 0h1m-2 0h1m-4 0h1m-2 0h1m-5 0h1m-2 0h1m-3 0h1m-6 0h1m-9 0h1m-2 0h1m-2 0h1m-4 0h1m-2 0h1m-4 0h1m-2 0h1m-2 0h1m-2 0h1m-2 0h1m-1 1h1m1 0h1m1 0h1m1 0h1h1h1m2 0h1m1 0h1h1m1 0h1m1 0h1h1m1 0h1m2 0h1m1 0h1m1 0h1m1 0h1m3 0h1h1m1 0h1m1 0h1h1h1h1m1 0h1h1h1m2 0h1h1m2 0h1h1m2 0h1m1 0h1h1h1m1 0h1h1m1 0h1h1m2 0h1h1h1h1h1h1h1h1h1h1h1m1 0h1h1h1h1h1h1h1h1h1h1h1h1m1 0h1h1h1h1h1h1h1h1h1m1 0h1h1h1h1h1h1h1h1h1h1h1h1h1h1h1h1h1h1h1h1h1h1h1h1h1h1h1h1h1h1h1h1h1h1h1h1m-1 1h1m-2 0h1m-2 0h1m-2 0h1m-2 0h1m-2 0h1m-2 0h1m-2 0h1m-2 0h1m-2 0h1m-2 0h1m-2 0h1m-2 0h1m-3 0h1m-2 0h1m-2 0h1m-2 0h1m-2 0h1m-2 0h1m-2 0h1m-2 0h1m-2 0h1m-2 0h1m-2 0h1m-2 0h1m-2 0h1m-2 0h1m-2 0h1m-2 0h1m-2 0h1m-2 0h1m-2 0h1m-2 0h1m-2 0h1m-2 0h1m-2 0h1m-2 0h1m-2 0h1m-2 0h1m-2 0h1m-2 0h1m-2 0h1m-2 0h1m-2 0h1m-3 0h1m-2 0h1m-2 0h1m-2 0h1m-2 0h1m-2 0h1m-2 0h1m-2 0h1m-2 0h1m-2 0h1m-2 0h1m-2 0h1m-2 0h1m-2 0h1m-3 0h1m-2 0h1m-2 0h1m-2 0h1m-2 0h1m-2 0h1m-2 0h1m-2 0h1m-2 0h1m-3 0h1m-2 0h1m-3 0h1m-2 0h1m-3 0h1m-3 0h1m-4 0h1m-3 0h1m-5 0h1m-2 0h1m-2 0h1m-2 0h1m-3 0h1m-2 0h1m-2 0h1m-4 0h1m-2 0h1m-2 0h1m-3 0h1m-3 0h1m-2 0h1m-4 0h1m-2 0h1m-3 0h1m-2 0h1m-3 0h1m-2 0h1m-2 0h1m-2 0h1m-2 0h1m-5 0h1m-4 0h1m-3 0h1m-2 0h1m-3 0h1m-2 0h1m-2 0h1m-4 0h1m-3 0h1m-2 0h1m-2 0h1m-2 0h1m-1 1h1h1h1h1h1h1h1h1h1h1h1h1h1m2 0h1m2 0h1m1 0h1m1 0h1h1h1h1h1h1h1h1m2 0h1m1 0h1h1h1h1m1 0h1h1m1 0h1m1 0h1h1h1m2 0h1h1h1h1h1h1h1h1m1 0h1h1h1m1 0h1h1m1 0h1h1h1h1m1 0h1h1h1m1 0h1h1h1h1h1h1m1 0h1m1 0h1h1h1h1h1h1h1h1h1h1h1h1h1h1h1h1h1h1h1h1h1h1h1h1m1 0h1h1h1h1h1h1h1h1h1h1h1h1h1h1h1h1h1h1h1h1h1h1h1h1h1h1m1 0h1h1m1 0h1m3 1h1m-6 0h1m-2 0h1m-3 0h1m-4 0h1m-2 0h1m-2 0h1m-2 0h1m-2 0h1m-2 0h1m-2 0h1m-2 0h1m-2 0h1m-2 0h1m-3 0h1m-2 0h1m-2 0h1m-2 0h1m-2 0h1m-2 0h1m-2 0h1m-2 0h1m-2 0h1m-2 0h1m-2 0h1m-2 0h1m-2 0h1m-2 0h1m-2 0h1m-2 0h1m-2 0h1m-2 0h1m-2 0h1m-2 0h1m-2 0h1m-2 0h1m-2 0h1m-2 0h1m-3 0h1m-3 0h1m-2 0h1m-2 0h1m-2 0h1m-2 0h1m-2 0h1m-2 0h1m-2 0h1m-2 0h1m-2 0h1m-5 0h1m-2 0h1m-2 0h1m-2 0h1m-2 0h1m-3 0h1m-2 0h1m-3 0h1m-2 0h1m-2 0h1m-2 0h1m-2 0h1m-2 0h1m-2 0h1m-2 0h1m-3 0h1m-2 0h1m-2 0h1m-3 0h1m-2 0h1m-2 0h1m-3 0h1m-2 0h1m-2 0h1m-2 0h1m-4 0h1m-2 0h1m-4 0h1m-2 0h1m-2 0h1m-5 0h1m-2 0h1m-3 0h1m-2 0h1m-2 0h1m-2 0h1m-2 0h1m-2 0h1m-2 0h1m-3 0h1m-2 0h1m-2 0h1m-2 0h1m-3 0h1m-2 0h1m-4 0h1m-2 0h1m-2 0h1m-3 0h1m-2 0h1m-7 0h1m-3 0h1m-2 0h1m-2 0h1m-2 0h1m-2 0h1m-2 0h1m-1 1h1h1h1h1h1h1h1m1 0h1h1h1h1m1 0h1h1h1m1 0h1h1h1h1h1m1 0h1h1m1 0h1m2 0h1h1h1m1 0h1h1h1h1m1 0h1m2 0h1h1m1 0h1h1h1h1h1h1m1 0h1m1 0h1h1h1h1m2 0h1m1 0h1h1h1m2 0h1h1m1 0h1h1h1h1h1h1h1h1m1 0h1h1h1m2 0h1m1 0h1h1h1h1h1h1h1h1h1h1h1h1h1h1h1h1h1h1h1h1m1 0h1h1h1h1h1h1h1m1 0h1h1h1h1h1h1h1h1h1h1h1h1h1h1h1m1 0h1m1 0h1m1 0h1h1m3 1h1m-2 0h1m-5 0h1m-4 0h1m-3 0h1m-2 0h1m-2 0h1m-2 0h1m-2 0h1m-2 0h1m-2 0h1m-2 0h1m-2 0h1m-2 0h1m-2 0h1m-2 0h1m-2 0h1m-2 0h1m-2 0h1m-2 0h1m-2 0h1m-2 0h1m-2 0h1m-2 0h1m-2 0h1m-2 0h1m-2 0h1m-2 0h1m-2 0h1m-2 0h1m-2 0h1m-2 0h1m-3 0h1m-2 0h1m-2 0h1m-2 0h1m-2 0h1m-2 0h1m-2 0h1m-2 0h1m-2 0h1m-2 0h1m-3 0h1m-2 0h1m-2 0h1m-2 0h1m-2 0h1m-2 0h1m-3 0h1m-2 0h1m-2 0h1m-2 0h1m-2 0h1m-2 0h1m-2 0h1m-3 0h1m-5 0h1m-2 0h1m-2 0h1m-2 0h1m-4 0h1m-2 0h1m-3 0h1m-2 0h1m-2 0h1m-2 0h1m-2 0h1m-2 0h1m-2 0h1m-3 0h1m-2 0h1m-2 0h1m-3 0h1m-2 0h1m-2 0h1m-2 0h1m-3 0h1m-2 0h1m-2 0h1m-2 0h1m-2 0h1m-2 0h1m-2 0h1m-3 0h1m-2 0h1m-4 0h1m-3 0h1m-2 0h1m-3 0h1m-2 0h1m-2 0h1m-2 0h1m-2 0h1m-2 0h1m-3 0h1m-2 0h1m-3 0h1m-2 0h1m-2 0h1m-2 0h1m-2 0h1m-2 0h1m-2 0h1m-5 0h1m-2 0h1m-3 0h1m-2 0h1m-2 0h1m-3 0h1m-1 1h1m1 0h1m1 0h1h1h1m1 0h1h1h1h1h1m1 0h1m1 0h1h1m2 0h1h1m3 0h1m1 0h1h1h1m1 0h1m1 0h1h1h1h1m3 0h1h1h1h1h1h1h1m1 0h1h1h1h1m2 0h1h1m1 0h1h1h1m1 0h1h1h1m5 0h1m1 0h1h1h1m1 0h1h1h1h1m1 0h1m1 0h1m1 0h1m2 0h1h1m2 0h1m1 0h1h1m1 0h1h1h1h1h1h1h1m1 0h1m1 0h1h1h1h1h1m1 0h1m2 0h1h1h1h1h1h1h1h1m4 0h1m1 0h1h1m-17 1h1m-3 0h1m-3 0h1m-6 0h1m-2 0h1m-2 0h1m-2 0h1m-2 0h1m-2 0h1m-4 0h1m-2 0h1m-3 0h1m-2 0h1m-2 0h1m-2 0h1m-2 0h1m-2 0h1m-2 0h1m-2 0h1m-3 0h1m-2 0h1m-2 0h1m-2 0h1m-2 0h1m-2 0h1m-2 0h1m-3 0h1m-2 0h1m-4 0h1m-2 0h1m-2 0h1m-5 0h1m-2 0h1m-2 0h1m-2 0h1m-2 0h1m-2 0h1m-4 0h1m-2 0h1m-4 0h1m-2 0h1m-2 0h1m-2 0h1m-2 0h1m-3 0h1m-4 0h1m-3 0h1m-2 0h1m-2 0h1m-2 0h1m-2 0h1m-4 0h1m-2 0h1m-4 0h1m-2 0h1m-3 0h1m-2 0h1m-2 0h1m-6 0h1m-2 0h1m-3 0h1m-2 0h1m-5 0h1m-4 0h1m-2 0h1m-6 0h1m-2 0h1m-2 0h1m-2 0h1m-2 0h1m-3 0h1m-1 1h1h1m3 0h1h1m1 0h1h1m1 0h1h1h1m4 0h1m3 0h1m1 0h1m1 0h1h1h1h1h1h1m2 0h1m3 0h1m1 0h1h1m5 0h1h1h1h1m1 0h1m5 0h1h1m2 0h1m1 0h1h1h1m2 0h1h1m1 0h1h1h1h1h1h1h1h1h1m1 0h1h1m2 0h1h1m1 0h1h1h1m3 0h1m1 0h1m1 0h1h1m1 0h1m1 0h1m2 0h1m2 0h1m-21 1h1m-2 0h1m-4 0h1m-2 0h1m-4 0h1m-2 0h1m-2 0h1m-3 0h1m-3 0h1m-2 0h1m-2 0h1m-2 0h1m-2 0h1m-8 0h1m-5 0h1m-3 0h1m-8 0h1m-4 0h1m-3 0h1m-3 0h1m-5 0h1m-2 0h1m-2 0h1m-3 0h1m-5 0h1m-2 0h1m-3 0h1m-2 0h1m-2 0h1m-2 0h1m-4 0h1m-4 0h1m-2 0h1m-2 0h1m-2 0h1m-3 0h1m-2 0h1m-3 0h1m-2 0h1m-2 0h1m-2 0h1m-4 0h1m-3 0h1m-5 0h1m-2 0h1m-1 1h1h1m1 0h1h1m2 0h1m3 0h1m8 0h1m2 0h1h1m3 0h1m2 0h1m3 0h1m1 0h1h1h1m10 0h1h1h1m5 0h1m10 0h1m8 0h1m-37 1h1m-27 0h1m-10 0h1m-4 0h1m-4 0h1m-2 0h1" stroke="#df2a2e" stroke-width="1" fill="none"/>
<path transform="scale(2)" d="M944 800h1m1 5h1m-5 0h1m-2 5h1m-6 5h1m-17 1h1m3 0h1h1m2 0h1m1 2h1m-4 0h1m-9 0h1m8 1h1m3 0h1m12 0h1m-15 1h1m-10 0h1m-3 0h1m9 1h1m6 0h1m5 0h1m-14 1h1m-3 0h1m-2 0h1m-3 0h1m-11 0h1m1 1h1h1m1 0h1m13 1h1m-6 0h1m-10 0h1m-8 1h1m3 0h1h1m1 0h1m1 0h1m11 1h1m-22 0h1m0 1h1h1m4 0h1m2 0h1m3 0h1m5 0h1m-6 1h1m-3 0h1m-3 0h1m-2 0h1m-2 0h1m-6 0h1m-3 0h1m-11 0h1m-1 1h1m6 0h1h1m2 0h1m1 0h1m2 0h1m1 0h1h1m10 0h1m-9 1h1m-2 0h1m-2 0h1m-4 0h1m-2 0h1m-2 0h1m-4 0h1m-4 0h1m-3 0h1m2 1h1h1m1 0h1m7 0h1m4 0h1m-7 1h1m-2 0h1m-9 0h1m-3 0h1m-3 0h1m-2 0h1m-4 0h1m-2 0h1m-4 0h1m-5 0h1m-7 1h1m9 0h1m7 0h1m1 0h1m2 0h1h1h1m2 0h1m3 0h1m-4 1h1m-2 0h1m-3 0h1m-4 0h1m-2 0h1m-3 0h1m-3 0h1m-2 0h1m-11 1h1m4 0h1m3 0h1m2 0h1h1h1h1m2 0h1h1h1m-1 1h1m-2 0h1m-3 0h1m-3 0h1m-2 0h1m-5 0h1m-4 0h1m-6 0h1m-2 0h1m-4 0h1m-7 1h1m4 0h1m5 0h1h1h1h1m1 0h1m1 0h1h1h1m3 0h1h1m2 0h1m1 0h1m-5 1h1m-3 0h1m-2 0h1m-2 0h1m-2 0h1m-3 0h1m-3 0h1m-2 0h1m-2 0h1m-3 0h1m-3 0h1m-4 0h1m-4 0h1m-2 0h1m0 1h1h1m2 0h1m1 0h1m1 0h1h1m3 0h1m1 0h1h1m1 0h1h1m1 0h1m4 1h1m-4 0h1m-3 0h1m-4 0h1m-6 0h1m-4 0h1m-5 0h1m-4 0h1m-2 0h1m-5 0h1m-5 0h1m-4 0h1m-5 1h1m5 0h1m7 0h1h1h1m1 0h1h1m1 0h1h1m4 0h1m4 0h1m5 1h1m-11 0h1m-2 0h1m-4 0h1m-4 0h1m-5 0h1m-7 0h1m-11 0h1m6 1h1m3 0h1m1 0h1h1h1m2 0h1m1 0h1h1m7 0h1m1 1h1m-3 0h1m-2 0h1m-2 0h1m-3 0h1m-5 0h1m-3 0h1m-2 0h1m-3 0h1m-2 0h1m-2 0h1m-2 0h1m-2 0h1m-3 0h1m-2 0h1m-2 0h1m-3 0h1m-28 1h1m25 0h1h1m2 0h1m2 0h1m1 0h1h1h1h1h1m1 0h1m2 0h1m2 0h1m1 0h1m10 1h1m-12 0h1m-6 0h1m-2 0h1m-5 0h1m-2 0h1m-3 0h1m-5 0h1m-2 0h1m-2 0h1m-5 0h1m-2 0h1m-12 1h1m4 0h1h1m1 0h1m2 0h1m2 0h1m1 0h1h1m2 0h1h1h1m1 0h1h1h1m1 0h1h1m7 0h1m3 0h1m16 1h1m-27 0h1m-2 0h1m-6 0h1m-2 0h1m-2 0h1m-2 0h1m-12 0h1m-6 0h1m-5 1h1m5 0h1m1 0h1h1m1 0h1m4 0h1h1m2 0h1m2 0h1h1h1m5 0h1m8 0h1m-3 1h1m-7 0h1m-8 0h1m-3 0h1m-2 0h1m-7 0h1m-3 0h1m-4 0h1m-3 0h1m-2 0h1m-5 0h1m-15 1h1m9 0h1m4 0h1h1m5 0h1h1h1m1 0h1m1 0h1h1m9 0h1m1 0h1m7 0h1m-12 1h1m-4 0h1m-2 0h1m-2 0h1m-3 0h1m-3 0h1m-3 0h1m-3 0h1m-3 0h1m-2 0h1m-3 0h1m-2 0h1m-10 0h1m-2 0h1m-2 0h1m-2 0h1m-4 0h1m-4 1h1m10 0h1h1h1m3 0h1m1 0h1h1h1h1h1h1m1 0h1h1m1 0h1m3 0h1m2 0h1m-2 1h1m-4 0h1m-4 0h1m-3 0h1m-2 0h1m-2 0h1m-2 0h1m-3 0h1m-4 0h1m-2 0h1m-3 0h1m-2 0h1m-5 0h1m-3 0h1m-3 0h1m-5 0h1m-11 0h1m5 1h1m6 0h1h1m1 0h1h1h1m5 0h1h1h1h1h1m1 0h1h1h1h1m2 0h1h1h1h1h1h1m4 0h1h1m-1 1h1m-3 0h1m-5 0h1m-3 0h1m-2 0h1m-2 0h1m-2 0h1m-5 0h1m-2 0h1m-3 0h1m-2 0h1m-2 0h1m-2 0h1m-2 0h1m-5 0h1m-2 0h1m-2 0h1m-2 0h1m-2 0h1m-4 0h1m-12 0h1m2 1h1h1m2 0h1m1 0h1h1m1 0h1h1h1h1m1 0h1h1h1h1h1h1m2 0h1m1 0h1h1m2 0h1h1h1h1m3 1h1m-2 0h1m-7 0h1m-2 0h1m-2 0h1m-3 0h1m-2 0h1m-2 0h1m-2 0h1m-2 0h1m-3 0h1m-2 0h1m-2 0h1m-2 0h1m-2 0h1m-3 0h1m-2 0h1m-3 0h1m-2 0h1m-2 0h1m-3 0h1m-4 0h1m-2 0h1m-7 0h1m-2 0h1m-8 1h1m1 0h1m1 0h1m5 0h1m4 0h1m2 0h1h1h1m1 0h1h1h1h1h1h1h1h1m1 0h1h1m1 0h1h1h1m1 0h1h1m1 0h1h1m13 0h1h1m9 1h1m-18 0h1m-8 0h1m-3 0h1m-4 0h1m-2 0h1m-2 0h1m-2 0h1m-2 0h1m-2 0h1m-2 0h1m-2 0h1m-2 0h1m-4 0h1m-3 0h1m-4 0h1m-2 0h1m-8 0h1m-7 0h1m-6 1h1m4 0h1h1h1m1 0h1h1h1h1m1 0h1h1h1h1h1m2 0h1h1h1m2 0h1m1 0h1h1h1m2 0h1h1h1m4 1h1m-2 0h1m-7 0h1m-4 0h1m-2 0h1m-2 0h1m-3 0h1m-2 0h1m-2 0h1m-2 0h1m-3 0h1m-2 0h1m-2 0h1m-2 0h1m-2 0h1m-2 0h1m-2 0h1m-2 0h1m-2 0h1m-2 0h1m-2 0h1m-2 0h1m-3 0h1m-3 0h1m-2 0h1m-5 0h1m-6 0h1m-5 1h1h1m2 0h1h1m2 0h1h1m1 0h1h1m1 0h1h1m1 0h1h1h1h1h1m2 0h1h1h1h1h1m1 0h1h1h1h1h1h1h1h1h1h1h1h1h1h1h1h1h1h1h1h1m-1 1h1m-4 0h1m-4 0h1m-2 0h1m-2 0h1m-2 0h1m-2 0h1m-4 0h1m-2 0h1m-2 0h1m-2 0h1m-2 0h1m-2 0h1m-2 0h1m-2 0h1m-2 0h1m-2 0h1m-2 0h1m-2 0h1m-2 0h1m-2 0h1m-2 0h1m-2 0h1m-2 0h1m-2 0h1m-2 0h1m-2 0h1m-2 0h1m-2 0h1m-3 0h1m-2 0h1m-2 0h1m-3 0h1m-2 0h1m-5 0h1m-2 0h1m-4 0h1m-6 0h1m0 1h1m2 0h1m2 0h1m4 0h1h1m1 0h1h1h1h1h1m2 0h1h1h1h1h1h1h1h1h1h1h1h1h1m1 0h1h1h1h1h1h1m2 0h1h1h1h1m1 0h1m3 0h1m3 0h1m1 0h1m-7 1h1m-2 0h1m-3 0h1m-2 0h1m-2 0h1m-2 0h1m-3 0h1m-2 0h1m-2 0h1m-2 0h1m-2 0h1m-2 0h1m-2 0h1m-2 0h1m-2 0h1m-2 0h1m-2 0h1m-2 0h1m-2 0h1m-2 0h1m-2 0h1m-2 0h1m-2 0h1m-2 0h1m-2 0h1m-2 0h1m-2 0h1m-3 0h1m-2 0h1m-2 0h1m-2 0h1m-2 0h1m-3 0h1m-2 0h1m-2 0h1m-3 0h1m-2 0h1m-2 0h1m-9 0h1m-4 1h1h1m2 0h1h1h1h1m3 0h1h1m2 0h1h1h1h1h1m1 0h1h1h1h1h1h1h1h1h1h1h1h1h1h1h1h1h1h1h1h1h1h1h1h1h1h1m1 0h1m3 0h1m4 0h1h1m-5 1h1m-3 0h1m-4 0h1m-2 0h1m-2 0h1m-4 0h1m-2 0h1m-2 0h1m-2 0h1m-2 0h1m-2 0h1m-2 0h1m-2 0h1m-3 0h1m-2 0h1m-2 0h1m-2 0h1m-2 0h1m-2 0h1m-2 0h1m-2 0h1m-2 0h1m-2 0h1m-2 0h1m-2 0h1m-2 0h1m-2 0h1m-2 0h1m-2 0h1m-2 0h1m-2 0h1m-2 0h1m-2 0h1m-3 0h1m-2 0h1m-2 0h1m-3 0h1m-2 0h1m-2 0h1m-2 0h1m-5 0h1m-2 0h1m-3 0h1m-5 0h1m-6 0h1m8 1h1h1m4 0h1m1 0h1h1h1m1 0h1h1h1h1h1h1h1h1h1h1h1m1 0h1h1h1h1h1h1h1h1h1h1h1h1m1 0h1h1h1h1h1h1h1h1h1m2 0h1m1 0h1h1m7 1h1m-2 0h1m-5 0h1m-5 0h1m-2 0h1m-4 0h1m-2 0h1m-2 0h1m-2 0h1m-2 0h1m-2 0h1m-2 0h1m-2 0h1m-2 0h1m-3 0h1m-2 0h1m-2 0h1m-2 0h1m-2 0h1m-2 0h1m-2 0h1m-2 0h1m-2 0h1m-2 0h1m-2 0h1m-2 0h1m-2 0h1m-2 0h1m-2 0h1m-2 0h1m-2 0h1m-2 0h1m-2 0h1m-2 0h1m-2 0h1m-2 0h1m-2 0h1m-2 0h1m-2 0h1m-2 0h1m-2 0h1m-2 0h1m-3 0h1m-2 0h1m-2 0h1m-2 0h1m-5 0h1m-3 0h1m-1 1h1m1 0h1m2 0h1h1m1 0h1m2 0h1h1h1h1h1h1h1h1h1h1h1h1h1h1h1h1h1h1h1h1h1h1h1h1h1h1h1h1h1h1h1h1h1m1 0h1h1h1h1m2 0h1m1 0h1m6 0h1m-5 1h1m-2 0h1m-9 0h1m-2 0h1m-2 0h1m-2 0h1m-2 0h1m-2 0h1m-2 0h1m-2 0h1m-2 0h1m-2 0h1m-3 0h1m-2 0h1m-2 0h1m-2 0h1m-2 0h1m-2 0h1m-2 0h1m-2 0h1m-2 0h1m-2 0h1m-2 0h1m-2 0h1m-2 0h1m-2 0h1m-2 0h1m-2 0h1m-2 0h1m-2 0h1m-2 0h1m-2 0h1m-2 0h1m-2 0h1m-2 0h1m-2 0h1m-2 0h1m-2 0h1m-2 0h1m-2 0h1m-2 0h1m-2 0h1m-2 0h1m-2 0h1m-10 0h1m-8 0h1m-103 0h1m-1 1h1m111 0h1h1m2 0h1m3 0h1m1 0h1h1h1h1h1h1h1h1h1h1h1h1h1m1 0h1h1h1h1h1h1h1h1h1h1h1h1h1h1h1m1 0h1h1h1h1h1h1h1m3 0h1m2 0h1m1 0h1m3 0h1m1 0h1m2 0h1h1m-15 1h1m-5 0h1m-2 0h1m-3 0h1m-2 0h1m-2 0h1m-2 0h1m-2 0h1m-2 0h1m-2 0h1m-2 0h1m-2 0h1m-2 0h1m-2 0h1m-2 0h1m-2 0h1m-2 0h1m-2 0h1m-2 0h1m-2 0h1m-2 0h1m-2 0h1m-2 0h1m-2 0h1m-2 0h1m-2 0h1m-2 0h1m-2 0h1m-2 0h1m-2 0h1m-2 0h1m-2 0h1m-2 0h1m-2 0h1m-3 0h1m-3 0h1m-2 0h1m-3 0h1m-3 0h1m-5 0h1m-7 0h1m-8 0h1m-101 0h1m-1 1h1m105 0h1m4 0h1m5 0h1h1h1h1h1h1h1h1h1h1m1 0h1h1h1h1h1h1h1h1h1h1h1h1h1h1h1h1h1h1h1h1h1h1h1h1h1m1 0h1m1 0h1m1 0h1m1 0h1m1 0h1m3 0h1h1m6 0h1m-7 1h1m-3 0h1m-7 0h1m-4 0h1m-2 0h1m-3 0h1m-2 0h1m-2 0h1m-2 0h1m-2 0h1m-2 0h1m-2 0h1m-2 0h1m-2 0h1m-2 0h1m-2 0h1m-2 0h1m-2 0h1m-2 0h1m-2 0h1m-2 0h1m-2 0h1m-2 0h1m-2 0h1m-2 0h1m-2 0h1m-2 0h1m-2 0h1m-2 0h1m-2 0h1m-2 0h1m-2 0h1m-2 0h1m-2 0h1m-2 0h1m-2 0h1m-2 0h1m-2 0h1m-2 0h1m-2 0h1m-3 0h1m-2 0h1m-2 0h1m-3 0h1m-2 0h1m-2 0h1m-2 0h1m-13 0h1m-100 0h1m-1 1h1m105 0h1m1 0h1m3 0h1h1h1m1 0h1h1h1h1h1h1h1h1h1h1h1h1h1h1h1h1h1h1h1h1h1h1h1h1h1h1h1h1h1h1h1h1h1h1h1h1h1h1h1h1m1 0h1h1h1m3 0h1m3 0h1m0 1h1m-6 0h1m-6 0h1m-2 0h1m-2 0h1m-2 0h1m-2 0h1m-3 0h1m-2 0h1m-2 0h1m-2 0h1m-2 0h1m-2 0h1m-2 0h1m-2 0h1m-2 0h1m-2 0h1m-2 0h1m-2 0h1m-2 0h1m-2 0h1m-2 0h1m-2 0h1m-2 0h1m-2 0h1m-2 0h1m-2 0h1m-2 0h1m-2 0h1m-2 0h1m-2 0h1m-2 0h1m-2 0h1m-2 0h1m-2 0h1m-2 0h1m-2 0h1m-2 0h1m-2 0h1m-2 0h1m-2 0h1m-2 0h1m-2 0h1m-2 0h1m-2 0h1m-3 0h1m-2 0h1m-2 0h1m-2 0h1m-3 0h1m-2 0h1m-5 0h1m-104 0h1m-1 1h1m69 0h1m24 0h1m12 0h1h1h1m1 0h1h1h1h1h1h1h1h1h1h1h1h1h1h1h1h1h1h1h1h1h1h1h1h1h1h1h1h1h1h1h1h1h1h1h1h1h1h1h1h1h1h1h1h1h1m2 0h1m9 0h1m-7 1h1m-4 0h1m-3 0h1m-3 0h1m-3 0h1m-2 0h1m-2 0h1m-2 0h1m-2 0h1m-2 0h1m-2 0h1m-2 0h1m-3 0h1m-2 0h1m-2 0h1m-2 0h1m-2 0h1m-2 0h1m-2 0h1m-2 0h1m-2 0h1m-2 0h1m-2 0h1m-2 0h1m-2 0h1m-2 0h1m-2 0h1m-2 0h1m-2 0h1m-2 0h1m-2 0h1m-2 0h1m-2 0h1m-2 0h1m-2 0h1m-2 0h1m-2 0h1m-2 0h1m-2 0h1m-3 0h1m-2 0h1m-2 0h1m-2 0h1m-4 0h1m-3 0h1m-2 0h1m-2 0h1m-4 0h1m-12 0h1m-33 0h1m-62 0h1m-1 1h1m86 0h1m12 0h1m1 0h1m4 0h1h1h1h1m1 0h1h1h1h1h1h1h1h1h1h1h1h1h1h1h1h1h1h1h1h1h1h1h1h1h1h1h1h1h1h1h1h1h1h1h1m1 0h1m1 0h1h1h1h1h1m1 0h1h1m1 0h1m5 0h1m-10 1h1m-3 0h1m-2 0h1m-2 0h1m-2 0h1m-3 0h1m-2 0h1m-2 0h1m-2 0h1m-2 0h1m-2 0h1m-2 0h1m-2 0h1m-2 0h1m-2 0h1m-2 0h1m-2 0h1m-2 0h1m-2 0h1m-2 0h1m-2 0h1m-2 0h1m-2 0h1m-2 0h1m-2 0h1m-2 0h1m-2 0h1m-2 0h1m-2 0h1m-2 0h1m-2 0h1m-2 0h1m-2 0h1m-2 0h1m-2 0h1m-2 0h1m-2 0h1m-2 0h1m-2 0h1m-3 0h1m-2 0h1m-4 0h1m-2 0h1m-2 0h1m-3 0h1m-2 0h1m-4 0h1m-4 0h1m-2 0h1m-3 0h1m-2 0h1m-19 0h1m-78 0h1m-1 1h1m59 0h1m11 0h1m2 0h1m17 0h1m5 0h1h1m3 0h1m1 0h1m1 0h1h1h1h1h1h1h1h1h1h1h1h1h1h1h1h1h1h1h1h1h1h1h1h1h1h1h1h1h1h1h1h1h1h1h1h1h1h1h1h1h1h1h1h1h1m1 0h1h1h1h1m1 0h1m1 0h1m6 0h1m-4 1h1m-8 0h1m-2 0h1m-3 0h1m-2 0h1m-2 0h1m-2 0h1m-2 0h1m-3 0h1m-2 0h1m-2 0h1m-2 0h1m-2 0h1m-2 0h1m-2 0h1m-2 0h1m-2 0h1m-2 0h1m-2 0h1m-2 0h1m-2 0h1m-2 0h1m-2 0h1m-2 0h1m-2 0h1m-2 0h1m-2 0h1m-2 0h1m-2 0h1m-2 0h1m-2 0h1m-2 0h1m-2 0h1m-2 0h1m-2 0h1m-2 0h1m-2 0h1m-2 0h1m-2 0h1m-2 0h1m-2 0h1m-2 0h1m-2 0h1m-2 0h1m-2 0h1m-2 0h1m-2 0h1m-2 0h1m-2 0h1m-3 0h1m-3 0h1m-2 0h1m-3 0h1m-9 0h1m-95 0h1m-1 1h1m88 0h1m5 0h1m6 0h1m2 0h1h1h1h1h1h1h1h1h1h1h1h1h1h1h1h1h1h1h1h1h1h1h1h1h1h1h1h1h1h1h1h1h1h1h1h1h1h1h1h1h1h1h1h1m1 0h1h1h1h1m3 0h1m3 0h1m-1 1h1m-2 0h1m-8 0h1m-3 0h1m-4 0h1m-2 0h1m-2 0h1m-2 0h1m-2 0h1m-2 0h1m-2 0h1m-2 0h1m-2 0h1m-2 0h1m-2 0h1m-2 0h1m-2 0h1m-2 0h1m-2 0h1m-2 0h1m-2 0h1m-2 0h1m-2 0h1m-2 0h1m-2 0h1m-2 0h1m-2 0h1m-2 0h1m-2 0h1m-2 0h1m-2 0h1m-2 0h1m-2 0h1m-2 0h1m-2 0h1m-2 0h1m-2 0h1m-2 0h1m-2 0h1m-2 0h1m-2 0h1m-2 0h1m-2 0h1m-2 0h1m-2 0h1m-3 0h1m-3 0h1m-2 0h1m-2 0h1m-3 0h1m-14 0h1m-8 0h1m-40 0h1m-42 0h1m-1 1h1m91 0h1m8 0h1h1h1h1h1h1h1h1h1h1h1h1h1h1h1h1h1h1h1h1h1h1h1h1h1h1h1h1h1h1h1h1h1h1h1h1h1h1h1h1h1m1 0h1h1h1h1h1h1m1 0h1m1 0h1m3 0h1h1m-3 1h1m-3 0h1m-3 0h1m-3 0h1m-2 0h1m-2 0h1m-2 0h1m-2 0h1m-2 0h1m-2 0h1m-2 0h1m-2 0h1m-2 0h1m-2 0h1m-2 0h1m-2 0h1m-2 0h1m-2 0h1m-2 0h1m-2 0h1m-2 0h1m-2 0h1m-2 0h1m-2 0h1m-2 0h1m-2 0h1m-2 0h1m-2 0h1m-2 0h1m-2 0h1m-2 0h1m-2 0h1m-2 0h1m-2 0h1m-2 0h1m-2 0h1m-2 0h1m-2 0h1m-2 0h1m-2 0h1m-2 0h1m-2 0h1m-2 0h1m-2 0h1m-2 0h1m-2 0h1m-2 0h1m-2 0h1m-2 0h1m-2 0h1m-5 0h1m-6 0h1m-31 0h1m-33 0h1m-33 1h1m37 0h1m52 0h1m3 0h1m3 0h1h1h1h1h1h1h1h1h1h1h1h1h1h1h1h1h1h1h1h1h1h1h1h1h1h1h1h1h1h1h1h1h1h1h1h1h1h1h1h1h1h1h1h1h1h1h1h1m1 0h1m1 0h1m1 1h1m-3 0h1m-2 0h1m-2 0h1m-2 0h1m-2 0h1m-2 0h1m-3 0h1m-3 0h1m-2 0h1m-2 0h1m-2 0h1m-2 0h1m-2 0h1m-2 0h1m-2 0h1m-2 0h1m-2 0h1m-2 0h1m-2 0h1m-2 0h1m-2 0h1m-2 0h1m-2 0h1m-2 0h1m-2 0h1m-2 0h1m-2 0h1m-2 0h1m-2 0h1m-2 0h1m-2 0h1m-2 0h1m-2 0h1m-2 0h1m-2 0h1m-2 0h1m-2 0h1m-2 0h1m-2 0h1m-2 0h1m-2 0h1m-2 0h1m-2 0h1m-3 0h1m-2 0h1m-2 0h1m-2 0h1m-4 0h1m-5 0h1m-2 0h1m-7 0h1m-38 0h1m-51 0h1m-1 1h1m27 0h1m4 0h1m2 0h1m21 0h1m12 0h1m3 0h1m13 0h1m6 0h1m3 0h1h1h1h1h1h1h1h1h1h1h1h1h1h1h1h1h1h1h1h1h1h1h1h1h1h1h1h1h1h1h1h1h1h1h1h1h1h1h1h1h1h1h1h1h1h1h1m8 0h1m1 0h1m6 0h1m-15 1h1m-2 0h1m-2 0h1m-3 0h1m-3 0h1m-2 0h1m-2 0h1m-2 0h1m-3 0h1m-2 0h1m-2 0h1m-2 0h1m-2 0h1m-2 0h1m-2 0h1m-2 0h1m-2 0h1m-2 0h1m-2 0h1m-2 0h1m-2 0h1m-2 0h1m-2 0h1m-2 0h1m-2 0h1m-2 0h1m-2 0h1m-2 0h1m-2 0h1m-2 0h1m-2 0h1m-2 0h1m-2 0h1m-2 0h1m-2 0h1m-2 0h1m-2 0h1m-2 0h1m-2 0h1m-2 0h1m-2 0h1m-2 0h1m-2 0h1m-2 0h1m-3 0h1m-2 0h1m-2 0h1m-2 0h1m-2 0h1m-2 0h1m-8 0h1m-13 0h1m-9 0h1m-14 0h1m-9 0h1m-14 0h1m-25 0h1m-13 0h1m-1 1h1m39 0h1m19 0h1h1h1m2 0h1h1m5 0h1m1 0h1m5 0h1m1 0h1h1m4 0h1m3 0h1h1m1 0h1h1h1m1 0h1m1 0h1h1h1h1h1h1h1h1h1h1h1h1h1h1h1h1h1h1h1h1h1h1h1h1h1h1h1h1h1h1h1h1h1h1h1h1h1h1h1h1m1 0h1m2 0h1h1m7 0h1m-3 1h1m-3 0h1m-2 0h1m-4 0h1m-3 0h1m-2 0h1m-2 0h1m-2 0h1m-2 0h1m-2 0h1m-2 0h1m-2 0h1m-2 0h1m-2 0h1m-2 0h1m-2 0h1m-2 0h1m-2 0h1m-2 0h1m-2 0h1m-2 0h1m-2 0h1m-2 0h1m-2 0h1m-2 0h1m-2 0h1m-2 0h1m-2 0h1m-2 0h1m-2 0h1m-2 0h1m-2 0h1m-2 0h1m-2 0h1m-2 0h1m-2 0h1m-2 0h1m-2 0h1m-2 0h1m-2 0h1m-2 0h1m-3 0h1m-2 0h1m-2 0h1m-2 0h1m-2 0h1m-4 0h1m-2 0h1m-2 0h1m-2 0h1m-2 0h1m-6 0h1m-4 0h1m-2 0h1m-76 0h1m-12 0h1m-1 1h1m27 0h1m19 0h1m13 0h1m12 0h1m10 0h1m9 0h1m1 0h1h1m1 0h1h1h1h1h1h1h1h1h1h1h1h1h1h1h1h1h1h1h1h1h1h1h1h1h1h1h1h1h1h1h1h1h1h1h1h1m1 0h1m2 0h1h1h1m1 0h1m2 0h1m6 0h1m-11 1h1m-4 0h1m-4 0h1m-2 0h1m-2 0h1m-2 0h1m-2 0h1m-2 0h1m-2 0h1m-2 0h1m-2 0h1m-2 0h1m-2 0h1m-2 0h1m-2 0h1m-2 0h1m-2 0h1m-2 0h1m-2 0h1m-2 0h1m-2 0h1m-2 0h1m-2 0h1m-2 0h1m-2 0h1m-2 0h1m-2 0h1m-2 0h1m-2 0h1m-2 0h1m-2 0h1m-2 0h1m-2 0h1m-2 0h1m-2 0h1m-2 0h1m-2 0h1m-2 0h1m-2 0h1m-2 0h1m-2 0h1m-2 0h1m-2 0h1m-2 0h1m-2 0h1m-4 0h1m-2 0h1m-3 0h1m-4 0h1m-18 0h1m-7 0h1m-6 0h1m-12 0h1m-19 0h1m-12 0h1m-21 1h1m29 0h1m21 0h1m20 0h1m15 0h1m1 0h1m1 0h1h1h1m1 0h1h1h1h1h1h1h1h1h1h1h1h1h1h1h1h1h1h1h1h1h1h1h1h1h1h1h1h1h1h1h1h1h1h1h1h1h1h1h1h1h1h1h1m1 0h1h1m2 0h1h1m2 0h1h1m-3 1h1m-6 0h1m-2 0h1m-2 0h1m-3 0h1m-2 0h1m-2 0h1m-2 0h1m-2 0h1m-3 0h1m-2 0h1m-2 0h1m-2 0h1m-2 0h1m-2 0h1m-2 0h1m-2 0h1m-2 0h1m-2 0h1m-2 0h1m-2 0h1m-2 0h1m-2 0h1m-2 0h1m-2 0h1m-2 0h1m-2 0h1m-2 0h1m-2 0h1m-2 0h1m-2 0h1m-2 0h1m-2 0h1m-2 0h1m-2 0h1m-2 0h1m-2 0h1m-2 0h1m-2 0h1m-2 0h1m-2 0h1m-2 0h1m-2 0h1m-2 0h1m-2 0h1m-3 0h1m-3 0h1m-6 0h1m-6 0h1m-2 0h1m-4 0h1m-6 0h1m-2 0h1m-6 0h1m-2 0h1m-3 0h1m-7 0h1m-10 0h1m-2 0h1m-26 0h1m-19 0h1m-8 0h1m-1 1h1m44 0h1m6 0h1m6 0h1m2 0h1m9 0h1m9 0h1h1m1 0h1m3 0h1m2 0h1m1 0h1h1h1h1h1h1h1h1h1h1h1h1h1h1h1h1h1h1h1h1h1h1m1 0h1h1h1h1h1h1h1h1h1h1h1h1h1h1h1h1h1h1h1h1m1 0h1m4 1h1m-4 0h1m-5 0h1m-2 0h1m-2 0h1m-2 0h1m-2 0h1m-3 0h1m-2 0h1m-2 0h1m-2 0h1m-2 0h1m-2 0h1m-2 0h1m-2 0h1m-2 0h1m-2 0h1m-2 0h1m-2 0h1m-2 0h1m-2 0h1m-2 0h1m-2 0h1m-2 0h1m-2 0h1m-2 0h1m-2 0h1m-2 0h1m-2 0h1m-2 0h1m-2 0h1m-2 0h1m-2 0h1m-2 0h1m-2 0h1m-2 0h1m-2 0h1m-2 0h1m-2 0h1m-2 0h1m-2 0h1m-2 0h1m-2 0h1m-2 0h1m-2 0h1m-2 0h1m-2 0h1m-3 0h1m-2 0h1m-4 0h1m-5 0h1m-3 0h1m-8 0h1m-3 0h1m-2 0h1m-5 0h1m-4 0h1m-2 0h1m-14 0h1m-2 0h1m-31 0h1m-6 0h1m-13 0h1m-1 1h1m22 0h1m4 0h1m4 0h1m6 0h1m7 0h1m2 0h1m2 0h1m5 0h1h1m5 0h1m3 0h1m3 0h1m3 0h1m2 0h1m3 0h1h1h1h1m1 0h1m1 0h1h1h1h1m1 0h1m1 0h1m1 0h1h1h1h1m1 0h1h1h1h1h1h1h1h1h1h1h1h1h1h1h1h1h1h1h1h1h1h1h1h1h1h1h1h1m4 0h1m6 1h1m-8 0h1m-2 0h1m-5 0h1m-2 0h1m-2 0h1m-2 0h1m-2 0h1m-2 0h1m-2 0h1m-2 0h1m-2 0h1m-2 0h1m-2 0h1m-2 0h1m-2 0h1m-2 0h1m-3 0h1m-2 0h1m-2 0h1m-2 0h1m-2 0h1m-2 0h1m-2 0h1m-2 0h1m-2 0h1m-2 0h1m-2 0h1m-2 0h1m-2 0h1m-2 0h1m-3 0h1m-2 0h1m-2 0h1m-2 0h1m-2 0h1m-2 0h1m-2 0h1m-2 0h1m-2 0h1m-2 0h1m-2 0h1m-2 0h1m-3 0h1m-2 0h1m-2 0h1m-6 0h1m-5 0h1m-3 0h1m-13 0h1m-7 0h1m-6 0h1m-2 0h1m-3 0h1m-2 0h1m-5 0h1m-10 0h1m-6 0h1m-9 0h1m-26 0h1m25 1h1m16 0h1m1 0h1m6 0h1m5 0h1m1 0h1m5 0h1m8 0h1m3 0h1m1 0h1m1 0h1m1 0h1h1m1 0h1h1m1 0h1m1 0h1h1m1 0h1m1 0h1h1h1h1h1h1h1h1h1m1 0h1h1h1h1h1h1h1h1h1h1h1h1h1h1h1h1h1h1h1h1h1h1m1 0h1h1h1h1h1h1m6 0h1m7 0h1m-14 1h1m-2 0h1m-2 0h1m-4 0h1m-3 0h1m-2 0h1m-2 0h1m-3 0h1m-2 0h1m-2 0h1m-2 0h1m-2 0h1m-2 0h1m-2 0h1m-2 0h1m-2 0h1m-2 0h1m-2 0h1m-2 0h1m-2 0h1m-2 0h1m-2 0h1m-2 0h1m-2 0h1m-2 0h1m-2 0h1m-2 0h1m-2 0h1m-2 0h1m-2 0h1m-2 0h1m-2 0h1m-2 0h1m-2 0h1m-2 0h1m-2 0h1m-3 0h1m-2 0h1m-2 0h1m-2 0h1m-2 0h1m-2 0h1m-2 0h1m-2 0h1m-2 0h1m-5 0h1m-5 0h1m-8 0h1m-4 0h1m-14 0h1m-3 0h1m-12 0h1m-25 0h1m-22 0h1m-1 1h1m25 0h1m6 0h1m1 0h1m4 0h1h1m4 0h1m4 0h1h1m1 0h1m1 0h1h1h1m8 0h1m2 0h1h1m2 0h1m5 0h1m5 0h1h1h1m2 0h1h1h1h1m1 0h1h1h1h1m1 0h1h1h1h1m1 0h1h1h1h1h1h1h1h1h1h1h1h1h1h1h1h1h1h1h1h1h1h1h1h1h1h1m2 0h1m3 0h1h1m-7 1h1m-3 0h1m-2 0h1m-2 0h1m-3 0h1m-2 0h1m-2 0h1m-3 0h1m-2 0h1m-2 0h1m-2 0h1m-2 0h1m-2 0h1m-2 0h1m-2 0h1m-2 0h1m-2 0h1m-2 0h1m-2 0h1m-2 0h1m-2 0h1m-2 0h1m-2 0h1m-2 0h1m-2 0h1m-2 0h1m-2 0h1m-2 0h1m-2 0h1m-2 0h1m-2 0h1m-3 0h1m-3 0h1m-2 0h1m-2 0h1m-3 0h1m-2 0h1m-4 0h1m-6 0h1m-2 0h1m-2 0h1m-2 0h1m-3 0h1m-2 0h1m-5 0h1m-2 0h1m-2 0h1m-7 0h1m-6 0h1m-3 0h1m-4 0h1m-5 0h1m-2 0h1m-8 0h1m-2 0h1m-6 0h1m-3 0h1m-6 0h1m-17 0h1m-15 0h1m-1 1h1m2 0h1m10 0h1m2 0h1m5 0h1h1m4 0h1m2 0h1m3 0h1h1h1h1m2 0h1m1 0h1h1m8 0h1m2 0h1h1h1m2 0h1m1 0h1m2 0h1m2 0h1m3 0h1m4 0h1h1h1m1 0h1h1m1 0h1h1h1h1h1h1h1h1h1h1m1 0h1h1h1h1h1h1h1h1h1h1h1h1h1h1h1h1h1h1m1 0h1h1h1h1h1h1h1h1h1h1h1h1h1h1m1 0h1m1 0h1m9 0h1m-10 1h1m-3 0h1m-3 0h1m-2 0h1m-5 0h1m-2 0h1m-2 0h1m-2 0h1m-2 0h1m-2 0h1m-2 0h1m-2 0h1m-2 0h1m-2 0h1m-2 0h1m-2 0h1m-2 0h1m-2 0h1m-2 0h1m-2 0h1m-2 0h1m-2 0h1m-2 0h1m-2 0h1m-2 0h1m-2 0h1m-2 0h1m-2 0h1m-3 0h1m-2 0h1m-2 0h1m-2 0h1m-3 0h1m-2 0h1m-4 0h1m-2 0h1m-2 0h1m-2 0h1m-3 0h1m-3 0h1m-8 0h1m-6 0h1m-3 0h1m-5 0h1m-3 0h1m-2 0h1m-2 0h1m-4 0h1m-3 0h1m-4 0h1m-3 0h1m-5 0h1m-2 0h1m-2 0h1m-5 0h1m-6 0h1m-2 0h1m-3 0h1m-19 0h1m-16 0h1m-2 0h1m-1 1h1m8 0h1m10 0h1h1m9 0h1h1m4 0h1m5 0h1h1m4 0h1m8 0h1m3 0h1m5 0h1m1 0h1m7 0h1m4 0h1h1m2 0h1h1h1m1 0h1h1m1 0h1m1 0h1h1h1h1h1h1m1 0h1h1h1h1h1h1h1h1h1h1h1h1h1h1h1h1h1h1h1h1m1 0h1m1 0h1m1 0h1m12 0h1m-11 1h1m-2 0h1m-3 0h1m-3 0h1m-2 0h1m-3 0h1m-2 0h1m-2 0h1m-2 0h1m-2 0h1m-3 0h1m-3 0h1m-2 0h1m-2 0h1m-2 0h1m-2 0h1m-2 0h1m-2 0h1m-3 0h1m-2 0h1m-2 0h1m-2 0h1m-2 0h1m-2 0h1m-2 0h1m-2 0h1m-2 0h1m-2 0h1m-2 0h1m-2 0h1m-2 0h1m-2 0h1m-2 0h1m-3 0h1m-6 0h1m-4 0h1m-2 0h1m-3 0h1m-2 0h1m-4 0h1m-5 0h1m-7 0h1m-3 0h1m-5 0h1m-3 0h1m-2 0h1m-8 0h1m-12 0h1m-3 0h1m-8 0h1m-3 0h1m-2 0h1m-28 0h1m-1 1h1m9 0h1h1m8 0h1m5 0h1h1m3 0h1m3 0h1m2 0h1m1 0h1m7 0h1h1m2 0h1m2 0h1h1h1h1h1h1m3 0h1h1h1h1m3 0h1h1m1 0h1m1 0h1m2 0h1m3 0h1h1h1h1h1h1h1m1 0h1h1h1h1h1h1m1 0h1h1m1 0h1h1h1m1 0h1h1m1 0h1h1h1h1h1m1 0h1h1h1m1 0h1h1h1h1h1m3 0h1h1h1m2 1h1m-9 0h1m-3 0h1m-2 0h1m-2 0h1m-3 0h1m-3 0h1m-2 0h1m-2 0h1m-3 0h1m-2 0h1m-2 0h1m-2 0h1m-2 0h1m-2 0h1m-2 0h1m-2 0h1m-2 0h1m-2 0h1m-2 0h1m-3 0h1m-2 0h1m-2 0h1m-2 0h1m-2 0h1m-2 0h1m-2 0h1m-2 0h1m-3 0h1m-4 0h1m-4 0h1m-2 0h1m-4 0h1m-4 0h1m-4 0h1m-8 0h1m-2 0h1m-2 0h1m-7 0h1m-4 0h1m-2 0h1m-3 0h1m-5 0h1m-4 0h1m-2 0h1m-2 0h1m-6 0h1m-2 0h1m-2 0h1m-10 0h1m-6 0h1m-4 0h1m-4 0h1m-6 0h1m-13 0h1m-1 1h1m11 0h1m3 0h1m1 0h1m5 0h1m2 0h1m2 0h1m2 0h1m7 0h1m1 0h1m3 0h1m2 0h1m2 0h1m1 0h1m6 0h1m1 0h1m1 0h1m1 0h1h1m1 0h1h1m8 0h1h1h1m3 0h1m2 0h1m1 0h1h1h1h1h1m1 0h1h1h1h1h1h1h1h1h1h1h1h1h1h1h1h1h1h1m6 0h1h1h1h1h1m9 1h1m-14 0h1m-3 0h1m-4 0h1m-3 0h1m-2 0h1m-4 0h1m-2 0h1m-2 0h1m-2 0h1m-2 0h1m-2 0h1m-2 0h1m-2 0h1m-2 0h1m-2 0h1m-2 0h1m-2 0h1m-2 0h1m-3 0h1m-2 0h1m-2 0h1m-2 0h1m-2 0h1m-2 0h1m-3 0h1m-2 0h1m-2 0h1m-2 0h1m-3 0h1m-2 0h1m-2 0h1m-2 0h1m-2 0h1m-2 0h1m-7 0h1m-7 0h1m-5 0h1m-2 0h1m-7 0h1m-3 0h1m-3 0h1m-4 0h1m-2 0h1m-3 0h1m-2 0h1m-9 0h1m-2 0h1m-18 0h1m-7 0h1m-16 0h1m-1 1h1m12 0h1h1h1m15 0h1h1h1m9 0h1m4 0h1m5 0h1m4 0h1m2 0h1m2 0h1m2 0h1m7 0h1h1h1h1m1 0h1m2 0h1h1m1 0h1m2 0h1h1h1m2 0h1h1h1h1h1h1h1h1m3 0h1m1 0h1m1 0h1m1 0h1m3 0h1m1 0h1m1 0h1h1m3 0h1m6 1h1m-7 0h1m-2 0h1m-4 0h1m-3 0h1m-2 0h1m-2 0h1m-3 0h1m-5 0h1m-3 0h1m-3 0h1m-2 0h1m-2 0h1m-3 0h1m-2 0h1m-4 0h1m-2 0h1m-2 0h1m-2 0h1m-3 0h1m-2 0h1m-3 0h1m-2 0h1m-2 0h1m-2 0h1m-2 0h1m-3 0h1m-2 0h1m-2 0h1m-2 0h1m-3 0h1m-2 0h1m-2 0h1m-4 0h1m-12 0h1m-2 0h1m-4 0h1m-5 0h1m-5 0h1m-3 0h1m-5 0h1m-2 0h1m-2 0h1m-3 0h1m-5 0h1m-13 0h1m-3 0h1m-2 0h1m-3 0h1m-2 0h1m-5 0h1m-3 0h1m-4 0h1m-3 0h1m-10 0h1m-2 0h1m-1 1h1m2 0h1m14 0h1m2 0h1m3 0h1m5 0h1m1 0h1m4 0h1m3 0h1m4 0h1h1m4 0h1m2 0h1m6 0h1h1m8 0h1m4 0h1h1h1m1 0h1m1 0h1m3 0h1m1 0h1m2 0h1h1m2 0h1h1h1m3 0h1h1h1h1h1h1h1h1h1m1 0h1m2 0h1m1 0h1h1h1m1 0h1m-8 1h1m-4 0h1m-3 0h1m-4 0h1m-2 0h1m-2 0h1m-2 0h1m-2 0h1m-3 0h1m-2 0h1m-2 0h1m-2 0h1m-2 0h1m-2 0h1m-3 0h1m-2 0h1m-4 0h1m-4 0h1m-2 0h1m-2 0h1m-3 0h1m-2 0h1m-6 0h1m-2 0h1m-4 0h1m-3 0h1m-8 0h1m-6 0h1m-2 0h1m-2 0h1m-3 0h1m-3 0h1m-4 0h1m-6 0h1m-4 0h1m-6 0h1m-6 0h1m-9 0h1m-11 0h1m-2 0h1m-2 0h1m-6 0h1m-7 0h1m-2 0h1m-1 1h1m1 0h1m5 0h1m1 0h1m8 0h1m1 0h1m2 0h1m1 0h1h1m7 0h1m2 0h1h1m4 0h1m4 0h1m2 0h1m2 0h1m2 0h1m1 0h1m2 0h1m2 0h1m2 0h1h1m2 0h1m4 0h1m2 0h1m1 0h1h1m1 0h1h1m2 0h1h1h1h1m3 0h1m1 0h1h1m12 0h1m2 0h1h1m6 1h1m-12 0h1m-5 0h1m-4 0h1m-4 0h1m-6 0h1m-2 0h1m-2 0h1m-3 0h1m-2 0h1m-2 0h1m-3 0h1m-2 0h1m-3 0h1m-2 0h1m-4 0h1m-2 0h1m-2 0h1m-3 0h1m-2 0h1m-2 0h1m-5 0h1m-4 0h1m-3 0h1m-2 0h1m-3 0h1m-6 0h1m-4 0h1m-6 0h1m-6 0h1m-8 0h1m-5 0h1m-2 0h1m-6 0h1m-2 0h1m-9 0h1m-5 0h1m-2 0h1m-3 0h1m-15 0h1m-1 1h1m8 0h1m19 0h1m6 0h1m8 0h1h1m8 0h1m6 0h1m2 0h1h1m4 0h1m1 0h1m2 0h1m3 0h1m2 0h1m1 0h1h1m1 0h1h1m1 0h1m2 0h1h1m2 0h1m6 0h1m1 0h1m3 0h1h1m12 0h1m-8 1h1m-6 0h1m-5 0h1m-5 0h1m-5 0h1m-2 0h1m-2 0h1m-6 0h1m-2 0h1m-6 0h1m-5 0h1m-2 0h1m-3 0h1m-4 0h1m-5 0h1m-3 0h1m-2 0h1m-4 0h1m-3 0h1m-2 0h1m-3 0h1m-2 0h1m-4 0h1m-2 0h1m-3 0h1m-5 0h1m-8 0h1m-5 0h1m-8 0h1m-15 0h1m-8 0h1m-12 0h1m-3 0h1m-1 1h1m7 0h1m5 0h1h1m6 0h1m16 0h1m4 0h1m8 0h1m2 0h1m1 0h1m7 0h1m3 0h1m10 0h1m10 0h1m2 0h1h1h1h1h1m2 0h1m8 0h1m8 0h1m6 1h1m-14 0h1m-5 0h1m-6 0h1m-2 0h1m-7 0h1m-2 0h1m-2 0h1m-3 0h1m-4 0h1m-4 0h1m-7 0h1m-2 0h1m-5 0h1m-6 0h1m-3 0h1m-2 0h1m-2 0h1m-9 0h1m-6 0h1m-2 0h1m-2 0h1m-5 0h1m-2 0h1m-4 0h1m-6 0h1m-6 0h1m-4 0h1m-6 0h1m-7 0h1m-3 0h1m-9 0h1m-4 0h1m-9 0h1m17 1h1m1 0h1m14 0h1h1m1 0h1m1 0h1m1 0h1m3 0h1h1m7 0h1m3 0h1m16 0h1m2 0h1m8 0h1h1m4 0h1h1h1m3 0h1h1m3 0h1m8 0h1m3 0h1m0 1h1m-10 0h1m-7 0h1m-2 0h1m-4 0h1m-2 0h1m-5 0h1m-2 0h1m-2 0h1m-2 0h1m-3 0h1m-3 0h1m-4 0h1m-16 0h1m-2 0h1m-4 0h1m-2 0h1m-3 0h1m-9 0h1m-3 0h1m-2 0h1m-6 0h1m-2 0h1m-4 0h1m-7 0h1m-5 0h1m-12 0h1m-9 0h1m-13 0h1m-3 0h1m13 1h1m3 0h1h1h1m7 0h1m5 0h1m3 0h1m2 0h1m12 0h1m3 0h1m9 0h1m9 0h1h1m3 0h1m1 0h1h1m2 0h1m1 0h1m1 0h1m4 0h1m4 0h1m1 0h1m-3 1h1m-9 0h1m-7 0h1m-2 0h1m-3 0h1m-9 0h1m-4 0h1m-11 0h1m-3 0h1m-4 0h1m-3 0h1m-14 0h1m-2 0h1m-2 0h1m-10 0h1m-4 0h1m-3 0h1m-5 0h1m-8 0h1m-18 0h1m-2 0h1m-1 1h1m2 0h1m11 0h1m3 0h1m9 0h1m3 0h1m2 0h1m2 0h1m10 0h1m4 0h1m3 0h1h1m1 0h1m10 0h1h1m1 0h1h1m13 0h1m1 0h1m3 0h1m11 0h1m-4 1h1m-34 0h1m-5 0h1m-4 0h1m-14 0h1m-11 0h1m-5 0h1m-4 0h1m-18 0h1m-16 1h1m20 0h1h1m2 0h1m1 0h1m12 0h1m2 0h1m2 0h1m1 0h1h1m1 0h1m7 0h1m6 0h1m24 0h1h1m-1 1h1m-29 0h1m-6 0h1m-3 0h1m-2 0h1m-8 0h1m-3 0h1m-8 0h1m-7 0h1m-2 0h1m-3 0h1m-10 0h1m-5 0h1m-12 0h1m-12 0h1m-1 1h1m1 0h1m1 0h1m26 0h1h1m8 0h1m25 0h1m14 0h1m7 0h1m8 1h1m-13 0h1m-4 0h1m-4 0h1m-12 0h1m-9 0h1m-3 0h1m-20 0h1m-13 0h1m-11 0h1m-20 0h1m28 1h1m2 0h1m8 0h1m14 0h1m10 0h1m17 1h1m-2 0h1m-13 0h1m-7 0h1m-21 0h1m-30 1h1m8 0h1m17 0h1m19 0h1m45 0h1m-21 2h1m-12 0h1m-47 0h1m-24 0h1m-11 1h1m79 0h1m13 0h1m5 0h1m-17 2h1m-22 0h1m-30 0h1m-19 0h1m13 1h1m24 0h1m7 0h1m13 1h1m-5 0h1m-10 1h1m-4 1h1m-24 0h1m5 3h1m35 0h1m-56 4h1" stroke="#2a56a3" stroke-width="1" fill="none"/>
<path transform="scale(2)" d="M896 853h1m-15 5h1m-16 1h1m3 0h1m5 0h1m10 0h1m5 2h1m-15 2h1m14 2h1m-13 2h1m10 1h1m-4 0h1m-5 0h1m-23 0h1m36 1h1m-20 1h1m-6 1h1m-26 1h1m22 1h1m7 0h1m-4 1h1m5 1h1m-13 1h1m-24 0h1m15 1h1m9 0h1m4 1h1m-34 0h1m33 3h1m-12 1h1m-12 1h1m24 0h1m2 1h1m-5 0h1m-3 0h1m-32 0h1m5 1h1m6 0h1m7 3h1m-11 0h1m-3 1h1m12 2h1m-18 1h1m-8 1h1m-5 0h1m5 3h1h1m18 1h1m-9 0h1m-10 0h1m7 1h1m-10 1h1m-19 1h1m0 3h1m-15 0h1m13 1h1m-16 17h1m-8 2h1" stroke="#df2a2e" stroke-width="1" fill="none"/>
<path d="M451.5 636.6L997.0 146.8" stroke="#e05a5a" stroke-width="2.2" stroke-dasharray="10 10" fill="none"/>
<path d="M1419.0 634.8L1964.0 145.7" stroke="#e05a5a" stroke-width="2.2" stroke-dasharray="10 10" fill="none"/>
<path d="M452.1 1307.1L998.0 816.8" stroke="#e05a5a" stroke-width="2.2" stroke-dasharray="10 10" fill="none"/>
<path d="M1416.5 1304.1L1959.4 816.8" stroke="#e05a5a" stroke-width="2.2" stroke-dasharray="10 10" fill="none"/>
<path d="M427.1 2051.5L986.6 1552.1" stroke="#e05a5a" stroke-width="2.2" stroke-dasharray="10 10" fill="none"/>
<path d="M1416.5 2045.2L1964.0 1556.7" stroke="#e05a5a" stroke-width="2.2" stroke-dasharray="10 10" fill="none"/>
<path d="M509.9 636.6H991.1M509.9 636.6v10M630.4 636.6v10M750.8 636.6v10M871.6 636.6v10M991.1 636.6v10M451.5 151.0V583.8M451.5 151.0h-10M451.5 259.6h-10M451.5 368.0h-10M451.5 475.3h-10M451.5 583.8h-10" stroke="#1c1a1b" stroke-width="2" fill="none"/>
<text x="505.4" y="673.8" text-anchor="middle" font-size="32.4" fill="#1c1a1b" stroke="#1c1a1b" stroke-width="0.65">−25</text>
<text x="625.9" y="673.8" text-anchor="middle" font-size="32.4" fill="#1c1a1b" stroke="#1c1a1b" stroke-width="0.65">−20</text>
<text x="746.3" y="673.8" text-anchor="middle" font-size="32.4" fill="#1c1a1b" stroke="#1c1a1b" stroke-width="0.65">−15</text>
<text x="867.1" y="673.8" text-anchor="middle" font-size="32.4" fill="#1c1a1b" stroke="#1c1a1b" stroke-width="0.65">−10</text>
<text x="982.1" y="673.8" text-anchor="middle" font-size="32.4" fill="#1c1a1b" stroke="#1c1a1b" stroke-width="0.65">−5</text>
<text transform="translate(428.7,157.5) rotate(-90)" text-anchor="middle" font-size="32.4" fill="#1c1a1b" stroke="#1c1a1b" stroke-width="0.65">−5</text>
<text transform="translate(428.7,261.6) rotate(-90)" text-anchor="middle" font-size="32.4" fill="#1c1a1b" stroke="#1c1a1b" stroke-width="0.65">−10</text>
<text transform="translate(428.7,370.0) rotate(-90)" text-anchor="middle" font-size="32.4" fill="#1c1a1b" stroke="#1c1a1b" stroke-width="0.65">−15</text>
<text transform="translate(428.7,477.3) rotate(-90)" text-anchor="middle" font-size="32.4" fill="#1c1a1b" stroke="#1c1a1b" stroke-width="0.65">−20</text>
<text transform="translate(428.7,585.8) rotate(-90)" text-anchor="middle" font-size="32.4" fill="#1c1a1b" stroke="#1c1a1b" stroke-width="0.65">−25</text>
<path d="M1423.3 634.8H1956.5M1423.3 634.8v10M1530.5 634.8v10M1637.2 634.8v10M1744.4 634.8v10M1850.4 634.8v10M1956.5 634.8v10M1419.0 153.0V630.1M1419.0 153.0h-10M1419.0 248.9h-10M1419.0 344.6h-10M1419.0 440.3h-10M1419.0 534.6h-10M1419.0 630.1h-10" stroke="#1c1a1b" stroke-width="2" fill="none"/>
<text x="1418.8" y="675.5" text-anchor="middle" font-size="32.4" fill="#1c1a1b" stroke="#1c1a1b" stroke-width="0.65">−30</text>
<text x="1526.0" y="675.5" text-anchor="middle" font-size="32.4" fill="#1c1a1b" stroke="#1c1a1b" stroke-width="0.65">−25</text>
<text x="1632.7" y="675.5" text-anchor="middle" font-size="32.4" fill="#1c1a1b" stroke="#1c1a1b" stroke-width="0.65">−20</text>
<text x="1739.9" y="675.5" text-anchor="middle" font-size="32.4" fill="#1c1a1b" stroke="#1c1a1b" stroke-width="0.65">−15</text>
<text x="1845.9" y="675.5" text-anchor="middle" font-size="32.4" fill="#1c1a1b" stroke="#1c1a1b" stroke-width="0.65">−10</text>
<text x="1947.5" y="675.5" text-anchor="middle" font-size="32.4" fill="#1c1a1b" stroke="#1c1a1b" stroke-width="0.65">−5</text>
<text transform="translate(1394.4,159.5) rotate(-90)" text-anchor="middle" font-size="32.4" fill="#1c1a1b" stroke="#1c1a1b" stroke-width="0.65">−5</text>
<text transform="translate(1394.4,250.9) rotate(-90)" text-anchor="middle" font-size="32.4" fill="#1c1a1b" stroke="#1c1a1b" stroke-width="0.65">−10</text>
<text transform="translate(1394.4,346.6) rotate(-90)" text-anchor="middle" font-size="32.4" fill="#1c1a1b" stroke="#1c1a1b" stroke-width="0.65">−15</text>
<text transform="translate(1394.4,442.3) rotate(-90)" text-anchor="middle" font-size="32.4" fill="#1c1a1b" stroke="#1c1a1b" stroke-width="0.65">−20</text>
<text transform="translate(1394.4,536.6) rotate(-90)" text-anchor="middle" font-size="32.4" fill="#1c1a1b" stroke="#1c1a1b" stroke-width="0.65">−25</text>
<text transform="translate(1394.4,632.1) rotate(-90)" text-anchor="middle" font-size="32.4" fill="#1c1a1b" stroke="#1c1a1b" stroke-width="0.65">−30</text>
<path d="M508.1 1307.1H966.2M508.1 1307.1v10M622.9 1307.1v10M737.1 1307.1v10M852.0 1307.1v10M966.2 1307.1v10M452.1 846.1V1256.1M452.1 846.1h-10M452.1 948.9h-10M452.1 1052.2h-10M452.1 1153.2h-10M452.1 1256.1h-10" stroke="#1c1a1b" stroke-width="2" fill="none"/>
<text x="503.6" y="1351.3" text-anchor="middle" font-size="32.4" fill="#1c1a1b" stroke="#1c1a1b" stroke-width="0.65">−25</text>
<text x="618.4" y="1351.3" text-anchor="middle" font-size="32.4" fill="#1c1a1b" stroke="#1c1a1b" stroke-width="0.65">−20</text>
<text x="732.6" y="1351.3" text-anchor="middle" font-size="32.4" fill="#1c1a1b" stroke="#1c1a1b" stroke-width="0.65">−15</text>
<text x="847.5" y="1351.3" text-anchor="middle" font-size="32.4" fill="#1c1a1b" stroke="#1c1a1b" stroke-width="0.65">−10</text>
<text x="957.2" y="1351.3" text-anchor="middle" font-size="32.4" fill="#1c1a1b" stroke="#1c1a1b" stroke-width="0.65">−5</text>
<text transform="translate(430.5,848.1) rotate(-90)" text-anchor="middle" font-size="32.4" fill="#1c1a1b" stroke="#1c1a1b" stroke-width="0.65">−10</text>
<text transform="translate(430.5,955.4) rotate(-90)" text-anchor="middle" font-size="32.4" fill="#1c1a1b" stroke="#1c1a1b" stroke-width="0.65">−5</text>
<text transform="translate(430.5,1054.2) rotate(-90)" text-anchor="middle" font-size="32.4" fill="#1c1a1b" stroke="#1c1a1b" stroke-width="0.65">−15</text>
<text transform="translate(430.5,1155.2) rotate(-90)" text-anchor="middle" font-size="32.4" fill="#1c1a1b" stroke="#1c1a1b" stroke-width="0.65">−20</text>
<text transform="translate(430.5,1258.1) rotate(-90)" text-anchor="middle" font-size="32.4" fill="#1c1a1b" stroke="#1c1a1b" stroke-width="0.65">−25</text>
<path d="M1515.8 1304.1H1931.2M1515.8 1304.1v10M1619.7 1304.1v10M1724.2 1304.1v10M1828.8 1304.1v10M1931.2 1304.1v10M1416.5 843.0V1213.9M1416.5 843.0h-10M1416.5 936.0h-10M1416.5 1028.8h-10M1416.5 1122.7h-10M1416.5 1213.9h-10" stroke="#1c1a1b" stroke-width="2" fill="none"/>
<text x="1511.3" y="1351.3" text-anchor="middle" font-size="32.4" fill="#1c1a1b" stroke="#1c1a1b" stroke-width="0.65">−25</text>
<text x="1615.2" y="1351.3" text-anchor="middle" font-size="32.4" fill="#1c1a1b" stroke="#1c1a1b" stroke-width="0.65">−20</text>
<text x="1719.7" y="1351.3" text-anchor="middle" font-size="32.4" fill="#1c1a1b" stroke="#1c1a1b" stroke-width="0.65">−15</text>
<text x="1824.3" y="1351.3" text-anchor="middle" font-size="32.4" fill="#1c1a1b" stroke="#1c1a1b" stroke-width="0.65">−10</text>
<text x="1922.2" y="1351.3" text-anchor="middle" font-size="32.4" fill="#1c1a1b" stroke="#1c1a1b" stroke-width="0.65">−5</text>
<text transform="translate(1394.6,845.0) rotate(-90)" text-anchor="middle" font-size="32.4" fill="#1c1a1b" stroke="#1c1a1b" stroke-width="0.65">−10</text>
<text transform="translate(1394.6,942.5) rotate(-90)" text-anchor="middle" font-size="32.4" fill="#1c1a1b" stroke="#1c1a1b" stroke-width="0.65">−5</text>
<text transform="translate(1394.6,1030.8) rotate(-90)" text-anchor="middle" font-size="32.4" fill="#1c1a1b" stroke="#1c1a1b" stroke-width="0.65">−15</text>
<text transform="translate(1394.6,1124.7) rotate(-90)" text-anchor="middle" font-size="32.4" fill="#1c1a1b" stroke="#1c1a1b" stroke-width="0.65">−20</text>
<text transform="translate(1394.6,1215.9) rotate(-90)" text-anchor="middle" font-size="32.4" fill="#1c1a1b" stroke="#1c1a1b" stroke-width="0.65">−25</text>
<path d="M485.5 2051.5H962.3M485.5 2051.5v10M605.0 2051.5v10M724.1 2051.5v10M842.9 2051.5v10M962.3 2051.5v10M427.1 1571.8V1998.7M427.1 1571.8h-10M427.1 1679.6h-10M427.1 1786.8h-10M427.1 1891.6h-10M427.1 1998.7h-10" stroke="#1c1a1b" stroke-width="2" fill="none"/>
<text x="481.0" y="2094.7" text-anchor="middle" font-size="32.4" fill="#1c1a1b" stroke="#1c1a1b" stroke-width="0.65">−25</text>
<text x="600.5" y="2094.7" text-anchor="middle" font-size="32.4" fill="#1c1a1b" stroke="#1c1a1b" stroke-width="0.65">−20</text>
<text x="719.6" y="2094.7" text-anchor="middle" font-size="32.4" fill="#1c1a1b" stroke="#1c1a1b" stroke-width="0.65">−15</text>
<text x="838.4" y="2094.7" text-anchor="middle" font-size="32.4" fill="#1c1a1b" stroke="#1c1a1b" stroke-width="0.65">−10</text>
<text x="953.3" y="2094.7" text-anchor="middle" font-size="32.4" fill="#1c1a1b" stroke="#1c1a1b" stroke-width="0.65">−5</text>
<text transform="translate(405.5,1578.3) rotate(-90)" text-anchor="middle" font-size="32.4" fill="#1c1a1b" stroke="#1c1a1b" stroke-width="0.65">−5</text>
<text transform="translate(405.5,1681.6) rotate(-90)" text-anchor="middle" font-size="32.4" fill="#1c1a1b" stroke="#1c1a1b" stroke-width="0.65">−10</text>
<text transform="translate(405.5,1788.8) rotate(-90)" text-anchor="middle" font-size="32.4" fill="#1c1a1b" stroke="#1c1a1b" stroke-width="0.65">−15</text>
<text transform="translate(405.5,1893.6) rotate(-90)" text-anchor="middle" font-size="32.4" fill="#1c1a1b" stroke="#1c1a1b" stroke-width="0.65">−20</text>
<text transform="translate(405.5,2000.7) rotate(-90)" text-anchor="middle" font-size="32.4" fill="#1c1a1b" stroke="#1c1a1b" stroke-width="0.65">−25</text>
<path d="M1503.5 2045.2H1932.7M1503.5 2045.2v10M1611.0 2045.2v10M1718.4 2045.2v10M1825.5 2045.2v10M1932.7 2045.2v10M1416.5 1581.6V1967.1M1416.5 1581.6h-10M1416.5 1678.1h-10M1416.5 1774.4h-10M1416.5 1871.0h-10M1416.5 1967.1h-10" stroke="#1c1a1b" stroke-width="2" fill="none"/>
<text x="1499.0" y="2084.7" text-anchor="middle" font-size="32.4" fill="#1c1a1b" stroke="#1c1a1b" stroke-width="0.65">−25</text>
<text x="1606.5" y="2084.7" text-anchor="middle" font-size="32.4" fill="#1c1a1b" stroke="#1c1a1b" stroke-width="0.65">−20</text>
<text x="1713.9" y="2084.7" text-anchor="middle" font-size="32.4" fill="#1c1a1b" stroke="#1c1a1b" stroke-width="0.65">−15</text>
<text x="1821.0" y="2084.7" text-anchor="middle" font-size="32.4" fill="#1c1a1b" stroke="#1c1a1b" stroke-width="0.65">−10</text>
<text x="1923.7" y="2084.7" text-anchor="middle" font-size="32.4" fill="#1c1a1b" stroke="#1c1a1b" stroke-width="0.65">−5</text>
<text transform="translate(1394.6,1588.1) rotate(-90)" text-anchor="middle" font-size="32.4" fill="#1c1a1b" stroke="#1c1a1b" stroke-width="0.65">−5</text>
<text transform="translate(1394.6,1680.1) rotate(-90)" text-anchor="middle" font-size="32.4" fill="#1c1a1b" stroke="#1c1a1b" stroke-width="0.65">−10</text>
<text transform="translate(1394.6,1776.4) rotate(-90)" text-anchor="middle" font-size="32.4" fill="#1c1a1b" stroke="#1c1a1b" stroke-width="0.65">−15</text>
<text transform="translate(1394.6,1873.0) rotate(-90)" text-anchor="middle" font-size="32.4" fill="#1c1a1b" stroke="#1c1a1b" stroke-width="0.65">−20</text>
<text transform="translate(1394.6,1969.1) rotate(-90)" text-anchor="middle" font-size="32.4" fill="#1c1a1b" stroke="#1c1a1b" stroke-width="0.65">−25</text>
<text x="423.2" y="44.8" font-size="51.4" font-weight="bold" fill="#1c1a1b" stroke="#1c1a1b" stroke-width="0.35">scRNA-seq reference φ</text>
<text x="1460.2" y="38.0" font-size="51.4" font-weight="bold" fill="#1c1a1b" stroke="#1c1a1b" stroke-width="0.35">updated reference ψ</text>
<text x="49.8" y="377.7" font-size="36.7" fill="#1c1a1b" stroke="#1c1a1b" stroke-width="0.65">Macrophage</text>
<text x="-3.1" y="1097.1" font-size="36.7" fill="#1c1a1b" stroke="#1c1a1b" stroke-width="0.65">Oligodendrocyte</text>
<text x="113.0" y="1784.2" font-size="36.7" fill="#1c1a1b" stroke="#1c1a1b" stroke-width="0.65">T cell</text>
<text x="1070.6" y="2248.2" font-size="44" fill="#e0262c" stroke="#e0262c" stroke-width="0.65">Red: genes with zero count in the reference φ</text>
<text x="1070.6" y="2297.9" font-size="44" fill="#2a56a3" stroke="#2a56a3" stroke-width="0.65">Blue: genes with one or more count in the reference φ</text>
<text x="399.6" y="738.0" font-size="34.8" fill="#1c1a1b" stroke="#1c1a1b" stroke-width="0.65">log2(adjusted true expression of psuedo-bulk)</text>
<text x="1377.6" y="738.1" font-size="34.8" fill="#1c1a1b" stroke="#1c1a1b" stroke-width="0.65">log2(adjusted true expression of psuedo-bulk)</text>
<text x="401.6" y="1455.4" font-size="34.8" fill="#1c1a1b" stroke="#1c1a1b" stroke-width="0.65">log2(adjusted true expression of psuedo-bulk)</text>
<text x="1380.4" y="1455.4" font-size="34.8" fill="#1c1a1b" stroke="#1c1a1b" stroke-width="0.65">log2(adjusted true expression of psuedo-bulk)</text>
<text x="400.8" y="2163.4" font-size="34.8" fill="#1c1a1b" stroke="#1c1a1b" stroke-width="0.65">log2(adjusted true expression of psuedo-bulk)</text>
<text x="1380.0" y="2165.0" font-size="34.8" fill="#1c1a1b" stroke="#1c1a1b" stroke-width="0.65">log2(adjusted true expression of psuedo-bulk)</text>
<text transform="translate(315.2,365.6) rotate(-90)" text-anchor="middle" font-size="34.8" fill="#1c1a1b" stroke="#1c1a1b" stroke-width="0.65">log2(adjusted expression of φ)</text>
<text transform="translate(1296.0,369.2) rotate(-90)" text-anchor="middle" font-size="34.8" fill="#1c1a1b" stroke="#1c1a1b" stroke-width="0.65">log2(adjusted expression of ψ)</text>
<text transform="translate(327.5,1082.2) rotate(-90)" text-anchor="middle" font-size="34.8" fill="#1c1a1b" stroke="#1c1a1b" stroke-width="0.65">log2(adjusted expression of φ)</text>
<text transform="translate(1308.7,1080.8) rotate(-90)" text-anchor="middle" font-size="34.8" fill="#1c1a1b" stroke="#1c1a1b" stroke-width="0.65">log2(adjusted expression of ψ)</text>
<text transform="translate(334.6,1775.8) rotate(-90)" text-anchor="middle" font-size="34.8" fill="#1c1a1b" stroke="#1c1a1b" stroke-width="0.65">log2(adjusted expression of φ)</text>
<text transform="translate(1300.4,1814.7) rotate(-90)" text-anchor="middle" font-size="34.8" fill="#1c1a1b" stroke="#1c1a1b" stroke-width="0.65">log2(adjusted expression of ψ)</text>
<text x="819.7" y="442.6" font-size="32.5" fill="#1c1a1b" stroke="#1c1a1b" stroke-width="0.65">R=0.816</text>
<text x="814.9" y="487.7" font-size="32.5" fill="#1c1a1b" stroke="#1c1a1b" stroke-width="0.65">ρ=0.856</text>
<text x="812.8" y="532.5" font-size="32.5" fill="#1c1a1b" stroke="#1c1a1b" stroke-width="0.65">MSE=7.92</text>
<text x="1786.6" y="442.2" font-size="32.5" fill="#1c1a1b" stroke="#1c1a1b" stroke-width="0.65">R=0.917</text>
<text x="1782.0" y="487.7" font-size="32.5" fill="#1c1a1b" stroke="#1c1a1b" stroke-width="0.65">ρ=0.957</text>
<text x="1784.0" y="532.0" font-size="32.5" fill="#1c1a1b" stroke="#1c1a1b" stroke-width="0.65">MSE=3.7</text>
<text x="819.7" y="1114.5" font-size="32.5" fill="#1c1a1b" stroke="#1c1a1b" stroke-width="0.65">R=0.774</text>
<text x="814.5" y="1158.2" font-size="32.5" fill="#1c1a1b" stroke="#1c1a1b" stroke-width="0.65">ρ=0.818</text>
<text x="812.1" y="1204.1" font-size="32.5" fill="#1c1a1b" stroke="#1c1a1b" stroke-width="0.65">MSE=14.1</text>
<text x="1784.0" y="1110.8" font-size="32.5" fill="#1c1a1b" stroke="#1c1a1b" stroke-width="0.65">R=0.829</text>
<text x="1779.2" y="1155.2" font-size="32.5" fill="#1c1a1b" stroke="#1c1a1b" stroke-width="0.65">ρ=0.877</text>
<text x="1777.5" y="1200.2" font-size="32.5" fill="#1c1a1b" stroke="#1c1a1b" stroke-width="0.65">MSE=9.73</text>
<text x="801.3" y="1855.2" font-size="32.5" fill="#1c1a1b" stroke="#1c1a1b" stroke-width="0.65">R=0.646</text>
<text x="796.0" y="1900.6" font-size="32.5" fill="#1c1a1b" stroke="#1c1a1b" stroke-width="0.65">ρ=0.683</text>
<text x="793.7" y="1947.2" font-size="32.5" fill="#1c1a1b" stroke="#1c1a1b" stroke-width="0.65">MSE=27.8</text>
<text x="1784.6" y="1852.0" font-size="32.5" fill="#1c1a1b" stroke="#1c1a1b" stroke-width="0.65">R=0.679</text>
<text x="1779.2" y="1896.3" font-size="32.5" fill="#1c1a1b" stroke="#1c1a1b" stroke-width="0.65">ρ=0.711</text>
<text x="1777.1" y="1941.8" font-size="32.5" fill="#1c1a1b" stroke="#1c1a1b" stroke-width="0.65">MSE=23.2</text>
</g></svg></div></body></html>
